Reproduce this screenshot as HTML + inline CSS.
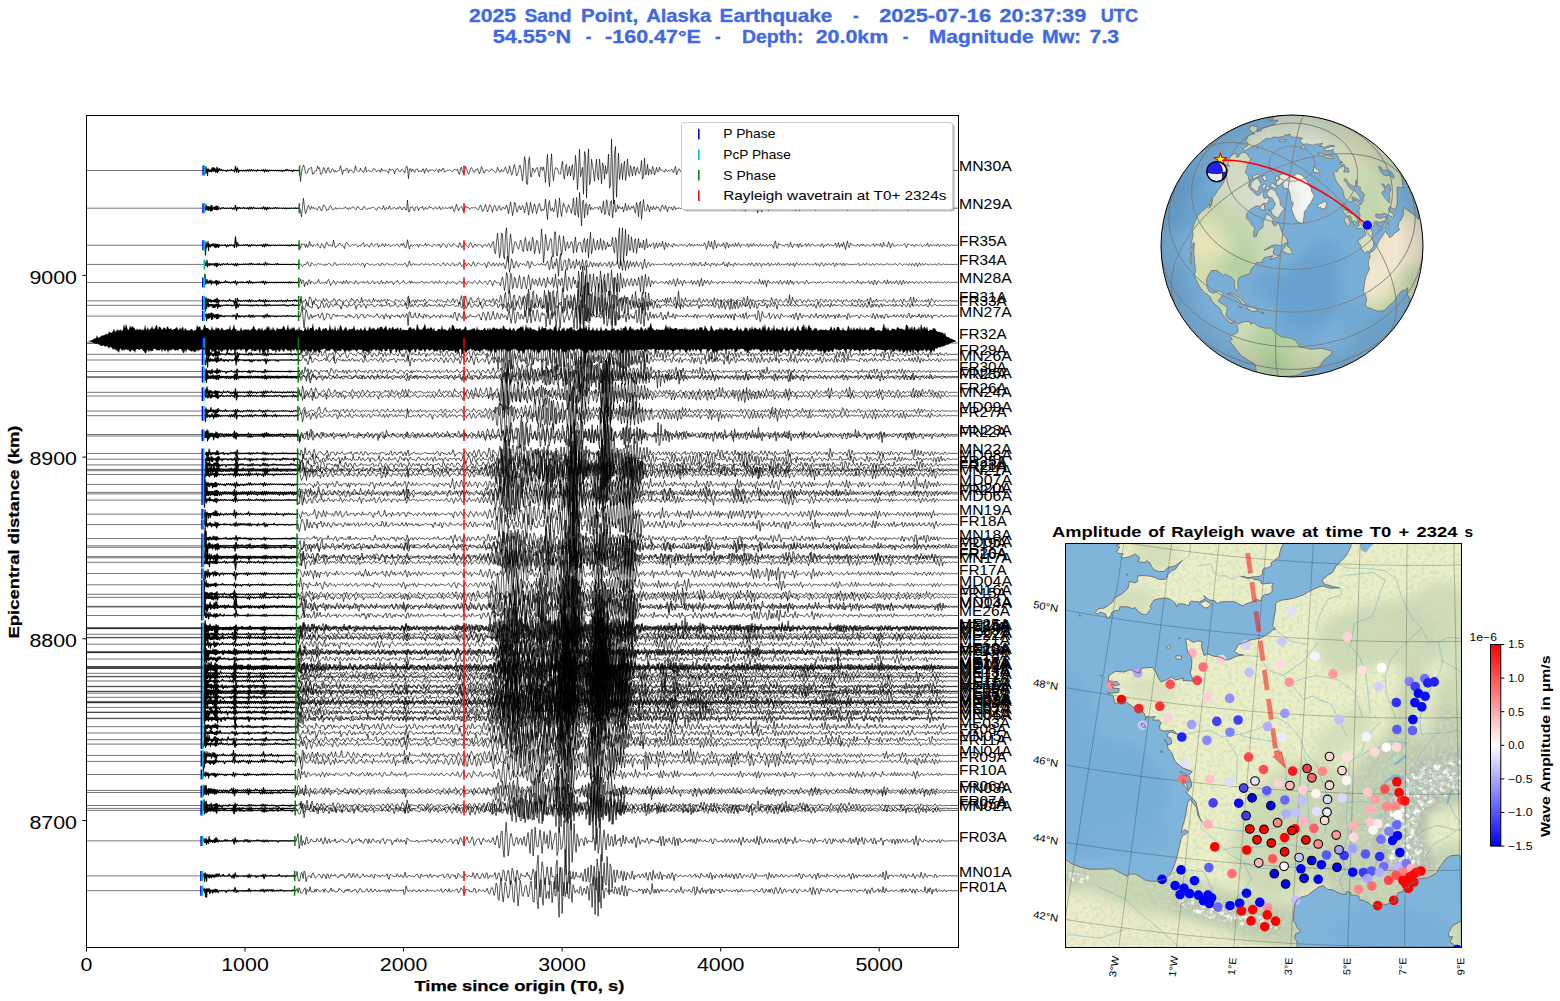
<!DOCTYPE html><html><head><meta charset="utf-8"><title>Record section</title><style>html,body{margin:0;padding:0;background:#fff}svg{display:block;font-family:"Liberation Sans",sans-serif}defs path{vector-effect:non-scaling-stroke}defs path.a{stroke-width:1.15px}</style></head><body><svg width="1560" height="1001" viewBox="0 0 1560 1001"><rect width="1560" height="1001" fill="#fff"/><g font-weight="bold" fill="#4169E1" stroke="#4169E1" stroke-width="0.3" font-size="17.7">
<text x="468.9" y="21.9" textLength="47.3" lengthAdjust="spacingAndGlyphs">2025</text>
<text x="524.5" y="21.9" textLength="47.1" lengthAdjust="spacingAndGlyphs">Sand</text>
<text x="581.1" y="21.9" textLength="57.0" lengthAdjust="spacingAndGlyphs">Point,</text>
<text x="646.2" y="21.9" textLength="65.0" lengthAdjust="spacingAndGlyphs">Alaska</text>
<text x="719.6" y="21.9" textLength="112.7" lengthAdjust="spacingAndGlyphs">Earthquake</text>
<text x="853.0" y="21.9" textLength="5.6" lengthAdjust="spacingAndGlyphs">-</text>
<text x="879.2" y="21.9" textLength="111.9" lengthAdjust="spacingAndGlyphs">2025-07-16</text>
<text x="999.6" y="21.9" textLength="86.6" lengthAdjust="spacingAndGlyphs">20:37:39</text>
<text x="1100.7" y="21.9" textLength="37.4" lengthAdjust="spacingAndGlyphs">UTC</text>
<text x="492.7" y="42.9" textLength="78.5" lengthAdjust="spacingAndGlyphs">54.55°N</text>
<text x="585.7" y="42.9" textLength="5.6" lengthAdjust="spacingAndGlyphs">-</text>
<text x="605.1" y="42.9" textLength="95.8" lengthAdjust="spacingAndGlyphs">-160.47°E</text>
<text x="714.9" y="42.9" textLength="5.6" lengthAdjust="spacingAndGlyphs">-</text>
<text x="741.9" y="42.9" textLength="61.6" lengthAdjust="spacingAndGlyphs">Depth:</text>
<text x="815.7" y="42.9" textLength="72.5" lengthAdjust="spacingAndGlyphs">20.0km</text>
<text x="902.7" y="42.9" textLength="5.7" lengthAdjust="spacingAndGlyphs">-</text>
<text x="928.8" y="42.9" textLength="104.8" lengthAdjust="spacingAndGlyphs">Magnitude</text>
<text x="1041.9" y="42.9" textLength="39.2" lengthAdjust="spacingAndGlyphs">Mw:</text>
<text x="1089.6" y="42.9" textLength="29.6" lengthAdjust="spacingAndGlyphs">7.3</text>
</g>
<defs><clipPath id="axc"><rect x="86.5" y="115.5" width="872" height="832"/></clipPath></defs>
<g clip-path="url(#axc)">
<defs><g id="w0"><path class="a" d="M118 0l.5 0 .5 10 .5-24 .5 21 .5-10 .5 22 .5-26 .5 10 .5-6 .5 7 .5-6 .5 5 .5-5 .5 7 .5-14 .5 11 .5-13 .5 14 .5-13 .5 12 .5-9 .5 13 .5-9 .5 8 .5-18 .5 21 .5-14 .5 9 1-10 1 8 1-5 1 5 1-2 1 2 1-2 1 4 1-5 1 3 1-2 1 2 1-5 1 5 1-2 1 6 1-21 1 23 1-17 1 17 1-8 1 2 1-2 1 3 1-3 1 3 1-3 1 3 1-4 1 4 1-5 1 5 1-6 1 6 1-4 1 3 1-2 1 4 1-6 1 4 1-2 1 2 1-3 1 3 1-4 1 9 1-10 1 7 1-5 1 6 1-6 1 3 1-2 1 2 1-2 1 2 1-2 1 2 1-2 1 3 1-3 1 3 1-3 1 4 1-3 1 2 1-5 1 4 1-5 1 5 1-2 1 2 1-2 1 6 1-7 1 3 1-2 1 2 1-2 1 2 1-2"/><path d="M213 -1l1 43 1-37 1-14 1-12 1 9 1 22 1 1 1-3 1-15 1 1 1-3 1-4 1 27 1-1 1-10 1-1 1 0 1-19 1 10 1-4 1 24 1 2 1-9 1-18 1 5 1 16 1-1 1-17 1-2 1 17 1 2 1-8 1-7 1 5 1 9 1-8 1 6 1-3 1-2 1-2 1-16 1 16 1 17 1-17 1 1 1 2 1-11 1 5 1 14 1-11 1 0 1 1 1 7 1 3 1-8 1-19 1 17 1 3 1 3 1-2 1-12 1 7 1 6 1 4 1-10 1-12 1 18 1-1 1-4 1 3 1 1 1 2 1-4 1-9 1 3 1 2 1 8 1-2 1-5 1 1 1 8 1-15 1 9 1-2 1-1 1 5 1-3 1 4 1 7 1-18 1 5 1 0 1-2 1 3 1 14 1-13 1-6 1-2 1 8 1 5 1 0 1-9 1 0 1 5 1 9 1-13 1-14 1 7 1 41 1-37 1-1 1 12 1-11 1 4 1 10 1-9 1-5 1 0 1 12 1-4 1-1 1 4 1-11 1 0 1 17 1-13 1-6 1 11 1 3 1-9 1 5 1-5 1 1 1 2 1 4 1-6 1-3 1 3 1 10 1-14 1 7 1 2 1-10 1-2 1 15 1-1 1-4 1-2 1 1 1-3 1 3 1 3 1 2 1-6 1-3 1 0 1 3 1-5 1 16 1 5 1-21 1-7 1 20 1 4 1-11 1-15 1 8 1 11 1 10 1-5 1-17 1-3 1 7 1 10 1 1 1-10 1 1 1-6 1 12 1 9 1-13 1-15 1 9 1 15 1 1 1-12 1 0 1 0 1 5 1 0 1-3 1-7 1 5 1 2 1 3 1 6 1-4 1-17 1 8 1 10 1 0 1-10 1 7 1 1 1-10 1-7 1 12 1 12 1-6 1-23 1 15 1 21 1-5 1-27 1-9 1 20 1 24 1-6 1-15 1-19 1 1 1 28 1 29 1-35 1-57 1 21 1 82 1 3 1-86 1-18 1 74 1 1 1-34 1 4 1 14 1-10 1-8 1-1 1 26 1 9 1-35 1-2 1 13 1-14 1 23 1 37 1-62 1-45 1 81 1 41 1-73 1-52 1 71 1 32 1-36 1-14 1 2 1 2 1 17 1 2 1 2 1-30 1-19 1 54 1 14 1-48 1-9 1 44 1-18 1-18 1 37 1-28 1-15 1 58 1-19 1-75 1 48 1 83 1-67 1-87 1 105 1-21 1-15 1 102 1-162 1 13 1 164 1-114 1-73 1 136 1-14 1-83 1 25 1 21 1 38 1-49 1-35 1 66 1 13 1-79 1 37 1 57 1-80 1 11 1 51 1-51 1 31 1-16 1-59 1 129 1-9 1-178 1 119 1 129 1-195 1-24 1 193 1-89 1-79 1 100 1-27 1-34 1 62 1-48 1-23 1 74 1-25 1-57 1 57 1 10 1-42 1 18 1 22 1-34 1-1 1 33 1-23 1-8 1 21 1 3 1-14 1-36 1 71 1-11 1-69 1 64 1-6 1-34 1 41 1-23 1 3 1 16 1-29 1 8 1 24 1-12 1-17 1 18 1-2 1-17 1 11 1 2 1-1 1 3 1 5 1-12 1 3 1 7 1-5 1 1 1 0 1-6 1 5 1 9 1-16 1-8 1 32 1-11 1-11 1-1 1 10 1-2 1-12 1 15 1 2 1-9 1 5 1-11 1 5 1 16 1-18 1 0 1 10 1-6 1 2 1-2 1 9 1-6 1-17 1 17 1-1 1-8 1 13 1-5 1-3 1 2 1 6 1-10 1 2 1 6 1-6 1 0 1 11 1-17 1-1 1 14 1 2 1 0 1-22 1 7 1 33 1-37 1 9 1 19 1-34 1 15 1 2 1 19 1-27 1-10 1 50 1-47 1 10 1 21 1-31 1 16 1 21 1-36 1 8 1 21 1-20 1 1 1 15 1-11 1-1 1 1 1-4 1 11 1 1 1-23 1 13 1 18 1-18 1-7 1 24 1-7 1-23 1 11 1 16 1-10 1-4 1 1 1 1 1-2 1 15 1-10 1-16 1 19 1-6 1-6 1 18 1-10 1-7 1 1 1 18 1-10 1-21 1 23 1 2 1-7 1-3 1 2 1 8 1-9 1-2 1 7 1 0 1-8 1 7 1 1 1-6 1-1 1 7 1-1 1-7 1 7 1 5 1-13 1 4 1 1 1 0 1 3 1 0 1-3 1 3 1 1 1-11 1 8 1 4 1-6 1 10 1-10 1-4 1 13 1-8 1-13 1 19 1 8 1-18 1-5 1 17 1-1 1-11 1 0 1 7 1 0 1-5 1 9 1-8 1-7 1 20 1-15 1 2 1 8 1-8 1 4 1-5 1 3 1 3 1-2 1-1 1-6 1 6 1 5 1-2 1-7 1 3 1 1 1 3 1-7 1 2 1 14 1-15 1 0 1 5 1-9 1 8 1 7 1-9 1-7 1 12 1 4 1-17 1 4 1 16 1-11 1-11 1 12 1 15 1-22 1-5 1 17 1-14 1 14 1 0 1-12 1 12 1-5 1-11 1 12 1 6 1-16 1 12 1 1 1-9 1 3 1 2 1-5 1 7 1-1 1-3 1-1 1 8 1-11 1 0 1 12 1-10 1 2 1 2 1 1 1-1 1-9 1 11 1 2 1-5 1-7 1 3 1 14 1-5 1-15 1 12 1 4 1-11 1 3 1 5 1-5 1 7 1-7 1-3 1 6 1 4 1-6 1-2 1 4 1-1 1 5 1-9 1-4 1 12 1 0 1-7 1 0 1 2 1 4 1 4 1-7 1-3 1 2 1 2 1 1 1-1 1-3 1 3 1-4 1 2 1 5 1-6 1 0 1 4 1-2 1 0 1 0 1 0 1 0 1 0 1 0 1 0 1 0 1 0"/></g><g id="w1"><path class="a" d="M118 0l.5 0 .5 10 .5-27 .5 23 .5-14 .5 16 .5-16 .5 18 .5-17 .5 14 .5-10 .5 16 .5-26 .5 24 .5-22 .5 20 .5-10 .5 4 .5-9 .5 12 .5-10 .5 9 .5-15 .5 17 .5-17 .5 17 .5-14 .5 11 1-6 1 6 1-6 1 3 1-4 1 5 1-3 1 2 1-2 1 2 1-2 1 2 1-3 1 6 1-5 1 5 1-17 1 24 1-15 1 6 1-6 1 5 1-2 1 2 1-5 1 5 1-2 1 2 1-3 1 7 1-10 1 8 1-7 1 8 1-8 1 5 1-2 1 2 1-2 1 2 1-2 1 2 1-3 1 5 1-10 1 12 1-9 1 12 1-12 1 7 1-6 1 5 1-3 1 3 1-4 1 3 1-4 1 4 1-3 1 3 1-2 1 1 1-1 1 2 1-2 1 2 1-3 1 5 1-4 1 2 1-2 1 2 1-2 1 1 1-1 1 3 1-4 1 3 1-2 1 2 1-4"/><path d="M213 -3l1 17 1 26 1-48 1-38 1 45 1 26 1-12 1-17 1-9 1 13 1 7 1-16 1 10 1-5 1 8 1-4 1 4 1 4 1-12 1-4 1 11 1 10 1-10 1-19 1 5 1 6 1 16 1-4 1 0 1-14 1-5 1 9 1 10 1-1 1-2 1-7 1 8 1-6 1 3 1-2 1 0 1 3 1-1 1-2 1 0 1-7 1 8 1 0 1 6 1-10 1 6 1-3 1-6 1 0 1 7 1 6 1-2 1-14 1 3 1 7 1 6 1-2 1 1 1-12 1-2 1 8 1 5 1 0 1-6 1 1 1 3 1-6 1 0 1-1 1 4 1 3 1 7 1-10 1-6 1 1 1 7 1 2 1-1 1-15 1 16 1 5 1-13 1 5 1 1 1-13 1 14 1 1 1-4 1-1 1-2 1 5 1 4 1-9 1 6 1-10 1 2 1 11 1 1 1-11 1 0 1 11 1 2 1-46 1 53 1 0 1-22 1 3 1-4 1 12 1 8 1-18 1-2 1 1 1 17 1-11 1-3 1 2 1-8 1 16 1-2 1-10 1 10 1-3 1-2 1-9 1 7 1-2 1 7 1 2 1-7 1-4 1 8 1 0 1-2 1-8 1 14 1-1 1-8 1 2 1 4 1-6 1 3 1 1 1-3 1-3 1 9 1-11 1 0 1 19 1 4 1-21 1-13 1 16 1 14 1-12 1-4 1-5 1 12 1 12 1-12 1-14 1 9 1-2 1 1 1 9 1-3 1-6 1 2 1-1 1 0 1-2 1 7 1 2 1 2 1-12 1-10 1 13 1 17 1-6 1-13 1-13 1 18 1 16 1-10 1-22 1 2 1 15 1 17 1-20 1-12 1 6 1 20 1-6 1-16 1-2 1 19 1 1 1-13 1-1 1 9 1-3 1-16 1 15 1 26 1-29 1-25 1 24 1 38 1-22 1-40 1 9 1 34 1 1 1-22 1-6 1 20 1-6 1-14 1 9 1 25 1-20 1-29 1 17 1 41 1-25 1-33 1 29 1 21 1-25 1-18 1 16 1 29 1-14 1-27 1-6 1 25 1 11 1-11 1 7 1-8 1-44 1 51 1 43 1-67 1-20 1 44 1 2 1-13 1 20 1-14 1-44 1 33 1 49 1-38 1-51 1 54 1 31 1-36 1-27 1 15 1 10 1 21 1-19 1-18 1 13 1 9 1 18 1-31 1-40 1 77 1 2 1-82 1 67 1 25 1-114 1 68 1 86 1-114 1-5 1 82 1-61 1-6 1 54 1-36 1-15 1 28 1-13 1 8 1 2 1-10 1 3 1-1 1-1 1 9 1-14 1 2 1 28 1-25 1-29 1 61 1-3 1-65 1 18 1 49 1 6 1-65 1-3 1 79 1-37 1-46 1 56 1-4 1-30 1 19 1-11 1 9 1 3 1-11 1 25 1-16 1-25 1 33 1-2 1-21 1 18 1 1 1-14 1 8 1-11 1 22 1 12 1-49 1 15 1 50 1-60 1-10 1 82 1-49 1-42 1 48 1 5 1-3 1-27 1 11 1 23 1-24 1 3 1 12 1-17 1 13 1 3 1-15 1 7 1-2 1 11 1 7 1-22 1-8 1 15 1 5 1-17 1 14 1 15 1-20 1-2 1 6 1-6 1 15 1-12 1-8 1 17 1-7 1 0 1 1 1-3 1 5 1-5 1-1 1 5 1-2 1-4 1 12 1-6 1-6 1 5 1-3 1 0 1 5 1-9 1 14 1-5 1-12 1 15 1-6 1-5 1 7 1-2 1 2 1-3 1 4 1-6 1 0 1 0 1 9 1-1 1-15 1 16 1 0 1-12 1 4 1 1 1 6 1-12 1 11 1-1 1-11 1 11 1 0 1-8 1 1 1 12 1-5 1-11 1 11 1 3 1-15 1 16 1-4 1-19 1 26 1-9 1-1 1-3 1 3 1 6 1-12 1 2 1 14 1-20 1 12 1 12 1-24 1 5 1 9 1-6 1 4 1 0 1-1 1 0 1 6 1-20 1 0 1 35 1-11 1-33 1 9 1 31 1-10 1-12 1 0 1-1 1 3 1 6 1 9 1-24 1 5 1 8 1 5 1-4 1-13 1 10 1 6 1-2 1-12 1-2 1 19 1-5 1-5 1-1 1 3 1 1 1-4 1-3 1 6 1 2 1-9 1 11 1 3 1-20 1 12 1 13 1-15 1-14 1 19 1 9 1-16 1-4 1 12 1-1 1-5 1 2 1 1 1 1 1-8 1-2 1 15 1-3 1-2 1-9 1 6 1 12 1-15 1-4 1 12 1-4 1 5 1-9 1-1 1 11 1-3 1-12 1 8 1 9 1-12 1 1 1 7 1-7 1 6 1 1 1-14 1 15 1-3 1-8 1 15 1-12 1-1 1 4 1 2 1-5 1 7 1-6 1-11 1 24 1-5 1-12 1 6 1-1 1 2 1-1 1 0 1 2 1 1 1-3 1-9 1 7 1 8 1-4 1-2 1-1 1-4 1 6 1 3 1-6 1 1 1 4 1-5 1-6 1 18 1-8 1-13 1 15 1 5 1-16 1 6 1 5 1-11 1 12 1-8 1-7 1 13 1 5 1-3 1-12 1 7 1-2 1 2 1 1 1-2 1 7 1-9 1-1 1 9 1-2 1-6 1 2 1 7 1-9 1-3 1 12 1-4 1-7 1-2 1 14 1 5 1-18 1-2 1 13 1-9 1 7 1 0 1-7 1 3 1-2 1 12 1-13 1-3 1 12 1-9 1 8 1 1 1-12 1 5 1 8 1-9 1 2 1 5 1-13 1 9 1 3 1-2 1 3 1-3 1-3 1-2 1 2 1 7 1-2 1-5 1-2 1 6 1-1 1-3 1 2 1 1 1-1 1 1 1-2 1 1 1 0 1 0 1 0 1 0 1 0 1 0"/></g><g id="w2"><path class="a" d="M118 0l.5 0 .5 43 .5-57 .5 26 .5-15 .5 7 .5-20 .5 39 .5-29 .5 10 .5-6 .5 10 .5-10 .5 4 .5-6 .5 6 .5-9 .5 10 .5-5 .5 10 .5-14 .5 16 .5-14 .5 13 .5-13 .5 11 .5-12 .5 15 1-12 1 4 1-3 1 2 1-2 1 2 1-4 1 11 1-9 1 5 1-6 1 4 1-4 1 4 1-3 1 11 1-47 1 45 1-19 1 14 1-4 1 2 1-2 1 2 1-3 1 3 1-3 1 3 1-4 1 8 1-7 1 7 1-8 1 4 1-2 1 2 1-2 1 3 1-3 1 2 1-2 1 2 1-3 1 8 1-10 1 11 1-13 1 9 1-7 1 6 1-3 1 4 1-4 1 1 1-1 1 3 1-3 1 2 1-2 1 2 1-2 1 2 1-2 1 2 1-2 1 2 1-2 1 3 1-3 1 3 1-3 1 4 1-6 1 4 1-2 1 3 1-4 1 3 1-2 1 3 1-4"/><path d="M213 -2l1 17 1-21 1 1 1 1 1-1 1 15 1-15 1 15 1-6 1-21 1 19 1-4 1 9 1-8 1-1 1 5 1-4 1-6 1 11 1 4 1 3 1-17 1 3 1 7 1 10 1-14 1-14 1 6 1 11 1-1 1-5 1 7 1 2 1-29 1 24 1 10 1-7 1-2 1-2 1-10 1 6 1 7 1-3 1 5 1 10 1-21 1-7 1 5 1 8 1 4 1 1 1-4 1-4 1 3 1-1 1-4 1 7 1 5 1-2 1-6 1 6 1-9 1-1 1-6 1 18 1-6 1-2 1-2 1 9 1 3 1-11 1-8 1 9 1 6 1-4 1-6 1 0 1-1 1 15 1-9 1 4 1-1 1-11 1 10 1 5 1-14 1 8 1 1 1-5 1 1 1 8 1-3 1-3 1-3 1 5 1-2 1-3 1-3 1 9 1 4 1-8 1-7 1 11 1-12 1 12 1 10 1-11 1-26 1 24 1 17 1-18 1-1 1 8 1-4 1-5 1 4 1-3 1-1 1 12 1-12 1-1 1 6 1-1 1 3 1-4 1-9 1 13 1-5 1-4 1 6 1 1 1 2 1 2 1-8 1-3 1 5 1 3 1-6 1 3 1-5 1 15 1-4 1-12 1-1 1 4 1 9 1 5 1-14 1-5 1 4 1 9 1-1 1-1 1-11 1 4 1 4 1 2 1 6 1 1 1-21 1 4 1 18 1-2 1-11 1-3 1 0 1 7 1 5 1 4 1-14 1-8 1 7 1 15 1-2 1-12 1-1 1 10 1-7 1 1 1-2 1 1 1 2 1 10 1-8 1-3 1-1 1 7 1-3 1-10 1 4 1 14 1-8 1-15 1-4 1 45 1 10 1-51 1-40 1 47 1 62 1-21 1-89 1 6 1 97 1 12 1-108 1-30 1 99 1 55 1-79 1-48 1 35 1 51 1-18 1-32 1-2 1 10 1 15 1 9 1-16 1-25 1 6 1 41 1 5 1-46 1-17 1 45 1 15 1-38 1-5 1 42 1-13 1-48 1 20 1 54 1-21 1-39 1 4 1 28 1 27 1-32 1-77 1 47 1 103 1-45 1-81 1 31 1 41 1-10 1-26 1-18 1 6 1 76 1-1 1-109 1-1 1 105 1 1 1-69 1-21 1 42 1 45 1-28 1-57 1 32 1 33 1-28 1-11 1 28 1-2 1-18 1-10 1 16 1 36 1-48 1-23 1 67 1-23 1-18 1-2 1 0 1 26 1 18 1-50 1-13 1 62 1-40 1-19 1 84 1-66 1-47 1 94 1-20 1-46 1 31 1 20 1-25 1-19 1 42 1-6 1-44 1 34 1 18 1-42 1 7 1 32 1-10 1-22 1 20 1-10 1 10 1-8 1-34 1 51 1 19 1-69 1 13 1 101 1-108 1-49 1 168 1-100 1-68 1 146 1-57 1-82 1 118 1-29 1-66 1 70 1-1 1-59 1 42 1 27 1-52 1-9 1 65 1-32 1-34 1 42 1-23 1 21 1-1 1-32 1 44 1-16 1-33 1 40 1-7 1-9 1 11 1-10 1-3 1-4 1 25 1-15 1-10 1 21 1-8 1-13 1 15 1-1 1-22 1 23 1 14 1-31 1 11 1 10 1-17 1 6 1 4 1-1 1 8 1-16 1 1 1 9 1-5 1 7 1-2 1-5 1 1 1-3 1 7 1-3 1-4 1 3 1 6 1 0 1-9 1-3 1 12 1-10 1 6 1 4 1-9 1 5 1-1 1-5 1 8 1-4 1 5 1-7 1 5 1-1 1-12 1 7 1 22 1-12 1-25 1 21 1 6 1-24 1 29 1 5 1-40 1 14 1 20 1-14 1-5 1 10 1 3 1-9 1 7 1-15 1 12 1 14 1-28 1 3 1 21 1-14 1 3 1 5 1-11 1 8 1 4 1-16 1 14 1 0 1-15 1 11 1 9 1-11 1 0 1 1 1 0 1 4 1-3 1-7 1 16 1-6 1-10 1 11 1 0 1-12 1 9 1 2 1-7 1 5 1 5 1-6 1-7 1 10 1-1 1-5 1 7 1-3 1-4 1 8 1-5 1-3 1 5 1-5 1 5 1 12 1-23 1-10 1 31 1 2 1-22 1 6 1-2 1 2 1 5 1-2 1 4 1-8 1 0 1-2 1 14 1-4 1-19 1 17 1 8 1-13 1-2 1 3 1 3 1-8 1 17 1-16 1-1 1 14 1-7 1 1 1-5 1-4 1 14 1-8 1-7 1 11 1 2 1-9 1-2 1 6 1 2 1 1 1-3 1 0 1-2 1 2 1 6 1-12 1 0 1 16 1-9 1-3 1 5 1-9 1 2 1 7 1-4 1-1 1 5 1 0 1-6 1-7 1 19 1-7 1-13 1 21 1-11 1-5 1 14 1-21 1 15 1 17 1-22 1-16 1 27 1 3 1-21 1 5 1 7 1-2 1 0 1 3 1 0 1-7 1 1 1 9 1-5 1-6 1 9 1-9 1 6 1 4 1-7 1 1 1 1 1 2 1 2 1-4 1-1 1-6 1 12 1-2 1-9 1 6 1-1 1 4 1-11 1 15 1 1 1-20 1 14 1-3 1 6 1 1 1-21 1 11 1 17 1-16 1-6 1 13 1 0 1-1 1-1 1-6 1 4 1 3 1-4 1 3 1-2 1-4 1-3 1 10 1 8 1-15 1-1 1 2 1 3 1 2 1-6 1 7 1 4 1-10 1 1 1 0 1 5 1-4 1-3 1 4 1 7 1-5 1-5 1 5 1-1 1-11 1 15 1 0 1-9 1 5 1 1 1-3 1 1 1 0 1 4 1-10 1 7 1 5 1-9 1 4 1-1 1-5 1 7 1 4 1-7 1-3 1 5 1 0 1-1 1-1 1 1 1 0 1 0 1 0 1 0 1 0 1 0"/></g><g id="w3"><path class="a" d="M118 0l.5-19 .5 27 .5-14 .5 12 .5-34 .5 44 .5-20 .5 7 .5-8 .5 11 .5-11 .5 9 .5-6 .5 5 .5-7 .5 6 .5-6 .5 5 .5-4 .5 13 .5-15 .5 10 .5-14 .5 24 .5-21 .5 17 .5-16 .5 9 1-7 1 10 1-10 1 5 1-8 1 8 1-4 1 3 1-7 1 8 1-3 1 2 1-4 1 4 1-3 1 10 1-14 1 17 1-17 1 9 1-4 1 2 1-2 1 2 1-4 1 4 1-4 1 4 1-3 1 4 1-9 1 9 1-10 1 10 1-5 1 4 1-2 1 2 1-5 1 6 1-6 1 5 1-2 1 3 1-6 1 9 1-20 1 19 1-9 1 6 1-3 1 3 1-2 1 2 1-2 1 2 1-4 1 4 1-7 1 7 1-2 1 2 1-2 1 2 1-2 1 2 1-2 1 2 1-2 1 2 1-2 1 3 1-3 1 2 1-3 1 3 1-2 1 3 1-3 1 1 1-3"/><path d="M213 -3l1 0 1 7 1 11 1-8 1-10 1 8 1-14 1-9 1 18 1 12 1-1 1-22 1 5 1 7 1 6 1-5 1 0 1-5 1-3 1 5 1 0 1-2 1 5 1 1 1 5 1-12 1 10 1-7 1-6 1 2 1 7 1 3 1 6 1-8 1-17 1 6 1 14 1-2 1-1 1-4 1 2 1-5 1 7 1-8 1 6 1-1 1-5 1 4 1 5 1-9 1 5 1 7 1-3 1-9 1 6 1-4 1 5 1-6 1-1 1 7 1 4 1-5 1-11 1 6 1 24 1-22 1-3 1-1 1 3 1 5 1 1 1-2 1-3 1 6 1 2 1-4 1-2 1-6 1 6 1 2 1 8 1-16 1-3 1 12 1 2 1-3 1-6 1-3 1 9 1-3 1 5 1-4 1 4 1 2 1-8 1-8 1 9 1 6 1-5 1-1 1 3 1-3 1 5 1-3 1-8 1 1 1 17 1 6 1-22 1-19 1 29 1 3 1-10 1-6 1 12 1-5 1 0 1 3 1 3 1-3 1 0 1-9 1 5 1 5 1 1 1-9 1 6 1-3 1-2 1 10 1-2 1-4 1-5 1-1 1 12 1-1 1-2 1-9 1 0 1 7 1 9 1-6 1-6 1-10 1 14 1 7 1-13 1-5 1 11 1 5 1 0 1-11 1-6 1 3 1 17 1-7 1-5 1 10 1-8 1-15 1 13 1 14 1 1 1-12 1-7 1-1 1 17 1-11 1-8 1 8 1 12 1-1 1-16 1-13 1 23 1 9 1-5 1-17 1 0 1 5 1 4 1 5 1-2 1-7 1-5 1 13 1 19 1-27 1-13 1 13 1 4 1 10 1-12 1-10 1 24 1-12 1-8 1 14 1 6 1-22 1 6 1 11 1-13 1-4 1 27 1 12 1-40 1-45 1 52 1 57 1-35 1-56 1 18 1 44 1 0 1-36 1-10 1 26 1 15 1-19 1-9 1 5 1 7 1-9 1 9 1 6 1-2 1-30 1 8 1 41 1-10 1-35 1 7 1 17 1 3 1-2 1-5 1-7 1 7 1 2 1-2 1-10 1 14 1-5 1-2 1 11 1-14 1-16 1 28 1 29 1-43 1-44 1 76 1 3 1-41 1 22 1-48 1 34 1 84 1-107 1-43 1 113 1-3 1-46 1-19 1-1 1 63 1 0 1-75 1 6 1 58 1-2 1-38 1-7 1 51 1-13 1-50 1 39 1-6 1-20 1 55 1-28 1-40 1 41 1 31 1-55 1-11 1 38 1 8 1-14 1-22 1 16 1 20 1-29 1 3 1 20 1-18 1 1 1 23 1-26 1-4 1 21 1 2 1-13 1-8 1 1 1 19 1 2 1-26 1-3 1 38 1-11 1-28 1 24 1 1 1-8 1 0 1-24 1 39 1 15 1-60 1 28 1 42 1-73 1 17 1 58 1-51 1-16 1 53 1-26 1-21 1 33 1-15 1-14 1 33 1-12 1-25 1 21 1 13 1-14 1-13 1 5 1 41 1-27 1-41 1 41 1 16 1-29 1-8 1 15 1 13 1-16 1-4 1 12 1-1 1-6 1 3 1 0 1-3 1 2 1 3 1-2 1-1 1-1 1-7 1 12 1-1 1-5 1 5 1 3 1-15 1 1 1 21 1-10 1-3 1-6 1 11 1-6 1-9 1 20 1-8 1-12 1 11 1-1 1 5 1-3 1-4 1 4 1 1 1-9 1-3 1 21 1-9 1-16 1 21 1-14 1 1 1 15 1-2 1-17 1-7 1 25 1-4 1-4 1 10 1-27 1 16 1 3 1-9 1 9 1 11 1-21 1-1 1 13 1-12 1 6 1 12 1-17 1 5 1 7 1-8 1 2 1-1 1-16 1 26 1 1 1-15 1 22 1-33 1 8 1 15 1-10 1 10 1 6 1-21 1-2 1 16 1-6 1-4 1 1 1 8 1-7 1 8 1-10 1 1 1 4 1 2 1 5 1-14 1 1 1 13 1-18 1 4 1 14 1 3 1-14 1-8 1 20 1-8 1-11 1 9 1 15 1-15 1-7 1 13 1-3 1 3 1-13 1-2 1 22 1-10 1-9 1 12 1-3 1-2 1-6 1 12 1-2 1-16 1 14 1 6 1-10 1 0 1 4 1-1 1-2 1 5 1-13 1 7 1 12 1-16 1 7 1 4 1-14 1 24 1-10 1-17 1 7 1 9 1 0 1-10 1 7 1 5 1-8 1-2 1 9 1-1 1-13 1 8 1 5 1-3 1-4 1 5 1 2 1-7 1-7 1 17 1-12 1 3 1 15 1-16 1-9 1 10 1 12 1-4 1-14 1 9 1 3 1-8 1-1 1 11 1-3 1-9 1-3 1 24 1-6 1-19 1 14 1-6 1-1 1-4 1 12 1 1 1-16 1 17 1-1 1-12 1 4 1 4 1-3 1 3 1-2 1 0 1 0 1 2 1-4 1 2 1-3 1-5 1 15 1-3 1-1 1-3 1-6 1 10 1 0 1-12 1 5 1 6 1-6 1 9 1-1 1-11 1 4 1 10 1-9 1-4 1 2 1 3 1 4 1-8 1 2 1 8 1-6 1 2 1-1 1-5 1 1 1 5 1-5 1 4 1 4 1-6 1 1 1-2 1-3 1 8 1 4 1-6 1-8 1 4 1 6 1 4 1-9 1-1 1 5 1-5 1 2 1 9 1-13 1 2 1 11 1-15 1 6 1 11 1-16 1-1 1 22 1-15 1-12 1 19 1-5 1-8 1 11 1-4 1-5 1 3 1-2 1 9 1-5 1-5 1 5 1 2 1-2 1-3 1-1 1 9 1-4 1-10 1 4 1 9 1-2 1-4 1-2 1 3 1 2 1-4 1 2 1 1 1-1 1 0 1 0 1 1 1-1 1 0 1 0 1 0 1 0 1 0"/></g><g id="w4"><path class="a" d="M118 0l.5-42 .5 51 .5-15 .5 10 .5-19 .5 18 .5-6 .5 7 .5-11 .5 9 .5-14 .5 15 .5-10 .5 17 .5-18 .5 10 .5-3 .5 3 .5-6 .5 7 .5-8 .5 9 .5-14 .5 24 .5-22 .5 14 .5-13 .5 15 1-12 1 8 1-5 1 2 1-2 1 2 1-9 1 9 1-4 1 4 1-2 1 5 1-5 1 2 1-5 1 7 1-11 1 20 1-15 1 5 1-3 1 2 1-4 1 4 1-2 1 2 1-2 1 2 1-6 1 11 1-15 1 12 1-6 1 7 1-5 1 4 1-4 1 2 1-3 1 3 1-2 1 2 1-6 1 7 1-9 1 17 1-15 1 9 1-5 1 3 1-4 1 4 1-3 1 2 1-2 1 2 1-1 1 1 1-2 1 2 1-2 1 2 1-2 1 2 1-2 1 2 1-2 1 2 1-2 1 4 1-7 1 7 1-4 1 2 1-2 1 2 1-2 1 2 1-2 1 5 1-5"/><path d="M213 -1l1-15 1 24 1-19 1 2 1 31 1-20 1-4 1 15 1-24 1-2 1 21 1-13 1 2 1 5 1 7 1-8 1 3 1-6 1-13 1 16 1 6 1-8 1 3 1 0 1 2 1-7 1 10 1-14 1-8 1 11 1 20 1-9 1-3 1-14 1 5 1 15 1-5 1-9 1 2 1 4 1-5 1 1 1 10 1-16 1 10 1 3 1-16 1 11 1 8 1-12 1 2 1 0 1 4 1 2 1 4 1-17 1 4 1 10 1 3 1-8 1-2 1 1 1 3 1-7 1 9 1-1 1-5 1-6 1 13 1 0 1-1 1-3 1-9 1 5 1 11 1-8 1-1 1-4 1 9 1 5 1-13 1-6 1 16 1-8 1 5 1 5 1-15 1 2 1 10 1-8 1 3 1-7 1 9 1 9 1-10 1-4 1 0 1-7 1 12 1 5 1-2 1-4 1-2 1-9 1 10 1 4 1 2 1-4 1-5 1-4 1 12 1-13 1 11 1-2 1-3 1 5 1 1 1-6 1 7 1-5 1 0 1-5 1 0 1 7 1 3 1-9 1 5 1-2 1 4 1-1 1-3 1-5 1 1 1 10 1 0 1-11 1 7 1 1 1 3 1-14 1 7 1 5 1-3 1-4 1 4 1 7 1 2 1-16 1 4 1 5 1 3 1-7 1-2 1 3 1 0 1 3 1 8 1-8 1-5 1-2 1 0 1 9 1 0 1-12 1 3 1 11 1 5 1-14 1-2 1 4 1 1 1 2 1 4 1-9 1-6 1 6 1 8 1 3 1-4 1-14 1 6 1 7 1 4 1-5 1-7 1-2 1 9 1 9 1-9 1-13 1 2 1 9 1 18 1-15 1-13 1 3 1 10 1 0 1-4 1 6 1 12 1-28 1-16 1 27 1 42 1-29 1-62 1 15 1 89 1-8 1-93 1 8 1 70 1-13 1-45 1 9 1 41 1 3 1-38 1-24 1 37 1 31 1-19 1-41 1 3 1 43 1 13 1-37 1-33 1 24 1 51 1-31 1-25 1 25 1 6 1-27 1 5 1 27 1-10 1-30 1 23 1 19 1-14 1-26 1 4 1 43 1-10 1-42 1 29 1-4 1 13 1-11 1-25 1 49 1-17 1-50 1 53 1 23 1-51 1 10 1 23 1-38 1 10 1 59 1-54 1-56 1 91 1 13 1-68 1 6 1 36 1 15 1-39 1-19 1 36 1-19 1 36 1 2 1-83 1 33 1 93 1-37 1-114 1 40 1 137 1-83 1-97 1 101 1 47 1-103 1 0 1 86 1-40 1-50 1 55 1 20 1-59 1 1 1 73 1-33 1-71 1 57 1 53 1-70 1-24 1 65 1 24 1-93 1 1 1 111 1-44 1-85 1 60 1 52 1-70 1-4 1 71 1-92 1 47 1 45 1-93 1 45 1 30 1-48 1 19 1 22 1-31 1-9 1 26 1 8 1-26 1-10 1 37 1-1 1-34 1 10 1 23 1-2 1-39 1 20 1 53 1-79 1 2 1 85 1-56 1-39 1 61 1-11 1-38 1 28 1 23 1-31 1 1 1 15 1-11 1-5 1 7 1 6 1-1 1-3 1-3 1-3 1 7 1-3 1 6 1-2 1-10 1 10 1 7 1-20 1 3 1 17 1-5 1-21 1 13 1 23 1-20 1-20 1 27 1 0 1-16 1 7 1 18 1-20 1-8 1 17 1-3 1-3 1 0 1 3 1-1 1-11 1 21 1-13 1-6 1 16 1 0 1-19 1 4 1 27 1-27 1-13 1 38 1-10 1-20 1 16 1-1 1-14 1 9 1 13 1-6 1-14 1 10 1 0 1 0 1-5 1 5 1 7 1-10 1 1 1-5 1 6 1 5 1-11 1 9 1 0 1-5 1 2 1-2 1 1 1 3 1-3 1 0 1 6 1-2 1-12 1 12 1 2 1-11 1 6 1 9 1-13 1-1 1 3 1 4 1-2 1 3 1-6 1 5 1 6 1-13 1-1 1 5 1 5 1 2 1-10 1 2 1 6 1 3 1-23 1 17 1 8 1-18 1 19 1-21 1 4 1 29 1-30 1-3 1 15 1-4 1 4 1 0 1-9 1 7 1 1 1-6 1-2 1 14 1-14 1-6 1 16 1 4 1-13 1-4 1 12 1 3 1-18 1 22 1-9 1-14 1 16 1-9 1 16 1-10 1-4 1 0 1-1 1 11 1-3 1-6 1 0 1 0 1 0 1 10 1-7 1-12 1 7 1 12 1-7 1-2 1 3 1-5 1 1 1 3 1-3 1 7 1-5 1 0 1 1 1-6 1 4 1 7 1-6 1-3 1 5 1-1 1-5 1 3 1 0 1 1 1 1 1 2 1-4 1-5 1 8 1 4 1-10 1 1 1 5 1-2 1 1 1 3 1-12 1 4 1 9 1 1 1-6 1-1 1 2 1 3 1-8 1-3 1 8 1 2 1 1 1-1 1-14 1 12 1 1 1-5 1 12 1-13 1 1 1 7 1-6 1 5 1-6 1-6 1 15 1 0 1-13 1 11 1 8 1-24 1 7 1 17 1-15 1-6 1 7 1 5 1-2 1 3 1-4 1-10 1 15 1 3 1-21 1 20 1-7 1-7 1 13 1-6 1-3 1 10 1-9 1-7 1 14 1 6 1-16 1-4 1 22 1-12 1-12 1 18 1-7 1-6 1 11 1 0 1-11 1 6 1 2 1-6 1 7 1 1 1-6 1-2 1 2 1 8 1-7 1-3 1 4 1 0 1 5 1-5 1-6 1 8 1 2 1-4 1-6 1 11 1-5 1-2 1 4 1-3 1 0 1 5 1-7 1 1 1 4 1-3 1-1 1 5 1-2 1-4 1 2 1 4 1-3 1-3 1 3 1 1 1-1 1 0 1-1 1 1 1 0 1 0 1 0 1 0"/></g><g id="w5"><path class="a" d="M118 0l.5-7 .5 43 .5-49 .5 16 .5-6 .5 8 .5-13 .5 10 .5-5 .5 5 .5-8 .5 10 .5-7 .5 7 .5-6 .5 4 .5-4 .5 5 .5-6 .5 7 .5-10 .5 10 .5-9 .5 11 .5-16 .5 15 .5-11 .5 13 1-9 1 3 1-2 1 2 1-4 1 4 1-2 1 3 1-3 1 2 1-7 1 7 1-2 1 2 1-2 1 13 1-20 1 27 1-28 1 10 1-2 1 3 1-3 1 2 1-2 1 2 1-4 1 5 1-4 1 5 1-8 1 9 1-7 1 4 1-2 1 3 1-3 1 3 1-3 1 2 1-6 1 8 1-5 1 4 1-5 1 10 1-12 1 8 1-5 1 5 1-4 1 3 1-3 1 2 1-2 1 2 1-2 1 4 1-4 1 2 1-2 1 2 1-4 1 6 1-4 1 2 1-2 1 4 1-8 1 6 1-2 1 2 1-2 1 2 1-4 1 4 1-5 1 6 1-4 1 3 1-1"/><path d="M213 0l1-7 1 12 1 3 1-9 1 2 1-7 1 11 1 14 1-9 1-24 1 1 1 12 1 15 1-15 1 6 1-13 1 3 1 7 1-2 1-3 1 2 1 5 1-2 1-11 1 11 1-1 1-9 1 6 1 8 1-1 1 0 1-5 1 3 1-10 1-1 1 9 1 10 1-12 1-1 1-5 1 8 1-1 1 3 1-3 1 3 1-4 1-4 1 7 1 4 1-3 1 0 1-13 1 7 1-1 1 10 1 1 1-12 1 0 1 8 1 2 1 1 1-18 1 18 1-6 1-4 1 0 1 5 1 3 1-8 1 0 1 9 1 2 1-4 1-13 1 12 1-5 1 1 1 6 1-8 1 8 1 1 1-10 1 6 1-2 1-5 1 9 1 7 1-17 1 6 1-2 1 2 1 2 1 3 1 0 1-1 1-8 1 3 1-1 1 4 1-2 1 6 1-4 1-6 1 4 1 2 1 6 1 10 1-25 1-10 1 23 1 3 1-8 1-2 1-1 1 9 1-8 1 8 1-11 1 4 1-1 1 6 1-7 1 2 1 3 1-9 1 5 1 11 1-6 1-3 1-6 1 4 1 0 1 2 1 2 1-4 1 3 1 5 1-12 1 2 1 4 1 2 1-6 1 3 1 6 1-3 1 1 1 4 1-13 1 4 1 5 1 3 1-2 1-11 1 0 1 15 1-10 1-3 1 2 1 14 1 0 1-19 1-11 1 25 1 11 1-16 1-19 1 12 1 19 1 1 1-13 1-14 1 3 1 16 1 0 1-5 1 1 1 2 1-14 1-3 1 16 1 12 1-14 1-3 1-6 1 9 1 5 1-9 1 2 1 3 1-7 1 11 1-1 1-12 1-1 1 19 1-7 1-11 1 6 1 7 1-5 1-21 1 7 1 43 1-6 1-42 1-13 1 42 1 26 1-36 1-39 1 24 1 38 1-4 1-39 1-3 1 35 1 6 1-15 1-7 1-15 1 10 1 20 1 2 1-16 1-17 1 12 1 40 1-28 1-47 1 22 1 59 1-3 1-64 1-8 1 64 1-7 1-44 1 19 1 23 1-22 1-10 1 7 1 34 1-22 1-44 1 30 1 49 1-30 1-49 1 23 1 49 1-14 1-52 1-5 1 68 1 21 1-76 1-16 1 53 1-3 1 6 1-9 1-52 1 32 1 50 1-22 1-34 1-1 1 34 1 11 1-46 1 9 1 43 1-38 1-16 1 21 1 33 1-27 1-75 1 110 1 46 1-188 1 83 1 137 1-163 1-46 1 165 1-20 1-119 1 50 1 69 1-76 1-7 1 83 1-63 1-40 1 109 1-53 1-68 1 99 1-6 1-107 1 114 1 24 1-135 1 51 1 77 1-47 1-43 1 34 1 27 1-32 1-16 1 28 1 21 1-47 1 5 1 34 1-21 1-4 1 10 1-17 1 28 1-8 1-26 1 25 1 3 1-23 1 11 1 15 1 1 1-22 1-14 1 45 1-6 1-50 1 34 1 22 1-30 1 1 1 29 1-32 1-21 1 65 1-23 1-43 1 52 1-2 1-46 1 25 1 18 1-21 1 3 1 5 1-2 1 6 1-9 1-4 1 11 1 0 1-6 1 6 1-10 1 6 1 5 1-14 1 19 1-21 1 17 1-2 1-17 1 17 1 4 1-3 1-16 1-3 1 38 1-16 1-43 1 37 1 28 1-39 1 4 1 15 1-11 1-10 1 13 1 2 1-7 1 1 1 0 1 7 1-2 1-8 1 10 1-6 1-1 1 9 1-14 1-4 1 17 1 2 1-9 1-5 1 9 1-1 1-8 1 1 1 13 1-3 1-9 1 1 1 12 1-12 1-8 1 21 1-5 1-12 1 10 1-2 1-5 1 8 1-2 1-6 1 0 1 2 1 9 1-9 1-3 1 8 1-2 1-2 1-1 1-2 1 9 1 5 1-13 1-3 1 5 1 0 1 0 1 1 1 7 1-19 1 3 1 30 1-17 1-21 1 29 1-9 1-10 1 11 1-7 1-1 1 7 1-3 1 0 1 4 1-7 1 2 1 0 1 0 1 9 1-14 1 7 1-1 1-4 1 7 1-4 1 3 1 3 1-17 1 9 1 13 1-6 1-10 1-1 1 10 1 4 1-10 1-2 1 6 1 3 1-1 1 0 1-8 1-2 1 14 1 1 1-30 1 36 1-6 1-22 1 13 1 1 1 10 1-14 1 7 1-5 1-3 1 0 1 7 1 6 1-9 1-1 1 3 1 5 1-10 1-2 1 8 1 0 1-4 1 2 1 1 1 2 1-6 1-4 1 4 1 12 1-2 1-13 1 0 1 4 1 6 1 1 1-11 1 6 1 4 1-2 1-6 1 0 1 8 1-2 1-4 1-2 1 7 1 3 1-11 1 1 1 6 1-2 1-3 1 13 1-11 1-1 1 3 1-7 1 7 1 4 1-5 1 1 1 0 1-6 1 3 1 6 1-8 1 6 1 5 1-13 1 0 1 12 1-9 1 2 1 5 1-2 1-2 1-1 1-7 1 19 1-8 1-15 1 13 1 7 1-11 1 7 1-3 1-8 1 12 1-4 1-4 1 4 1-2 1 2 1-5 1 1 1 1 1 7 1 0 1-6 1-1 1 2 1 1 1 2 1-11 1 8 1 6 1-6 1-1 1 2 1 1 1-7 1 3 1 12 1-15 1 0 1 8 1 0 1-2 1-1 1 1 1-15 1 17 1 14 1-31 1 15 1 6 1-13 1 6 1 2 1-3 1 4 1-5 1 1 1 5 1-3 1-5 1 9 1-6 1-6 1 18 1-5 1-15 1 5 1 4 1 6 1-8 1 0 1 4 1-2 1-2 1 2 1 1 1 1 1-2 1 0 1 0 1-2 1 2 1 2 1-3 1 0 1 2 1-1 1 0 1 0 1 0 1 0 1 0 1 0"/></g><g id="w6"><path class="a" d="M118 0l.5-6 .5 11 .5-10 .5 27 .5-39 .5 22 .5-15 .5 12 .5-7 .5 8 .5-5 .5 5 .5-4 .5 3 .5-4 .5 4 .5-15 .5 18 .5-8 .5 5 .5-6 .5 10 .5-11 .5 13 .5-13 .5 9 .5-11 .5 15 1-10 1 3 1-2 1 2 1-4 1 4 1-2 1 5 1-6 1 5 1-4 1 5 1-5 1 2 1-8 1 16 1-20 1 20 1-11 1 4 1-3 1 2 1-2 1 2 1-2 1 3 1-3 1 2 1-5 1 6 1-6 1 7 1-7 1 5 1-2 1 2 1-2 1 2 1-2 1 2 1-2 1 2 1-2 1 4 1-8 1 10 1-7 1 9 1-8 1 3 1-3 1 5 1-6 1 3 1-2 1 3 1-3 1 2 1-2 1 5 1-5 1 2 1-2 1 2 1-6 1 6 1-2 1 2 1-2 1 2 1-3 1 3 1-1 1 1 1-2 1 2 1-2 1 4 1-4 1 2"/><path d="M212 1l1-20 1 31 1-1 1-12 1-10 1 2 1 11 1 15 1-31 1 6 1 22 1 11 1-31 1-9 1 16 1-7 1 5 1 12 1-11 1-1 1-6 1-2 1 11 1 11 1-12 1-4 1-3 1 11 1-7 1-1 1 4 1 5 1 1 1-10 1-6 1 9 1-3 1 6 1-1 1-2 1 0 1 4 1-9 1 10 1 2 1-7 1-7 1 2 1 4 1 3 1 2 1-1 1 2 1 0 1-11 1 5 1-2 1-5 1 8 1 6 1-7 1 7 1-8 1-3 1-3 1 13 1 1 1-6 1-4 1 0 1 9 1 1 1-9 1-5 1 6 1 7 1 2 1-3 1-20 1 17 1 5 1-2 1-2 1-9 1 2 1 9 1-8 1 5 1 4 1-2 1-5 1-2 1 6 1 8 1-9 1 0 1-4 1 0 1-2 1 6 1-4 1 10 1-5 1-8 1-4 1 7 1 13 1 5 1-20 1 2 1-4 1 7 1 1 1 2 1-9 1 12 1-14 1 6 1 10 1-8 1-6 1 8 1-1 1-3 1 0 1 1 1 0 1 9 1-6 1-7 1 5 1 3 1-9 1 6 1 0 1 6 1-2 1-9 1-1 1 3 1 7 1 1 1-8 1 1 1-2 1 10 1-5 1-1 1-1 1 9 1-14 1 2 1 4 1-5 1 6 1 9 1-10 1 0 1-3 1-1 1 0 1 9 1-1 1-7 1-3 1 17 1-5 1-12 1-1 1 10 1 1 1-9 1-3 1 17 1-3 1-6 1-9 1 5 1 8 1-1 1-8 1 4 1 5 1 3 1-12 1-5 1 5 1 10 1-2 1 0 1-6 1 8 1-5 1-8 1 8 1 4 1-8 1 5 1-1 1 6 1-6 1-17 1 14 1 25 1-24 1-21 1 26 1 22 1-20 1-28 1 5 1 39 1 1 1-30 1-1 1 7 1-10 1 17 1 22 1-20 1-49 1 16 1 76 1-14 1-68 1-1 1 39 1 24 1-36 1-17 1 31 1 2 1-18 1-2 1 14 1 14 1-25 1-9 1 20 1 9 1-12 1-13 1 0 1 37 1-7 1-52 1 22 1 48 1-21 1-50 1 16 1 48 1-28 1-10 1 7 1-5 1 18 1-3 1-23 1 17 1 8 1-6 1-14 1 10 1 16 1-25 1-23 1 64 1-3 1-67 1 33 1 42 1-64 1 5 1 80 1-62 1-69 1 123 1-8 1-134 1 110 1 61 1-127 1 29 1 36 1-23 1 22 1-23 1-11 1 44 1-35 1-15 1 64 1-45 1-20 1 46 1-23 1-6 1 17 1-25 1 20 1 19 1-56 1 24 1 82 1-119 1-33 1 214 1-161 1-61 1 152 1-51 1-32 1 4 1 18 1 11 1-21 1 0 1 3 1 9 1 3 1-24 1 17 1 28 1-61 1 21 1 43 1-51 1 10 1 35 1-51 1 25 1 6 1-9 1 27 1-52 1 11 1 48 1-49 1 0 1 43 1-27 1-13 1 22 1-15 1 21 1-8 1-22 1 18 1 1 1 1 1-5 1-4 1 9 1-8 1 15 1-34 1 22 1 49 1-82 1 7 1 67 1-45 1-12 1 18 1 24 1-41 1 14 1 18 1-37 1 34 1-7 1-19 1 20 1-6 1-7 1 10 1 5 1-21 1 6 1 13 1 4 1-24 1 4 1 25 1-16 1-11 1 12 1 8 1-11 1-2 1 8 1-5 1 0 1 5 1 1 1-8 1-2 1 3 1 3 1 1 1-4 1-3 1 8 1 7 1-12 1-9 1 21 1-1 1-19 1 3 1 17 1-1 1-28 1 12 1 23 1-10 1-16 1 6 1 14 1-10 1-8 1 9 1-3 1 6 1 2 1-12 1 5 1 1 1 2 1-2 1 7 1-13 1-3 1 17 1-3 1-11 1 8 1 10 1-23 1 3 1 18 1-14 1-4 1 15 1 5 1-25 1 1 1 17 1 5 1-6 1-11 1 7 1 5 1-11 1 5 1 3 1-1 1-9 1 15 1 4 1-19 1-9 1 26 1-6 1-2 1 4 1-4 1 0 1-3 1 4 1-7 1 4 1-4 1 8 1 13 1-34 1 20 1 11 1-19 1 9 1-3 1-7 1 15 1-9 1-1 1 5 1-11 1 6 1 21 1-18 1-18 1 18 1 6 1-14 1 3 1 11 1-5 1-10 1 7 1 5 1 8 1-21 1-3 1 28 1-17 1-5 1 6 1-3 1 10 1-13 1 1 1 7 1 1 1-1 1 3 1-11 1 1 1 5 1-1 1 5 1-4 1-4 1 7 1 1 1-12 1 4 1 12 1-7 1-6 1 4 1 9 1-5 1-8 1 2 1 5 1 3 1-8 1 0 1 5 1-1 1 1 1-13 1 8 1 14 1-3 1-18 1 0 1 22 1-10 1-9 1 8 1-1 1 0 1-1 1 3 1-1 1-8 1 5 1 10 1-3 1-7 1-4 1 4 1 4 1 7 1-8 1-14 1 16 1 2 1-15 1 16 1-1 1-10 1 3 1 3 1 3 1 1 1-14 1-3 1 26 1 1 1-38 1 22 1 12 1-17 1 4 1 7 1-6 1 0 1 4 1-4 1-1 1 1 1-2 1 6 1 3 1-4 1-10 1 4 1 14 1-6 1-8 1-3 1 13 1 3 1-24 1 17 1 9 1-17 1 6 1 9 1-21 1 5 1 19 1-8 1-12 1 7 1 0 1-1 1 10 1 0 1-14 1-3 1 10 1 3 1-6 1 6 1-4 1-3 1 9 1-7 1-9 1 16 1-2 1-5 1 2 1-4 1 1 1 2 1-2 1 0 1 7 1 0 1-7 1-5 1 10 1-2 1-2 1 2 1-2 1 2 1-1 1-1 1 1 1 0 1 0 1 0 1 0 1 0"/></g><g id="w7"><path class="a" d="M118 0l.5-5 .5 11 .5-18 .5 17 .5-25 .5 22 .5-11 .5 28 .5-21 .5 8 .5-13 .5 9 .5-7 .5 7 .5-4 .5 6 .5-6 .5 5 .5-5 .5 5 .5-9 .5 12 .5-11 .5 17 .5-16 .5 12 .5-13 .5 7 1-4 1 4 1-3 1 6 1-10 1 6 1-2 1 2 1-6 1 6 1-3 1 7 1-6 1 5 1-6 1 9 1-20 1 28 1-17 1 3 1-2 1 2 1-2 1 2 1-2 1 2 1-2 1 3 1-4 1 6 1-9 1 8 1-7 1 7 1-4 1 2 1-2 1 5 1-5 1 3 1-3 1 2 1-3 1 8 1-11 1 10 1-11 1 9 1-7 1 5 1-2 1 2 1-6 1 6 1-2 1 3 1-4 1 3 1-2 1 2 1-2 1 2 1-2 1 4 1-5 1 3 1-1 1 1 1-3 1 3 1-2 1 2 1-3 1 4 1-4 1 3 1-2 1 2 1-2 1 3"/><path d="M212 2l1-11 1 24 1-8 1-30 1 14 1 34 1-29 1-2 1 6 1 11 1-6 1-13 1-8 1 19 1 15 1-15 1-20 1 10 1 7 1 6 1 2 1-2 1-8 1-1 1-6 1 7 1 3 1 12 1-14 1-13 1 6 1 13 1-1 1 3 1-3 1-12 1 0 1 15 1-7 1 1 1-3 1 4 1 6 1-9 1-5 1 4 1-3 1 7 1-1 1 3 1-4 1 8 1-12 1-6 1 10 1 5 1-7 1 8 1-6 1-5 1 5 1 8 1-8 1-9 1 5 1 13 1-5 1-2 1-10 1 7 1 1 1 3 1-1 1-1 1-6 1 8 1-4 1-1 1 0 1 3 1-5 1 9 1 0 1-2 1-1 1-3 1-7 1 8 1-4 1-2 1 13 1 5 1-21 1 4 1 9 1 2 1-10 1-2 1 4 1 8 1-5 1 8 1-8 1-12 1 11 1 6 1-16 1 13 1 12 1-26 1 5 1 7 1-4 1 3 1 6 1-3 1-7 1 6 1-3 1 0 1-4 1 2 1 1 1 1 1 5 1-2 1 0 1 0 1-5 1 5 1-4 1 2 1 0 1 2 1-6 1 3 1 2 1 8 1-3 1-12 1-5 1 16 1 0 1-3 1-6 1 6 1-6 1-2 1 6 1 5 1-11 1 4 1 4 1 14 1-15 1-14 1 10 1 0 1 3 1 6 1-5 1 1 1-7 1 5 1-1 1 11 1-2 1-11 1-8 1 14 1 2 1-5 1-10 1 12 1 11 1-10 1-20 1 11 1 18 1 5 1-20 1-12 1 12 1 10 1-2 1 2 1-14 1-10 1 18 1 23 1-17 1-26 1 8 1 26 1-10 1 0 1-7 1-9 1-3 1 26 1 20 1-30 1-53 1 35 1 83 1-29 1-112 1 16 1 121 1-3 1-100 1-8 1 70 1 15 1-50 1-19 1 46 1 19 1-59 1-12 1 70 1 6 1-62 1-11 1 35 1 29 1-14 1-21 1-17 1 8 1 30 1 11 1-26 1-22 1 18 1 22 1-22 1 0 1 18 1-24 1-10 1 34 1 4 1-22 1-15 1 28 1-4 1-14 1 18 1-10 1-7 1 22 1-19 1-12 1 21 1 6 1-19 1 22 1-5 1-37 1 29 1 29 1-41 1 0 1 39 1-32 1-48 1 81 1 36 1-102 1-6 1 76 1-31 1-6 1 47 1-87 1 3 1 121 1-74 1-74 1 103 1-9 1-62 1 43 1 8 1-22 1 3 1 19 1-16 1-13 1 20 1 2 1-13 1 13 1-12 1 4 1 5 1-13 1 22 1-1 1-47 1 47 1 53 1-138 1 18 1 182 1-151 1-101 1 250 1-110 1-157 1 257 1-105 1-99 1 157 1-61 1-46 1 63 1-21 1-31 1 47 1-3 1-51 1 53 1 5 1-55 1 19 1 49 1-37 1-45 1 79 1 4 1-103 1 69 1 65 1-113 1 27 1 70 1-77 1 6 1 46 1-28 1-25 1 38 1 13 1-51 1 15 1 38 1-43 1 13 1 16 1-19 1 2 1 9 1-3 1-4 1-5 1 7 1 7 1-1 1-13 1 2 1 8 1 4 1-13 1 5 1 8 1-15 1 10 1 5 1-16 1 5 1 10 1-4 1-9 1 8 1 6 1-4 1-4 1 4 1-7 1-5 1 7 1 6 1-4 1 9 1-15 1 5 1 3 1-5 1 2 1 7 1 1 1-14 1 2 1 11 1-5 1-4 1 4 1 5 1-18 1 14 1 4 1-6 1-1 1-6 1 14 1 2 1-17 1 1 1 17 1-10 1-8 1 11 1-1 1 0 1-8 1-6 1 28 1-11 1-24 1 31 1 2 1-32 1 19 1 3 1-7 1 14 1-14 1-3 1 2 1 5 1 8 1-17 1 0 1 23 1-19 1-2 1 13 1-9 1-7 1 13 1 4 1-8 1-5 1 9 1-5 1 0 1 5 1-1 1-14 1 7 1 16 1-13 1-4 1 7 1 1 1-1 1-5 1-3 1 4 1 14 1-11 1-8 1 4 1 15 1-11 1-14 1 13 1 11 1-14 1 1 1 7 1-15 1 6 1 14 1-7 1-8 1 2 1 3 1 0 1 2 1-1 1-1 1 0 1 10 1-22 1 3 1 26 1-14 1-17 1 17 1 1 1-9 1 4 1 5 1 0 1-2 1-4 1-1 1 4 1 0 1-4 1 6 1 2 1-6 1-2 1 2 1-1 1 8 1-5 1-6 1 1 1 5 1-2 1 8 1-2 1-14 1 6 1 10 1-2 1-8 1-1 1 3 1 4 1 0 1-9 1 12 1-11 1-10 1 37 1-17 1-20 1 21 1-2 1-5 1-1 1-2 1 4 1 3 1-2 1 4 1-6 1-6 1 8 1 5 1-7 1-12 1 20 1 10 1-37 1 18 1 16 1-16 1-6 1 9 1-1 1 0 1 4 1-4 1 2 1-4 1-1 1 7 1-2 1 2 1-11 1 4 1 8 1-8 1 3 1 1 1-4 1 9 1-9 1 5 1-7 1-1 1 17 1-6 1-17 1 18 1-1 1-14 1 11 1 1 1-6 1 5 1 4 1-13 1 0 1 17 1-6 1-9 1 3 1 6 1-1 1 0 1-12 1 2 1 12 1-3 1 3 1-4 1-6 1 9 1-3 1-2 1-2 1 4 1-3 1 0 1 18 1-24 1-7 1 34 1-23 1-5 1 22 1-17 1-1 1 17 1-17 1-7 1 17 1-1 1-7 1 8 1 0 1-10 1-6 1 18 1 0 1-15 1 4 1 11 1-7 1-1 1 6 1-5 1-6 1 6 1 3 1-8 1 4 1 8 1-7 1-5 1 5 1 3 1-3 1 0 1 0 1 0 1 0 1 0 1 0 1 0 1 0 1 0"/></g><g id="w8"><path class="a" d="M118 0l.5-9 .5 15 .5-10 .5 7 .5-8 .5 13 .5-13 .5 12 .5-24 .5 19 .5-4 .5 11 .5-16 .5 14 .5-15 .5 11 .5-5 .5 5 .5-5 .5 4 .5-7 .5 9 .5-12 .5 14 .5-17 .5 21 .5-15 .5 13 1-10 1 3 1-6 1 7 1-3 1 3 1-3 1 2 1-4 1 4 1-2 1 3 1-6 1 5 1-3 1 8 1-25 1 35 1-20 1 6 1-3 1 2 1-2 1 2 1-2 1 5 1-5 1 2 1-4 1 6 1-10 1 10 1-7 1 5 1-3 1 3 1-4 1 5 1-3 1 2 1-2 1 2 1-4 1 7 1-10 1 10 1-7 1 5 1-4 1 4 1-3 1 2 1-2 1 3 1-3 1 2 1-4 1 4 1-2 1 2 1-5 1 5 1-3 1 7 1-6 1 4 1-5 1 5 1-4 1 2 1-2 1 2 1-2 1 4 1-9 1 9 1-4 1 4 1-4 1 2"/><path d="M212 1l1-14 1 9 1-3 1 25 1-16 1-5 1 8 1-10 1-10 1 19 1 2 1-9 1 2 1 19 1-34 1 12 1 15 1-7 1 4 1-11 1-8 1 10 1-4 1 9 1-1 1-12 1 7 1 16 1-17 1 6 1-1 1-8 1 4 1 8 1-7 1 1 1-6 1 5 1 6 1 1 1-19 1 7 1 11 1-9 1 0 1 15 1-13 1 6 1-4 1-3 1 4 1-5 1-1 1 15 1-11 1-2 1 1 1-1 1 0 1 12 1-7 1-7 1 6 1 4 1-9 1 0 1 2 1 3 1 5 1-5 1-10 1 14 1-1 1-3 1 1 1-8 1 1 1 4 1 1 1 13 1-19 1-1 1 8 1 6 1-7 1-3 1 3 1-1 1-4 1 12 1-7 1-3 1 2 1 2 1-1 1 6 1-6 1-4 1-7 1 11 1 10 1-4 1-8 1 4 1-8 1 12 1-7 1 4 1-11 1 9 1 6 1-6 1-1 1-2 1 1 1-2 1-3 1 9 1 1 1 4 1-9 1-2 1 4 1 2 1-7 1 1 1 5 1 4 1-10 1 3 1-1 1 8 1-3 1-11 1 13 1 3 1-13 1 1 1 3 1 5 1-7 1 5 1 0 1-10 1 10 1 4 1-6 1-1 1-6 1 9 1 1 1-2 1-1 1 1 1 3 1-2 1-7 1 8 1-1 1 1 1-7 1-3 1 7 1 14 1-6 1-14 1-8 1 14 1 6 1 6 1-11 1-14 1 6 1 16 1 2 1-13 1-9 1 12 1-2 1 6 1-3 1-8 1 4 1 9 1-7 1-1 1 2 1-2 1-4 1 10 1 0 1-13 1 0 1 25 1-11 1-21 1 8 1 15 1-4 1-19 1 11 1 42 1-36 1-63 1 39 1 96 1-31 1-103 1 8 1 91 1-7 1-48 1 12 1 14 1-26 1 4 1 34 1-1 1-49 1 2 1 47 1 1 1-39 1 6 1 21 1-11 1-19 1 38 1 11 1-51 1-3 1 39 1 7 1-26 1-26 1 43 1 22 1-52 1-9 1 37 1 19 1-29 1-44 1 53 1 34 1-66 1-10 1 67 1-26 1-27 1 21 1 2 1-10 1 16 1-13 1-14 1 22 1 11 1-19 1-8 1 13 1 2 1 1 1-6 1-11 1 27 1 0 1-37 1 1 1 48 1-2 1-74 1 35 1 77 1-81 1-20 1 67 1-29 1-5 1 34 1-60 1-16 1 114 1-43 1-95 1 89 1 28 1-85 1 20 1 53 1-36 1-3 1-3 1 7 1 21 1-31 1-17 1 55 1-11 1-25 1-11 1 10 1 77 1-96 1-75 1 240 1-113 1-169 1 217 1-18 1-124 1 88 1 18 1-74 1 39 1 23 1-44 1 21 1 31 1-45 1-5 1 40 1-20 1-28 1 41 1 7 1-50 1 27 1 28 1-39 1 2 1 27 1-29 1 20 1-1 1-22 1 19 1 2 1-9 1 7 1 3 1-4 1-15 1 14 1 13 1-8 1-14 1-2 1 10 1 10 1-17 1-1 1 11 1 13 1-24 1-2 1 18 1-9 1 0 1 1 1 3 1-3 1-3 1 6 1-7 1-1 1 8 1 6 1-5 1-4 1-12 1 6 1 22 1-20 1-8 1 28 1-15 1-9 1 13 1-2 1-10 1 5 1 12 1-8 1-17 1 19 1 5 1-18 1 4 1 17 1 0 1-27 1 1 1 25 1-13 1-8 1 22 1 5 1-29 1-5 1 29 1 4 1-26 1 4 1 12 1-6 1-15 1 24 1 9 1-31 1 2 1 21 1 2 1-30 1 6 1 28 1-13 1-2 1-1 1-3 1 5 1 2 1-7 1 2 1 0 1 11 1-10 1-9 1 8 1 10 1-12 1 4 1-1 1-13 1 17 1 6 1-13 1-6 1 7 1 23 1-29 1 1 1 25 1-25 1-21 1 55 1-9 1-52 1 37 1 14 1-29 1 12 1 13 1-19 1-2 1 18 1-25 1 27 1-3 1-28 1 25 1 3 1-18 1 4 1 12 1-9 1-2 1 11 1-9 1 1 1 3 1-7 1 9 1-8 1-2 1 19 1-9 1-11 1 2 1 12 1-13 1 1 1 11 1 1 1-15 1 10 1 5 1-23 1 10 1 24 1-9 1-24 1 17 1-4 1 4 1 1 1-16 1 23 1-13 1 2 1 5 1-7 1 9 1-7 1-5 1 9 1-4 1-2 1 8 1-3 1-10 1 11 1 8 1-10 1-12 1 10 1 3 1-5 1 4 1 5 1-3 1-1 1-8 1 3 1 7 1-3 1-2 1 1 1-6 1 11 1 3 1-10 1-1 1 2 1 2 1-1 1-3 1 3 1-3 1 0 1 14 1-6 1-10 1 5 1-2 1 2 1 0 1-2 1 7 1-8 1-1 1 15 1-14 1-10 1 20 1-1 1-11 1 3 1 1 1 2 1 1 1 4 1-5 1-1 1 0 1-8 1 9 1 11 1-17 1-4 1 17 1-4 1-8 1 2 1 2 1 3 1-2 1-8 1 7 1 10 1-10 1-14 1 13 1 17 1-15 1-6 1 1 1 6 1-1 1-3 1 4 1-4 1 5 1-1 1-5 1 11 1-13 1-4 1 10 1 7 1-14 1 0 1 13 1-8 1-2 1 8 1-6 1 1 1 3 1-7 1 3 1-2 1 5 1 4 1-8 1 1 1-2 1 5 1 5 1-10 1 7 1-2 1-13 1 13 1-2 1-2 1 6 1-2 1-4 1 3 1 2 1 0 1-7 1-4 1 14 1-4 1-13 1 15 1 4 1-18 1 11 1 9 1-16 1 7 1 1 1-8 1 4 1 5 1-2 1 0 1-2 1 0 1 2 1-1 1 0 1 0 1 0 1 0 1 0 1 0"/></g><g id="w9"><path class="a" d="M118 0l.5-6 .5 18 .5-28 .5 25 .5-15 .5 11 .5-8 .5 11 .5-14 .5 9 .5-5 .5 4 .5-19 .5 19 .5-3 .5 3 .5-9 .5 15 .5-11 .5 9 .5-9 .5 12 .5-15 .5 14 .5-14 .5 13 .5-20 .5 15 1-7 1 6 1-3 1 4 1-3 1 3 1-9 1 9 1-3 1 2 1-2 1 2 1-2 1 3 1-5 1 8 1-13 1 22 1-22 1 11 1-4 1 5 1-5 1 5 1-6 1 3 1-2 1 3 1-7 1 7 1-6 1 8 1-8 1 9 1-7 1 3 1-2 1 2 1-2 1 2 1-6 1 6 1-3 1 9 1-10 1 9 1-10 1 8 1-9 1 6 1-2 1 2 1-2 1 5 1-5 1 4 1-4 1 2 1-2 1 2 1-2 1 2 1-2 1 2 1-3 1 3 1-2 1 2 1-2 1 2 1-2 1 6 1-6 1 5 1-5 1 2 1-4 1 4 1-2 1 2"/><path d="M212 1l1-18 1 25 1 10 1-18 1-11 1-7 1 14 1 18 1-2 1-11 1-1 1 0 1-7 1 5 1-1 1 5 1 7 1 3 1-12 1-16 1-5 1 27 1 5 1 2 1-10 1-14 1-6 1 22 1-4 1 5 1-2 1-4 1 3 1-5 1-4 1 10 1-10 1 8 1-7 1 8 1 12 1-16 1-4 1 2 1-6 1 17 1 0 1-14 1-1 1 11 1 0 1 0 1-11 1-1 1 14 1 0 1-10 1-2 1 3 1 4 1-2 1 7 1-6 1 0 1-2 1 4 1-4 1 2 1-2 1 2 1-1 1 2 1 3 1 2 1-12 1 4 1 3 1-3 1-4 1 12 1 3 1-5 1-11 1 2 1-1 1 10 1 1 1-5 1-11 1 10 1 4 1 0 1 2 1-5 1-9 1 12 1 0 1-1 1-7 1-1 1 12 1 1 1-15 1 10 1 1 1-2 1-6 1 0 1 0 1 14 1-8 1-8 1 3 1 10 1-4 1-5 1 5 1 1 1-7 1 10 1-9 1-5 1 11 1-1 1-2 1-1 1-3 1 12 1-6 1-6 1 4 1 3 1-5 1 2 1-2 1 4 1-2 1 0 1 6 1-2 1-6 1-5 1-1 1 18 1-3 1-12 1-5 1 14 1 0 1-3 1-4 1 9 1 1 1-8 1-7 1 2 1 3 1 10 1-1 1-1 1-7 1-2 1-6 1 13 1 8 1 0 1-11 1-7 1 0 1 1 1 7 1 5 1-5 1 3 1-16 1 4 1 10 1 7 1-7 1-7 1 2 1 1 1 2 1 11 1-7 1-6 1-11 1 8 1 17 1-3 1-21 1 5 1 11 1 2 1-10 1 11 1 1 1-24 1-3 1 33 1 8 1-22 1-33 1 15 1 51 1-4 1-57 1 5 1 35 1 9 1-38 1-5 1 41 1 5 1-35 1-10 1 22 1 8 1-21 1 17 1 11 1-17 1-19 1 21 1 25 1-29 1-25 1 27 1 28 1-15 1-28 1-11 1 27 1 52 1-40 1-73 1 22 1 69 1 31 1-51 1-62 1 30 1 34 1 30 1-14 1-83 1-9 1 122 1 14 1-120 1-15 1 105 1 5 1-74 1-27 1 66 1 50 1-58 1-51 1 20 1 43 1 25 1-40 1-45 1 39 1 47 1-36 1-17 1 3 1-32 1 51 1 74 1-109 1-97 1 133 1 113 1-129 1-67 1 81 1-1 1-27 1 65 1-53 1-65 1 112 1-6 1-78 1 60 1-4 1-35 1 27 1 10 1-19 1 3 1-18 1 28 1 7 1-32 1 23 1-12 1-16 1 84 1-88 1-42 1 129 1-52 1-37 1 36 1-16 1 33 1-41 1-23 1 81 1-38 1-36 1 46 1-6 1-23 1 15 1 16 1-25 1-13 1 41 1 5 1-69 1 58 1 14 1-76 1 77 1-4 1-79 1 94 1-21 1-98 1 117 1-4 1-80 1 64 1-6 1-28 1 26 1-14 1-4 1 17 1-9 1-1 1-3 1 7 1 3 1-13 1 7 1 11 1-24 1 13 1 6 1-6 1 0 1-6 1 7 1-1 1 5 1-10 1 3 1 14 1-23 1 18 1 2 1-18 1 3 1 12 1-7 1-1 1 7 1-1 1-10 1 2 1 4 1 7 1-11 1 6 1-9 1 12 1 3 1-26 1 26 1-6 1-14 1 17 1 2 1-8 1-11 1 17 1-6 1 2 1 8 1-13 1 2 1 9 1-14 1-1 1 19 1-7 1-13 1 9 1 3 1 3 1-10 1-6 1 16 1 4 1-19 1 8 1 9 1-16 1 4 1 12 1-10 1 1 1 6 1-5 1-3 1 3 1-4 1 5 1 1 1 0 1-5 1 3 1-2 1 4 1 0 1 1 1-7 1 3 1 2 1-1 1 4 1-3 1-5 1 4 1 7 1-14 1 0 1 19 1-12 1-7 1 1 1 17 1-7 1-12 1 7 1 3 1 2 1-3 1-10 1 14 1-5 1 2 1 2 1-6 1-1 1 3 1 5 1-10 1 8 1 2 1-12 1 13 1-4 1-11 1 10 1 14 1-25 1-9 1 36 1-5 1-27 1 16 1-4 1 7 1-1 1-17 1 15 1 11 1-16 1 5 1 12 1-21 1 2 1 13 1-16 1 9 1 5 1-1 1-3 1-1 1-7 1-1 1 12 1-1 1-6 1 14 1-7 1-18 1 14 1 9 1-15 1 13 1-9 1-1 1 4 1-8 1 14 1-4 1-9 1 5 1 5 1-6 1 3 1 4 1-13 1 11 1 1 1-11 1 14 1-15 1 8 1 5 1-10 1 10 1-3 1-7 1 2 1 13 1-7 1-10 1 6 1 2 1-3 1 3 1-4 1 12 1 2 1-28 1 5 1 26 1-4 1-20 1 3 1 16 1-8 1-4 1 1 1 6 1 1 1-10 1 4 1 8 1-9 1-9 1 6 1 15 1-13 1 1 1 6 1-4 1 2 1-1 1-2 1-4 1 1 1 11 1-4 1-9 1 13 1-6 1-11 1 15 1-2 1-9 1 9 1 0 1-4 1 5 1-7 1-7 1 14 1-1 1-5 1 9 1-12 1 3 1 0 1-3 1 16 1-12 1-2 1 4 1-2 1 5 1-3 1-3 1 0 1 1 1 4 1-1 1-4 1 2 1 2 1-5 1 1 1 6 1-7 1 2 1 3 1-10 1 9 1 13 1-19 1-7 1 24 1-8 1-14 1 17 1-8 1-7 1 9 1 4 1-7 1 0 1 5 1 3 1-11 1 1 1 2 1 2 1 6 1-6 1-5 1 6 1 2 1-2 1-3 1 1 1 0 1 2 1-2 1 2 1-2 1 0 1 2 1 1 1-2 1-1 1 2 1-1 1 0 1 0 1 0 1 0"/></g><g id="w10"><path class="a" d="M118 0l.5-6 .5 29 .5-38 .5 20 .5-26 .5 27 .5-9 .5 5 .5-4 .5 9 .5-10 .5 7 .5-5 .5 4 .5-12 .5 11 .5-4 .5 14 .5-14 .5 6 .5-13 .5 14 .5-13 .5 14 .5-11 .5 8 .5-9 .5 10 1-7 1 6 1-4 1 3 1-3 1 2 1-2 1 2 1-2 1 4 1-6 1 8 1-10 1 8 1-8 1 11 1-27 1 34 1-15 1 3 1-3 1 3 1-2 1 6 1-6 1 3 1-3 1 3 1-4 1 5 1-7 1 7 1-7 1 9 1-6 1 2 1-5 1 5 1-2 1 2 1-2 1 2 1-3 1 5 1-8 1 9 1-13 1 13 1-6 1 3 1-2 1 2 1-2 1 5 1-6 1 4 1-8 1 11 1-6 1 2 1-2 1 3 1-3 1 2 1-2 1 2 1-2 1 2 1-2 1 3 1-3 1 2 1-2 1 1 1-1 1 3 1-3 1 2 1-5 1 5"/><path d="M212 1l1-6 1-6 1 4 1 31 1-16 1-31 1 16 1 14 1-7 1 1 1-10 1 24 1-8 1-17 1 11 1-11 1 10 1 12 1-16 1-1 1-4 1 16 1-3 1 3 1-5 1-8 1 6 1 4 1-3 1 1 1-8 1 7 1 2 1 3 1-11 1 1 1-2 1 2 1 17 1-10 1-7 1 8 1-10 1 7 1 2 1 3 1-2 1-7 1 2 1 5 1-13 1 10 1 5 1 2 1-10 1 1 1-4 1 7 1-2 1 1 1 3 1-5 1-6 1 14 1-6 1-5 1 5 1 4 1-6 1-5 1 2 1 13 1-4 1-6 1-5 1 6 1 0 1-2 1 3 1 1 1-9 1 6 1 6 1-3 1-8 1 14 1-5 1-9 1 9 1 4 1-13 1 5 1-5 1 4 1 7 1-3 1-7 1 10 1-4 1-6 1 5 1 1 1-4 1 3 1-4 1 7 1 4 1 2 1-37 1 32 1 0 1 0 1-1 1-1 1-5 1 6 1-4 1 5 1-3 1-8 1 8 1 7 1-11 1 2 1-6 1 4 1 4 1 2 1 2 1-2 1-10 1 0 1 8 1 13 1-17 1-3 1 4 1 4 1 5 1-7 1-5 1 3 1-4 1 12 1-2 1-12 1-2 1 18 1-1 1-6 1-6 1 9 1-6 1-1 1 3 1-2 1 0 1 9 1-6 1-2 1 0 1-3 1 5 1 2 1-5 1-1 1 5 1 6 1-11 1 1 1-8 1 12 1 9 1-11 1-10 1 10 1 10 1-4 1-9 1-1 1-7 1 11 1 9 1-11 1 0 1 9 1-12 1-3 1 10 1 10 1-8 1-17 1 3 1 29 1-4 1-38 1-12 1 69 1 6 1-70 1-21 1 75 1 46 1-88 1-75 1 96 1 99 1-88 1-113 1 77 1 93 1-36 1-76 1 12 1 52 1-15 1-31 1 24 1 12 1-12 1-3 1 0 1 3 1 6 1-4 1-11 1-10 1 26 1 18 1-31 1-16 1 32 1 0 1-20 1 12 1 1 1-24 1 35 1 7 1-57 1 16 1 66 1-34 1-53 1 22 1 55 1-12 1-56 1 2 1 37 1 30 1-17 1-80 1 54 1 61 1-79 1-9 1 66 1-39 1-8 1 41 1-45 1-10 1 55 1-12 1-35 1-5 1 36 1 35 1-56 1-75 1 100 1 72 1-117 1-35 1 100 1 3 1-66 1 4 1 41 1-30 1 10 1 32 1-46 1-3 1 54 1-41 1-21 1 50 1-22 1-13 1 27 1-21 1-4 1 21 1-14 1-3 1 7 1-4 1 18 1-28 1 4 1 36 1-44 1 23 1 18 1-68 1 52 1 22 1-64 1 38 1 24 1-50 1 12 1 22 1-4 1-8 1-18 1 33 1 4 1-62 1 56 1 19 1-66 1 37 1 26 1-52 1 10 1 42 1-44 1-11 1 65 1-34 1-42 1 43 1 31 1-45 1-37 1 67 1 11 1-83 1 61 1 15 1-59 1 51 1 2 1-47 1 22 1 4 1 15 1 3 1-39 1 2 1 34 1-2 1-13 1 1 1 6 1-15 1-5 1 23 1 4 1-19 1-2 1 4 1 17 1-14 1-12 1 18 1 8 1-24 1 7 1 18 1-23 1 5 1 15 1-26 1 10 1 24 1-18 1-22 1 32 1 2 1-22 1 11 1-1 1-14 1 18 1-4 1-6 1 11 1-6 1-4 1 11 1-5 1-9 1 0 1 12 1 0 1-12 1 3 1 16 1-12 1 0 1-4 1 4 1 0 1-6 1 9 1 10 1-20 1-12 1 35 1-15 1-10 1 15 1-1 1-11 1-6 1 35 1-26 1-13 1 26 1-14 1-1 1 16 1-13 1-7 1 12 1 3 1-13 1 7 1 10 1-15 1 3 1 1 1-2 1 7 1-7 1 7 1-2 1-7 1 4 1-2 1 4 1 9 1-10 1-9 1 1 1 14 1 6 1-13 1-13 1 25 1-7 1-17 1 21 1-1 1-19 1 14 1 7 1-14 1-6 1 22 1-11 1-7 1 9 1 2 1-6 1-3 1 17 1-4 1-28 1 21 1 4 1 2 1-24 1 18 1 22 1-35 1-3 1 21 1 1 1-10 1 1 1 0 1 0 1 14 1-10 1-11 1 8 1 2 1-5 1 2 1 10 1-3 1-7 1 4 1-12 1 8 1 7 1-3 1-6 1 3 1 6 1-3 1-6 1 0 1 13 1 0 1-26 1 26 1-4 1-12 1 5 1 6 1-5 1-1 1 5 1-2 1-2 1-1 1 3 1 2 1-3 1 4 1-11 1 4 1 13 1-7 1-11 1 1 1 11 1 6 1-14 1-5 1 12 1 4 1-10 1 7 1-6 1-7 1 16 1-3 1-5 1 1 1-8 1 9 1 6 1-12 1 7 1 0 1-5 1 3 1-4 1 7 1-3 1 0 1-1 1 2 1-1 1 2 1-6 1 0 1 15 1-7 1-17 1 12 1 11 1-7 1-11 1 4 1 10 1 6 1-24 1 3 1 22 1-18 1-3 1 15 1-3 1-10 1 4 1 10 1-8 1-7 1 10 1 4 1-16 1 10 1 3 1-5 1-1 1-4 1 10 1 3 1-10 1 1 1-6 1 15 1 1 1-19 1 15 1 5 1-23 1 16 1 9 1-20 1 9 1 5 1-8 1 7 1-9 1 3 1 7 1-7 1 2 1 0 1 1 1 3 1-9 1 2 1 5 1 0 1-3 1 3 1-4 1 8 1-5 1-10 1 17 1-2 1-17 1 9 1 5 1-5 1 2 1 2 1 1 1-1 1-8 1 7 1 0 1 1 1-3 1-3 1 6 1-1 1-2 1 1 1-1 1 2 1-1 1-1 1 1 1 0 1 0 1 0 1 0 1 0"/></g><g id="w11"><path class="a" d="M117 0l.5 0 .5 10 .5-21 .5 16 .5-17 .5 15 .5-14 .5 17 .5-20 .5 18 .5-7 .5 7 .5-10 .5 8 .5-4 .5 4 .5-8 .5 8 .5-5 .5 7 .5-6 .5 7 .5-9 .5 8 .5-14 .5 17 .5-15 .5 21 1-15 1 4 1-6 1 5 1-4 1 8 1-7 1 3 1-4 1 6 1-6 1 4 1-2 1 2 1-3 1 4 1-15 1 25 1-19 1 12 1-6 1 2 1-2 1 2 1-2 1 4 1-4 1 2 1-2 1 2 1-7 1 11 1-7 1 3 1-2 1 2 1-2 1 2 1-2 1 2 1-2 1 3 1-3 1 4 1-7 1 9 1-11 1 10 1-12 1 13 1-9 1 8 1-5 1 2 1-2 1 2 1-2 1 5 1-5 1 3 1-3 1 2 1-4 1 4 1-2 1 2 1-2 1 2 1-4 1 4 1-2 1 1 1-1 1 2 1-2 1 4 1-4 1 2 1-2 1 2 1-2"/><path d="M212 -1l1 33 1-29 1-4 1 14 1-10 1-8 1 4 1-6 1 9 1 1 1-7 1 12 1-2 1-19 1 11 1 7 1-3 1-3 1 1 1 2 1 6 1-13 1-5 1 15 1 1 1-9 1 0 1-1 1 7 1 0 1-2 1-6 1 13 1-8 1-8 1 10 1 1 1-6 1 0 1 8 1-7 1-4 1 14 1-8 1 4 1-7 1 4 1 7 1-6 1-12 1 10 1 3 1 0 1-4 1-1 1 1 1 4 1-2 1 6 1-16 1 3 1 8 1 2 1-6 1 5 1-4 1 7 1-4 1-12 1 6 1 13 1-9 1-5 1 3 1 11 1-8 1-4 1 3 1-5 1 7 1 11 1-18 1 0 1-6 1 11 1 17 1-13 1-21 1 14 1 10 1-4 1-4 1 3 1-7 1 4 1-1 1 8 1-3 1-8 1 3 1 3 1-3 1 2 1-1 1 6 1-5 1-1 1 11 1-18 1 9 1 5 1-4 1-3 1-8 1 6 1 3 1 4 1-1 1-8 1 4 1 0 1 5 1 1 1-12 1 11 1 0 1-2 1-2 1 8 1-15 1 4 1 4 1 1 1 3 1-1 1-13 1 10 1-2 1-8 1 8 1 10 1-4 1-1 1-12 1 3 1 6 1 8 1-8 1-14 1 13 1 8 1-7 1-3 1-4 1 5 1-1 1 6 1 3 1-7 1-14 1 9 1 15 1-2 1-11 1-5 1 1 1 14 1-7 1 5 1-1 1-4 1-3 1-5 1 5 1 7 1-2 1-3 1 6 1-4 1-15 1 20 1 6 1-14 1-12 1 6 1 19 1 13 1-28 1-18 1 12 1 21 1 11 1-20 1-24 1 11 1 16 1 13 1-6 1-23 1-11 1 28 1 5 1-4 1-19 1 1 1 31 1-3 1-53 1 8 1 72 1 3 1-79 1-14 1 56 1 22 1-31 1-25 1-3 1 32 1 50 1-5 1-88 1-38 1 72 1 69 1-27 1-77 1-10 1 75 1 20 1-54 1-31 1 38 1 20 1-14 1-15 1 14 1 18 1-35 1-33 1 61 1 34 1-43 1-47 1 16 1 51 1 1 1-48 1 0 1 24 1 8 1 12 1-11 1-56 1 23 1 57 1-20 1-29 1 11 1-20 1 18 1 36 1-22 1-47 1 20 1 46 1 0 1-30 1-40 1 12 1 72 1-19 1-34 1 6 1-43 1 53 1 55 1-79 1 5 1 13 1-16 1 57 1-32 1-60 1 67 1-3 1-35 1 27 1 18 1-43 1 9 1 42 1-41 1-9 1 52 1-43 1-10 1 45 1-61 1 64 1 28 1-159 1 117 1 85 1-161 1 3 1 127 1-57 1-43 1 31 1 16 1 5 1-41 1 0 1 45 1-23 1-13 1 18 1 1 1-3 1-9 1-10 1 23 1 10 1-44 1 16 1 65 1-81 1-30 1 107 1-37 1-44 1 47 1-19 1-3 1 11 1-4 1-13 1 12 1 20 1-43 1 13 1 47 1-55 1 1 1 32 1-20 1-1 1 6 1-4 1 4 1-1 1 3 1 2 1-5 1-9 1 8 1 8 1-12 1 2 1 5 1-1 1-2 1 0 1 6 1 0 1-3 1-16 1 14 1 7 1-7 1 0 1 1 1-6 1 6 1 7 1-10 1-13 1 22 1 1 1-17 1 13 1-1 1-13 1 11 1 9 1-10 1-13 1 14 1 6 1-13 1 12 1 1 1-15 1 9 1 5 1-10 1 1 1-2 1 0 1 19 1-17 1-6 1 11 1 9 1-17 1-1 1 13 1-10 1 1 1 3 1 0 1 4 1-1 1-1 1-9 1 3 1 6 1 8 1-13 1-5 1 12 1-14 1 15 1 15 1-39 1 9 1 24 1-8 1-7 1-4 1 5 1-15 1 23 1 20 1-50 1 16 1 13 1-12 1 8 1-1 1-3 1 1 1-2 1 0 1 4 1 5 1-18 1 13 1 2 1-12 1 20 1-7 1-22 1 16 1 10 1-16 1 22 1-12 1-31 1 36 1 3 1-9 1-11 1 11 1 8 1-11 1 0 1-8 1 3 1 24 1-23 1 0 1 11 1-10 1 2 1 5 1-5 1 1 1 2 1 5 1-4 1-6 1 9 1-1 1-16 1 23 1-20 1 2 1 23 1-17 1-1 1-1 1 3 1 4 1-6 1 1 1 0 1 4 1-5 1 6 1-9 1-2 1 15 1-8 1-3 1 5 1-8 1 10 1 3 1-10 1-1 1 6 1 0 1 0 1-9 1 8 1 8 1-9 1-13 1 14 1 7 1-5 1-2 1-3 1-2 1 4 1-1 1 9 1-10 1-5 1 10 1-6 1 5 1 1 1-7 1 5 1 1 1-2 1 1 1 1 1-7 1 8 1 0 1-2 1-6 1 5 1 2 1-6 1 7 1-4 1-5 1 13 1-10 1 5 1 5 1-27 1 32 1-7 1-18 1 20 1-3 1 0 1-5 1-4 1-1 1 8 1-1 1-1 1 1 1-3 1 4 1 4 1-9 1-1 1 6 1 3 1-11 1 7 1 2 1-10 1 2 1 18 1-5 1-15 1-1 1 11 1 1 1-4 1 0 1 0 1-1 1 2 1 2 1-8 1 4 1 1 1-3 1 5 1-2 1 6 1-7 1-5 1 5 1 4 1-1 1 0 1-7 1 5 1 6 1-15 1 7 1 13 1-15 1-1 1 7 1-2 1 0 1 3 1-2 1-3 1 0 1 3 1 0 1-4 1 3 1 4 1-7 1 1 1 2 1 3 1-3 1-1 1 2 1 1 1-6 1-1 1 3 1 5 1 2 1-7 1 3 1 2 1-9 1 9 1-4 1 1 1 2 1-6 1 5 1 0 1-1 1 0 1 0 1 0 1 0 1 0 1 0 1 0 1 0"/></g><g id="w12"><path class="a" d="M117 0l.5 0 .5 33 .5-38 .5 14 .5-15 .5 10 .5-13 .5 12 .5-5 .5 7 .5-7 .5 11 .5-12 .5 6 .5-12 .5 12 .5-5 .5 4 .5-6 .5 5 .5-5 .5 14 .5-15 .5 11 .5-19 .5 21 .5-15 .5 12 1-8 1 5 1-3 1 2 1-2 1 5 1-5 1 4 1-4 1 2 1-2 1 4 1-6 1 4 1-3 1 7 1-12 1 17 1-16 1 10 1-7 1 8 1-7 1 6 1-5 1 5 1-6 1 5 1-6 1 8 1-10 1 11 1-11 1 7 1-3 1 2 1-2 1 2 1-6 1 10 1-8 1 4 1-2 1 4 1-5 1 10 1-17 1 13 1-11 1 8 1-2 1 2 1-2 1 2 1-2 1 6 1-6 1 2 1-4 1 4 1-2 1 2 1-2 1 2 1-2 1 2 1-4 1 4 1-2 1 2 1-4 1 3 1-1 1 2 1-3 1 3 1-2 1 2 1-3 1 4"/><path d="M211 2l1-30 1 12 1 24 1 14 1-9 1-9 1-28 1 15 1 31 1-28 1-8 1 24 1-12 1-12 1 14 1 10 1-10 1 3 1-18 1 21 1-2 1 0 1 10 1-23 1 0 1 18 1-8 1-6 1-2 1 16 1-4 1-10 1-6 1 8 1 11 1-1 1-10 1 5 1-8 1 9 1 0 1-1 1 1 1-8 1-4 1 9 1 8 1-7 1-5 1 9 1-10 1 9 1-6 1 1 1 5 1 2 1-12 1 4 1 6 1 4 1-16 1 4 1 8 1-1 1-6 1 4 1-2 1 10 1-7 1-6 1 1 1 8 1-2 1-1 1-11 1 4 1 4 1 3 1 5 1-10 1-2 1 4 1-5 1 20 1-4 1-18 1 1 1 18 1-15 1-5 1 6 1 3 1 6 1 2 1-13 1 3 1 4 1-4 1 6 1-1 1-9 1 4 1 0 1 11 1-12 1-3 1 5 1 10 1-16 1 9 1 4 1-7 1 0 1 6 1-9 1 0 1 6 1 2 1-7 1 7 1-11 1 6 1-3 1 6 1-5 1 3 1 4 1 1 1-3 1-4 1 4 1 0 1-4 1 3 1-13 1 13 1 9 1-10 1-4 1 4 1-6 1 15 1-5 1-17 1 11 1 10 1-4 1-1 1-6 1-5 1 6 1 11 1-8 1 0 1-4 1 4 1-5 1 5 1 2 1 3 1-6 1-2 1-2 1 8 1-4 1 0 1 1 1 5 1-12 1-3 1 9 1 11 1-6 1-13 1-1 1 17 1 1 1-14 1-4 1 11 1-2 1 2 1 0 1-4 1-4 1 11 1 3 1-5 1-11 1 13 1-1 1-15 1 9 1 19 1-12 1-19 1-7 1 43 1 11 1-52 1-29 1 72 1 43 1-78 1-62 1 63 1 50 1-30 1-12 1 0 1-11 1 8 1 10 1 16 1-22 1-17 1 19 1 11 1-22 1 1 1 22 1-2 1-25 1-3 1 32 1 29 1-47 1-52 1 35 1 62 1-18 1-39 1-8 1 25 1 22 1-18 1-16 1 2 1-6 1 22 1 8 1-19 1-4 1 3 1-4 1 26 1-18 1-24 1 39 1 19 1-68 1-7 1 86 1-11 1-63 1 1 1 24 1 34 1-13 1-56 1 20 1 69 1-34 1-33 1-6 1 21 1 15 1 5 1-27 1-47 1 106 1 63 1-282 1 57 1 338 1-152 1-254 1 160 1 122 1-129 1-25 1 98 1-33 1-35 1 20 1-4 1 22 1-11 1-31 1 44 1-2 1-54 1 53 1 17 1-74 1 47 1 34 1-75 1 28 1 45 1-49 1 12 1-31 1 41 1 46 1-101 1 31 1 60 1-84 1 40 1 27 1-64 1 43 1 5 1-22 1 15 1-1 1-20 1 11 1 27 1-27 1-26 1 53 1 2 1-56 1 22 1 42 1-27 1-44 1 35 1 40 1-33 1-47 1 40 1 50 1-65 1-16 1 78 1-42 1-54 1 93 1-25 1-64 1 69 1-8 1-25 1 11 1-2 1 0 1 16 1-14 1-7 1 8 1 7 1-9 1-9 1 9 1 15 1-8 1-10 1-1 1 16 1-14 1-10 1 14 1 16 1-12 1-18 1 12 1 11 1-6 1-8 1 2 1 16 1-21 1-2 1 18 1-4 1-3 1-12 1-1 1 21 1 9 1-26 1 1 1 14 1-12 1 7 1 2 1-4 1-2 1 3 1-5 1 4 1 8 1-10 1-7 1 14 1-4 1 0 1 4 1-12 1 4 1 10 1-11 1 2 1 6 1-4 1-9 1 17 1-8 1-2 1 4 1-3 1 6 1-5 1 1 1 1 1-7 1 0 1 8 1 6 1-13 1 1 1 4 1-1 1-3 1 9 1-4 1-11 1 12 1 3 1-6 1 2 1-10 1 4 1 9 1 2 1-12 1 5 1 2 1-1 1-5 1 0 1 12 1-6 1-9 1 15 1-11 1-3 1 6 1 7 1-13 1 1 1 17 1-17 1 7 1 1 1-20 1 32 1 2 1-43 1 26 1 9 1-16 1 11 1 0 1-6 1 1 1-1 1 11 1-8 1-9 1 6 1 1 1 14 1-20 1-2 1 16 1-5 1 6 1-15 1-4 1 15 1 6 1-7 1-19 1 26 1-2 1-25 1 16 1 14 1-14 1-4 1 0 1 14 1 0 1-13 1-3 1 5 1 5 1-2 1-4 1 1 1 0 1 8 1-3 1-9 1 2 1 13 1-10 1-5 1 9 1 7 1-27 1 13 1 24 1-30 1 14 1 2 1-19 1 15 1-3 1 4 1 4 1-10 1-4 1 12 1-5 1-5 1 10 1-5 1-7 1 16 1-5 1-11 1 7 1 4 1-7 1-1 1 7 1 5 1-11 1-2 1 8 1-3 1-9 1 8 1 7 1 0 1-10 1 0 1 9 1-8 1-1 1 11 1-1 1-13 1 5 1 5 1-4 1 9 1-7 1-7 1-1 1 9 1 7 1-12 1-2 1 8 1-1 1 2 1-8 1-8 1 28 1-16 1-13 1 27 1-17 1-3 1 13 1-5 1-6 1 2 1 5 1-2 1-6 1 2 1 8 1 0 1-13 1 10 1 4 1-13 1 9 1 10 1-19 1 0 1 10 1-8 1 6 1 0 1 0 1 9 1-20 1 3 1 16 1-7 1-9 1 6 1 7 1-11 1 6 1 6 1-15 1 10 1 3 1-7 1-2 1 2 1 10 1-10 1-4 1 8 1-1 1 7 1-12 1 0 1 0 1 6 1 7 1-14 1-2 1 14 1-2 1-21 1 16 1 14 1-14 1-7 1 5 1 7 1-3 1-5 1-1 1 8 1-2 1-6 1 6 1-1 1-3 1 1 1 3 1-2 1 0 1 1 1-1 1 0 1 0 1 0 1 0"/></g><g id="w13"><path class="a" d="M117 0l.5 0 .5 51 .5-68 .5 48 .5-40 .5 13 .5-7 .5 7 .5-12 .5 13 .5-8 .5 11 .5-10 .5 4 .5-7 .5 8 .5-6 .5 14 .5-15 .5 12 .5-11 .5 11 .5-14 .5 14 .5-15 .5 15 .5-11 .5 6 1-6 1 5 1-4 1 3 1-2 1 4 1-4 1 6 1-8 1 4 1-4 1 5 1-5 1 6 1-5 1 6 1-9 1 18 1-22 1 14 1-6 1 6 1-6 1 3 1-3 1 5 1-5 1 4 1-5 1 4 1-7 1 8 1-9 1 8 1-3 1 2 1-4 1 4 1-2 1 2 1-2 1 2 1-5 1 5 1-4 1 9 1-13 1 11 1-7 1 5 1-3 1 2 1-4 1 4 1-3 1 3 1-3 1 3 1-3 1 3 1-2 1 2 1-3 1 3 1-2 1 2 1-2 1 4 1-5 1 3 1-4 1 5 1-4 1 6 1-5 1 5 1-5 1 2 1-2 1 4"/><path d="M211 3l1-3 1 2 1-5 1 5 1-4 1 1 1-4 1 8 1 0 1-1 1-2 1-3 1 1 1 4 1 2 1 8 1-14 1 9 1-3 1-15 1 5 1 10 1 0 1-3 1-4 1 1 1 2 1 1 1-5 1 17 1-15 1-1 1 5 1-1 1-8 1 6 1 10 1-3 1-17 1 2 1 9 1 5 1-6 1 8 1-8 1-1 1 1 1-4 1 7 1 6 1-12 1 15 1-15 1-1 1 6 1-3 1-1 1 10 1-8 1 0 1 1 1-5 1 3 1 6 1-6 1 2 1 0 1 2 1-4 1 3 1 3 1 2 1-12 1 2 1-4 1 9 1 14 1-14 1-6 1 6 1-2 1 6 1-13 1 8 1 6 1-2 1-9 1 5 1-2 1 2 1-7 1 4 1 9 1 1 1-8 1 7 1-12 1-5 1 16 1 2 1-11 1 6 1-6 1 10 1-3 1-2 1-11 1 1 1 24 1-12 1-13 1 9 1 3 1 2 1-11 1 10 1-1 1 1 1-9 1 4 1 5 1 1 1-5 1 2 1-1 1-2 1-2 1 4 1 2 1 1 1-6 1-2 1 4 1 2 1-3 1 9 1-3 1-7 1 4 1 8 1-12 1-1 1 1 1 4 1-4 1 8 1-1 1-8 1 1 1 4 1-6 1 8 1 9 1-15 1-17 1 24 1 13 1-18 1-10 1 12 1 5 1 3 1-17 1-7 1 16 1 11 1-7 1-8 1-6 1 17 1-4 1-14 1 6 1 10 1-2 1-1 1-9 1-2 1 9 1 10 1-13 1-5 1 4 1 6 1 3 1 0 1-9 1-8 1 4 1 26 1-11 1-20 1 4 1 18 1-9 1-7 1 17 1-13 1-18 1 19 1 27 1-12 1-48 1 14 1 50 1-9 1-46 1 7 1 36 1-4 1-28 1 0 1 16 1 10 1-14 1 14 1-19 1-24 1 32 1 40 1-23 1-56 1 5 1 66 1 1 1-51 1-8 1 31 1 19 1-33 1-15 1 45 1-14 1-34 1 22 1 29 1-13 1-22 1-7 1 20 1-4 1-3 1 21 1-10 1-23 1 0 1 14 1 53 1-40 1-77 1 57 1 71 1-58 1-58 1 47 1 41 1-36 1 1 1 13 1-12 1-21 1 9 1 47 1-2 1-102 1 51 1 97 1-99 1-6 1 54 1-93 1 86 1 91 1-212 1 18 1 261 1-236 1-69 1 247 1-105 1-80 1 82 1 2 1-25 1-6 1 5 1 16 1-4 1-20 1 20 1-9 1 3 1 11 1-24 1 17 1 37 1-104 1 35 1 148 1-151 1-85 1 179 1 3 1-141 1 59 1 111 1-155 1 26 1 93 1-85 1 21 1 33 1-56 1 32 1 13 1-33 1 23 1-1 1-33 1 46 1-9 1-34 1 41 1-6 1-40 1 40 1-1 1-13 1 14 1-27 1-1 1 53 1-30 1-61 1 82 1 12 1-84 1 49 1 22 1-53 1 23 1 24 1-33 1 11 1 15 1-12 1-11 1 13 1-5 1-4 1 20 1-9 1-26 1 22 1 8 1-7 1-7 1 9 1-8 1 0 1 12 1-9 1-7 1 14 1 4 1-10 1-14 1 13 1 7 1-6 1-1 1 5 1-5 1-6 1 14 1-3 1-13 1 9 1-4 1 6 1-1 1 0 1-6 1 8 1 1 1-11 1 9 1 9 1-16 1 1 1 7 1 1 1-7 1-1 1 6 1-3 1 10 1-2 1-20 1 10 1 12 1-10 1-3 1 5 1 3 1-10 1 5 1 16 1-19 1-8 1 21 1-2 1-19 1 7 1 11 1-3 1-3 1-2 1-2 1 8 1-6 1 4 1-1 1-4 1 9 1-13 1 1 1 17 1-12 1-5 1 8 1 2 1-5 1 3 1-4 1 3 1-3 1 6 1-2 1-20 1 28 1 0 1-23 1 20 1-11 1 2 1 8 1-6 1 3 1-7 1 3 1 7 1-13 1 2 1 14 1-9 1-2 1 17 1-22 1-4 1 14 1 1 1-8 1 8 1 0 1-11 1 9 1 1 1-7 1 5 1-8 1 9 1 11 1-20 1-9 1 29 1-4 1-17 1-2 1 14 1 15 1-14 1-21 1 13 1 6 1-3 1 2 1-3 1-1 1 4 1-6 1 6 1 6 1-12 1-7 1 12 1 11 1-5 1-15 1 5 1 3 1-10 1 12 1 10 1-13 1-2 1-6 1 15 1-4 1-3 1 9 1-17 1 8 1 9 1-16 1 12 1 1 1-10 1 6 1-3 1 2 1 3 1-5 1 3 1 4 1-6 1 1 1-2 1-3 1 17 1-10 1-16 1 15 1 6 1-14 1 8 1 2 1-5 1 2 1 0 1 0 1-2 1 8 1-5 1-11 1 5 1 13 1 0 1-24 1 22 1 7 1-23 1 11 1 3 1-6 1 3 1-3 1 0 1 1 1 3 1 8 1-16 1-1 1 14 1-15 1 7 1 9 1-6 1-4 1-4 1 1 1 15 1-8 1-3 1 0 1-3 1 4 1 4 1-6 1 0 1 5 1 1 1-9 1 3 1 8 1-7 1-8 1 14 1-3 1-6 1 7 1-1 1-5 1 2 1 1 1 3 1-2 1-2 1-1 1 3 1 4 1-6 1-8 1 20 1-10 1-13 1 17 1-3 1-2 1 3 1-12 1 7 1 10 1-1 1-10 1-12 1 30 1 1 1-42 1 27 1 4 1-10 1 14 1-14 1 1 1 18 1-20 1-11 1 31 1-1 1-24 1 4 1 15 1-12 1 0 1 12 1-14 1 7 1 7 1-18 1 9 1 7 1-7 1-1 1 3 1 2 1-6 1 3 1 2 1-4 1 2 1 2 1-3 1 1 1 0 1 0 1 0 1 0 1 0 1 0 1 0"/></g><g id="w14"><path class="a" d="M117 0l.5 0 .5 31 .5-41 .5 30 .5-41 .5 24 .5-27 .5 31 .5-9 .5 14 .5-17 .5 13 .5-10 .5 4 .5-5 .5 9 .5-9 .5 5 .5-5 .5 6 .5-6 .5 8 .5-11 .5 10 .5-11 .5 15 .5-16 .5 15 1-10 1 5 1-3 1 2 1-2 1 3 1-5 1 5 1-4 1 3 1-2 1 2 1-2 1 2 1-2 1 4 1-11 1 20 1-17 1 9 1-5 1 3 1-3 1 5 1-7 1 4 1-3 1 5 1-5 1 7 1-8 1 10 1-12 1 6 1-3 1 4 1-6 1 5 1-2 1 2 1-2 1 2 1-2 1 5 1-8 1 11 1-11 1 9 1-8 1 5 1-4 1 3 1-2 1 2 1-2 1 2 1-3 1 3 1-2 1 2 1-1 1 1 1-2 1 2 1-2 1 4 1-5 1 6 1-5 1 2 1-2 1 2 1-3 1 3 1-2 1 2 1-2 1 2 1-2 1 2"/><path d="M211 1l1 6 1 12 1-25 1-7 1 5 1 11 1-3 1 6 1-4 1-8 1-6 1 18 1-3 1-11 1 8 1 7 1-12 1 4 1 12 1-9 1-24 1 15 1 22 1 9 1-32 1-5 1 13 1 9 1-10 1 2 1-7 1 0 1 2 1 12 1 0 1-11 1-2 1 5 1 2 1 3 1-14 1 9 1-5 1 8 1 8 1-11 1-7 1 6 1 1 1 4 1-7 1 4 1 1 1 4 1 1 1-10 1-9 1 10 1 8 1-5 1 9 1-5 1-20 1 11 1 11 1-1 1-8 1-4 1 9 1-3 1-11 1 14 1 0 1-1 1-9 1-1 1 13 1 3 1-10 1 6 1-7 1 4 1-4 1 1 1 8 1 1 1-9 1-3 1 0 1 13 1-12 1 2 1 5 1-5 1 3 1 0 1-7 1 9 1-2 1 0 1-8 1 7 1 9 1-5 1-8 1-9 1 24 1-11 1-13 1 35 1-32 1 11 1 4 1-2 1-7 1-5 1 10 1 3 1-2 1 4 1-6 1 0 1-2 1 0 1 1 1 5 1-7 1 1 1 2 1 10 1-11 1-4 1-1 1 7 1 4 1-3 1-2 1-5 1-1 1 7 1 2 1 2 1-1 1-5 1-5 1 11 1-7 1-1 1 4 1 4 1-5 1-3 1-3 1 5 1 5 1 1 1-10 1 3 1-3 1 11 1-7 1-5 1 11 1 2 1-12 1 5 1 2 1 0 1-2 1 1 1-5 1 9 1-6 1 1 1 2 1 0 1-3 1 0 1-6 1 8 1 2 1 2 1-9 1-2 1 9 1 16 1-17 1-18 1 7 1 18 1 1 1-14 1-7 1 8 1 13 1 1 1-21 1-5 1 9 1 22 1-1 1-19 1-18 1 5 1 42 1 26 1-66 1-72 1 71 1 112 1-58 1-102 1 22 1 86 1 3 1-75 1-33 1 70 1 41 1-37 1-43 1 7 1 39 1 5 1-32 1 0 1 16 1 2 1-9 1 2 1 3 1 0 1-11 1-1 1 11 1 11 1-20 1-2 1 23 1-8 1-32 1 26 1 30 1-25 1-22 1-9 1 31 1 59 1-77 1-55 1 85 1 29 1-52 1-19 1 12 1 37 1 1 1-45 1-7 1 29 1 17 1 0 1-40 1-10 1 56 1-7 1-29 1 25 1-44 1 6 1 96 1-53 1-117 1 71 1 134 1-67 1-128 1 76 1 58 1-55 1 10 1 13 1-50 1 43 1 28 1-71 1 27 1 57 1-67 1-14 1 57 1-16 1-19 1 5 1 10 1 21 1-55 1 14 1 67 1-79 1 13 1 60 1-100 1 71 1 34 1-119 1 74 1 55 1-111 1 58 1 21 1-55 1 29 1 7 1-21 1 15 1 7 1-4 1-12 1-13 1 23 1 26 1-50 1 3 1 55 1-44 1-33 1 63 1 2 1-56 1 17 1 39 1-13 1-32 1-2 1 40 1-3 1-34 1 13 1 28 1-33 1-12 1 40 1-3 1-31 1 19 1 9 1-20 1 0 1 9 1-3 1 4 1-1 1-4 1 10 1-3 1-10 1 3 1-3 1 13 1-4 1-4 1-2 1 8 1 4 1-19 1-4 1 15 1 4 1 9 1-11 1-19 1 17 1-1 1-7 1 17 1-5 1-8 1 0 1 1 1 4 1 0 1-9 1 1 1 13 1 3 1-15 1-6 1 19 1 3 1-21 1 9 1 11 1-17 1 4 1 11 1-17 1 14 1-3 1-7 1 8 1-2 1-5 1 11 1-6 1-16 1 27 1 6 1-38 1 21 1 13 1-28 1 12 1 17 1-16 1-8 1 3 1 15 1-7 1-6 1 5 1-2 1 2 1 4 1-9 1 8 1-8 1-3 1 15 1-10 1-1 1 7 1-1 1-10 1-5 1 31 1-8 1-37 1 31 1 10 1-27 1 12 1 7 1-13 1 6 1 6 1-13 1 10 1 0 1-7 1 2 1 0 1 4 1 3 1-9 1 4 1 2 1-5 1 1 1 2 1 6 1-7 1-13 1 25 1-8 1-10 1 3 1 9 1 7 1-18 1 0 1 10 1-4 1-3 1 7 1 0 1-11 1 9 1 2 1-8 1 2 1 3 1 3 1-10 1 4 1 15 1-14 1-1 1-4 1 4 1 8 1-1 1-3 1-15 1 11 1 15 1-21 1 3 1 16 1-16 1 6 1 8 1-21 1 12 1 6 1-13 1 5 1 11 1-15 1 2 1 9 1-6 1-4 1 12 1-8 1-7 1 6 1 8 1-9 1 4 1 5 1-2 1-13 1 6 1 15 1-15 1 2 1 6 1-15 1 13 1-6 1 1 1 9 1-12 1 1 1 12 1-6 1 0 1-14 1 9 1 16 1-19 1 3 1 10 1-12 1 10 1-1 1-16 1 10 1 11 1 0 1-12 1-8 1 14 1-1 1-8 1 12 1-6 1-2 1 3 1-2 1 4 1-3 1-1 1-4 1 13 1-10 1-2 1 7 1-3 1 1 1-2 1 2 1-4 1-1 1 10 1-4 1-4 1-1 1 15 1-20 1 0 1 17 1-10 1-2 1 6 1-1 1-2 1-3 1-2 1 8 1 1 1-6 1 5 1-2 1-7 1 7 1 3 1-6 1 3 1-2 1-3 1 3 1 7 1-4 1-3 1-1 1 1 1 1 1 2 1 1 1-8 1 6 1-2 1 1 1 8 1-15 1 9 1 1 1-10 1 7 1 3 1-8 1 7 1 4 1-7 1 1 1-4 1 3 1 5 1-7 1 1 1 2 1-3 1 6 1 0 1-7 1 6 1-5 1-2 1 11 1-2 1-6 1 0 1 5 1-3 1-3 1 10 1-11 1-1 1 12 1-7 1-4 1 6 1-1 1-2 1 1 1 0 1 0 1 0 1 0"/></g><g id="w15"><path class="a" d="M117 0l.5 0 .5 34 .5-63 .5 44 .5-36 .5 27 .5-11 .5 9 .5-8 .5 6 .5-5 .5 5 .5-5 .5 9 .5-8 .5 4 .5-10 .5 11 .5-5 .5 5 .5-6 .5 10 .5-18 .5 16 .5-12 .5 12 .5-16 .5 17 1-13 1 12 1-6 1 5 1-6 1 3 1-5 1 5 1-2 1 2 1-4 1 4 1-2 1 2 1-4 1 9 1-22 1 37 1-26 1 7 1-4 1 4 1-3 1 2 1-2 1 2 1-3 1 3 1-6 1 10 1-7 1 4 1-6 1 6 1-5 1 4 1-2 1 3 1-3 1 6 1-6 1 2 1-3 1 5 1-5 1 6 1-11 1 11 1-10 1 8 1-5 1 4 1-3 1 3 1-2 1 3 1-5 1 4 1-2 1 2 1-2 1 6 1-9 1 5 1-2 1 5 1-5 1 2 1-1 1 1 1-2 1 1 1-6 1 7 1-2 1 5 1-5 1 2 1-4 1 5"/><path d="M211 2l1-13 1-8 1 16 1-7 1 13 1 24 1-23 1-22 1 9 1 18 1 2 1-13 1-17 1 26 1-2 1-9 1-1 1 14 1 3 1-17 1-7 1 8 1 2 1 5 1 0 1 0 1-8 1 9 1-5 1 6 1-1 1-8 1 2 1 5 1-1 1 1 1-14 1 7 1 7 1-3 1 0 1 9 1-5 1-4 1-6 1-2 1 9 1 11 1-4 1-18 1-1 1 20 1-2 1-10 1-4 1 11 1-4 1 2 1-9 1 7 1-2 1 4 1 0 1-3 1 0 1 2 1-2 1 8 1-2 1-12 1 9 1-4 1 0 1 10 1-12 1 5 1-3 1 3 1-1 1-1 1 1 1 5 1-6 1 0 1-2 1 10 1-11 1-2 1 6 1 8 1-4 1-5 1-3 1 0 1 2 1 6 1-8 1 3 1 7 1-8 1 1 1 8 1-12 1 8 1-6 1-10 1 17 1 16 1-9 1-27 1 0 1 25 1-6 1-5 1 1 1 13 1-11 1-4 1 3 1-2 1-2 1 3 1-3 1 6 1 2 1-5 1 1 1 7 1-13 1 6 1 3 1-4 1-1 1 6 1-3 1 6 1-4 1-9 1 1 1 7 1-4 1 4 1-2 1 2 1-4 1 2 1-2 1 1 1 4 1 6 1-17 1-5 1 16 1 1 1-2 1-1 1-3 1 3 1-11 1 7 1 10 1 2 1-2 1-18 1-1 1 18 1 7 1-13 1-14 1 10 1 7 1 2 1-5 1-1 1 1 1 4 1 0 1-5 1-4 1 3 1 1 1 4 1-7 1 7 1-5 1 3 1 7 1-10 1-2 1 5 1-9 1 19 1-9 1-18 1 16 1 25 1-23 1-23 1 14 1 29 1-12 1-39 1 7 1 59 1-7 1-63 1-11 1 80 1 25 1-97 1-37 1 104 1 41 1-97 1-54 1 92 1 61 1-65 1-72 1 32 1 83 1 1 1-85 1-24 1 63 1 37 1-38 1-29 1 9 1 24 1 9 1-25 1-19 1 18 1 30 1 7 1-39 1-27 1 18 1 46 1 1 1-41 1-14 1 33 1-19 1 29 1 20 1-74 1 9 1 54 1-19 1-3 1-10 1-7 1 26 1-6 1-27 1 34 1-4 1-20 1 10 1-7 1 4 1 10 1-5 1 2 1-8 1-5 1 22 1-8 1-20 1 23 1-10 1 3 1 25 1-81 1 49 1 108 1-164 1-25 1 199 1-74 1-146 1 127 1 31 1-75 1 18 1 15 1-16 1 15 1-12 1-6 1 30 1-8 1-30 1 22 1 8 1-49 1 59 1-7 1-39 1 78 1-93 1 8 1 90 1-65 1-31 1 53 1-1 1-12 1-28 1 17 1 52 1-57 1-27 1 80 1-29 1-52 1 81 1-28 1-55 1 73 1-17 1-59 1 78 1 2 1-97 1 72 1 35 1-80 1 18 1 73 1-60 1-44 1 70 1 13 1-58 1 18 1 26 1-28 1 0 1 25 1-21 1-5 1 16 1-3 1-2 1 2 1-8 1-4 1 22 1-16 1-9 1 34 1-31 1 1 1 14 1-5 1-4 1 2 1 4 1-3 1 4 1-16 1 6 1 26 1-36 1 8 1 29 1-26 1-3 1 24 1-36 1 17 1 18 1-22 1 10 1-2 1-5 1 8 1-1 1-3 1-4 1 7 1-8 1 4 1 2 1 4 1-6 1-6 1 10 1-3 1-4 1 11 1-1 1-11 1-2 1 10 1-3 1 0 1 13 1-14 1-17 1 27 1-6 1-8 1-3 1 9 1 16 1-16 1-15 1 10 1 13 1-2 1-8 1-4 1-4 1 18 1-4 1-15 1 6 1 11 1-6 1 1 1-4 1 2 1-1 1 5 1-3 1-2 1-3 1-3 1 15 1-3 1-14 1 8 1 18 1-11 1-24 1 7 1 25 1-23 1 11 1 24 1-39 1-5 1 33 1-11 1-8 1-2 1 4 1 4 1-3 1 13 1-10 1-15 1 13 1 9 1-5 1-25 1 22 1 23 1-39 1 13 1-1 1 3 1 9 1-15 1 6 1 6 1-13 1 5 1 6 1 3 1-11 1-3 1 14 1-10 1-1 1 11 1-6 1-4 1 7 1-7 1-4 1 16 1-12 1-2 1 14 1-2 1-19 1 2 1 25 1-17 1-5 1 21 1-21 1-2 1 15 1 0 1-6 1-2 1-3 1 2 1 5 1 2 1-2 1 0 1-5 1-3 1 5 1 11 1-10 1-1 1-3 1-6 1 15 1 7 1-19 1 4 1 10 1-10 1 1 1 6 1-2 1-6 1 2 1 3 1-1 1 6 1-12 1 3 1 5 1 0 1 6 1-20 1 14 1 4 1-19 1 20 1-6 1-8 1 12 1-4 1-7 1 7 1-4 1 10 1-3 1-10 1 11 1-7 1-2 1 8 1-5 1 4 1-7 1 3 1 5 1-10 1 7 1 0 1-2 1 3 1-2 1 0 1-1 1 0 1 3 1-2 1-4 1 6 1 1 1-6 1-2 1 3 1 10 1-6 1-8 1 8 1-7 1 9 1 1 1-9 1 4 1 0 1-4 1 9 1-3 1-6 1 4 1 9 1-11 1-7 1 16 1-7 1-12 1 17 1 1 1-5 1-2 1 5 1-11 1 6 1 1 1 0 1 5 1-8 1 0 1 10 1-4 1-8 1 3 1 8 1-3 1-11 1 11 1 3 1-16 1 6 1 15 1-9 1-10 1 7 1 6 1 3 1-11 1-9 1 12 1 11 1-12 1-4 1 4 1 9 1-12 1 2 1 9 1-12 1 0 1 11 1-6 1-4 1 2 1 5 1 1 1-8 1 4 1 2 1-4 1 3 1 0 1-1 1 0 1-2 1 2 1 1 1-1 1 0 1 0 1 0 1 0"/></g><g id="w16"><path class="a" d="M117 0l.5 0 .5 34 .5-42 .5 13 .5-10 .5 18 .5-20 .5 10 .5-8 .5 7 .5-12 .5 14 .5-17 .5 16 .5-5 .5 4 .5-5 .5 5 .5-3 .5 7 .5-9 .5 7 .5-11 .5 15 .5-16 .5 20 .5-19 .5 12 1-7 1 4 1-5 1 4 1-3 1 4 1-5 1 4 1-2 1 3 1-3 1 2 1-2 1 3 1-5 1 9 1-16 1 21 1-19 1 12 1-5 1 2 1-2 1 3 1-4 1 3 1-4 1 4 1-2 1 3 1-8 1 9 1-6 1 4 1-2 1 3 1-3 1 2 1-6 1 6 1-3 1 3 1-5 1 6 1-4 1 7 1-10 1 11 1-8 1 4 1-4 1 4 1-5 1 5 1-3 1 3 1-3 1 2 1-2 1 2 1-2 1 2 1-2 1 4 1-4 1 2 1-3 1 3 1-3 1 3 1-4 1 4 1-2 1 2 1-2 1 2 1-2 1 2 1-2 1 2"/><path d="M211 1l1 18 1-3 1-55 1 36 1 27 1-27 1-8 1 11 1 16 1-4 1-16 1 4 1-8 1 21 1 0 1-27 1-4 1 19 1 4 1 8 1-9 1-9 1 4 1-3 1 0 1 14 1-13 1 6 1 1 1-7 1-8 1 12 1 5 1-6 1-2 1 11 1-10 1-1 1-1 1 6 1 0 1 0 1-16 1 11 1 13 1-11 1-6 1 9 1-5 1 3 1 4 1 1 1-13 1 1 1 3 1 10 1-5 1-2 1 2 1 5 1-9 1-13 1 16 1 15 1-23 1 0 1 2 1 4 1 9 1-9 1 1 1 7 1-13 1 8 1 0 1-12 1-1 1 22 1 1 1-5 1-15 1-6 1 14 1 12 1-9 1-1 1-10 1 13 1-1 1-8 1-1 1 2 1 3 1 11 1-16 1 3 1 0 1-3 1 4 1 11 1-12 1-3 1 9 1-5 1 0 1 5 1-8 1-3 1 22 1-10 1-19 1 15 1 2 1-1 1-7 1 2 1 1 1 4 1-5 1 10 1-3 1-6 1 2 1 1 1 0 1 3 1-5 1-2 1 1 1-2 1 3 1 7 1-5 1-5 1 1 1 4 1-4 1 4 1 4 1-4 1-4 1 8 1-7 1 0 1 2 1 3 1-2 1-2 1-9 1 10 1 8 1 0 1-10 1-8 1 7 1 19 1-11 1-15 1 4 1 12 1-1 1-8 1-8 1 11 1 12 1-6 1-16 1 8 1 9 1 1 1-15 1-4 1 14 1 2 1-7 1 3 1-4 1 10 1-8 1-11 1 9 1 17 1-10 1-18 1 8 1 18 1-9 1-15 1 11 1 14 1-24 1-3 1 25 1 11 1-28 1-21 1 24 1 49 1-33 1-52 1 14 1 41 1 14 1-27 1-36 1 14 1 32 1 30 1-27 1-61 1-3 1 74 1 34 1-51 1-56 1 19 1 65 1 6 1-77 1-19 1 68 1 40 1-51 1-46 1 18 1 52 1 7 1-38 1-34 1 28 1 38 1-6 1-49 1 7 1 30 1-8 1 16 1-6 1-61 1 31 1 46 1-1 1-28 1-45 1 1 1 87 1 48 1-94 1-78 1 52 1 71 1 1 1-67 1-15 1 55 1 8 1-31 1-3 1-9 1 19 1 60 1-62 1-93 1 141 1 5 1-117 1 103 1-11 1-109 1 108 1 51 1-133 1 45 1 19 1-49 1 112 1-48 1-95 1 78 1 31 1-27 1-3 1-58 1 68 1 23 1-69 1 15 1 42 1-26 1-21 1 19 1 28 1-35 1-25 1 58 1-2 1-57 1 29 1 29 1-32 1-7 1 33 1-12 1-32 1 32 1 13 1-43 1 32 1 4 1-17 1 3 1-7 1 13 1 22 1-43 1-1 1 44 1-26 1-26 1 38 1 0 1-29 1 14 1 4 1 7 1 15 1-62 1 44 1 33 1-80 1 48 1 30 1-72 1 34 1 29 1-36 1-12 1 34 1-9 1-6 1 10 1-17 1 4 1 20 1-16 1-13 1 17 1 4 1-7 1-1 1-7 1 13 1 1 1-13 1 10 1 0 1-4 1 10 1-20 1 9 1 1 1-4 1 15 1-1 1-24 1 6 1 21 1-7 1-15 1 14 1-15 1 11 1 9 1-13 1 10 1-5 1-21 1 35 1-8 1-24 1 28 1-4 1-22 1 23 1 0 1-16 1 5 1 5 1 0 1-1 1-4 1 7 1-1 1-10 1 6 1 0 1 0 1 7 1-12 1 9 1-1 1-9 1 9 1-5 1 10 1-9 1-4 1 22 1-17 1-8 1 9 1-1 1 10 1-22 1 13 1 25 1-42 1 10 1 10 1-1 1 4 1-14 1 7 1 8 1-14 1 7 1-1 1 5 1 1 1-15 1 6 1 15 1-8 1-12 1 5 1 18 1-18 1-4 1 19 1-14 1-9 1 19 1-1 1-18 1 13 1 17 1-27 1-8 1 27 1 5 1-28 1 2 1 20 1-1 1-10 1-1 1 2 1 5 1-5 1 0 1 1 1-6 1 5 1 7 1-13 1 10 1 4 1-14 1 3 1 15 1-13 1-3 1 11 1-11 1 3 1 7 1-6 1 0 1-2 1 2 1 1 1 4 1-9 1 10 1 7 1-30 1 18 1 19 1-36 1 5 1 33 1-12 1-34 1 20 1 28 1-13 1-27 1 4 1 19 1 7 1-12 1-6 1 4 1-1 1-1 1 6 1 1 1-5 1-2 1-3 1 9 1 13 1-15 1-18 1 9 1 23 1-13 1-11 1 12 1-1 1-2 1 10 1-17 1 0 1 9 1 3 1-2 1-6 1-6 1 13 1 8 1-19 1 7 1-2 1-4 1 9 1 4 1-6 1-10 1 17 1-2 1-14 1 10 1 0 1-5 1 7 1-13 1 10 1 11 1-20 1 8 1 6 1-14 1 11 1-3 1 4 1 1 1-13 1 0 1 18 1-10 1-4 1 3 1 0 1 6 1-6 1 0 1 8 1-9 1-1 1 8 1-9 1 1 1 9 1-14 1 6 1 13 1-14 1-8 1 25 1-8 1-19 1 17 1 0 1-7 1 2 1 1 1-5 1 8 1-4 1-5 1 15 1-7 1-9 1 13 1-8 1 0 1 6 1-8 1 5 1 2 1-3 1 0 1-1 1-1 1 6 1-4 1-7 1 8 1 7 1-4 1-10 1 7 1-3 1 2 1-2 1-3 1 14 1-7 1-1 1-8 1 1 1 20 1-12 1-13 1 15 1 1 1-13 1 2 1 13 1-2 1-7 1-2 1 10 1-9 1-7 1 21 1-8 1-10 1 6 1 5 1-4 1-1 1 3 1-4 1 3 1 0 1-3 1 2 1 2 1-2 1 0 1 0 1 1 1-1 1-1 1 1 1 0 1 0 1 0 1 0"/></g><g id="w17"><path class="a" d="M117 0l.5 0 .5 8 .5-23 .5 25 .5-14 .5 33 .5-36 .5 9 .5-4 .5 16 .5-17 .5 8 .5-7 .5 14 .5-14 .5 4 .5-5 .5 5 .5-8 .5 10 .5-8 .5 9 .5-16 .5 16 .5-16 .5 16 .5-13 .5 14 1-8 1 7 1-9 1 6 1-3 1 5 1-5 1 3 1-5 1 6 1-4 1 2 1-3 1 3 1-3 1 7 1-20 1 28 1-20 1 9 1-3 1 2 1-4 1 5 1-3 1 3 1-3 1 2 1-3 1 3 1-9 1 13 1-8 1 4 1-2 1 2 1-3 1 4 1-3 1 2 1-2 1 2 1-3 1 5 1-6 1 7 1-8 1 8 1-7 1 4 1-2 1 3 1-5 1 4 1-2 1 2 1-2 1 5 1-8 1 5 1-1 1 1 1-2 1 3 1-3 1 7 1-9 1 4 1-2 1 2 1-4 1 4 1-2 1 2 1-2 1 2 1-1 1 1 1-2 1 2"/><path d="M211 1l1-2 1 5 1 11 1-12 1-12 1 8 1 1 1-6 1 2 1 9 1 1 1-4 1-3 1 3 1-3 1 1 1-16 1 13 1 19 1-9 1-17 1 6 1 1 1 13 1-7 1-16 1 16 1 7 1-19 1 7 1 2 1-1 1 1 1 3 1-5 1 9 1-3 1-13 1 0 1 13 1 0 1-10 1-5 1 17 1 5 1-4 1-8 1-5 1-4 1 15 1-2 1 1 1-7 1 1 1 1 1-3 1 7 1 4 1-10 1 4 1-6 1 4 1 4 1 2 1-13 1 10 1 1 1-5 1 2 1 4 1-5 1-6 1 1 1 5 1 9 1 4 1-17 1 6 1-3 1 1 1-10 1 9 1 8 1 3 1-5 1-1 1-17 1 13 1 10 1-8 1 0 1-5 1 4 1 9 1-15 1 7 1 2 1-2 1 1 1-8 1 0 1 13 1-6 1-1 1-6 1 2 1-1 1 13 1 1 1-13 1-4 1 8 1-4 1 4 1 1 1 4 1-5 1-2 1 4 1 4 1-10 1 1 1 3 1 4 1-3 1-7 1 1 1 9 1 0 1-5 1-2 1 10 1-10 1 0 1 5 1-2 1-6 1 13 1-11 1 2 1 6 1 0 1-4 1-1 1-3 1 4 1 2 1-1 1 2 1-4 1-4 1 5 1 1 1-5 1 9 1 8 1-20 1-1 1 5 1 10 1-3 1-7 1-6 1 5 1 8 1 2 1-13 1 5 1 3 1 5 1 5 1-13 1-8 1 7 1 2 1 11 1-5 1-11 1-3 1 13 1-1 1-3 1-5 1 4 1 8 1-3 1-14 1 3 1 11 1 12 1-13 1-19 1 4 1 23 1 3 1-10 1-26 1 14 1 28 1-1 1-41 1-5 1 39 1 20 1-34 1-32 1 17 1 44 1-5 1-30 1-14 1 23 1 18 1-17 1-24 1 18 1 28 1-19 1-33 1 30 1 23 1-22 1-17 1 1 1 17 1 26 1-22 1-35 1-2 1 47 1 19 1-63 1-19 1 79 1 4 1-60 1-5 1 42 1 8 1-30 1-18 1 24 1 20 1-8 1-26 1 8 1 4 1-6 1 37 1 3 1-76 1 26 1 51 1-35 1-20 1 37 1-12 1-17 1 26 1 9 1-30 1-22 1 40 1 47 1-60 1-64 1 48 1 106 1-48 1-134 1 74 1 89 1-64 1-1 1-13 1-5 1 40 1-12 1-48 1 38 1 27 1-38 1 2 1 26 1-25 1-12 1 34 1-4 1-40 1 44 1 12 1-66 1 40 1 41 1-86 1 35 1 56 1-70 1 5 1 39 1-28 1 14 1 4 1-33 1 28 1 12 1-45 1 39 1 15 1-59 1 32 1 34 1-77 1 48 1 32 1-81 1 42 1 50 1-66 1-22 1 69 1 8 1-92 1 55 1 62 1-116 1 37 1 96 1-136 1 43 1 78 1-130 1 69 1 55 1-102 1 42 1 19 1-29 1 23 1-11 1-15 1 24 1-2 1-15 1 6 1 6 1-5 1 1 1 3 1-3 1-9 1 19 1-8 1-8 1 1 1 4 1 13 1-10 1-6 1 7 1-8 1-3 1 24 1-12 1-27 1 33 1 1 1-18 1-4 1 10 1 13 1-10 1-3 1-1 1-4 1 6 1-1 1 8 1-2 1-17 1 15 1 7 1-19 1 11 1-1 1-4 1 9 1-8 1-2 1 18 1-25 1 0 1 27 1-11 1-19 1 14 1 6 1-9 1 2 1 6 1-14 1 10 1 6 1-7 1-1 1 6 1-5 1-8 1 3 1 5 1 9 1-5 1-14 1 15 1-6 1 1 1 2 1-12 1 17 1-5 1-12 1 21 1-15 1 9 1-11 1 5 1 6 1-8 1 0 1 2 1 16 1-23 1-4 1 28 1-18 1-8 1 18 1-6 1-12 1 16 1-4 1-12 1 17 1 2 1-24 1 12 1 19 1-9 1-17 1 6 1-7 1 25 1-4 1-19 1 10 1-9 1-2 1 27 1-10 1-20 1 16 1-8 1 0 1 17 1-13 1-3 1 5 1-1 1 4 1-1 1-9 1 2 1 2 1 8 1-2 1-9 1 4 1 3 1-2 1 3 1-8 1 0 1 5 1 3 1-3 1 4 1-4 1-6 1 1 1 11 1 1 1-7 1-4 1 1 1 1 1 7 1-4 1-1 1-5 1 4 1 8 1-3 1-13 1 7 1 12 1-7 1-11 1 5 1 8 1 1 1-18 1 3 1 29 1-18 1-16 1 14 1 11 1-8 1-15 1 16 1 2 1-13 1 5 1 7 1-8 1 2 1 4 1-5 1 3 1 5 1-10 1-1 1 7 1 4 1-13 1 6 1 9 1-14 1 4 1 11 1-17 1 5 1 7 1-9 1 9 1-4 1-5 1 14 1-7 1-18 1 20 1 4 1-10 1 2 1-4 1 5 1-2 1 5 1-4 1-2 1 2 1 5 1-11 1 1 1 12 1-11 1 8 1 1 1-10 1 6 1-2 1-3 1 7 1 5 1-14 1 7 1 6 1-18 1 6 1 22 1-18 1-10 1 17 1-2 1-4 1-7 1 4 1 12 1-11 1-4 1 9 1 1 1-7 1 4 1-3 1 3 1 1 1-1 1 3 1-10 1 1 1 10 1-3 1-6 1 6 1 6 1-13 1-2 1 8 1 6 1-12 1 1 1 10 1-5 1-4 1 8 1-10 1-2 1 18 1-10 1-8 1 12 1-9 1 0 1 10 1-10 1 3 1 8 1-14 1 9 1 4 1-12 1 3 1 17 1-15 1-11 1 17 1-5 1-1 1 6 1-6 1 0 1 0 1 1 1-3 1 5 1 1 1-5 1 2 1 2 1-2 1 0 1 0 1 0 1-1 1 1 1 0 1 0 1 0 1 0 1 0"/></g><g id="w18"><path class="a" d="M117 0l.5 0 .5 7 .5-17 .5 16 .5-19 .5 17 .5-20 .5 23 .5-11 .5 11 .5-9 .5 21 .5-28 .5 11 .5-6 .5 6 .5-5 .5 8 .5-10 .5 9 .5-11 .5 11 .5-7 .5 8 .5-9 .5 10 .5-10 .5 8 1-6 1 4 1-3 1 3 1-3 1 2 1-7 1 10 1-7 1 7 1-5 1 2 1-2 1 2 1-3 1 5 1-15 1 44 1-35 1 4 1-4 1 4 1-7 1 7 1-3 1 3 1-3 1 3 1-2 1 5 1-9 1 8 1-7 1 5 1-2 1 2 1-4 1 6 1-4 1 2 1-7 1 9 1-5 1 4 1-5 1 9 1-10 1 6 1-6 1 6 1-3 1 2 1-2 1 2 1-2 1 6 1-6 1 2 1-4 1 6 1-4 1 2 1-2 1 2 1-2 1 4 1-4 1 3 1-4 1 3 1-2 1 2 1-2 1 4 1-4 1 2 1-2 1 3 1-4 1 3"/><path d="M211 1l1-3 1 13 1-3 1 8 1-19 1-38 1 40 1 29 1-30 1 3 1-8 1 4 1 16 1-13 1-11 1 16 1 6 1-17 1-9 1 18 1-1 1 5 1-5 1-4 1 3 1-5 1 4 1 10 1-16 1 0 1 12 1-4 1-8 1 8 1-5 1 4 1-6 1 9 1 0 1-2 1-9 1 5 1 5 1 1 1-9 1 11 1-7 1 3 1-3 1-1 1 0 1 8 1-9 1-4 1 12 1-7 1-4 1 16 1-3 1-16 1-7 1 25 1-1 1-10 1 5 1 0 1-9 1 6 1 2 1-1 1-6 1 5 1 4 1 3 1-8 1-3 1-3 1 11 1-6 1 2 1 1 1 4 1 1 1-7 1-4 1 4 1-5 1 11 1 2 1-8 1-5 1 5 1 6 1 6 1-14 1-6 1 5 1 17 1-10 1-12 1 4 1 7 1 2 1 2 1-15 1 18 1-10 1-9 1 19 1-14 1 10 1-4 1-9 1 3 1 8 1-1 1-2 1 6 1-3 1-1 1-12 1 9 1 7 1-8 1 1 1 3 1-6 1 7 1-2 1-3 1 1 1 12 1-10 1-7 1 6 1 3 1-4 1 1 1-7 1 9 1 4 1-13 1-2 1 19 1-5 1-12 1 4 1 8 1-11 1 8 1 3 1-4 1-7 1 1 1 8 1 2 1-13 1 2 1 16 1 2 1-15 1 1 1-3 1 10 1-6 1-4 1 12 1 3 1-20 1 8 1 8 1-10 1-3 1 17 1-5 1-9 1-3 1 0 1 8 1 2 1 2 1 0 1-19 1 6 1 12 1 3 1-3 1-5 1-10 1 10 1 12 1-2 1-17 1-2 1 14 1 5 1-13 1-4 1 7 1 13 1-16 1-14 1 22 1 15 1-36 1-7 1 38 1 29 1-45 1-49 1 36 1 66 1-19 1-71 1-13 1 75 1 39 1-62 1-50 1 36 1 46 1-5 1-52 1-10 1 52 1 28 1-54 1-39 1 48 1 43 1-44 1-26 1 35 1 8 1-29 1-1 1 10 1 39 1-22 1-51 1 22 1 54 1-13 1-52 1-27 1 71 1 37 1-65 1-15 1 37 1-9 1-14 1 19 1 3 1-24 1 9 1 20 1-26 1-2 1 46 1-37 1-22 1 37 1-8 1-13 1 23 1-11 1-14 1 8 1 12 1-4 1 0 1-6 1-46 1 75 1 89 1-224 1 63 1 148 1-148 1 41 1 26 1-54 1 52 1-13 1-23 1 17 1 1 1 0 1 11 1-28 1 3 1 25 1-10 1-14 1 13 1 16 1-31 1-28 1 91 1-19 1-93 1 58 1 54 1-64 1-16 1 33 1 18 1-6 1-58 1 33 1 60 1-51 1-32 1 35 1 28 1-44 1-14 1 58 1-25 1-23 1 36 1-26 1 8 1-1 1-9 1 36 1-52 1 26 1 31 1-70 1 45 1 39 1-92 1 48 1 36 1-79 1 50 1 26 1-54 1 8 1 28 1-24 1 5 1 11 1-12 1 5 1 2 1-7 1 6 1 1 1-2 1-5 1 0 1 8 1-3 1-8 1 8 1 7 1-17 1 6 1 11 1-17 1 13 1-7 1 5 1 1 1-10 1 19 1-5 1-34 1 29 1 22 1-37 1 11 1 6 1-17 1 25 1-10 1-6 1 6 1-3 1-1 1 6 1-8 1-4 1 14 1 7 1-25 1 0 1 26 1-9 1-8 1 9 1-24 1 22 1 1 1-3 1-8 1 5 1 9 1-9 1 0 1-4 1 13 1-14 1 1 1 10 1-5 1-2 1-4 1 16 1-11 1-1 1 9 1-10 1-8 1 15 1 6 1-16 1 0 1 14 1-5 1-8 1 2 1 2 1-1 1 2 1 4 1 3 1-12 1 2 1 15 1-16 1-3 1 10 1-5 1 2 1-4 1 4 1 7 1-7 1-10 1 9 1 16 1-13 1-14 1 11 1 12 1-15 1-1 1 13 1-9 1-3 1 0 1 8 1 3 1-18 1 10 1 11 1-16 1 4 1-1 1 2 1 5 1-2 1-2 1 0 1-5 1 10 1-5 1-5 1 11 1 4 1-23 1 6 1 15 1-5 1-8 1 9 1-5 1-6 1 15 1-10 1-4 1 12 1-7 1 9 1-11 1-18 1 35 1-5 1-14 1 5 1-11 1 16 1 2 1-4 1-9 1 6 1-1 1-6 1 13 1-1 1-12 1 6 1 3 1 1 1-13 1 8 1 17 1-14 1-8 1 8 1-5 1 1 1 9 1-2 1-7 1 3 1 1 1-1 1-7 1 8 1 2 1 0 1-3 1 0 1-3 1 1 1 12 1-12 1-7 1 19 1-7 1-9 1 2 1 6 1 2 1-8 1-3 1 15 1-5 1-1 1 2 1-15 1 12 1 1 1 0 1-3 1 1 1 14 1-29 1 7 1 17 1-4 1-11 1-3 1 23 1-12 1-16 1 23 1-3 1-12 1 6 1-2 1 1 1 8 1-12 1 4 1 4 1-5 1 2 1 2 1-9 1 8 1 12 1-10 1-20 1 17 1 12 1-10 1-14 1 16 1 6 1-22 1 12 1 4 1-7 1 11 1-12 1-10 1 30 1-9 1-21 1 14 1 5 1 0 1-10 1 1 1 5 1 3 1 0 1-9 1-1 1 5 1 6 1-2 1 1 1 1 1-17 1 9 1 14 1-14 1 1 1 3 1-5 1 0 1 13 1-2 1-15 1 10 1-3 1-2 1 11 1-10 1-7 1 9 1 4 1-1 1-8 1 6 1 2 1-5 1 4 1-1 1-12 1 16 1 4 1-23 1 19 1 11 1-28 1 0 1 27 1-16 1-4 1 10 1-6 1 2 1-3 1 0 1 4 1-1 1-3 1 2 1 0 1 0 1 0 1 0 1 0"/></g><g id="w19"><path class="a" d="M117 0l.5 0 .5 8 .5-16 .5 27 .5-29 .5 15 .5-7 .5 15 .5-28 .5 20 .5-8 .5 16 .5-16 .5 7 .5-6 .5 4 .5-5 .5 4 .5-7 .5 15 .5-12 .5 6 .5-12 .5 17 .5-12 .5 11 .5-12 .5 7 1-4 1 10 1-9 1 2 1-4 1 8 1-6 1 2 1-2 1 3 1-3 1 2 1-2 1 2 1-2 1 9 1-15 1 31 1-27 1 8 1-6 1 2 1-2 1 2 1-2 1 2 1-2 1 4 1-7 1 11 1-10 1 6 1-5 1 4 1-3 1 3 1-3 1 2 1-2 1 2 1-2 1 2 1-4 1 6 1-6 1 8 1-10 1 10 1-8 1 4 1-2 1 3 1-3 1 2 1-2 1 3 1-3 1 3 1-3 1 2 1-2 1 3 1-3 1 4 1-5 1 3 1-2 1 3 1-3 1 2 1-2 1 2 1-2 1 2 1-2 1 2 1-2 1 2 1-5 1 5"/><path d="M211 1l1-17 1 4 1 1 1 13 1 9 1-1 1-18 1 11 1 3 1-16 1 17 1-6 1-13 1 6 1 10 1 15 1-30 1 1 1 23 1-17 1 4 1 15 1-21 1 4 1 2 1 1 1 0 1-9 1 4 1 15 1-7 1-10 1 4 1 2 1 1 1 3 1-6 1 8 1-16 1 7 1 8 1-4 1-3 1-3 1 3 1 7 1-2 1-2 1-6 1 4 1 1 1 3 1-3 1 0 1-4 1 2 1 2 1 7 1-10 1 3 1 4 1-12 1 4 1 13 1-8 1 9 1-14 1-12 1 18 1 7 1-17 1 16 1-1 1-1 1-11 1 4 1 1 1-8 1 10 1 4 1-8 1 2 1-2 1-1 1-7 1 13 1 1 1 7 1-21 1 8 1 10 1 2 1-16 1-5 1 13 1 2 1-10 1 12 1-3 1-3 1-2 1 4 1-9 1 9 1 5 1-7 1-5 1-8 1 23 1 2 1-21 1 5 1 12 1-8 1-4 1 7 1-6 1-1 1 9 1 3 1-16 1 3 1 10 1 1 1-9 1-2 1 6 1-1 1-4 1 8 1-1 1 0 1-6 1 3 1-1 1 4 1-1 1-3 1-4 1 6 1 3 1-5 1 1 1-2 1 0 1 12 1-15 1-1 1 8 1 0 1-1 1 0 1-3 1 3 1-8 1 4 1 7 1-5 1 1 1 4 1 0 1-4 1-7 1 4 1 3 1 11 1-7 1-11 1 0 1 9 1 3 1-9 1-1 1 15 1-8 1-3 1-4 1 6 1 0 1-2 1 6 1-1 1-19 1 8 1 17 1 1 1-12 1-7 1 4 1 18 1-15 1-16 1 12 1 23 1-13 1-13 1 1 1 15 1-3 1-7 1 3 1 3 1-14 1 8 1 6 1 3 1-11 1-6 1-2 1 24 1 25 1-43 1-46 1 44 1 61 1-16 1-73 1-11 1 54 1 31 1-21 1-47 1-8 1 55 1 35 1-37 1-66 1 18 1 58 1-1 1-32 1-2 1 16 1-4 1-18 1 19 1 8 1-13 1 1 1 14 1-13 1-14 1-10 1 42 1 23 1-65 1-16 1 44 1 38 1 7 1-106 1-24 1 141 1 21 1-135 1-7 1 101 1 4 1-56 1-20 1 14 1 43 1-2 1-36 1-31 1 50 1 83 1-96 1-107 1 139 1 89 1-164 1-71 1 230 1-52 1-188 1 173 1 42 1-167 1 60 1 98 1-99 1-11 1 77 1-44 1-27 1 35 1 7 1-14 1 1 1-3 1 10 1-6 1-9 1 20 1-29 1-15 1 100 1-67 1-62 1 108 1-59 1-19 1 70 1-63 1 26 1 13 1-26 1 15 1 5 1-30 1 13 1 26 1-8 1-28 1 25 1 6 1-36 1 23 1 22 1-54 1 33 1 51 1-95 1 2 1 112 1-78 1-46 1 107 1-55 1-58 1 131 1-87 1-42 1 119 1-81 1 2 1 46 1-42 1 5 1 20 1-9 1-8 1 10 1-9 1-4 1 16 1-3 1-7 1-1 1 1 1 3 1 6 1-13 1-5 1 26 1-17 1-4 1 8 1-7 1 10 1-3 1-1 1 2 1-11 1 10 1 5 1-7 1-12 1 13 1 5 1-5 1 1 1-4 1-5 1 11 1-3 1 1 1-9 1 9 1 9 1-23 1 9 1 16 1-14 1 1 1-6 1 5 1 0 1 0 1 2 1 3 1 0 1-3 1-13 1 13 1 12 1-15 1-8 1 9 1 11 1-3 1-21 1 17 1 2 1-13 1 9 1 7 1-16 1 1 1 19 1-10 1-5 1 12 1-20 1 7 1 20 1-15 1-12 1 13 1-4 1 4 1-11 1 10 1 7 1-10 1 9 1-14 1 3 1 8 1-5 1 11 1-17 1 0 1 14 1-12 1 8 1 2 1-7 1 3 1-5 1 5 1-6 1 2 1 12 1-3 1-8 1-3 1 0 1 9 1-5 1 7 1 0 1-25 1 24 1 14 1-31 1 9 1 17 1-29 1 1 1 31 1-6 1-12 1-8 1 7 1 13 1-2 1-29 1 6 1 40 1-22 1-19 1 25 1-23 1 21 1-4 1-14 1 34 1-36 1-11 1 48 1-27 1-5 1 6 1-8 1 27 1-15 1-9 1 2 1-1 1 10 1-4 1 5 1-18 1 11 1 18 1-22 1-6 1 18 1-4 1-3 1 1 1 0 1-2 1-4 1 2 1 5 1 7 1-8 1-8 1 3 1 5 1 18 1-27 1-10 1 28 1-8 1-6 1 14 1-14 1-6 1 15 1 2 1-12 1 4 1 0 1 4 1-3 1-5 1 9 1 0 1-13 1 7 1 10 1-5 1-4 1-1 1 0 1 1 1 3 1 2 1-3 1-5 1 2 1 8 1-4 1-1 1-4 1-4 1 12 1-5 1 1 1 2 1-8 1 6 1 0 1-2 1 4 1-5 1-6 1 13 1 2 1-11 1 4 1 3 1-7 1 6 1 0 1-1 1-9 1 11 1 2 1-11 1 6 1 5 1-2 1-9 1 5 1 7 1-14 1 13 1-2 1-6 1 3 1-1 1 6 1-9 1 0 1 8 1-7 1 7 1 1 1-12 1 1 1 14 1-8 1-2 1 6 1-9 1 5 1 2 1-4 1 4 1-1 1-3 1 2 1 4 1-4 1-3 1 2 1 1 1-1 1 2 1-1 1 4 1 0 1-10 1 4 1 8 1-8 1 2 1-2 1 6 1 1 1-10 1 0 1 7 1 6 1-10 1-3 1 9 1-9 1 9 1 2 1-9 1-2 1 4 1 3 1 0 1-6 1 5 1 6 1-9 1-4 1 9 1-1 1-5 1 3 1 1 1-2 1 2 1 0 1-2 1 1 1 0 1 0 1 0 1 0 1 0 1 0"/></g><g id="w20"><path class="a" d="M117 0l.5-54 .5 76 .5-32 .5 14 .5-23 .5 28 .5-13 .5 13 .5-16 .5 17 .5-12 .5 6 .5-7 .5 9 .5-9 .5 8 .5-7 .5 5 .5-7 .5 8 .5-8 .5 7 .5-9 .5 14 .5-17 .5 14 .5-8 .5 5 1-4 1 3 1-2 1 2 1-7 1 7 1-2 1 3 1-4 1 3 1-2 1 2 1-2 1 2 1-2 1 5 1-14 1 23 1-16 1 5 1-3 1 4 1-4 1 7 1-7 1 2 1-3 1 3 1-2 1 3 1-6 1 11 1-8 1 3 1-3 1 2 1-2 1 2 1-2 1 2 1-4 1 4 1-2 1 4 1-8 1 8 1-6 1 5 1-4 1 3 1-2 1 4 1-4 1 3 1-3 1 2 1-4 1 4 1-2 1 2 1-2 1 3 1-3 1 2 1-2 1 2 1-2 1 2 1-2 1 4 1-4 1 2 1-5 1 7 1-4 1 2 1-2 1 2 1-2 1 4"/><path d="M211 3l1-10 1 17 1-42 1 29 1 27 1-33 1 2 1 8 1-5 1 20 1-13 1-14 1 11 1 0 1 3 1 0 1-2 1 3 1-17 1 18 1-5 1-8 1 2 1 14 1 12 1-17 1-17 1 13 1-1 1 12 1-3 1-14 1 0 1 8 1 2 1-2 1-4 1 11 1-6 1-4 1 1 1 1 1 0 1 0 1-6 1 6 1 3 1-3 1-4 1 11 1-8 1 1 1-6 1 4 1 8 1-3 1-2 1-7 1 0 1 13 1-5 1 1 1-3 1-3 1 1 1-4 1 7 1 6 1-12 1 8 1-3 1-5 1 7 1 2 1-2 1 10 1-23 1 4 1 7 1-6 1 8 1 10 1-11 1-7 1 5 1 4 1-6 1 4 1-1 1 1 1-2 1 5 1-7 1 1 1 7 1-6 1 0 1 2 1 1 1 0 1-9 1 5 1-1 1 14 1-12 1-12 1 12 1 20 1-19 1 0 1 7 1-10 1 4 1 0 1-6 1 9 1-11 1 7 1 10 1-6 1-10 1 7 1-2 1 0 1-1 1 2 1 2 1 5 1-11 1 0 1 3 1 0 1 8 1-1 1-9 1-2 1 1 1 10 1-9 1 6 1-1 1 0 1-7 1 6 1-2 1-1 1 5 1 0 1-3 1-2 1-5 1 7 1 7 1 3 1-12 1-6 1-3 1 16 1 10 1-14 1-10 1 5 1 5 1 1 1 3 1 6 1-19 1-2 1 13 1 5 1-2 1-8 1-5 1 6 1 3 1 4 1-7 1-6 1 0 1 15 1 4 1-13 1-10 1 6 1 11 1-2 1-14 1 13 1 2 1-8 1-7 1 9 1 16 1-8 1-25 1 8 1 21 1 18 1-33 1-47 1 20 1 75 1 26 1-82 1-84 1 62 1 128 1-12 1-129 1-55 1 81 1 115 1-21 1-122 1-46 1 107 1 81 1-75 1-91 1 39 1 76 1-5 1-63 1 3 1 38 1-3 1-28 1 11 1 23 1-20 1-15 1 18 1 6 1-3 1 5 1-14 1-11 1 16 1-1 1 16 1-12 1-33 1 23 1 51 1-37 1-48 1 30 1 54 1-20 1-74 1 26 1 75 1-37 1-44 1 14 1 33 1 5 1-22 1-33 1 48 1 22 1-83 1 35 1 75 1-93 1 11 1 46 1-60 1 43 1 31 1-46 1-37 1 30 1 66 1-95 1 31 1 85 1-129 1 22 1 84 1-64 1-7 1 39 1-7 1-40 1 25 1 26 1-27 1-9 1 14 1-4 1 5 1 13 1-18 1-16 1 24 1 5 1-13 1-12 1 17 1 12 1-2 1-38 1 10 1 49 1-50 1 10 1 28 1-48 1 36 1 0 1-38 1 53 1-29 1-21 1 67 1-51 1-26 1 78 1-47 1-29 1 65 1-36 1-14 1 43 1-39 1-7 1 54 1-36 1-22 1 38 1 8 1-46 1 8 1 51 1-29 1-29 1 27 1-1 1 10 1-13 1-24 1 33 1 13 1-33 1 7 1 13 1-15 1 2 1 12 1-5 1-4 1 7 1-5 1-8 1 7 1 9 1-15 1 9 1 11 1-33 1 18 1 16 1-21 1 7 1 9 1-18 1 12 1 3 1-17 1 10 1 8 1-6 1 3 1-7 1-5 1 5 1 23 1-24 1-12 1 26 1-9 1 0 1-5 1 9 1-1 1-25 1 19 1 29 1-26 1-28 1 34 1 6 1-18 1 5 1 2 1-4 1 1 1-4 1 13 1-3 1-8 1-1 1 7 1-1 1-8 1 5 1 7 1-6 1-4 1 4 1 3 1-7 1-1 1 8 1 6 1-14 1 0 1 10 1-9 1 2 1 13 1-10 1-11 1 6 1 12 1-2 1-11 1 5 1 4 1-15 1 18 1 4 1-24 1 9 1 16 1-21 1 8 1 15 1-17 1-9 1 18 1-5 1-4 1 10 1-10 1 2 1 4 1-15 1 23 1-3 1-19 1 7 1 8 1-1 1 3 1-16 1 7 1 11 1-11 1-2 1 8 1-1 1 0 1 0 1-8 1-1 1 10 1 5 1-9 1-5 1 12 1-1 1-8 1 5 1-5 1 0 1 9 1-14 1 9 1 15 1-32 1 2 1 39 1-31 1-11 1 31 1-7 1-10 1 1 1 0 1 3 1-4 1 8 1-6 1-4 1 7 1 2 1-10 1 4 1 8 1-2 1-17 1 11 1 15 1-12 1-3 1 4 1-4 1 6 1-5 1-5 1 6 1 7 1-3 1-7 1 3 1-1 1 0 1 4 1-6 1 7 1-3 1-4 1 5 1-4 1 1 1 8 1-11 1 1 1 5 1-1 1 5 1-9 1-7 1 13 1 6 1-15 1-5 1 26 1-6 1-24 1 10 1 11 1-4 1 0 1-4 1 4 1-7 1 1 1 3 1 10 1-5 1-15 1 12 1 6 1-6 1-14 1 21 1-4 1-13 1 11 1-1 1 3 1-6 1-1 1 7 1-3 1-5 1 6 1 2 1-6 1-8 1 16 1-1 1-9 1 7 1-6 1-2 1 9 1 1 1-11 1 6 1 7 1-17 1 12 1 2 1-8 1 3 1 1 1 3 1 7 1-17 1 2 1 10 1-5 1 0 1 3 1-2 1-2 1 2 1-2 1-2 1 4 1-1 1 1 1-2 1 6 1-4 1-9 1 8 1 5 1 1 1-12 1 3 1 11 1-11 1 0 1 4 1-2 1 5 1-5 1-2 1 6 1-1 1-5 1 2 1 4 1-3 1 1 1-3 1 3 1-5 1 4 1 9 1-13 1-1 1 13 1-9 1-6 1 11 1 3 1-10 1-2 1 4 1 3 1 0 1-2 1 0 1-1 1-1 1 4 1-2 1 0 1 0 1 0 1 0 1 0 1 0 1 0 1 0"/></g><g id="w21"><path class="a" d="M117 0l.5-7 .5 20 .5-20 .5 11 .5-10 .5 9 .5-11 .5 10 .5-6 .5 11 .5-9 .5 18 .5-22 .5 8 .5-8 .5 8 .5-10 .5 10 .5-5 .5 5 .5-5 .5 9 .5-11 .5 20 .5-21 .5 14 .5-19 .5 16 1-7 1 4 1-4 1 3 1-3 1 4 1-7 1 7 1-3 1 3 1-3 1 6 1-8 1 4 1-6 1 9 1-22 1 27 1-12 1 5 1-4 1 3 1-2 1 2 1-2 1 2 1-2 1 4 1-5 1 4 1-5 1 8 1-7 1 4 1-3 1 3 1-3 1 2 1-2 1 2 1-3 1 5 1-6 1 5 1-4 1 6 1-12 1 13 1-11 1 7 1-3 1 3 1-2 1 2 1-4 1 5 1-3 1 2 1-2 1 2 1-5 1 5 1-2 1 2 1-3 1 3 1-2 1 2 1-3 1 3 1-2 1 5 1-5 1 2 1-2 1 2 1-4 1 4 1-4 1 4"/><path d="M211 1l1-2 1 7 1 2 1-17 1-4 1 31 1-4 1-15 1-10 1 12 1 4 1-20 1 14 1 3 1-11 1 26 1-19 1-3 1 2 1 4 1 10 1-6 1-14 1 2 1 8 1 1 1-4 1 16 1-15 1-7 1 7 1 7 1-7 1-1 1-4 1 7 1 2 1-4 1 3 1 0 1-7 1 6 1-1 1 6 1-3 1-7 1-2 1 11 1-14 1 7 1 13 1-11 1-6 1 7 1 2 1-1 1 1 1-7 1-5 1 15 1-8 1 1 1 1 1 5 1-8 1 2 1 0 1-3 1 2 1 6 1-4 1-1 1 2 1-1 1-3 1 7 1-6 1 0 1-2 1 7 1 4 1-4 1-13 1 7 1 2 1 4 1 0 1-1 1-4 1 0 1 0 1 12 1-8 1-6 1 2 1 8 1-8 1 1 1 3 1 1 1-8 1-3 1 4 1 13 1-5 1-3 1-3 1-1 1 4 1 7 1-12 1-3 1 3 1 7 1 1 1-3 1-3 1 1 1 9 1-6 1-11 1 11 1-5 1 4 1 5 1-1 1-10 1 3 1 3 1 0 1-1 1 3 1-6 1 1 1 3 1 2 1-5 1 0 1 5 1 5 1-13 1-3 1 9 1 8 1-14 1 1 1 9 1-2 1-2 1-4 1-5 1 12 1 0 1-4 1-9 1 14 1 4 1-18 1-1 1 18 1 1 1-9 1-8 1 4 1 16 1-10 1-15 1 16 1 0 1-1 1-7 1-1 1 6 1 9 1-10 1-6 1 10 1 6 1-7 1-16 1 2 1 22 1 2 1-10 1-7 1 2 1 4 1 6 1-16 1-1 1 24 1-1 1-28 1 1 1 17 1 9 1-8 1-1 1-7 1-4 1 3 1 15 1-7 1-11 1 3 1 9 1 11 1-8 1-19 1 1 1 5 1 18 1 6 1-14 1-29 1-6 1 42 1 49 1-57 1-62 1 35 1 67 1-9 1-62 1-12 1 57 1 17 1-25 1-38 1-8 1 51 1 35 1-49 1-44 1 31 1 47 1-1 1-45 1-56 1 49 1 114 1-60 1-124 1 58 1 77 1-8 1-39 1-43 1 23 1 50 1-17 1-22 1 6 1 18 1-23 1 6 1 28 1-57 1 28 1 43 1-81 1 43 1 69 1-135 1 1 1 183 1-127 1-71 1 135 1-41 1-90 1 120 1 10 1-129 1 53 1 108 1-110 1-40 1 106 1-21 1-54 1 35 1 6 1-18 1 15 1-2 1-18 1 21 1 8 1-37 1 14 1 41 1-50 1-10 1 73 1-50 1-32 1 81 1-62 1-14 1 71 1-52 1-8 1 62 1-74 1 22 1 59 1-82 1 17 1 64 1-70 1 4 1 52 1-43 1-13 1 36 1-12 1 0 1-5 1-8 1 14 1 11 1-27 1 4 1 35 1-24 1-42 1 75 1-17 1-70 1 76 1-10 1-38 1 46 1-21 1-19 1 22 1 3 1-13 1 5 1 15 1-19 1-10 1 29 1-15 1-11 1 22 1-9 1-10 1 10 1 2 1-3 1-1 1 5 1-11 1 9 1 1 1-6 1 8 1-4 1-11 1 15 1 4 1-16 1 2 1 11 1-17 1 16 1 5 1-19 1 16 1-10 1 4 1 9 1-19 1 4 1 6 1 6 1-8 1-3 1 4 1 6 1-12 1 4 1 11 1-13 1 1 1 9 1-12 1-1 1 11 1 4 1-14 1 6 1 0 1-11 1 23 1-6 1-9 1-10 1 15 1 20 1-42 1 22 1 15 1-34 1 8 1 18 1-4 1-3 1-6 1-2 1 2 1 6 1 10 1-8 1-20 1 21 1 8 1-15 1-10 1 7 1 16 1-8 1-7 1 3 1-4 1 11 1-5 1-9 1 7 1 6 1-7 1 3 1 1 1-5 1-4 1 12 1 6 1-22 1 12 1 15 1-33 1 18 1 2 1-9 1 14 1-1 1-10 1-15 1 29 1-1 1-25 1 16 1 9 1-11 1-4 1 11 1-9 1-5 1 10 1 7 1-13 1-3 1 9 1-1 1 2 1-8 1 1 1 2 1 8 1 1 1-11 1 2 1 1 1 7 1-10 1 2 1 6 1-10 1 6 1 1 1-1 1 14 1-17 1-6 1 16 1-18 1 3 1 36 1-28 1-15 1 7 1 14 1 6 1-17 1 5 1-1 1-1 1 8 1-6 1-3 1 0 1 2 1 0 1 6 1 1 1-9 1-4 1 11 1 0 1-9 1 2 1 7 1-3 1 3 1-2 1-7 1-1 1 9 1 1 1-5 1 0 1-2 1 0 1 11 1-2 1-13 1 4 1 4 1-5 1 6 1 0 1 0 1-2 1 4 1-9 1 2 1 12 1-16 1 12 1 1 1-21 1 16 1 0 1 3 1-1 1-9 1 3 1 1 1 2 1 11 1-12 1-9 1 14 1 2 1-14 1 12 1 2 1-11 1 4 1 1 1-1 1 5 1-8 1 5 1 5 1-15 1 5 1 16 1-12 1-7 1 8 1 1 1-5 1 0 1 3 1 3 1 2 1-5 1-11 1 13 1 9 1-8 1-8 1-2 1 10 1 2 1-11 1 7 1 1 1-6 1 7 1-3 1-5 1 8 1-5 1 4 1 5 1-6 1-11 1 6 1 3 1 6 1-1 1-8 1-1 1 13 1-6 1-11 1 4 1 15 1-3 1-13 1 4 1 3 1-4 1 8 1-3 1-10 1 9 1 6 1-12 1 4 1 4 1-7 1 11 1-2 1-17 1 16 1 1 1-13 1 8 1 3 1-5 1 8 1-4 1-8 1 5 1 2 1-4 1 6 1-1 1 0 1-2 1-4 1 5 1 0 1-2 1 3 1-1 1-2 1 1 1 0 1 0 1 0 1 0 1 0 1 0 1 0 1 0"/></g><g id="w22"><path class="a" d="M117 0l.5-27 .5 43 .5-35 .5 31 .5-15 .5 7 .5-13 .5 13 .5-8 .5 8 .5-12 .5 11 .5-5 .5 6 .5-10 .5 13 .5-14 .5 14 .5-9 .5 11 .5-12 .5 8 .5-13 .5 15 .5-15 .5 13 .5-10 .5 15 1-13 1 4 1-3 1 3 1-6 1 6 1-2 1 2 1-5 1 6 1-3 1 3 1-7 1 7 1-4 1 9 1-29 1 32 1-13 1 4 1-3 1 3 1-2 1 2 1-3 1 3 1-2 1 2 1-2 1 6 1-8 1 11 1-11 1 4 1-2 1 4 1-5 1 5 1-4 1 2 1-2 1 3 1-7 1 9 1-10 1 9 1-10 1 10 1-4 1 3 1-3 1 4 1-4 1 2 1-2 1 2 1-4 1 4 1-2 1 5 1-8 1 5 1-2 1 2 1-4 1 4 1-2 1 3 1-3 1 2 1-2 1 2 1-6 1 6 1-2 1 2 1-3 1 4 1-3 1 2"/><path d="M211 1l1-15 1 23 1-3 1-9 1-1 1 17 1-10 1 0 1-12 1-1 1 6 1-2 1 13 1 8 1-15 1 8 1-8 1 3 1-10 1 14 1-1 1-8 1 0 1 1 1-5 1 5 1-4 1 12 1 2 1-4 1-13 1 0 1 10 1 4 1-8 1 11 1-11 1-3 1 5 1 4 1-3 1 5 1-6 1-9 1 2 1 22 1-13 1-8 1 5 1 4 1-2 1 7 1-5 1-3 1-4 1-6 1 5 1 15 1-8 1-2 1 0 1-6 1 5 1 2 1-4 1 13 1-8 1-2 1-2 1 3 1 2 1-7 1 1 1 7 1-4 1-1 1 2 1 1 1-4 1 2 1-4 1 7 1 0 1 0 1-8 1 4 1 5 1-3 1-4 1 4 1-2 1 4 1-9 1 3 1 8 1-4 1-8 1 11 1-3 1 0 1 0 1-5 1-1 1 12 1-4 1-9 1 13 1-17 1 1 1 19 1-17 1 14 1-2 1-11 1 6 1 0 1-5 1 7 1-1 1 1 1-7 1 10 1-6 1 7 1-4 1-10 1 3 1 9 1 2 1-1 1-8 1-2 1 8 1-1 1-6 1 8 1-4 1 2 1-4 1 0 1 1 1 1 1 0 1 3 1-9 1 12 1-3 1-6 1-2 1 6 1-5 1 5 1-1 1 3 1 0 1-3 1-5 1-2 1 10 1 6 1-11 1-2 1 2 1 10 1-14 1-10 1 19 1 14 1-13 1-12 1-2 1 13 1 8 1 1 1-25 1-3 1 17 1 13 1-6 1-10 1-8 1 9 1 3 1 3 1-1 1-7 1 2 1-2 1-5 1 3 1 13 1 25 1-30 1-45 1 9 1 67 1 22 1-72 1-29 1 49 1 19 1-27 1-11 1 21 1 4 1-13 1-5 1 16 1-9 1 3 1-11 1-6 1 25 1 23 1-40 1-42 1 44 1 64 1-40 1-69 1 21 1 58 1-4 1-44 1-7 1 40 1-4 1-20 1 18 1 2 1-18 1-15 1 24 1 36 1-37 1-30 1 30 1 18 1-33 1 34 1 4 1-78 1 30 1 85 1-29 1-66 1 0 1 46 1 15 1-21 1-26 1 11 1 9 1 25 1-6 1-47 1 21 1 35 1-40 1 11 1 25 1-61 1 36 1 63 1-90 1-30 1 101 1 2 1-92 1 42 1 32 1-38 1 15 1 8 1-57 1 52 1 67 1-91 1-49 1 107 1-15 1-65 1 60 1-4 1-42 1 29 1 11 1-25 1 6 1 18 1-19 1-1 1 13 1-12 1-16 1 61 1-20 1-83 1 83 1 43 1-146 1 84 1 110 1-203 1 50 1 140 1-146 1 37 1 49 1-64 1 33 1 13 1-51 1 42 1 19 1-66 1 39 1 25 1-55 1 29 1 33 1-44 1-15 1 40 1-13 1-14 1 28 1-24 1-2 1 36 1-48 1 16 1 30 1-34 1 4 1 10 1-15 1 19 1 5 1-18 1-5 1 1 1 22 1 0 1-21 1 1 1-4 1 19 1 2 1-13 1-5 1 15 1-6 1-6 1 11 1-3 1-16 1 17 1 4 1-13 1 5 1 1 1-4 1 4 1-10 1 16 1 4 1-22 1 7 1 9 1-6 1-4 1 14 1-12 1-6 1 20 1-29 1 36 1-7 1-37 1 33 1-12 1 7 1 25 1-61 1 26 1 45 1-54 1 7 1 16 1-7 1 1 1 6 1-3 1-7 1 6 1-5 1 1 1 7 1-3 1-7 1 0 1 12 1-11 1 1 1 15 1-18 1 6 1 0 1 2 1 2 1-6 1-5 1 11 1-6 1 2 1 5 1-3 1-3 1 3 1-6 1-3 1 14 1-3 1-16 1 17 1 4 1-12 1-2 1-2 1 10 1 9 1-13 1 2 1-6 1-2 1 16 1-4 1-11 1 12 1-11 1 2 1 8 1-4 1-2 1-1 1-6 1 13 1 6 1-18 1 4 1 2 1 0 1 19 1-32 1 4 1 26 1-20 1 1 1 10 1-10 1 6 1-6 1 2 1 4 1-2 1-7 1 9 1 2 1-12 1 4 1 8 1-4 1-2 1 0 1 8 1-8 1-5 1 10 1-6 1 5 1-4 1-4 1 12 1-5 1 0 1-10 1 4 1 7 1-1 1 5 1-6 1-10 1 8 1 3 1-4 1 4 1 2 1-14 1 17 1 3 1-15 1 2 1 3 1-2 1 1 1 3 1-4 1-2 1 4 1 6 1 3 1-22 1 13 1 7 1-14 1 5 1 5 1 2 1-7 1-1 1 7 1-2 1-5 1 0 1 7 1-5 1 3 1 0 1-11 1 6 1 22 1-29 1 3 1 11 1-4 1 3 1-6 1 11 1-10 1-9 1 17 1 6 1-19 1-5 1 25 1-10 1-15 1 20 1-6 1-12 1 9 1 7 1-2 1-20 1 23 1 5 1-16 1 1 1-6 1 12 1 8 1-20 1 9 1 5 1-12 1 5 1 11 1-11 1-2 1 6 1-7 1 9 1 0 1-9 1 5 1 2 1-1 1 0 1 0 1-6 1 5 1 0 1 2 1-3 1-6 1 17 1-6 1-11 1 2 1 10 1 3 1-17 1 8 1 2 1 0 1-3 1 1 1 10 1-11 1-8 1 15 1-1 1-6 1 2 1 4 1-11 1 3 1 12 1-9 1-5 1 12 1-2 1-4 1-4 1 0 1 9 1 1 1-10 1-3 1 14 1-2 1-13 1 9 1-3 1 3 1 3 1-2 1-5 1 0 1 1 1 5 1 4 1-8 1-6 1 5 1 6 1-3 1-3 1 1 1 3 1 0 1-3 1 1 1-3 1 5 1 2 1-7 1 1 1 1 1 5 1-4 1-2 1 2 1 0 1 0 1 0 1 0 1 0 1 0 1 0"/></g><g id="w23"><path class="a" d="M117 0l.5-14 .5 42 .5-67 .5 50 .5-15 .5 13 .5-16 .5 11 .5-8 .5 7 .5-7 .5 6 .5-6 .5 6 .5-8 .5 9 .5-7 .5 5 .5-3 .5 6 .5-16 .5 18 .5-15 .5 12 .5-21 .5 22 .5-17 .5 20 1-9 1 4 1-4 1 4 1-5 1 5 1-6 1 5 1-2 1 3 1-7 1 9 1-5 1 3 1-3 1 5 1-26 1 32 1-18 1 9 1-2 1 3 1-3 1 2 1-2 1 2 1-3 1 4 1-4 1 3 1-3 1 5 1-6 1 6 1-4 1 2 1-2 1 4 1-4 1 5 1-5 1 3 1-4 1 5 1-7 1 12 1-14 1 9 1-4 1 2 1-2 1 4 1-5 1 3 1-2 1 2 1-2 1 2 1-2 1 3 1-4 1 3 1-2 1 2 1-4 1 5 1-4 1 5 1-4 1 2 1-2 1 2 1-2 1 6 1-6 1 3 1-3 1 4 1-4"/><path d="M210 -1l1 8 1-8 1 5 1-1 1-32 1 45 1 8 1-49 1 30 1-3 1 5 1-13 1-6 1 7 1 22 1-6 1-22 1-3 1 22 1-1 1-10 1 5 1-2 1-7 1 11 1-8 1-8 1 21 1 6 1-18 1 7 1-12 1 3 1 0 1 9 1-7 1 1 1 10 1 1 1-18 1-1 1 12 1 3 1-14 1 10 1 6 1 0 1-12 1 3 1 4 1-10 1 5 1 16 1-14 1 4 1 2 1-2 1-15 1 6 1 10 1 2 1-9 1 5 1-2 1-1 1-7 1 8 1 5 1-6 1-5 1 5 1 5 1 3 1-13 1-1 1 12 1-1 1-7 1 8 1-14 1 8 1 2 1-1 1-1 1 6 1-3 1-6 1 0 1 11 1-7 1 1 1-4 1 3 1-3 1-2 1 8 1 5 1-6 1-2 1-5 1 5 1 3 1-8 1-1 1 13 1-3 1-19 1 21 1 13 1-16 1-9 1-2 1 9 1-4 1-2 1 6 1 9 1-11 1-4 1 4 1 1 1-2 1 6 1 0 1-6 1-2 1 4 1 3 1 0 1-14 1 9 1 3 1 6 1-8 1-3 1 1 1 6 1 0 1-12 1 6 1 15 1-13 1-1 1 4 1 2 1-6 1-3 1 2 1 4 1-2 1 3 1-3 1 3 1-3 1 1 1-1 1-2 1 1 1 9 1-6 1-3 1 3 1 8 1-8 1-13 1 5 1 25 1-21 1-9 1 9 1 7 1 12 1-15 1-16 1 11 1 6 1 6 1-14 1 11 1 7 1-10 1-14 1 3 1 14 1 8 1-15 1-6 1 9 1 6 1-5 1-6 1-6 1 16 1-14 1-4 1 28 1 8 1-29 1-29 1 16 1 52 1-3 1-48 1-17 1 38 1 25 1-13 1-30 1-15 1 14 1 50 1-5 1-53 1-12 1 39 1 26 1-24 1-35 1 21 1 33 1-10 1-35 1 2 1 30 1 26 1-42 1-49 1 42 1 67 1-26 1-68 1-3 1 48 1 20 1 3 1-37 1-33 1 25 1 55 1-4 1-61 1-28 1 68 1 34 1-55 1-35 1 17 1 58 1 11 1-88 1 14 1 60 1-17 1-28 1 10 1 6 1 4 1-4 1-9 1 3 1 10 1 7 1-18 1-39 1 85 1-22 1-79 1 123 1-61 1-124 1 249 1-56 1-253 1 238 1 39 1-198 1 110 1 50 1-69 1-9 1-13 1 92 1-47 1-78 1 111 1-24 1-69 1 74 1-1 1-60 1 40 1 12 1-37 1 20 1 38 1-62 1-5 1 91 1-78 1-41 1 126 1-66 1-61 1 102 1-34 1-36 1 49 1-36 1-3 1 49 1-33 1-29 1 38 1 12 1-16 1-27 1 22 1 25 1-25 1-28 1 25 1 29 1-16 1-35 1 24 1 36 1-38 1-27 1 45 1 9 1-48 1 2 1 81 1-69 1-46 1 106 1-32 1-61 1 53 1 7 1-14 1-8 1-3 1 14 1-6 1-1 1 8 1-6 1 0 1-4 1 1 1 9 1 2 1-16 1 2 1 10 1 2 1-8 1-1 1-2 1 4 1 9 1-1 1-15 1 2 1 8 1 4 1-7 1 4 1-13 1-5 1 36 1-17 1-15 1 18 1-16 1 6 1 7 1 4 1-5 1-10 1 3 1 7 1 0 1 1 1-3 1-10 1 7 1 15 1-14 1-3 1 5 1-9 1 14 1 1 1-16 1 12 1 4 1-13 1-4 1 20 1 0 1-24 1 3 1 29 1-7 1-21 1 0 1 10 1 3 1 0 1-2 1-2 1-5 1 8 1 1 1-1 1-7 1 6 1 7 1-10 1-4 1 8 1-4 1 2 1-3 1 5 1-1 1 4 1-10 1-3 1 19 1-10 1-18 1 30 1-3 1-30 1 25 1 6 1-19 1 3 1 16 1-11 1-11 1 15 1 2 1-12 1 4 1 2 1 4 1 4 1-21 1 10 1 18 1-19 1 0 1 1 1-7 1 19 1-5 1-11 1 3 1 3 1 18 1-15 1-20 1 18 1 1 1 1 1 3 1-2 1-8 1 0 1 12 1 0 1-18 1 7 1 11 1-7 1-5 1 9 1 4 1-8 1-11 1 16 1-5 1-4 1 13 1-9 1-8 1 17 1-9 1-11 1 18 1-6 1-10 1 16 1-5 1-4 1 3 1-1 1-2 1 2 1 1 1 1 1-5 1 2 1 7 1-9 1-1 1 7 1-3 1-2 1 5 1-2 1-6 1 14 1-6 1-17 1 18 1 7 1-24 1 15 1 1 1-6 1 5 1-5 1 5 1 0 1-4 1 0 1 3 1 6 1-12 1 0 1 5 1 2 1 3 1-11 1-4 1 22 1-5 1-15 1 3 1 13 1 2 1-25 1 10 1 17 1-11 1-4 1 1 1 1 1 1 1 2 1-5 1 10 1-3 1-11 1 4 1 3 1 0 1 5 1-4 1-4 1-3 1 10 1 0 1-5 1 1 1-4 1 2 1 8 1-7 1 5 1-9 1 0 1 11 1-2 1-3 1-10 1 14 1 0 1-14 1 9 1-1 1 0 1 6 1-6 1-4 1 16 1-16 1 6 1-1 1-7 1 11 1-2 1-4 1 7 1-6 1-1 1 2 1-4 1 8 1-3 1-1 1 8 1-14 1-3 1 15 1-2 1-10 1 9 1-2 1-8 1 15 1-12 1 1 1 7 1-4 1 4 1-5 1-3 1-1 1 11 1-6 1-4 1 7 1-4 1-1 1 7 1-4 1 0 1 2 1-6 1-3 1 8 1-1 1-3 1 6 1-1 1-11 1 7 1 7 1-9 1 1 1 7 1-6 1-2 1 4 1 0 1-1 1-1 1 1 1 1 1-1 1 0 1 0 1 0 1 0 1 0 1 0"/></g><g id="w24"><path class="a" d="M117 0l.5-10 .5 16 .5-44 .5 44 .5-10 .5 7 .5-7 .5 8 .5-26 .5 28 .5-9 .5 14 .5-13 .5 4 .5-8 .5 8 .5-5 .5 6 .5-8 .5 11 .5-9 .5 7 .5-16 .5 20 .5-14 .5 10 .5-10 .5 10 1-7 1 6 1-4 1 2 1-6 1 6 1-2 1 4 1-5 1 4 1-6 1 5 1-2 1 3 1-9 1 19 1-23 1 20 1-18 1 11 1-3 1 2 1-2 1 2 1-2 1 2 1-2 1 2 1-3 1 4 1-8 1 9 1-5 1 3 1-3 1 3 1-3 1 5 1-7 1 5 1-2 1 2 1-3 1 4 1-6 1 7 1-14 1 15 1-5 1 2 1-2 1 2 1-2 1 3 1-3 1 2 1-2 1 2 1-5 1 5 1-2 1 2 1-2 1 2 1-2 1 2 1-2 1 2 1-2 1 2 1-2 1 2 1-2 1 2 1-2 1 4 1-4 1 2 1-2"/><path d="M210 -1l1-17 1 16 1 15 1-27 1 13 1 13 1-5 1-12 1 3 1-8 1 4 1 6 1 12 1-13 1-3 1-6 1 21 1 4 1-22 1-15 1 21 1 2 1 4 1-2 1 1 1-2 1-9 1 0 1 13 1-1 1-1 1 2 1-4 1-5 1-3 1 5 1 9 1-12 1 3 1 5 1-2 1-11 1 10 1 1 1 1 1-4 1 0 1 2 1-2 1 3 1 3 1-16 1 8 1 12 1-4 1-11 1 2 1 0 1 8 1-2 1-6 1-2 1 12 1-9 1-1 1 7 1 4 1-6 1-7 1 1 1 8 1 0 1-3 1-2 1 2 1 3 1-5 1 2 1 1 1-4 1 6 1-7 1-1 1-1 1 20 1-9 1-12 1 2 1 7 1-2 1 2 1-10 1 14 1-2 1-13 1 5 1 13 1-7 1 0 1 0 1-7 1-1 1 12 1-9 1 0 1-1 1 8 1-12 1 8 1 13 1-13 1-5 1 5 1-1 1 4 1-1 1 3 1-11 1 6 1 0 1-1 1 1 1 1 1-11 1 7 1 10 1-3 1-14 1 11 1 1 1-2 1 5 1-9 1-1 1 10 1-4 1-2 1-5 1 14 1-9 1-5 1 4 1 0 1 1 1 8 1-5 1-7 1 7 1 1 1-4 1 6 1-5 1-3 1-1 1 10 1-1 1-5 1-11 1 3 1 17 1 8 1-18 1-10 1 2 1 11 1 3 1-6 1-5 1 5 1 7 1 3 1-10 1-5 1-4 1 19 1 2 1-13 1-6 1 1 1 11 1 8 1-11 1-3 1-1 1 1 1 4 1 0 1-9 1 8 1 6 1 2 1-16 1-8 1 15 1 17 1-13 1-23 1 8 1 37 1-11 1-38 1 0 1 48 1 4 1-42 1-18 1 28 1 35 1-11 1-56 1 7 1 42 1 15 1-25 1-20 1 3 1 17 1 14 1-20 1-8 1 9 1-5 1 22 1 1 1-31 1-8 1 20 1 20 1 1 1-46 1 0 1 49 1 4 1-38 1-5 1 19 1 14 1-17 1-21 1 29 1 27 1-49 1-10 1 39 1 13 1-35 1-24 1 32 1 33 1-41 1-9 1 14 1 13 1 25 1-67 1-7 1 94 1-39 1-77 1 65 1 39 1-50 1 5 1-15 1-19 1 113 1-10 1-227 1 136 1 153 1-159 1 3 1 45 1-38 1 56 1-36 1-63 1 115 1-22 1-108 1 118 1 0 1-106 1 82 1 18 1-67 1 29 1 32 1-48 1 16 1 30 1-48 1 12 1 27 1-17 1-7 1 11 1 1 1-5 1-12 1 29 1-10 1-60 1 89 1 2 1-107 1 83 1 30 1-72 1 16 1 32 1-16 1-19 1 11 1 20 1-21 1-9 1 23 1-8 1-7 1 12 1-16 1 20 1-1 1-44 1 60 1-14 1-45 1 46 1 5 1-35 1 23 1 8 1-31 1 19 1-4 1 10 1-1 1-28 1 31 1 7 1-28 1 9 1 2 1 2 1 1 1-4 1 5 1-5 1-4 1 9 1 3 1-9 1-7 1 16 1 2 1-13 1 2 1 5 1-2 1 3 1-16 1 27 1-14 1-10 1 23 1-11 1-15 1 11 1 7 1-6 1 11 1-21 1 3 1 26 1-27 1 2 1 13 1-7 1 0 1 9 1-17 1 6 1 20 1-21 1-8 1 20 1-5 1-9 1 8 1 7 1-10 1-4 1 0 1 10 1 1 1-12 1 7 1 6 1-22 1 21 1 6 1-23 1 10 1-2 1 8 1 3 1-15 1 3 1 14 1-16 1 5 1 1 1 0 1 10 1-26 1 23 1 5 1-15 1-5 1 2 1 12 1 2 1-10 1-2 1 10 1-7 1 1 1-1 1-11 1 24 1-12 1-4 1 7 1-7 1 4 1 2 1-2 1 5 1-11 1 2 1 5 1 5 1-6 1-7 1 11 1 2 1-19 1 17 1 16 1-37 1 5 1 43 1-39 1-14 1 38 1-9 1-23 1 16 1 23 1-32 1-15 1 37 1-3 1-11 1-4 1 3 1 4 1-5 1 3 1 0 1-4 1 15 1-18 1 0 1 25 1-11 1-28 1 18 1 12 1-6 1-6 1 2 1 1 1-5 1 12 1 5 1-15 1-7 1 10 1 4 1-6 1 3 1-6 1 8 1 0 1-4 1-2 1 2 1 3 1-4 1 4 1 0 1-4 1 0 1 7 1-3 1-14 1 11 1 10 1-8 1 3 1-16 1 2 1 22 1-13 1-2 1 6 1 1 1-7 1 0 1 8 1-7 1-2 1 6 1-2 1-2 1 1 1 5 1-8 1 10 1-4 1-8 1 8 1-4 1 8 1-11 1 0 1 14 1-19 1 10 1 2 1 0 1 0 1-3 1 5 1-7 1 1 1 6 1-5 1-1 1 0 1 1 1 4 1 0 1-7 1 5 1 3 1-5 1-3 1-3 1 15 1 1 1-20 1 11 1-2 1-1 1 11 1-8 1-5 1 1 1 14 1-8 1-11 1 9 1 3 1-5 1 3 1 4 1-9 1 5 1-2 1 2 1-8 1 7 1 11 1-14 1-5 1 15 1-6 1-7 1 4 1 10 1-6 1-8 1 4 1 0 1 5 1 3 1-14 1 8 1 0 1 3 1 5 1-14 1 4 1 5 1-10 1 9 1 4 1-6 1-6 1 6 1 3 1-4 1 7 1-7 1-6 1 8 1 0 1 3 1-6 1-4 1 7 1 8 1-5 1-12 1 5 1 7 1-1 1-5 1 0 1 7 1-7 1-2 1 3 1 4 1-4 1 2 1 4 1-8 1 0 1 6 1-4 1 2 1 0 1-2 1 1 1 2 1-3 1-2 1 5 1-2 1-1 1 3 1-2 1 0 1 0 1 0 1 0 1 0 1 0"/></g><g id="w25"><path class="a" d="M117 0l.5-33 .5 40 .5-21 .5 34 .5-31 .5 22 .5-22 .5 15 .5-7 .5 9 .5-8 .5 4 .5-4 .5 4 .5-4 .5 10 .5-9 .5 8 .5-11 .5 9 .5-7 .5 8 .5-16 .5 15 .5-12 .5 15 .5-12 .5 9 1-8 1 5 1-4 1 5 1-13 1 11 1-2 1 2 1-2 1 4 1-6 1 4 1-5 1 5 1-2 1 9 1-18 1 27 1-20 1 4 1-4 1 4 1-3 1 3 1-2 1 3 1-3 1 2 1-3 1 5 1-9 1 10 1-11 1 8 1-2 1 2 1-3 1 4 1-3 1 3 1-6 1 7 1-4 1 6 1-9 1 7 1-5 1 7 1-7 1 3 1-2 1 5 1-8 1 5 1-2 1 2 1-2 1 2 1-2 1 5 1-9 1 6 1-2 1 2 1-2 1 3 1-3 1 2 1-2 1 2 1-4 1 4 1-2 1 3 1-3 1 3 1-3 1 3 1-4"/><path d="M210 -2l1-13 1 39 1-12 1-40 1 14 1 17 1 10 1-15 1-6 1 14 1 0 1-15 1 9 1 8 1-3 1-6 1-10 1 5 1 11 1 2 1 0 1-16 1 11 1-4 1 8 1-10 1 2 1 3 1 2 1-6 1-3 1-1 1 13 1-12 1 9 1 5 1-6 1 2 1-3 1-11 1 13 1-5 1 4 1 3 1-10 1 11 1-7 1 0 1 2 1-15 1 19 1 0 1-5 1 3 1-6 1-2 1 13 1-11 1 3 1-4 1 6 1 2 1-5 1-3 1 6 1 4 1-7 1-8 1 16 1-4 1 3 1-8 1-10 1 14 1 8 1-6 1-9 1 0 1 6 1 0 1 6 1-12 1-4 1 7 1 9 1-3 1-4 1-8 1 10 1 3 1 3 1-15 1-7 1 16 1 7 1 1 1-6 1-16 1 3 1 6 1 6 1 0 1 2 1-5 1-6 1 1 1 17 1-13 1-3 1-8 1 26 1-11 1-13 1 12 1 2 1-1 1-4 1-6 1 8 1 5 1-4 1-5 1 3 1 0 1-2 1 1 1 1 1 4 1 10 1-16 1-8 1 1 1 8 1 6 1-4 1-2 1 7 1-9 1-3 1 4 1 13 1-12 1-12 1 16 1 7 1-11 1-5 1 2 1 4 1 4 1 2 1-14 1 6 1 3 1 1 1 1 1 1 1-10 1-3 1 10 1 9 1-5 1-10 1 0 1 4 1 3 1 8 1-13 1-10 1 5 1 23 1-3 1-14 1-13 1 7 1 10 1 9 1-7 1-9 1-11 1 9 1 24 1-3 1-24 1-3 1 18 1 7 1-15 1-2 1 3 1 4 1-7 1-1 1 9 1 4 1-7 1 1 1 0 1 3 1-12 1 7 1 28 1-30 1-58 1 60 1 95 1-71 1-133 1 72 1 133 1-45 1-132 1 18 1 135 1 24 1-140 1-76 1 114 1 120 1-62 1-115 1 0 1 83 1 42 1-41 1-73 1 6 1 72 1 34 1-51 1-64 1 27 1 77 1-24 1-54 1 11 1 48 1-17 1-33 1 7 1 28 1-6 1-2 1-7 1-20 1 19 1 26 1-29 1-7 1 15 1 8 1 1 1-28 1-4 1 31 1 13 1-11 1-75 1 20 1 146 1-72 1-129 1 108 1 35 1-109 1 81 1 82 1-167 1-25 1 170 1-43 1-69 1 38 1-13 1 10 1 28 1-26 1-62 1 69 1 50 1-92 1 14 1 35 1-19 1 10 1-15 1-1 1 23 1-8 1-26 1 22 1 9 1-32 1 34 1 19 1-114 1 104 1 96 1-265 1 135 1 168 1-239 1 39 1 99 1-54 1-21 1 10 1 5 1 27 1-12 1-48 1 37 1 32 1-42 1 2 1 18 1-12 1-5 1 0 1 14 1 10 1-26 1-10 1 28 1 8 1-35 1 5 1 30 1-7 1-33 1 30 1 20 1-51 1 8 1 52 1-42 1-23 1 45 1-10 1-12 1 19 1-20 1-1 1 13 1 1 1-15 1 10 1 4 1-7 1 1 1 2 1-7 1 5 1 1 1 3 1 7 1-8 1-21 1 14 1 25 1-15 1-18 1 13 1 6 1-13 1-6 1 25 1-1 1-25 1 9 1 12 1-6 1-6 1 5 1 2 1-7 1 5 1 6 1-7 1-5 1 7 1 4 1-3 1 1 1-11 1 2 1 12 1-4 1 4 1-7 1-14 1 18 1 7 1-18 1 12 1-4 1-3 1 3 1 2 1-1 1 2 1-6 1-6 1 18 1-3 1-15 1 11 1-7 1 11 1-3 1-6 1 12 1-19 1 3 1 24 1-24 1 0 1 17 1-17 1 9 1 7 1-20 1 14 1 2 1-18 1 14 1 9 1-11 1 1 1-1 1 5 1-6 1-3 1 8 1-4 1 1 1-1 1-1 1 10 1-15 1 10 1 0 1-8 1 1 1 6 1 3 1-12 1 11 1 0 1-10 1 12 1-10 1 6 1-3 1 1 1 1 1-4 1-1 1 6 1 9 1-14 1-7 1 14 1 0 1-2 1-9 1 9 1 4 1-10 1-1 1 8 1-6 1 3 1 5 1-3 1-1 1-1 1-2 1 1 1-9 1 13 1 11 1-23 1 2 1 12 1 2 1-8 1-5 1 4 1 0 1 7 1 1 1-6 1-8 1 5 1 10 1-4 1-9 1 7 1 3 1-12 1 12 1 6 1-16 1 4 1-3 1 14 1-8 1-12 1 19 1-11 1-1 1 14 1-13 1-1 1 6 1 0 1-5 1 4 1-6 1 3 1 13 1-10 1-8 1 5 1-2 1 9 1-4 1-4 1 9 1-5 1-7 1 6 1 3 1-2 1 0 1-2 1-2 1 4 1-4 1 7 1-2 1-7 1 11 1-2 1-11 1 6 1 4 1-13 1 9 1 15 1-19 1-1 1 15 1-2 1-18 1 6 1 9 1 3 1-8 1-14 1 19 1 8 1-20 1 8 1 2 1-8 1 8 1 5 1-6 1-1 1-4 1 3 1 5 1-4 1-5 1 6 1 1 1-8 1 13 1-6 1-12 1 20 1-4 1-11 1 1 1 8 1 1 1-4 1 2 1-4 1-2 1 5 1 1 1-3 1-1 1 8 1-7 1-4 1 6 1 6 1-8 1-9 1 17 1-2 1-14 1 10 1 4 1-4 1-1 1-5 1 3 1 9 1-14 1 6 1 0 1 6 1 3 1-18 1 7 1 2 1 4 1 4 1-14 1 8 1 5 1-11 1 2 1 10 1-10 1 5 1-2 1-8 1 14 1-2 1-10 1 8 1 0 1 0 1-2 1-7 1 10 1 1 1-10 1 5 1 2 1 1 1-2 1-2 1 2 1 0 1-2 1 1 1 3 1-1 1-1 1 0 1 0 1 0 1 0 1 0 1 0"/></g><g id="w26"><path class="a" d="M117 0l.5-12 .5 21 .5-15 .5 21 .5-30 .5 18 .5-5 .5 26 .5-30 .5 9 .5-6 .5 8 .5-6 .5 9 .5-9 .5 3 .5-6 .5 9 .5-8 .5 9 .5-9 .5 7 .5-11 .5 11 .5-14 .5 14 .5-10 .5 14 1-10 1 12 1-11 1 3 1-3 1 6 1-6 1 2 1-2 1 4 1-7 1 5 1-3 1 3 1-3 1 10 1-18 1 17 1-14 1 8 1-4 1 5 1-4 1 3 1-4 1 4 1-2 1 2 1-3 1 4 1-5 1 8 1-7 1 3 1-2 1 2 1-3 1 4 1-3 1 3 1-3 1 2 1-2 1 4 1-8 1 12 1-10 1 10 1-11 1 5 1-5 1 5 1-2 1 1 1-1 1 2 1-2 1 2 1-2 1 2 1-2 1 4 1-4 1 2 1-2 1 2 1-5 1 5 1-3 1 5 1-4 1 2 1-2 1 1 1-2 1 3 1-3 1 3 1-2"/><path d="M210 -1l1-3 1 4 1 4 1-18 1 19 1-12 1 3 1 6 1 3 1-2 1-4 1 9 1-8 1-11 1 24 1-9 1-15 1 0 1 10 1 16 1-6 1-21 1 7 1 2 1 5 1 6 1-8 1-5 1 16 1-10 1-8 1 4 1 11 1-6 1-5 1 5 1 0 1-10 1 14 1 0 1-8 1-3 1 12 1-7 1-5 1-1 1 9 1 2 1-5 1-7 1 11 1 1 1-7 1-2 1 10 1-7 1 4 1-7 1 3 1-2 1 0 1 10 1 1 1-14 1 3 1 2 1 5 1-3 1-4 1-2 1 10 1-3 1-2 1-4 1 5 1-1 1 6 1-5 1-5 1-1 1 12 1-5 1-10 1 0 1 13 1 2 1-6 1-1 1-1 1-5 1 7 1-7 1 10 1-4 1-2 1 8 1-4 1-4 1 7 1-7 1 0 1-4 1 13 1-6 1-2 1 4 1-1 1-15 1 21 1 5 1-35 1 21 1 9 1-7 1-2 1-3 1 9 1-4 1-2 1-2 1 2 1-3 1 6 1-6 1 13 1-11 1 2 1 9 1-10 1-3 1 2 1 3 1-1 1-2 1 5 1-3 1 0 1-3 1 10 1-2 1-15 1 4 1 11 1-12 1 17 1 2 1-20 1 0 1 13 1-10 1 4 1 1 1 5 1 0 1-4 1-4 1-2 1 7 1 3 1-12 1-4 1 22 1 6 1-25 1-2 1 9 1 10 1-5 1-4 1-9 1 4 1 13 1 0 1-13 1-4 1 9 1 10 1-8 1-8 1-7 1 15 1 14 1-6 1-23 1 0 1 8 1 20 1-3 1-14 1-9 1 9 1 2 1-1 1-3 1 7 1 3 1-8 1-3 1 9 1 12 1-15 1-34 1 13 1 62 1 4 1-78 1-28 1 68 1 64 1-55 1-93 1 44 1 89 1-27 1-61 1 4 1 40 1 14 1-32 1-18 1 30 1 7 1-12 1-25 1 14 1 32 1-9 1-32 1-2 1 24 1 16 1-9 1-21 1-23 1 38 1 31 1-33 1-28 1 19 1 12 1 12 1-7 1-32 1-10 1 46 1 19 1-18 1-48 1 4 1 59 1-22 1-32 1 47 1-39 1-16 1 76 1-34 1-65 1 72 1 14 1-58 1 21 1 14 1-18 1 25 1-19 1-41 1 82 1 7 1-85 1 15 1 50 1-13 1-25 1 17 1-26 1 30 1 27 1-76 1 30 1 66 1-100 1 47 1 45 1-91 1 35 1 47 1-54 1 11 1-2 1 15 1 10 1-38 1 20 1 25 1-47 1 15 1 27 1-6 1-22 1-53 1 112 1 9 1-177 1 144 1 50 1-153 1 62 1 96 1-113 1-32 1 98 1 20 1-82 1-11 1 69 1-17 1-47 1 28 1 40 1-35 1-37 1 63 1-12 1-48 1 48 1 0 1-37 1 45 1-24 1-21 1 43 1-8 1-41 1 38 1 14 1-47 1 10 1 33 1-17 1-2 1 0 1 1 1 7 1-15 1 5 1-6 1 4 1 24 1-14 1-27 1 19 1 17 1-19 1 3 1 0 1-1 1 8 1-14 1 12 1 2 1-11 1 6 1-4 1-2 1 4 1 5 1 3 1-9 1-5 1 15 1-7 1-12 1 12 1 5 1-16 1 19 1-10 1-7 1 26 1-23 1-6 1 16 1-9 1 9 1-5 1-8 1 13 1 3 1-13 1 7 1-5 1 1 1 2 1-4 1 10 1-2 1-1 1-1 1-18 1 20 1 2 1-10 1 8 1-4 1-6 1 13 1-7 1-11 1 18 1-6 1 1 1 4 1-17 1 12 1-2 1 2 1 10 1-16 1 4 1 0 1-6 1 15 1-4 1-5 1 2 1-4 1-8 1 19 1 0 1-19 1 16 1 7 1-27 1 11 1 19 1-21 1-2 1 16 1-5 1-5 1-3 1 5 1 6 1-10 1 4 1 12 1-24 1 4 1 9 1 18 1-17 1-22 1 21 1-2 1 14 1-8 1-20 1 17 1 4 1-8 1-1 1 0 1 5 1 7 1-19 1 6 1 9 1-6 1-1 1 4 1-4 1 7 1 1 1-16 1 1 1 19 1-4 1-6 1 1 1-9 1 10 1 5 1-14 1-1 1 21 1-12 1-11 1 11 1 5 1 1 1-12 1-1 1 4 1 6 1-2 1-1 1 0 1-7 1 2 1 11 1-3 1-2 1-5 1 0 1 1 1 5 1-7 1-2 1 10 1-3 1-3 1 2 1 3 1 3 1-8 1 3 1-2 1-12 1 17 1 6 1-9 1-8 1 3 1 20 1-27 1 14 1 4 1-19 1 18 1-9 1 7 1-3 1-12 1 20 1-6 1-10 1 7 1 4 1-6 1 1 1 7 1-15 1 9 1 1 1-4 1 10 1-10 1 7 1-3 1-8 1 10 1 1 1-3 1 2 1-8 1 7 1-3 1 3 1-3 1-2 1 9 1-5 1-8 1 8 1-1 1-2 1 6 1-3 1-1 1 1 1-5 1 2 1 4 1 0 1 1 1 1 1-19 1 12 1 16 1-20 1 12 1 9 1-33 1 15 1 14 1-13 1 4 1 0 1-3 1 3 1-2 1 3 1-6 1 3 1 10 1-8 1-16 1 14 1 16 1-11 1-21 1 13 1 17 1-14 1-6 1 12 1-4 1-3 1 3 1 3 1-12 1 4 1 15 1-12 1-6 1 8 1-1 1 1 1 1 1 4 1-7 1-4 1 3 1 6 1-3 1-7 1 13 1-1 1-17 1 9 1 6 1-1 1-5 1 6 1-5 1-3 1 10 1-7 1-3 1 8 1-5 1 3 1 0 1-6 1 6 1-3 1 0 1 3 1-4 1 3 1-1 1 0 1 0 1 0 1 0 1 0 1 0 1 0 1 0 1 0 1 0"/></g><g id="w27"><path class="a" d="M117 0l.5-14 .5 21 .5-30 .5 28 .5-10 .5 10 .5-8 .5 6 .5-17 .5 26 .5-14 .5 4 .5-10 .5 24 .5-18 .5 7 .5-7 .5 3 .5-3 .5 6 .5-17 .5 25 .5-19 .5 16 .5-12 .5 9 .5-14 .5 10 1-6 1 8 1-5 1 2 1-8 1 8 1-2 1 2 1-4 1 4 1-3 1 5 1-4 1 2 1-6 1 11 1-17 1 20 1-11 1 7 1-6 1 6 1-6 1 6 1-7 1 3 1-3 1 3 1-2 1 8 1-15 1 14 1-9 1 4 1-3 1 3 1-2 1 2 1-4 1 4 1-2 1 2 1-3 1 5 1-8 1 10 1-9 1 8 1-11 1 8 1-3 1 3 1-3 1 4 1-3 1 2 1-2 1 5 1-6 1 3 1-5 1 5 1-2 1 2 1-2 1 2 1-9 1 9 1-2 1 2 1-3 1 4 1-3 1 2 1-1 1 1 1-2 1 2 1-4"/><path d="M210 -3l1-14 1 16 1 12 1-8 1-8 1-7 1 27 1-7 1-9 1-8 1 10 1 3 1 2 1-19 1 6 1 15 1 1 1-21 1 4 1 15 1 10 1-23 1-5 1 11 1-1 1 10 1-10 1-16 1 28 1-8 1-3 1 8 1-12 1 1 1-1 1-1 1 13 1-14 1 13 1-5 1-4 1 7 1 14 1-22 1-6 1 10 1-4 1-2 1 9 1-11 1 2 1 11 1 6 1-13 1-4 1 5 1 4 1-5 1 2 1-1 1-2 1-2 1 6 1 5 1-5 1-10 1 6 1 3 1 3 1-3 1 8 1-13 1 3 1-4 1 9 1 2 1-11 1-1 1 19 1-13 1-13 1 14 1 13 1-15 1-13 1 13 1 13 1-13 1-1 1 1 1 0 1 1 1 15 1-14 1-8 1-4 1 10 1 3 1 6 1-4 1-7 1 0 1 2 1-5 1 7 1 5 1 1 1-10 1-4 1 12 1-9 1-4 1 14 1-2 1-1 1-4 1 6 1-6 1-4 1 4 1 4 1-2 1 3 1-6 1 1 1-1 1 7 1-5 1-5 1 2 1 8 1-2 1-9 1 5 1 6 1-7 1 4 1-4 1-5 1 9 1 5 1-9 1 11 1-7 1-1 1-3 1 0 1 5 1 0 1-11 1 9 1 1 1-4 1 6 1 0 1-10 1 6 1 0 1 4 1-5 1 0 1-2 1 5 1-1 1 4 1-8 1-1 1 3 1 9 1-10 1-5 1 7 1 11 1-11 1-7 1 5 1 5 1 4 1-2 1-18 1 2 1 9 1 8 1 5 1-2 1-18 1 3 1 12 1-4 1-8 1 4 1 6 1 2 1-11 1 0 1 0 1 7 1 0 1 4 1-7 1-6 1 11 1 9 1-18 1-16 1 15 1 33 1-13 1-34 1-3 1 33 1 12 1-21 1-17 1 14 1 11 1-1 1-12 1-7 1 12 1 13 1-19 1-7 1 5 1 23 1-10 1-22 1 11 1 25 1-18 1-21 1 22 1 23 1-38 1-10 1 29 1 12 1-18 1-9 1-2 1 14 1 19 1-26 1-28 1 31 1 25 1-12 1-34 1 0 1 32 1 0 1-11 1-1 1-8 1 14 1 5 1-29 1 16 1 34 1-49 1 4 1 31 1-14 1-10 1 12 1 0 1-36 1 32 1 69 1-88 1-57 1 108 1 17 1-100 1 60 1 24 1-72 1 34 1 14 1-7 1 0 1-16 1 13 1 8 1-9 1 0 1 14 1-12 1-19 1 22 1 7 1-24 1 11 1 15 1-16 1-13 1 14 1 47 1-40 1-100 1 141 1 26 1-173 1 106 1 98 1-190 1 51 1 130 1-114 1-29 1 82 1-24 1-33 1 29 1 6 1-17 1 4 1 7 1-7 1 5 1-7 1-17 1 45 1 7 1-70 1 20 1 61 1-52 1-19 1 55 1-24 1-20 1 35 1-27 1 10 1 1 1-6 1 14 1-7 1-13 1 18 1 3 1-18 1 8 1 1 1-7 1 11 1-7 1-1 1 8 1-5 1-2 1 5 1-4 1-4 1 12 1-3 1-20 1 17 1 9 1-19 1 23 1-8 1-28 1 34 1-24 1 22 1 12 1-58 1 27 1 35 1-28 1-8 1 28 1-24 1-12 1 24 1 7 1-14 1-10 1 5 1 11 1 8 1-18 1-3 1 14 1-8 1-2 1 9 1-12 1 10 1 4 1-12 1 3 1 9 1-6 1-1 1-3 1-3 1 9 1 3 1-15 1 11 1 1 1-6 1 4 1 8 1-15 1-2 1 10 1 9 1-11 1-10 1 5 1 8 1-2 1 2 1 2 1-12 1 3 1 9 1-7 1 5 1-3 1-1 1 4 1 0 1-14 1 12 1 8 1-9 1-2 1-2 1 1 1 3 1 4 1-6 1 2 1 3 1-6 1 4 1 7 1-11 1-6 1 22 1-24 1 1 1 22 1-1 1-20 1-5 1 26 1 1 1-24 1 9 1 4 1-4 1 3 1 5 1-7 1-11 1 18 1 7 1-24 1-1 1 17 1 1 1-9 1 7 1-1 1-7 1 0 1 9 1-5 1-9 1 14 1 3 1-15 1 10 1-6 1-1 1 3 1 8 1-1 1-10 1 4 1 0 1-5 1 10 1-12 1 3 1 14 1-2 1-13 1-6 1 15 1-2 1 1 1 4 1-14 1 4 1 6 1-2 1-3 1 0 1 0 1 7 1 4 1-14 1-8 1 18 1-5 1-4 1 15 1-6 1-19 1 12 1 17 1-21 1 0 1 13 1-11 1 8 1 3 1-9 1-8 1 7 1 11 1-5 1-11 1 9 1 1 1-1 1 2 1-6 1-2 1 7 1 1 1-3 1-7 1 16 1-5 1-12 1 3 1 10 1-5 1-3 1 9 1-10 1 2 1 10 1-8 1-9 1 12 1 3 1-16 1 15 1-1 1-8 1 2 1 5 1-4 1-3 1 6 1 0 1-2 1 3 1-3 1-1 1-1 1 3 1 5 1-8 1-6 1 19 1-12 1-10 1 18 1-6 1 0 1 11 1-30 1 16 1 18 1-28 1 9 1 10 1-9 1 0 1 1 1 9 1-8 1-9 1 13 1-1 1-8 1 7 1 0 1-3 1 0 1-1 1 1 1-2 1 13 1-6 1-9 1 8 1-8 1 4 1 3 1-3 1 2 1 4 1-11 1-2 1 13 1-2 1-1 1 2 1-7 1 0 1 3 1 0 1-1 1-2 1 8 1-2 1-12 1 15 1-5 1-7 1 12 1-2 1-6 1 2 1 0 1 0 1-5 1 5 1 1 1 5 1-8 1-4 1 10 1-1 1-4 1-2 1 4 1 2 1-5 1 0 1 3 1-1 1-1 1 3 1-2 1-1 1 1 1 0 1 0 1 0 1 0"/></g><g id="w28"><path class="a" d="M117 0l.5-13 .5 19 .5-33 .5 34 .5-14 .5 11 .5-8 .5 7 .5-5 .5 4 .5-4 .5 12 .5-12 .5 4 .5-5 .5 6 .5-5 .5 8 .5-12 .5 8 .5-5 .5 14 .5-15 .5 9 .5-11 .5 13 .5-12 .5 7 1-4 1 5 1-4 1 2 1-2 1 3 1-4 1 3 1-2 1 2 1-3 1 3 1-5 1 5 1-3 1 6 1-19 1 30 1-21 1 8 1-7 1 8 1-7 1 7 1-4 1 2 1-4 1 5 1-4 1 4 1-5 1 6 1-7 1 5 1-2 1 3 1-7 1 8 1-5 1 3 1-2 1 4 1-5 1 4 1-6 1 8 1-9 1 8 1-6 1 9 1-11 1 9 1-5 1 2 1-4 1 5 1-3 1 2 1-4 1 4 1-4 1 4 1-4 1 4 1-2 1 2 1-2 1 2 1-2 1 3 1-5 1 4 1-3 1 3 1-5 1 5 1-4 1 4 1-2"/><path d="M210 -1l1 28 1-11 1-33 1 9 1 20 1-7 1 8 1-16 1-20 1 20 1 1 1 5 1 7 1-12 1 5 1-7 1-3 1 15 1-5 1-24 1 21 1 9 1 9 1-16 1-15 1 1 1 18 1 3 1-1 1-17 1 1 1 4 1 12 1-12 1-2 1 8 1 4 1-7 1-3 1 1 1 3 1-4 1 6 1 5 1-2 1-6 1 1 1-9 1 9 1-4 1 4 1-4 1 15 1-7 1-16 1 6 1 16 1 1 1-13 1-8 1 5 1-2 1 13 1-3 1 1 1-4 1-2 1 1 1 10 1-15 1 2 1 2 1 5 1 3 1-3 1-7 1-2 1 0 1 13 1-5 1-4 1-8 1 12 1 5 1 2 1-9 1-7 1-3 1 13 1 7 1-3 1-10 1-3 1 8 1-3 1-3 1-3 1 8 1 14 1-18 1-1 1 3 1 4 1-3 1-3 1-3 1 10 1-3 1-6 1 17 1-19 1 2 1 11 1-11 1 11 1-6 1-6 1 2 1 6 1-3 1 0 1 9 1-5 1-8 1 6 1 2 1-1 1-7 1-3 1 5 1 14 1-8 1-4 1-3 1 0 1 4 1 10 1-8 1-9 1 6 1 4 1-11 1 10 1 4 1-2 1-4 1-7 1-1 1 14 1-2 1-1 1-6 1 1 1 7 1-7 1-4 1 5 1 5 1-1 1-9 1 13 1-3 1-10 1 2 1 2 1 7 1-3 1-13 1 11 1 5 1-1 1-6 1-2 1 3 1 4 1-3 1-3 1 3 1 5 1-8 1 2 1 6 1-3 1-11 1 5 1 5 1 4 1-1 1-1 1-5 1-1 1-3 1 12 1 6 1-15 1-17 1 28 1 7 1-22 1-10 1 26 1 16 1-31 1-22 1 33 1 22 1-30 1-15 1 26 1-2 1-13 1 3 1 23 1-17 1-34 1 24 1 38 1-16 1-24 1-2 1 9 1 18 1-3 1-23 1-5 1 0 1 39 1 11 1-51 1-31 1 49 1 42 1-25 1-39 1-8 1 23 1 46 1-9 1-67 1 3 1 53 1-1 1-29 1-12 1 23 1 29 1-8 1-55 1 4 1 53 1 6 1-42 1-28 1 46 1 35 1-55 1 2 1 17 1-20 1 41 1 3 1-84 1 35 1 61 1-10 1-49 1-49 1 81 1 40 1-44 1-20 1-43 1 61 1 63 1-98 1-43 1 125 1-11 1-98 1 57 1 2 1-20 1 40 1-28 1-7 1 19 1-16 1-2 1 27 1-11 1-44 1 37 1 70 1-109 1-26 1 151 1-71 1-83 1 82 1-9 1 42 1-69 1-40 1 134 1-75 1-47 1 88 1-42 1-16 1 36 1-13 1-10 1 9 1-10 1 17 1-3 1-16 1 14 1-1 1-1 1-2 1-12 1 23 1-8 1-12 1 0 1 32 1-18 1-38 1 38 1 20 1-27 1-12 1 8 1 32 1-43 1-4 1 42 1-18 1-7 1 5 1-5 1 12 1-8 1-10 1 21 1-2 1-27 1 23 1-13 1 2 1 20 1-16 1-2 1 13 1-13 1 5 1 3 1-12 1 3 1 15 1-12 1 0 1 7 1-9 1 0 1 11 1-10 1 0 1-1 1 15 1-10 1-8 1 14 1-10 1 1 1 3 1-6 1 23 1-16 1-23 1 28 1-3 1-15 1 29 1-19 1-10 1 12 1 0 1 8 1-6 1-13 1 17 1-13 1-1 1 28 1-36 1 12 1 20 1-32 1 10 1 9 1-1 1 0 1-8 1 11 1-3 1-19 1 19 1 0 1-2 1 7 1-8 1 0 1-1 1-4 1 7 1 2 1-4 1-11 1 11 1 6 1-3 1-7 1-1 1 8 1-1 1-3 1-5 1 8 1 13 1-18 1-3 1-2 1 9 1 6 1-4 1-2 1-5 1 1 1 8 1-1 1-9 1 0 1 10 1-1 1-8 1-2 1 4 1 12 1-4 1-13 1 6 1 0 1 6 1-10 1-4 1 19 1-12 1 0 1 13 1-21 1 4 1 13 1-1 1-12 1 4 1-4 1 7 1 11 1-10 1-8 1-1 1 9 1 2 1-4 1 2 1-8 1 9 1-3 1 2 1 3 1-3 1-11 1 6 1 12 1-11 1-4 1 9 1-4 1 3 1-2 1 1 1 1 1-2 1-6 1 11 1-1 1-8 1 10 1-5 1-9 1 0 1 16 1-4 1-19 1 18 1 1 1 2 1 2 1-18 1 5 1 9 1-6 1 7 1-5 1-2 1 4 1-4 1-2 1 6 1 1 1-9 1 8 1 5 1-10 1 2 1 2 1-6 1 4 1 3 1-1 1 0 1-2 1 10 1-21 1 7 1 17 1-15 1-5 1 15 1-3 1-11 1 11 1-4 1-2 1 2 1-2 1 8 1-4 1-12 1 12 1 7 1-17 1 6 1 4 1-6 1 6 1 3 1-8 1 5 1-2 1-8 1 17 1-8 1-8 1 7 1-1 1 11 1-10 1-10 1 12 1 2 1-6 1 3 1 3 1-3 1-7 1 6 1 2 1-7 1 5 1 10 1-14 1 0 1 8 1-7 1-3 1 14 1-8 1-8 1 12 1 2 1-8 1 1 1-1 1 6 1-10 1 6 1 5 1-9 1 9 1-4 1-9 1 12 1-2 1 0 1-5 1 1 1 6 1-6 1 3 1 2 1-8 1 3 1 5 1-2 1-2 1-3 1 7 1 1 1-9 1 7 1-1 1-7 1 7 1 4 1-13 1 9 1 7 1-6 1-8 1-1 1 14 1-6 1-13 1 20 1-1 1-12 1-1 1 7 1 6 1-8 1-1 1 5 1-3 1 0 1-1 1-1 1 1 1 4 1-2 1-3 1 2 1 0 1 0 1 0 1 0 1 0 1 0 1 0 1 0"/></g><g id="w29"><path class="a" d="M117 0l.5-11 .5 19 .5-43 .5 41 .5-11 .5 9 .5-11 .5 23 .5-21 .5 8 .5-8 .5 9 .5-7 .5 6 .5-6 .5 5 .5-4 .5 5 .5-14 .5 18 .5-14 .5 11 .5-12 .5 12 .5-13 .5 18 .5-13 .5 8 1-6 1 5 1-4 1 2 1-6 1 6 1-6 1 6 1-3 1 6 1-10 1 7 1-2 1 6 1-7 1 9 1-16 1 16 1-10 1 6 1-4 1 2 1-2 1 2 1-4 1 6 1-6 1 4 1-5 1 6 1-10 1 13 1-9 1 6 1-5 1 4 1-2 1 2 1-2 1 5 1-5 1 4 1-4 1 8 1-14 1 12 1-10 1 12 1-14 1 8 1-2 1 3 1-7 1 6 1-2 1 1 1-1 1 2 1-2 1 4 1-4 1 3 1-3 1 3 1-3 1 2 1-3 1 2 1-1 1 2 1-2 1 2 1-2 1 3 1-7 1 6 1-2 1 2 1-2"/><path d="M210 -1l1-1 1 32 1-38 1-14 1 31 1 5 1 0 1-35 1 21 1 16 1-19 1-4 1 2 1 4 1 13 1-23 1 6 1 6 1 5 1 7 1-16 1-10 1 11 1-6 1 13 1 2 1-4 1-2 1-3 1 4 1 2 1-11 1 18 1-15 1-1 1 6 1-2 1 5 1-1 1-12 1 10 1 9 1-10 1-8 1 7 1-1 1 9 1-6 1 4 1-8 1-2 1 10 1-3 1-3 1 3 1-12 1 17 1-4 1-8 1 1 1 1 1 0 1 14 1-17 1 5 1 5 1 0 1-8 1-3 1 7 1 8 1-2 1-8 1-5 1-2 1 7 1 10 1-4 1 5 1-11 1-3 1-4 1 13 1-3 1-4 1 5 1-3 1 0 1 7 1-8 1-3 1 7 1-1 1-1 1 9 1-12 1 0 1 5 1 0 1-7 1 9 1-7 1 2 1 5 1 0 1-9 1 7 1-7 1 10 1 7 1-18 1-4 1 9 1 4 1 8 1-10 1-5 1-4 1 1 1 3 1 12 1-2 1-8 1-5 1 11 1-2 1 0 1 2 1-16 1 10 1 15 1-16 1-3 1 9 1-3 1-9 1 14 1-3 1-4 1-2 1 4 1 0 1-1 1-4 1 10 1 2 1-6 1-14 1 16 1 8 1-19 1 11 1 8 1-11 1-6 1-5 1 4 1 10 1 17 1-18 1-17 1 8 1 9 1 3 1 4 1-10 1-3 1-4 1 7 1 5 1 8 1-8 1-17 1-1 1 17 1-1 1 7 1-11 1-4 1 17 1-3 1-19 1 5 1 2 1 5 1 6 1-5 1-11 1 6 1 7 1-1 1-9 1 4 1 2 1-1 1 7 1 12 1-19 1-22 1 8 1 31 1 6 1-29 1-27 1 34 1 30 1-10 1-41 1-9 1 34 1 15 1-15 1 1 1 0 1-22 1-5 1 41 1 14 1-55 1-28 1 73 1 27 1-59 1-27 1 39 1 20 1-20 1-28 1 21 1 18 1-5 1-7 1-10 1-5 1 24 1-3 1-18 1 10 1-3 1-10 1 41 1-2 1-69 1-4 1 79 1 20 1-52 1-41 1 24 1 41 1 2 1-45 1-12 1 41 1 30 1-35 1-46 1 8 1 65 1-5 1-32 1-11 1 0 1 43 1-36 1 0 1 70 1-122 1 23 1 124 1-99 1-63 1 99 1 11 1 3 1-64 1-44 1 108 1 2 1-63 1 19 1 17 1-17 1-7 1 29 1-17 1-20 1 46 1-21 1-37 1 62 1-20 1-56 1 70 1 26 1-114 1 53 1 87 1-117 1-6 1 98 1-44 1-7 1-48 1 30 1 114 1-120 1-73 1 182 1-9 1-224 1 160 1 98 1-194 1 55 1 116 1-123 1-12 1 128 1-92 1-80 1 165 1-14 1-157 1 94 1 58 1-63 1-8 1 9 1 16 1 18 1-43 1-11 1 56 1-14 1-40 1 30 1 10 1-21 1 4 1 7 1-15 1 15 1 0 1-5 1-4 1 6 1 5 1-15 1 2 1 27 1-21 1-10 1 13 1-8 1 9 1 2 1-9 1-3 1 11 1 8 1-23 1 2 1 21 1 0 1-21 1-2 1 18 1-6 1-1 1-4 1-4 1 26 1-23 1-5 1 22 1-12 1-2 1 3 1-6 1 11 1-6 1-5 1 8 1-3 1-10 1 15 1 6 1-18 1 5 1 5 1-9 1 5 1 8 1-5 1-11 1 9 1 6 1-4 1-10 1 7 1 12 1-10 1-11 1 14 1-9 1-1 1 22 1-8 1-28 1 18 1 16 1-16 1-6 1 6 1 2 1 7 1-7 1-3 1 10 1-5 1-14 1 9 1 5 1 2 1-4 1 4 1 2 1-11 1 3 1 6 1-10 1 7 1 4 1-15 1 14 1 10 1-17 1-12 1 14 1 15 1-14 1-11 1 10 1 9 1-11 1 5 1-1 1 1 1 2 1-9 1 3 1 3 1 4 1-4 1-12 1 22 1-13 1-11 1 29 1-18 1-13 1 25 1-2 1-13 1-1 1 4 1 8 1 0 1-13 1 6 1 3 1 0 1-2 1-4 1 1 1 9 1-6 1 2 1-2 1-7 1 7 1 4 1-4 1-3 1 8 1-4 1-4 1 0 1-4 1 15 1-13 1 2 1 14 1-14 1 2 1 1 1-7 1 11 1 1 1-12 1 6 1 8 1-7 1-6 1 4 1 0 1 7 1 2 1-7 1 1 1-5 1 4 1-7 1 12 1 6 1-17 1 0 1 10 1-9 1 6 1 8 1-14 1 7 1 2 1-7 1 3 1-3 1-2 1 13 1-8 1-7 1 16 1-7 1-19 1 25 1-1 1-10 1-8 1 1 1 47 1-55 1 4 1 31 1-19 1-2 1 6 1-5 1-2 1 9 1 9 1-23 1 0 1 21 1-11 1-3 1 5 1-4 1 0 1 0 1-3 1 18 1-11 1-9 1 11 1-13 1 8 1 4 1-2 1 3 1-3 1-10 1 5 1 13 1-1 1-18 1 5 1 12 1-8 1 3 1 0 1-11 1 11 1 2 1-2 1-3 1-2 1 3 1-3 1 6 1 2 1-10 1 3 1 3 1 5 1-11 1 0 1 14 1-6 1-15 1 16 1-1 1-5 1 3 1-2 1 5 1 1 1-15 1 11 1-2 1-6 1 13 1-4 1-1 1-1 1-2 1 4 1-2 1-4 1 4 1 6 1-9 1 3 1 2 1-2 1 1 1-5 1 5 1 5 1-11 1 5 1 2 1-4 1 0 1 7 1-3 1-5 1 3 1-4 1 1 1 9 1-4 1-8 1 4 1 8 1-5 1-5 1 1 1 7 1-3 1-4 1 4 1-1 1-1 1 0 1 1 1 1 1-1 1 0 1 0 1 0 1 0"/></g><g id="w30"><path class="a" d="M117 0l.5-10 .5 36 .5-32 .5 23 .5-31 .5 31 .5-20 .5 9 .5-8 .5 9 .5-10 .5 10 .5-11 .5 6 .5-5 .5 5 .5-4 .5 3 .5-3 .5 4 .5-9 .5 14 .5-13 .5 14 .5-20 .5 18 .5-9 .5 9 1-9 1 4 1-2 1 8 1-11 1 5 1-2 1 5 1-7 1 4 1-2 1 2 1-4 1 5 1-4 1 7 1-38 1 39 1-12 1 10 1-6 1 4 1-3 1 2 1-6 1 7 1-4 1 3 1-3 1 6 1-8 1 10 1-10 1 9 1-6 1 2 1-2 1 4 1-4 1 5 1-5 1 4 1-5 1 5 1-6 1 11 1-13 1 11 1-8 1 3 1-2 1 2 1-2 1 2 1-2 1 2 1-2 1 3 1-4 1 3 1-4 1 6 1-5 1 5 1-4 1 2 1-2 1 2 1-2 1 2 1-2 1 2 1-4 1 3 1-1 1 4 1-4 1 5 1-5"/><path d="M210 -1l1-1 1-17 1 10 1 11 1 18 1-16 1-25 1 9 1 34 1-16 1-26 1 20 1 18 1-13 1-18 1-5 1 29 1-11 1 6 1 0 1-12 1 3 1-9 1 11 1 17 1-19 1-5 1 10 1 6 1-12 1 9 1-6 1-4 1 6 1 5 1-12 1 7 1 1 1-4 1 9 1-10 1-3 1 18 1-16 1-6 1 12 1 6 1-10 1-4 1 5 1 9 1-15 1 6 1 5 1-4 1 3 1-1 1-11 1 4 1 7 1 6 1-7 1-7 1 4 1 5 1-1 1-3 1 0 1 6 1-7 1 2 1-2 1 1 1 1 1 2 1-3 1 4 1-8 1 8 1 2 1-6 1-5 1 1 1 6 1 1 1 6 1-6 1-11 1 3 1 3 1 6 1-3 1 3 1-9 1 8 1-5 1 3 1 6 1 5 1-13 1-8 1 6 1 10 1-8 1 3 1 0 1 3 1-14 1 15 1-2 1-9 1 13 1-4 1-10 1 9 1-4 1 3 1 0 1-8 1 8 1 6 1-1 1-7 1-9 1 13 1 5 1-9 1-9 1 4 1 4 1 12 1-3 1-6 1-5 1-1 1 3 1 8 1-3 1-5 1-1 1 3 1-6 1 8 1 3 1 1 1-15 1 3 1 6 1 1 1 0 1-1 1 1 1 3 1-6 1-2 1 5 1-2 1-1 1 14 1-10 1-8 1-3 1 3 1 11 1 5 1-7 1-7 1-4 1 10 1 5 1 1 1-14 1-4 1 7 1 10 1 1 1-9 1-20 1 24 1 18 1-16 1-21 1 2 1 21 1 6 1-14 1 3 1-4 1-5 1 2 1 14 1 3 1-25 1-4 1 31 1 8 1-30 1-17 1 31 1 21 1-21 1-30 1 14 1 34 1-8 1-36 1 20 1 8 1-22 1 14 1 30 1-43 1-29 1 65 1 36 1-85 1-56 1 98 1 83 1-97 1-99 1 74 1 100 1-49 1-78 1 13 1 68 1-13 1-30 1 3 1 15 1 0 1-16 1 2 1 29 1-8 1-28 1-11 1 22 1 24 1-22 1 6 1 1 1-28 1 23 1 26 1-24 1-28 1 19 1 31 1-6 1-49 1 20 1 35 1-21 1-18 1 3 1 25 1 21 1-59 1-12 1 67 1 15 1-70 1-37 1 78 1 44 1-67 1 0 1-22 1 21 1 63 1-72 1-58 1 145 1-47 1-72 1 62 1-6 1-20 1 17 1-1 1-6 1-11 1 28 1 9 1-61 1 38 1 45 1-91 1 40 1 48 1-76 1 28 1 55 1-83 1 15 1 53 1-42 1-7 1 18 1 12 1-31 1 14 1 22 1-40 1 17 1 19 1-19 1-5 1 14 1-8 1-6 1 17 1-1 1-24 1 15 1 3 1 5 1 7 1-32 1 14 1 34 1-51 1-9 1 54 1 5 1-51 1 1 1 48 1-15 1-43 1 28 1 23 1-25 1 3 1 12 1-25 1 22 1-7 1-3 1 10 1-9 1-1 1 3 1 7 1-4 1-10 1 13 1-8 1-5 1 11 1-2 1 0 1-2 1-4 1 2 1 1 1 11 1-16 1 7 1-4 1 2 1 14 1-18 1-3 1 13 1-5 1-1 1 2 1-4 1 0 1 7 1-11 1 16 1 4 1-38 1 27 1 16 1-30 1 10 1 16 1-15 1-14 1 20 1 6 1-23 1 12 1 12 1-31 1 14 1 25 1-20 1-3 1 3 1-3 1 3 1 0 1 1 1 0 1-1 1 2 1 0 1-4 1 6 1-4 1-8 1 10 1 0 1-6 1 13 1-11 1-13 1 22 1 0 1-19 1 10 1 10 1-1 1-11 1-3 1 11 1 1 1-11 1 14 1-7 1-10 1 18 1-7 1-19 1 20 1 8 1-13 1 7 1-15 1-1 1 24 1-6 1-5 1-8 1-2 1 17 1-5 1-16 1 12 1 18 1-30 1-3 1 41 1-23 1-22 1 28 1-10 1-6 1 14 1-12 1 10 1-8 1 0 1 6 1-2 1 0 1 4 1-17 1 19 1 3 1-26 1 13 1 11 1-3 1-9 1-8 1 21 1-3 1-8 1-6 1 18 1-12 1-8 1 17 1-8 1 3 1 1 1-9 1 3 1-1 1 8 1-1 1-2 1 0 1-7 1 12 1-1 1-17 1 18 1-8 1-1 1 12 1-12 1-2 1 8 1-5 1-1 1 5 1 1 1 1 1-6 1-3 1 9 1-8 1-2 1 20 1-15 1-12 1 19 1-7 1 6 1 0 1-13 1 7 1 8 1-9 1-6 1 12 1 0 1-7 1 5 1-6 1 2 1 7 1-2 1-9 1 8 1 3 1-14 1 9 1 11 1-13 1-1 1-2 1 6 1 2 1-4 1 4 1-4 1-1 1-1 1 5 1 1 1-8 1 7 1 2 1-7 1 4 1 0 1-6 1 6 1 4 1-6 1-4 1 8 1-6 1 0 1 9 1-1 1-9 1 2 1 8 1-8 1-2 1 13 1-18 1 5 1 11 1-9 1-4 1 10 1-3 1-3 1 2 1 10 1-16 1-8 1 25 1 1 1-33 1 21 1 13 1-22 1 4 1 17 1-5 1-18 1 5 1 9 1 3 1-8 1-3 1 11 1-7 1 1 1 2 1-4 1 2 1 3 1-5 1-8 1 13 1 12 1-26 1 10 1 10 1-17 1 2 1 13 1 3 1-17 1 3 1 8 1-8 1 0 1 11 1-7 1-3 1 5 1 0 1 1 1-12 1 11 1 8 1-11 1-3 1 0 1 3 1 4 1 3 1-8 1-7 1 12 1-1 1-1 1 0 1 5 1-9 1-3 1 9 1-4 1 2 1 1 1-4 1 3 1-2 1 1 1-1 1 0 1 2 1 0 1-1 1 0 1 0 1 0 1 0"/></g><g id="w31"><path class="a" d="M117 0l.5-11 .5 18 .5-35 .5 38 .5-14 .5 10 .5-9 .5 18 .5-17 .5 9 .5-10 .5 5 .5-7 .5 16 .5-18 .5 13 .5-9 .5 9 .5-14 .5 11 .5-6 .5 8 .5-12 .5 19 .5-20 .5 19 .5-19 .5 11 1-4 1 2 1-3 1 3 1-9 1 9 1-4 1 4 1-6 1 6 1-3 1 4 1-3 1 4 1-7 1 8 1-18 1 31 1-20 1 4 1-2 1 3 1-3 1 7 1-7 1 2 1-2 1 2 1-3 1 5 1-12 1 13 1-8 1 5 1-2 1 8 1-13 1 10 1-7 1 5 1-3 1 2 1-4 1 8 1-11 1 10 1-12 1 11 1-5 1 3 1-2 1 2 1-2 1 2 1-3 1 3 1-4 1 4 1-2 1 4 1-4 1 2 1-2 1 1 1-1 1 2 1-3 1 3 1-2 1 2 1-3 1 3 1-2 1 6 1-6 1 3 1-4 1 3 1-2"/><path d="M210 -1l1-7 1 13 1 6 1 9 1-34 1-5 1 21 1 2 1 1 1-18 1 15 1 2 1 15 1-18 1-26 1 17 1 15 1 4 1 4 1-22 1 3 1 9 1-7 1-6 1 0 1 15 1 4 1-18 1 3 1 0 1 11 1 1 1-14 1-3 1 9 1 5 1-1 1 1 1 4 1-14 1-2 1 0 1 10 1 3 1-7 1-7 1 16 1-5 1-7 1 1 1 3 1 0 1 2 1-3 1-5 1-1 1 15 1-3 1-7 1-1 1 1 1 1 1 8 1-7 1 0 1-10 1 6 1 8 1 0 1 4 1-7 1-4 1 5 1-9 1 7 1-2 1 2 1 3 1 1 1-8 1 3 1-2 1 2 1 2 1 2 1-3 1-3 1 1 1 10 1-8 1-4 1-3 1 6 1 4 1 10 1-17 1-7 1 8 1 14 1-6 1-7 1-7 1 8 1 8 1-6 1-9 1-1 1 26 1-3 1-44 1 38 1-10 1 3 1-3 1-3 1 6 1 7 1-7 1-3 1-7 1 13 1 4 1-5 1-4 1-7 1-2 1 21 1-9 1-10 1 12 1-5 1-11 1 18 1-2 1-3 1 0 1-3 1 3 1 5 1-12 1 5 1 3 1-2 1-3 1 5 1 1 1-7 1 2 1 9 1-14 1 5 1 10 1-7 1-7 1 7 1 1 1 1 1-7 1-5 1 10 1 8 1-6 1-4 1-21 1 18 1 21 1-3 1-17 1-8 1 5 1 2 1 13 1 7 1-27 1-3 1 13 1 13 1-6 1-8 1-8 1 7 1 7 1 9 1-11 1-11 1 2 1 13 1 5 1-12 1-13 1 7 1 9 1 13 1-12 1-16 1 5 1 24 1 11 1-37 1-42 1 36 1 53 1 0 1-49 1-35 1 31 1 64 1-17 1-67 1-15 1 58 1 55 1-31 1-71 1 5 1 42 1 28 1-29 1-26 1 2 1 26 1 16 1-19 1-25 1 13 1 14 1-6 1 3 1-2 1-20 1 17 1 19 1-9 1-19 1-6 1 22 1 23 1-47 1-32 1 76 1 32 1-77 1-26 1 41 1 37 1-11 1-50 1 0 1 50 1-4 1-33 1-3 1 38 1-6 1-38 1 21 1 11 1-2 1 6 1-41 1 33 1 23 1-56 1 31 1 27 1-54 1 23 1 22 1-42 1 37 1-1 1-56 1 63 1 10 1-72 1 48 1 20 1-80 1 79 1 17 1-100 1 54 1 63 1-89 1-5 1 74 1-21 1-70 1 48 1 53 1-80 1 1 1 75 1-52 1-20 1 42 1-2 1-10 1-49 1 52 1 54 1-113 1 15 1 130 1-96 1-96 1 149 1-1 1-111 1 68 1 49 1-111 1 58 1 55 1-111 1 40 1 66 1-70 1-4 1 38 1-5 1-24 1 0 1 27 1-5 1-29 1 35 1-3 1-37 1 38 1-8 1-20 1 32 1-16 1-16 1 10 1 27 1-21 1-26 1 37 1 5 1-33 1 10 1 15 1-7 1-6 1 3 1 13 1-17 1-1 1 4 1 0 1 14 1-11 1-5 1-2 1 6 1-6 1 8 1 3 1-4 1 0 1 2 1-1 1-16 1 10 1 23 1-31 1 8 1 11 1-3 1-3 1-11 1 14 1-2 1-8 1 24 1-34 1 5 1 30 1-29 1 8 1 13 1-12 1-1 1 5 1-7 1-3 1 9 1 3 1-7 1 7 1-6 1-1 1 11 1-11 1-5 1 9 1 0 1-2 1 6 1-15 1 2 1 14 1-4 1-10 1 8 1 3 1-2 1-1 1-4 1 1 1 1 1 2 1 5 1-10 1-2 1 10 1 10 1-21 1-4 1 17 1-5 1-1 1 7 1-9 1-11 1 15 1 4 1 0 1-4 1-9 1 12 1-12 1-3 1 25 1-9 1-13 1 1 1 11 1 1 1-12 1 8 1-3 1-1 1 1 1-3 1 12 1-1 1-19 1 14 1 3 1-10 1 3 1 7 1-7 1 2 1 0 1-2 1 6 1-4 1-7 1 9 1 2 1-1 1-6 1 0 1 14 1-8 1-9 1 3 1-7 1 11 1 11 1-13 1-3 1 11 1-13 1-1 1 21 1-16 1-15 1 25 1 0 1-14 1 6 1 4 1-4 1-9 1 10 1 5 1-10 1 5 1-3 1 5 1 1 1-10 1 5 1 8 1-3 1-12 1-1 1 18 1-1 1-18 1 6 1 17 1-18 1 1 1 5 1-2 1-2 1 9 1-3 1-16 1 11 1 19 1-15 1-9 1 5 1 4 1-5 1-2 1 13 1 0 1-17 1 10 1 2 1-9 1 4 1 2 1 7 1-13 1 3 1 18 1-22 1 3 1 11 1-13 1 5 1 4 1-4 1 3 1-3 1-2 1 1 1 6 1-2 1-3 1-6 1 5 1 2 1 1 1 3 1 3 1-11 1-5 1 14 1-1 1-15 1 20 1-1 1-24 1 20 1-4 1-3 1 9 1-6 1 3 1-14 1 14 1 3 1-10 1 2 1 6 1-2 1-2 1 1 1 2 1-4 1-2 1 1 1 3 1 1 1-7 1 6 1 5 1-9 1-2 1 5 1 4 1 2 1-9 1-7 1 19 1-10 1-5 1 9 1-1 1 0 1-6 1 2 1 7 1-6 1-5 1 10 1 1 1-15 1 12 1 2 1-5 1-3 1 8 1-3 1-8 1 8 1 4 1-9 1 6 1 1 1-8 1 10 1-4 1-8 1 15 1-13 1-2 1 16 1-12 1 4 1 7 1-20 1 25 1-13 1-22 1 37 1-10 1-14 1 11 1-2 1 2 1-3 1 0 1 3 1-4 1-2 1 8 1-3 1-3 1 3 1-1 1 0 1 0 1 0 1 1 1-1 1 0 1 0 1 0 1 0 1 0 1 0"/></g><g id="w32"><path class="a" d="M117 0l.5-7 .5 20 .5-24 .5 15 .5-12 .5 17 .5-12 .5 5 .5-5 .5 12 .5-12 .5 5 .5-5 .5 9 .5-8 .5 3 .5-4 .5 10 .5-9 .5 6 .5-7 .5 10 .5-16 .5 18 .5-26 .5 23 .5-19 .5 21 1-10 1 7 1-15 1 12 1-4 1 3 1-3 1 3 1-2 1 2 1-2 1 2 1-2 1 6 1-7 1 8 1-24 1 24 1-11 1 6 1-5 1 6 1-4 1 3 1-2 1 2 1-2 1 2 1-3 1 5 1-8 1 13 1-12 1 5 1-2 1 2 1-2 1 3 1-3 1 4 1-4 1 2 1-4 1 7 1-6 1 7 1-8 1 6 1-5 1 3 1-4 1 6 1-5 1 5 1-7 1 5 1-2 1 5 1-6 1 3 1-4 1 4 1-2 1 2 1-2 1 2 1-2 1 3 1-5 1 4 1-4 1 4 1-2 1 2 1-2 1 2 1-2 1 2 1-7"/><path d="M210 -6l1 10 1-23 1 9 1 9 1 4 1-9 1 20 1-10 1-13 1 9 1 4 1-9 1 4 1 16 1-13 1-19 1 19 1 7 1-10 1-9 1 10 1 2 1 5 1-13 1 9 1 1 1-4 1-8 1 8 1 4 1 0 1-6 1 8 1-9 1 0 1 5 1 1 1-7 1 8 1-8 1 0 1 11 1-8 1-5 1 11 1-3 1-8 1 7 1 4 1-14 1 13 1 1 1-3 1-6 1-3 1 1 1 12 1 5 1-4 1-18 1 3 1 10 1 3 1-11 1 4 1 4 1 3 1-7 1 0 1-3 1 6 1 1 1 1 1 0 1 1 1-6 1 6 1-10 1 1 1 2 1 9 1-5 1-6 1 9 1 0 1-6 1 2 1-6 1 9 1-7 1 6 1 1 1-4 1 4 1-3 1-3 1 13 1-9 1-11 1-2 1 20 1-1 1-8 1-12 1 7 1 12 1 5 1-8 1-2 1-10 1 10 1 0 1 1 1-4 1-3 1 7 1 4 1-13 1 10 1-9 1 2 1 6 1 3 1-3 1 0 1-4 1-6 1 6 1 11 1-7 1-6 1 1 1 6 1-3 1 3 1-9 1 1 1 7 1 4 1-2 1-4 1-6 1 11 1-1 1 0 1-10 1 2 1 3 1 1 1-3 1 10 1-7 1-9 1 9 1 12 1-15 1 4 1 5 1-3 1-18 1 0 1 22 1 24 1-24 1-29 1 5 1 29 1 7 1-23 1-10 1 8 1 9 1 5 1-9 1-3 1 8 1-1 1-7 1 1 1 5 1 2 1-8 1 6 1-1 1 2 1-7 1 0 1 7 1 3 1-3 1-11 1-6 1 22 1 11 1-15 1-31 1 10 1 43 1 12 1-56 1-19 1 35 1 28 1-16 1-35 1 0 1 53 1 3 1-43 1-14 1 26 1 10 1-5 1-11 1 2 1 7 1-1 1 2 1 2 1-16 1 3 1 1 1 14 1 7 1-12 1-34 1 17 1 55 1-3 1-72 1-31 1 74 1 86 1-66 1-114 1 32 1 103 1-8 1-55 1-5 1 8 1 0 1 21 1 17 1-27 1-47 1 51 1 18 1-30 1 38 1-40 1-58 1 99 1 25 1-80 1-26 1 52 1 44 1-30 1-51 1 10 1 30 1 26 1-7 1-65 1-4 1 70 1-14 1 17 1-39 1-38 1 93 1-35 1-56 1 85 1-41 1-25 1 47 1-14 1-8 1 3 1-12 1 15 1 2 1-16 1 12 1 9 1-14 1-2 1 4 1 7 1-8 1 1 1 7 1-10 1-6 1-3 1 69 1-39 1-145 1 183 1 30 1-159 1 57 1 76 1-74 1-29 1 57 1 20 1-53 1-9 1 61 1-18 1-39 1 27 1 21 1-28 1-33 1 58 1 15 1-64 1 2 1 78 1-53 1-61 1 108 1-9 1-110 1 91 1 38 1-100 1 33 1 45 1-40 1-6 1 18 1 5 1-22 1 4 1 11 1 17 1-14 1-37 1 21 1 47 1-44 1-6 1 27 1-23 1 4 1 21 1-14 1-19 1 15 1 11 1-6 1-3 1 0 1-5 1-4 1 18 1-3 1-6 1-4 1 5 1 4 1-14 1 8 1 5 1-2 1-3 1-1 1 5 1-11 1 14 1-3 1-9 1 8 1-3 1-3 1 16 1-14 1-6 1 0 1 14 1 3 1-9 1-15 1 21 1 7 1-29 1 20 1 10 1-24 1 4 1 8 1 0 1-5 1 6 1-4 1-2 1 9 1-1 1-16 1 8 1 4 1 3 1-2 1-6 1 12 1-7 1-13 1 12 1 8 1-9 1-2 1 4 1 1 1-7 1-5 1 19 1-9 1 1 1 1 1-3 1 8 1-16 1-1 1 22 1-13 1 4 1-1 1-5 1 3 1 3 1-12 1 10 1 11 1-14 1-8 1 11 1-1 1-3 1 4 1 4 1-7 1 4 1-4 1 3 1 0 1-5 1 8 1-8 1-5 1 18 1-5 1-12 1 10 1 4 1-17 1 9 1 10 1-9 1-1 1 15 1-11 1-19 1 16 1 4 1-9 1 12 1 1 1-12 1-3 1 13 1 0 1-9 1 0 1 7 1-1 1 1 1-3 1-6 1-1 1 20 1-9 1-23 1 24 1 2 1-14 1 9 1 5 1-6 1-10 1 4 1 18 1-15 1-10 1 26 1-18 1-6 1 11 1 15 1-18 1-13 1 22 1 1 1-29 1 31 1 8 1-39 1 22 1 14 1-25 1 12 1-5 1 3 1 12 1-19 1 4 1 6 1-9 1 9 1-2 1 0 1 2 1-5 1-2 1 9 1-7 1 4 1-1 1-3 1 5 1-4 1 0 1 0 1 8 1-16 1 12 1-2 1-15 1 29 1-17 1 1 1 9 1-15 1 7 1 11 1-24 1 10 1 15 1-11 1-5 1 8 1-3 1-9 1 8 1 10 1-13 1-8 1 15 1 4 1-15 1 4 1 9 1-5 1-7 1 0 1 12 1 1 1-14 1 9 1-3 1-4 1 7 1 5 1-10 1-3 1 8 1 2 1-8 1 1 1 8 1-5 1-1 1 3 1 2 1-9 1-3 1 18 1-9 1-9 1 8 1 6 1-4 1-6 1 4 1-3 1 4 1 7 1-14 1 6 1 3 1-9 1 5 1 5 1-6 1 3 1 1 1 2 1-6 1 1 1-2 1 3 1 1 1 1 1 0 1-5 1 0 1 2 1 0 1 4 1-4 1 3 1 2 1-7 1-2 1 6 1 3 1-2 1-2 1 3 1-6 1-3 1 10 1 1 1-12 1 6 1 10 1-15 1 1 1 12 1-13 1 8 1 5 1-11 1 4 1 3 1-7 1 2 1 4 1-1 1-2 1 1 1 0 1 0 1 0 1 0 1 0 1 0 1 0"/></g><g id="w33"><path class="a" d="M117 0l.5-8 .5 18 .5-18 .5 14 .5-32 .5 32 .5-10 .5 13 .5-15 .5 9 .5-7 .5 7 .5-6 .5 4 .5-6 .5 7 .5-4 .5 7 .5-16 .5 14 .5-6 .5 11 .5-12 .5 12 .5-15 .5 12 .5-13 .5 14 1-7 1 3 1-4 1 4 1-4 1 3 1-2 1 3 1-6 1 5 1-2 1 2 1-2 1 2 1-6 1 11 1-18 1 17 1-9 1 7 1-4 1 2 1-2 1 2 1-3 1 5 1-4 1 2 1-2 1 6 1-10 1 9 1-5 1 2 1-2 1 4 1-5 1 3 1-4 1 4 1-2 1 2 1-8 1 15 1-12 1 7 1-7 1 7 1-5 1 6 1-5 1 2 1-2 1 2 1-2 1 2 1-3 1 3 1-3 1 3 1-2 1 4 1-4 1 2 1-3 1 3 1-4 1 4 1-3 1 3 1-2 1 2 1-2 1 2 1-4 1 4 1-6 1 6 1-1"/><path d="M210 0l1 1 1 1 1 22 1-29 1 0 1 19 1-9 1-20 1 7 1 18 1 3 1-16 1 3 1-7 1 2 1 8 1-7 1 5 1 12 1-15 1-6 1 13 1-3 1-14 1 14 1-2 1-3 1 2 1 12 1-13 1 0 1 14 1-20 1-4 1 19 1-6 1 3 1-3 1-1 1-4 1 1 1 5 1 4 1-14 1 7 1 8 1-8 1-9 1 11 1 4 1 4 1-7 1-5 1-1 1 7 1-10 1 9 1 3 1-9 1 9 1-1 1-12 1 10 1-1 1-2 1-6 1 9 1 10 1-14 1-12 1 18 1 7 1-3 1-18 1-7 1 21 1 8 1-16 1 1 1 0 1 5 1 3 1 1 1-14 1 8 1-2 1 5 1 0 1-3 1-4 1 3 1 3 1-1 1 0 1 0 1-9 1 17 1-6 1-8 1 8 1-5 1-9 1 13 1 0 1 0 1 3 1-13 1 2 1 23 1-21 1 6 1 2 1-6 1-7 1 1 1 11 1 2 1-7 1 7 1-1 1-9 1 0 1 12 1-8 1 1 1-6 1 5 1-2 1 8 1 5 1-2 1-12 1 0 1-3 1 4 1 6 1 1 1-4 1 2 1-7 1 9 1-1 1-4 1 1 1 2 1-6 1 6 1 1 1-6 1-3 1 4 1 0 1 15 1-11 1-10 1-1 1 17 1-3 1-9 1-8 1 13 1 15 1-10 1-23 1 6 1 18 1 6 1-15 1-12 1 14 1 14 1-9 1-10 1-3 1 3 1 9 1 8 1-6 1-15 1-7 1 20 1 2 1 3 1 1 1-22 1-3 1 17 1 12 1-3 1-26 1 6 1 17 1-3 1-19 1 18 1 8 1-13 1-4 1 0 1 9 1 10 1-17 1-14 1 8 1 20 1 19 1-30 1-57 1 46 1 76 1-41 1-79 1 16 1 86 1 8 1-86 1-24 1 65 1 49 1-59 1-49 1 40 1 36 1-17 1-11 1-6 1 8 1 2 1-4 1 4 1-12 1-2 1 31 1-26 1-4 1 28 1-12 1-33 1 20 1 20 1 1 1-3 1-38 1 9 1 44 1-32 1 3 1 28 1-47 1-11 1 61 1 16 1-44 1-66 1 59 1 64 1-66 1-24 1 48 1-19 1 5 1 30 1-61 1-8 1 88 1-30 1-65 1 53 1 25 1-100 1 89 1 79 1-188 1 49 1 126 1-133 1 12 1 111 1-97 1-41 1 96 1-6 1-62 1 36 1 20 1-49 1 24 1 6 1-10 1 6 1-10 1 29 1-2 1-77 1 79 1 66 1-183 1 79 1 105 1-136 1 39 1 35 1-32 1 15 1-16 1-10 1 44 1-29 1-23 1 48 1-9 1-36 1 32 1 3 1-23 1 18 1-23 1 2 1 65 1-65 1-31 1 92 1-48 1-37 1 73 1-33 1-30 1 45 1-8 1-39 1 49 1-1 1-49 1 39 1 4 1-28 1 26 1-12 1-2 1 5 1 3 1 5 1-26 1 24 1 3 1-30 1 29 1 4 1-25 1 14 1 1 1-4 1-3 1 2 1 16 1-22 1-1 1 12 1 3 1-6 1-5 1 2 1 4 1 4 1 1 1-4 1-17 1 15 1 16 1-22 1 4 1 3 1-3 1 1 1-8 1 23 1-11 1-29 1 47 1-7 1-36 1 22 1-10 1 23 1-3 1-18 1 7 1-1 1 2 1 2 1-3 1 8 1-2 1-13 1 0 1 10 1 5 1-14 1 5 1 1 1 5 1-2 1-6 1 18 1-15 1-11 1 15 1-1 1 5 1-15 1 1 1 12 1-6 1 8 1-9 1-9 1 16 1 0 1-5 1-5 1 6 1 1 1 3 1-1 1-15 1 7 1 14 1-6 1-16 1 8 1 16 1-6 1-11 1 8 1-7 1-2 1 7 1 3 1-4 1-1 1 1 1-2 1 8 1-13 1 3 1 11 1-4 1-7 1 3 1 6 1-7 1 0 1 1 1 2 1 4 1-3 1-2 1-1 1-1 1-2 1 4 1 2 1 1 1-4 1 0 1-4 1 10 1-5 1 2 1 1 1-12 1 14 1 1 1-11 1 6 1-3 1 8 1-9 1-4 1 10 1-1 1-10 1 5 1 11 1-2 1-12 1 5 1 8 1-13 1 2 1 10 1-5 1-4 1-1 1 5 1 0 1 0 1 3 1-5 1-4 1 2 1 4 1 4 1-2 1-10 1 0 1 24 1-11 1-29 1 26 1 13 1-20 1 0 1 4 1 2 1-4 1 5 1-7 1 0 1 14 1-9 1-14 1 18 1-4 1-8 1 14 1 0 1-13 1 5 1-1 1 3 1 1 1-5 1 4 1 2 1-5 1 1 1 3 1 1 1-5 1-4 1 2 1 13 1-1 1-6 1-22 1 20 1 18 1-21 1-8 1 20 1-13 1 4 1 10 1-19 1 0 1 23 1-14 1-6 1 8 1-5 1 9 1-7 1-4 1 7 1-3 1 4 1 0 1-7 1 2 1 4 1 1 1 2 1-16 1 16 1-2 1-16 1 24 1-3 1-17 1 2 1 11 1 7 1-25 1 14 1 12 1-21 1 11 1 0 1-5 1 1 1 14 1-13 1-8 1 14 1-5 1-3 1 1 1 6 1-4 1 2 1-4 1-3 1 16 1-10 1-12 1 16 1-6 1-3 1 7 1-1 1-8 1 4 1 12 1-15 1 2 1 6 1 0 1-1 1-23 1 31 1 10 1-34 1 12 1 2 1-7 1 18 1-9 1-2 1-3 1 1 1 4 1-4 1 5 1 3 1-12 1-1 1 14 1-6 1-8 1 15 1-7 1-4 1 1 1 2 1 0 1-2 1 2 1 5 1-7 1 0 1 5 1-4 1-1 1 3 1 0 1-1 1 0 1 0 1 0 1 0 1 0"/></g><g id="w34"><path class="a" d="M117 0l.5-11 .5 21 .5-16 .5 11 .5-24 .5 26 .5-12 .5 14 .5-14 .5 8 .5-6 .5 6 .5-10 .5 15 .5-14 .5 11 .5-8 .5 7 .5-14 .5 14 .5-7 .5 8 .5-14 .5 15 .5-15 .5 15 .5-9 .5 7 1-5 1 5 1-6 1 4 1-3 1 3 1-4 1 3 1-2 1 2 1-2 1 7 1-9 1 4 1-3 1 18 1-45 1 40 1-15 1 7 1-4 1 2 1-2 1 2 1-2 1 3 1-3 1 2 1-4 1 8 1-15 1 18 1-9 1 2 1-2 1 2 1-2 1 2 1-2 1 2 1-2 1 2 1-5 1 7 1-7 1 12 1-16 1 11 1-5 1 3 1-2 1 2 1-4 1 4 1-2 1 2 1-4 1 5 1-3 1 2 1-2 1 2 1-4 1 4 1-2 1 5 1-6 1 3 1-2 1 2 1-2 1 2 1-2 1 2 1-2 1 2 1-2 1 4 1-4"/><path d="M210 -1l1-20 1 30 1-2 1-3 1-6 1-10 1 16 1 1 1 7 1-25 1 2 1 31 1-12 1-14 1 6 1-5 1 7 1-3 1 11 1-20 1 0 1 16 1-1 1-10 1 7 1 0 1-3 1-5 1 7 1-1 1 1 1-4 1 7 1-9 1 11 1-10 1 3 1 5 1-2 1-4 1 1 1 4 1 2 1-4 1-1 1-11 1 12 1 1 1 0 1-5 1 3 1 5 1-7 1-3 1 16 1-14 1-5 1 10 1-1 1-2 1 12 1-14 1-6 1 8 1-1 1 7 1 1 1-18 1 15 1 7 1-8 1-9 1-1 1 13 1 7 1-19 1 1 1 9 1 0 1-13 1 11 1 1 1 5 1-3 1-3 1-9 1 8 1-2 1-3 1 3 1 11 1-8 1-7 1-2 1 18 1-8 1-8 1 5 1 7 1-2 1-11 1 3 1 8 1-9 1 11 1-3 1-6 1-1 1 6 1-5 1 5 1 2 1-2 1-10 1 9 1-1 1 7 1-4 1-6 1 2 1 4 1-5 1 3 1-3 1 4 1-2 1-1 1-6 1 10 1-5 1 5 1-1 1 3 1-6 1-1 1 1 1 2 1-1 1 6 1-9 1-2 1 10 1-5 1-2 1-1 1-1 1 10 1-7 1-1 1 2 1 6 1-2 1-10 1 1 1 6 1 1 1 4 1-5 1-1 1-4 1 0 1 3 1 7 1-5 1-8 1-1 1 12 1 3 1-6 1-10 1 3 1 9 1 10 1-10 1-14 1 6 1 10 1-8 1 5 1 3 1-3 1-2 1-2 1-7 1 14 1 7 1-16 1-5 1 11 1 9 1-14 1-12 1 18 1 6 1-1 1-13 1-4 1 7 1 3 1 0 1 6 1-9 1-2 1 0 1 6 1 9 1-12 1-27 1 21 1 48 1-16 1-67 1 8 1 62 1 13 1-59 1-25 1 48 1 40 1-40 1-42 1 21 1 36 1 6 1-26 1-26 1 13 1 27 1 2 1-37 1 7 1 48 1-19 1-48 1 22 1 26 1 0 1-28 1 0 1 25 1 5 1-23 1-22 1 38 1 36 1-67 1-19 1 50 1 9 1-10 1-14 1-8 1 22 1-13 1-9 1 58 1-43 1-65 1 50 1 73 1 0 1-138 1 21 1 129 1-51 1-21 1-40 1-28 1 194 1-119 1-126 1 192 1-63 1-45 1 53 1-15 1-4 1-22 1 45 1-2 1-54 1 28 1 33 1-29 1-16 1 31 1 6 1-58 1 35 1 53 1-79 1 11 1 65 1-73 1 10 1 60 1-52 1 12 1-38 1 44 1 69 1-175 1 84 1 119 1-183 1 38 1 185 1-274 1 102 1 165 1-233 1 68 1 117 1-153 1 22 1 139 1-139 1-11 1 127 1-107 1-11 1 106 1-63 1-56 1 72 1 21 1-67 1 5 1 70 1-45 1-34 1 47 1-2 1-40 1 44 1-8 1-27 1 24 1-1 1-2 1 3 1-10 1-1 1 8 1 3 1-2 1-4 1-12 1 20 1 8 1-22 1 3 1 1 1 1 1 9 1-10 1 6 1-2 1-5 1 0 1-2 1 23 1-20 1-25 1 66 1-52 1-14 1 79 1-69 1 1 1 31 1-23 1 18 1-16 1 10 1-6 1 11 1-7 1 1 1-6 1-8 1 25 1-9 1-12 1 6 1 9 1-12 1 1 1 10 1-8 1 3 1 0 1 7 1-19 1 4 1 15 1-16 1 12 1 8 1-9 1-16 1 8 1 20 1-23 1-2 1 14 1 2 1-2 1-9 1 2 1 3 1 4 1 3 1-13 1-6 1 20 1 8 1-33 1 15 1 6 1-13 1 20 1-14 1-10 1 31 1-20 1-4 1 15 1-3 1-9 1-22 1 28 1 18 1-28 1 12 1-16 1 17 1-2 1-14 1 25 1-30 1 14 1 21 1-38 1 17 1 15 1-24 1 4 1 10 1-8 1 11 1-6 1-7 1 16 1-7 1-10 1 3 1 5 1 4 1-11 1 6 1-2 1-2 1 5 1 3 1-8 1 6 1 7 1-11 1 4 1-6 1 2 1 9 1-12 1 3 1 5 1-7 1 7 1-1 1-6 1 3 1 5 1 0 1-9 1 6 1-5 1 7 1 3 1-7 1-2 1 0 1 1 1 7 1-3 1-1 1-16 1 16 1 13 1-15 1-3 1 2 1-6 1 18 1-1 1-20 1 12 1 3 1-8 1 5 1 1 1-5 1 2 1 2 1 1 1 1 1-7 1 1 1 2 1 8 1-14 1 3 1 7 1 7 1-9 1-11 1 8 1 10 1-14 1-1 1 18 1-8 1-15 1 16 1 11 1-25 1 7 1 10 1-16 1 14 1-8 1 3 1 5 1-9 1 6 1-5 1 5 1-1 1 0 1 5 1-14 1 7 1 5 1-3 1-4 1 3 1-4 1 9 1-4 1-10 1 15 1-1 1-13 1 10 1-3 1 1 1 2 1-2 1-1 1-3 1 11 1-6 1-8 1 10 1 3 1-7 1-5 1 10 1-3 1-3 1 3 1 3 1-11 1 2 1 9 1 0 1 1 1-10 1-1 1 11 1-7 1-2 1 12 1-7 1-5 1 2 1-4 1 13 1-6 1-3 1 0 1 4 1-1 1-3 1 5 1-2 1-2 1-6 1 9 1 3 1-9 1 12 1-8 1-10 1 10 1 4 1-6 1 6 1-6 1 2 1 1 1-6 1 12 1-8 1-9 1 13 1 5 1-5 1-8 1 4 1 2 1 2 1-4 1-1 1 7 1-1 1-14 1 6 1 9 1 1 1-9 1 1 1 6 1-7 1 0 1 3 1 1 1 1 1-3 1 2 1-1 1 1 1-1 1-1 1 0 1 1 1 0 1 0 1 0 1 0 1 0 1 0 1 0"/></g><g id="w35"><path class="a" d="M117 0l.5-6 .5 18 .5-42 .5 37 .5-14 .5 12 .5-8 .5 13 .5-12 .5 7 .5-10 .5 10 .5-18 .5 15 .5-5 .5 5 .5-3 .5 2 .5-3 .5 7 .5-9 .5 18 .5-21 .5 15 .5-13 .5 10 .5-11 .5 13 1-9 1 6 1-5 1 2 1-8 1 8 1-2 1 2 1-2 1 2 1-2 1 4 1-7 1 8 1-6 1 10 1-26 1 23 1-8 1 5 1-4 1 3 1-2 1 3 1-5 1 4 1-3 1 3 1-6 1 9 1-10 1 10 1-8 1 7 1-5 1 8 1-8 1 5 1-7 1 7 1-4 1 4 1-9 1 8 1-4 1 12 1-14 1 6 1-4 1 4 1-3 1 2 1-2 1 2 1-2 1 4 1-4 1 2 1-2 1 2 1-2 1 2 1-2 1 2 1-2 1 3 1-3 1 2 1-2 1 2 1-2 1 2 1-2 1 2 1-2 1 2 1-2 1 2 1-2"/><path d="M210 -1l1 19 1-22 1 8 1-2 1-7 1-7 1 6 1-6 1 30 1-13 1-11 1 6 1 4 1-7 1 6 1-1 1-5 1-3 1 7 1-3 1 4 1 2 1-5 1 3 1-1 1-2 1 11 1-18 1 7 1-1 1-3 1 7 1 1 1 9 1-11 1-15 1 12 1-5 1 9 1 9 1-12 1-6 1 12 1 1 1-6 1-8 1 7 1 2 1 2 1-11 1 8 1 0 1 3 1-4 1 2 1-2 1 1 1-3 1 5 1 3 1-2 1-8 1-3 1 15 1-1 1-8 1 0 1-3 1 8 1-4 1 3 1-4 1 2 1-5 1 7 1 2 1 5 1-16 1 3 1 7 1-7 1-3 1 8 1 4 1 3 1-4 1-9 1-1 1 6 1 2 1 1 1-4 1 1 1-5 1 5 1 5 1 0 1-7 1 5 1-1 1 2 1-14 1 7 1 5 1 3 1-3 1 1 1-13 1 8 1 7 1 0 1-11 1 9 1 1 1-4 1-7 1 9 1 5 1-4 1-10 1 3 1 2 1 2 1-1 1 8 1 1 1-11 1-10 1 16 1 2 1-10 1 3 1 11 1-15 1 6 1-1 1 0 1 0 1-3 1 7 1 4 1-11 1 2 1 1 1 7 1-2 1-6 1 0 1 1 1-5 1 10 1-1 1-2 1-3 1 3 1-6 1 6 1 2 1-5 1 0 1 12 1-7 1-5 1-11 1 8 1 23 1-12 1-18 1 8 1 11 1-5 1-8 1-1 1 5 1 14 1-7 1-8 1-9 1 10 1 9 1 4 1-7 1-6 1-11 1 6 1 11 1 5 1-5 1-10 1-3 1 10 1 5 1 2 1-11 1-5 1 6 1 19 1-11 1-27 1 18 1 22 1-21 1-13 1 9 1 21 1-13 1-8 1 2 1 2 1 0 1 12 1-7 1-13 1 5 1 22 1-8 1-30 1-5 1 40 1 20 1-30 1-29 1 10 1 15 1 27 1 0 1-53 1-21 1 48 1 44 1-21 1-49 1-14 1 47 1 47 1-51 1-58 1 10 1 88 1 32 1-105 1-52 1 98 1 37 1-60 1-23 1 34 1 5 1-20 1 8 1 9 1-4 1-2 1-12 1 8 1 19 1-10 1-26 1 16 1 20 1-14 1-35 1 33 1 69 1-76 1-82 1 150 1-9 1-162 1 177 1-2 1-222 1 199 1 93 1-242 1 60 1 142 1-96 1-56 1 76 1 8 1-61 1 35 1 19 1-40 1 28 1 14 1-56 1 40 1 18 1-62 1 58 1-14 1-37 1 73 1-56 1-9 1 57 1-55 1 25 1 14 1-52 1 37 1 32 1-44 1-45 1 100 1-17 1-95 1 94 1 4 1-93 1 88 1 3 1-74 1 69 1-5 1-68 1 66 1-6 1-48 1 71 1-36 1-35 1 103 1-99 1-38 1 153 1-65 1-90 1 86 1 28 1-64 1 9 1 28 1-19 1 6 1 1 1-6 1 3 1-1 1 7 1-3 1-19 1 24 1 1 1-27 1 19 1 19 1-34 1 14 1 10 1-22 1 13 1 10 1-17 1 7 1 7 1-19 1 3 1 17 1-10 1 2 1 1 1-4 1 4 1-10 1 5 1 12 1-8 1-6 1 8 1 7 1-14 1-7 1 20 1-1 1-25 1 21 1 6 1-14 1 0 1 5 1-5 1 6 1 2 1-6 1-1 1 8 1 0 1-18 1 2 1 33 1-8 1-34 1 0 1 36 1-5 1-27 1 24 1 14 1-41 1 7 1 24 1-8 1-5 1-3 1 0 1 19 1-24 1-2 1 21 1-7 1-1 1 0 1-13 1 11 1 8 1-7 1-4 1 0 1 7 1-6 1 5 1 0 1-10 1 7 1 13 1-20 1-6 1 19 1-8 1 7 1-8 1-1 1 12 1-12 1 0 1 17 1-15 1-4 1 5 1-4 1 9 1 1 1-9 1 15 1-16 1-6 1 20 1-11 1-1 1 8 1-12 1 10 1-10 1 22 1-17 1-11 1 22 1-8 1-6 1 11 1-4 1-11 1 8 1 4 1-5 1 11 1-10 1-13 1 12 1 13 1-11 1-3 1 5 1 6 1-16 1 9 1 8 1-11 1-8 1 8 1 8 1-6 1 4 1-7 1 1 1 7 1-7 1 3 1-6 1 5 1 4 1-4 1-4 1 5 1 3 1-1 1-9 1 5 1 5 1-2 1-6 1 2 1 8 1-10 1-1 1 14 1-11 1-4 1 7 1 1 1-2 1 2 1-4 1 7 1-6 1-8 1 12 1 3 1-3 1-9 1 3 1 8 1-13 1 19 1-7 1-24 1 29 1-5 1-16 1 26 1-15 1-13 1 31 1-14 1-16 1 12 1 2 1 8 1-7 1-10 1 4 1 10 1-4 1-4 1 2 1 7 1-9 1-4 1 14 1-8 1-12 1 15 1-3 1 0 1 3 1-5 1 4 1-5 1 1 1 10 1-8 1-5 1 5 1 3 1-3 1-2 1 0 1 2 1 1 1-1 1 2 1-4 1 5 1 0 1-9 1 10 1 0 1-8 1 0 1 3 1 1 1 10 1-6 1-11 1-4 1 5 1 24 1-9 1-33 1 26 1 11 1-22 1 11 1 4 1-7 1 2 1-6 1 4 1 3 1-1 1-2 1 0 1 5 1-3 1-3 1 6 1-6 1-3 1 6 1-1 1-2 1 8 1-8 1-8 1 18 1-6 1-6 1 9 1-8 1 3 1 3 1-4 1-2 1 5 1 0 1-3 1-4 1 5 1 5 1-1 1-11 1 6 1 2 1 2 1-5 1-9 1 24 1-11 1-10 1 11 1-5 1-1 1 11 1-8 1-4 1 7 1-2 1-2 1 1 1 0 1-1 1 1 1 0 1 0 1 0 1 0 1 0 1 0 1 0"/></g><g id="w36"><path class="a" d="M117 0l.5-38 .5 53 .5-46 .5 35 .5-10 .5 9 .5-8 .5 7 .5-5 .5 5 .5-12 .5 14 .5-5 .5 7 .5-9 .5 5 .5-4 .5 8 .5-12 .5 10 .5-8 .5 14 .5-22 .5 26 .5-22 .5 16 .5-13 .5 9 1-5 1 3 1-5 1 5 1-3 1 2 1-3 1 3 1-2 1 2 1-2 1 6 1-6 1 2 1-2 1 5 1-15 1 20 1-14 1 7 1-3 1 3 1-3 1 2 1-2 1 2 1-2 1 2 1-3 1 7 1-8 1 9 1-8 1 3 1-2 1 7 1-7 1 2 1-2 1 2 1-2 1 2 1-2 1 4 1-6 1 8 1-9 1 6 1-4 1 3 1-2 1 3 1-3 1 3 1-3 1 2 1-4 1 6 1-4 1 4 1-4 1 2 1-5 1 5 1-2 1 2 1-4 1 7 1-5 1 5 1-4 1 0 1-2 1 3 1-2 1 2 1-2 1 2 1-1"/><path d="M210 0l1 4 1-7 1-13 1 7 1 22 1-10 1-3 1-2 1 12 1-2 1-10 1-17 1 22 1 9 1-9 1-14 1 2 1 3 1 18 1-3 1-19 1 13 1 14 1-26 1-10 1 7 1 18 1 6 1 0 1-15 1 2 1-10 1 14 1 1 1-10 1 1 1 6 1 3 1 1 1-10 1 10 1-3 1 4 1-11 1 5 1 0 1-3 1 3 1 3 1 1 1-5 1-3 1 9 1-6 1-6 1 5 1 7 1-2 1 2 1-11 1 6 1-2 1-4 1 3 1 7 1 0 1-7 1 4 1 11 1-16 1-1 1 5 1 3 1-6 1 0 1 9 1 6 1-19 1 4 1 2 1 5 1-5 1 3 1 7 1-14 1-9 1 20 1-1 1-6 1 2 1-2 1-3 1 4 1 2 1 5 1-11 1 6 1 0 1-3 1-2 1-7 1 7 1 11 1-8 1-3 1 7 1-3 1-1 1-6 1 10 1 6 1-17 1 9 1 3 1-3 1-8 1 4 1 6 1-3 1 0 1-1 1-3 1 4 1 0 1-6 1 4 1 7 1-13 1 9 1-5 1 6 1 0 1-4 1-6 1 5 1 2 1 8 1-4 1-7 1-7 1 8 1 7 1 4 1-14 1 4 1 2 1-1 1-1 1-2 1 5 1 1 1-7 1 2 1 6 1 6 1-10 1-15 1 8 1 23 1-10 1-12 1-3 1 13 1 0 1-3 1 0 1-8 1 9 1 15 1-18 1-12 1-1 1 19 1 9 1-9 1-12 1-1 1 5 1 14 1 2 1-16 1-18 1 20 1 5 1 5 1-6 1-11 1 6 1 3 1 4 1-3 1-12 1 21 1-3 1-29 1 4 1 34 1 8 1-35 1-22 1 43 1 31 1-43 1-49 1 39 1 51 1-20 1-47 1 0 1 44 1 10 1-40 1-13 1 26 1 35 1-25 1-52 1 15 1 60 1-9 1-32 1-13 1 21 1 13 1-11 1-5 1 3 1-5 1 1 1 12 1 14 1-25 1-19 1 15 1 26 1 0 1-31 1-24 1 29 1 57 1-15 1-93 1 18 1 75 1-4 1-31 1-18 1-16 1 42 1 37 1-42 1-49 1 37 1 41 1-12 1-50 1 7 1 61 1-22 1-66 1 55 1 53 1-86 1-27 1 90 1-10 1-11 1-22 1-52 1 65 1 48 1-41 1-73 1 37 1 110 1-95 1-32 1 55 1-26 1 25 1-7 1-25 1 36 1-23 1-7 1 34 1-34 1 6 1 32 1-38 1-11 1 33 1 23 1-43 1-29 1 67 1-6 1-32 1-1 1-14 1 77 1-32 1-102 1 118 1 29 1-133 1 62 1 28 1-16 1-13 1 2 1 24 1-23 1-4 1 22 1-27 1 19 1-2 1-19 1 39 1-28 1-19 1 49 1-27 1-15 1 30 1-7 1-15 1 4 1 14 1 2 1-32 1 19 1 18 1-22 1-2 1 12 1-2 1 13 1-29 1-3 1 41 1-24 1-9 1 6 1 3 1 9 1-16 1 16 1-6 1-22 1 23 1 13 1-20 1 3 1-8 1 9 1 5 1-22 1 15 1 25 1-32 1-1 1 21 1-15 1 4 1 5 1-18 1 19 1-6 1-5 1 5 1 6 1-11 1-2 1 13 1-8 1-5 1 11 1-4 1-5 1 1 1 2 1 7 1-5 1-10 1 15 1-5 1-5 1 5 1 4 1-10 1-3 1 18 1-7 1-18 1 21 1 2 1-20 1 15 1 0 1-7 1 17 1-35 1 24 1 34 1-64 1 3 1 59 1-36 1 0 1 15 1-24 1-10 1 34 1 1 1-22 1 8 1 4 1-10 1 7 1 4 1-5 1-4 1 1 1 3 1 1 1-7 1 12 1 8 1-32 1 17 1 17 1-28 1 5 1 12 1 6 1-6 1-17 1 7 1 17 1-20 1 1 1 13 1-2 1-2 1-5 1-2 1 2 1 9 1-3 1-5 1 4 1-2 1 0 1-3 1 2 1 1 1-3 1 10 1-3 1-12 1 10 1 3 1-9 1-2 1 10 1-4 1 3 1 5 1-14 1 0 1 14 1-6 1-13 1 13 1 2 1-8 1 7 1-3 1 2 1-2 1-5 1 2 1 7 1 2 1 0 1-11 1-1 1 9 1-2 1-4 1 3 1 3 1 1 1-5 1-2 1 2 1-1 1 3 1 5 1-10 1 6 1-5 1-2 1 14 1-8 1-9 1 3 1 12 1-2 1-5 1-3 1-5 1 7 1 9 1 2 1-22 1 4 1 18 1-14 1 1 1 12 1-7 1-9 1 7 1 9 1-14 1 4 1 8 1-19 1 16 1 5 1-21 1 22 1-1 1-27 1 12 1 15 1-10 1 8 1-5 1-9 1 5 1 4 1-2 1 1 1-5 1 15 1-10 1-13 1 21 1-8 1-10 1 10 1 3 1 0 1-13 1 10 1 6 1-17 1 12 1 7 1-18 1 7 1 7 1-2 1-3 1-4 1 6 1 5 1-12 1 4 1-1 1 7 1-6 1-5 1 9 1-1 1-6 1 6 1-3 1-2 1 7 1-1 1-6 1 0 1 8 1-1 1-9 1 3 1 4 1-2 1 0 1 5 1-15 1 10 1 6 1-14 1 6 1 9 1-7 1 0 1-1 1 3 1 1 1-9 1 4 1 8 1-9 1 1 1 3 1 2 1-1 1-6 1-2 1 14 1-2 1-17 1 11 1 10 1-21 1 13 1 2 1-11 1 13 1-3 1-8 1 4 1-4 1 2 1 15 1-6 1-15 1 6 1 2 1 2 1 5 1-8 1-2 1 5 1 1 1-3 1 0 1 8 1-7 1-5 1 4 1 2 1 0 1 1 1-2 1-2 1 1 1 2 1-1 1 0 1 0 1 0 1 0 1 0 1 0"/></g><g id="w37"><path class="a" d="M117 0l.5-8 .5 13 .5-11 .5 18 .5-18 .5 16 .5-12 .5 7 .5-7 .5 4 .5-6 .5 9 .5-9 .5 7 .5-15 .5 17 .5-11 .5 8 .5-5 .5 6 .5-8 .5 20 .5-22 .5 20 .5-22 .5 21 .5-15 .5 5 1-4 1 3 1-2 1 2 1-4 1 7 1-5 1 3 1-3 1 6 1-6 1 2 1-2 1 3 1-6 1 13 1-40 1 35 1-6 1 3 1-2 1 4 1-5 1 6 1-5 1 3 1-3 1 5 1-6 1 9 1-11 1 8 1-6 1 4 1-3 1 2 1-2 1 2 1-2 1 2 1-2 1 2 1-2 1 6 1-9 1 7 1-6 1 6 1-9 1 7 1-4 1 4 1-2 1 2 1-2 1 2 1-2 1 3 1-3 1 2 1-3 1 6 1-5 1 2 1-3 1 3 1-2 1 2 1-4 1 5 1-2 1 1 1-2 1 2 1-5 1 5 1-2 1 2 1-2"/><path d="M210 -1l1 6 1 19 1-41 1-5 1 35 1-11 1-3 1 9 1-3 1-7 1-8 1 17 1 2 1-16 1 2 1 5 1 4 1-16 1 18 1 3 1-5 1-8 1 0 1 2 1 13 1-11 1-7 1 3 1 7 1-1 1 3 1-11 1 8 1-2 1-4 1 0 1 2 1 3 1 11 1-8 1-8 1-7 1 13 1 9 1-8 1-5 1-3 1 0 1 10 1-10 1 8 1-4 1 3 1 5 1-11 1-8 1 10 1 5 1 3 1 0 1-7 1-7 1 7 1-2 1 4 1 2 1-2 1-1 1 2 1 0 1-4 1 0 1 9 1-9 1 3 1-5 1 7 1-9 1 6 1 8 1-10 1 1 1-2 1-1 1 12 1-8 1 1 1-3 1-2 1 3 1 8 1-9 1 2 1 3 1-5 1 0 1 7 1-6 1-5 1 10 1 3 1-18 1 12 1 3 1 0 1-12 1 11 1 9 1-29 1 12 1 11 1 0 1-13 1 14 1-3 1-16 1 16 1 2 1-7 1 0 1 4 1-8 1 2 1 9 1-1 1-12 1 2 1 5 1 9 1-8 1-4 1 6 1-6 1-2 1 8 1-8 1 8 1-4 1 8 1-14 1 5 1 9 1-2 1-7 1 0 1 5 1-12 1-2 1 17 1 4 1-1 1-19 1 1 1 17 1 0 1-14 1 2 1 3 1 5 1-2 1 0 1-8 1 14 1 0 1-16 1-4 1 12 1 11 1 0 1-15 1-7 1 6 1 12 1-8 1 1 1 5 1 0 1-23 1 10 1 26 1-5 1-25 1 6 1 10 1 6 1-7 1-7 1-2 1 0 1 14 1 2 1-24 1 1 1 28 1 1 1-36 1 6 1 34 1-1 1-41 1 1 1 34 1 17 1-40 1-35 1 30 1 71 1-2 1-88 1-48 1 85 1 93 1-48 1-146 1 7 1 153 1 48 1-130 1-78 1 81 1 87 1-39 1-67 1 3 1 54 1 9 1-32 1-33 1 28 1 39 1-9 1-45 1-7 1 13 1 35 1 15 1-49 1-23 1 48 1 34 1-38 1-32 1 6 1 19 1 24 1-11 1-23 1 1 1 6 1 10 1 10 1-26 1-11 1 32 1 8 1-46 1 16 1 44 1-53 1 18 1 80 1-163 1-6 1 262 1-122 1-211 1 150 1 89 1-55 1-30 1-11 1-2 1 24 1 39 1-43 1-63 1 97 1-1 1-84 1 81 1 1 1-89 1 78 1 5 1-60 1 51 1 8 1-52 1 38 1-1 1-35 1 58 1-28 1-66 1 150 1-84 1-94 1 144 1-32 1-58 1 37 1 14 1 2 1-44 1 26 1 28 1-34 1-8 1 17 1 25 1-37 1-11 1 44 1-26 1-6 1 33 1-24 1-32 1 54 1 5 1-65 1 48 1 16 1-63 1 44 1 27 1-64 1 20 1 48 1-47 1-15 1 41 1-2 1-30 1 9 1 24 1-16 1-15 1 18 1-11 1 4 1 23 1-31 1 2 1 19 1-2 1-11 1-9 1 22 1-3 1-17 1 6 1 16 1-15 1-6 1 7 1 12 1-8 1-10 1 9 1 3 1-6 1-2 1 9 1-2 1-12 1 13 1 0 1-15 1 9 1 25 1-29 1-9 1 26 1-17 1-10 1 29 1 6 1-36 1 11 1 12 1-1 1-3 1-8 1 6 1-1 1 5 1-2 1-6 1 6 1 10 1-26 1-3 1 40 1-24 1-8 1 20 1-24 1 17 1 16 1-43 1 11 1 39 1-31 1-8 1 13 1 7 1-3 1-7 1-3 1 4 1 4 1-2 1-4 1 4 1-1 1 5 1-3 1-11 1 8 1 4 1-6 1 4 1-7 1 10 1 0 1-6 1 10 1-20 1 9 1 8 1-3 1-4 1 2 1 9 1-20 1 9 1 11 1-9 1 0 1 0 1-1 1 0 1-3 1 6 1-8 1 6 1 9 1-9 1-4 1 5 1 3 1-4 1-10 1 12 1 5 1-13 1 1 1 12 1-8 1 1 1 1 1-2 1 1 1 1 1-4 1 6 1 4 1-12 1-2 1 8 1-4 1 12 1-5 1-14 1 13 1 2 1-6 1 5 1-10 1-2 1 9 1 11 1-18 1 1 1 16 1-11 1-1 1 4 1-8 1 5 1 3 1-7 1 6 1-2 1-6 1 13 1-8 1-2 1 6 1-3 1-2 1 2 1 2 1-3 1 2 1 0 1-5 1 7 1-7 1 5 1-2 1 0 1 14 1-14 1-4 1 0 1 7 1 3 1-14 1 15 1 1 1-9 1-2 1 3 1-4 1 14 1-7 1-12 1 12 1 3 1-7 1 6 1-5 1-3 1 12 1-11 1-3 1 13 1-10 1-2 1 10 1-4 1-7 1 17 1-18 1 3 1 9 1-6 1 2 1-2 1 1 1 6 1-9 1-2 1 10 1-4 1-4 1 1 1 2 1 0 1-1 1 4 1-1 1 7 1-20 1 0 1 23 1-7 1-7 1-3 1 5 1 11 1-18 1-1 1 10 1-1 1 2 1 2 1-8 1 0 1 6 1-1 1-4 1 1 1-3 1 7 1-3 1-1 1 1 1 0 1-1 1 4 1-2 1-5 1 0 1 3 1 4 1 4 1-10 1-2 1 10 1-6 1-2 1 7 1-4 1-4 1 12 1-12 1-4 1 11 1 1 1 0 1-2 1-9 1 7 1 6 1-10 1 5 1 1 1 0 1-3 1-2 1 6 1-3 1-3 1 5 1-4 1 4 1-2 1 2 1-1 1-5 1 5 1-1 1-3 1 9 1-8 1-2 1 5 1 1 1 2 1-8 1 4 1 2 1-5 1 4 1-1 1-2 1 4 1-3 1-1 1 3 1 0 1 0 1-3 1 2 1 1 1-1 1 0 1 0 1 0"/></g><g id="w38"><path class="a" d="M117 0l.5-5 .5 34 .5-36 .5 12 .5-9 .5 10 .5-11 .5 20 .5-24 .5 12 .5-5 .5 4 .5-4 .5 4 .5-4 .5 4 .5-4 .5 4 .5-6 .5 6 .5-5 .5 10 .5-12 .5 16 .5-17 .5 9 .5-16 .5 17 1-8 1 5 1-11 1 13 1-5 1 5 1-10 1 9 1-3 1 2 1-2 1 3 1-5 1 5 1-4 1 8 1-21 1 22 1-9 1 3 1-2 1 2 1-2 1 3 1-4 1 3 1-4 1 4 1-3 1 7 1-16 1 13 1-4 1 3 1-2 1 2 1-6 1 7 1-3 1 2 1-4 1 6 1-5 1 7 1-12 1 10 1-7 1 8 1-5 1 2 1-2 1 2 1-4 1 4 1-2 1 2 1-3 1 3 1-2 1 2 1-3 1 3 1-2 1 2 1-2 1 3 1-7 1 6 1-2 1 2 1-2 1 2 1-4 1 4 1-2 1 2 1-3 1 3 1-2"/><path d="M210 -1l1 6 1-18 1 6 1 30 1-23 1-21 1 31 1-4 1-15 1 3 1 4 1 4 1-3 1-2 1 7 1-11 1 11 1-4 1 3 1 4 1-7 1-7 1 8 1 8 1-16 1-6 1 15 1-2 1 4 1 3 1-9 1-4 1 8 1 5 1-5 1-13 1 7 1 6 1 1 1-6 1 2 1 8 1-4 1-11 1 14 1-9 1-1 1 5 1 3 1-6 1 4 1-2 1-7 1 0 1 15 1 2 1-9 1-6 1 5 1-2 1-3 1 7 1 9 1-13 1 2 1-5 1 0 1 10 1-5 1-6 1 18 1-12 1-6 1 7 1 2 1-7 1 3 1-4 1 3 1 7 1-2 1-9 1 12 1-1 1-14 1 5 1 4 1-3 1 10 1-6 1 2 1-10 1 5 1 14 1-6 1-13 1 0 1 7 1 2 1 1 1-2 1-8 1 10 1 1 1-3 1-8 1 15 1-12 1 0 1 11 1-13 1 9 1-3 1-1 1 4 1-5 1 5 1 2 1-4 1-4 1 4 1-8 1 10 1 2 1-7 1-6 1 16 1-2 1-9 1-4 1 6 1 5 1 0 1-5 1 2 1-5 1 7 1 2 1-8 1 2 1 1 1-7 1 12 1-4 1-3 1-1 1 7 1-3 1-3 1-1 1 7 1-4 1-2 1 1 1-2 1 3 1 8 1-12 1-4 1 5 1 12 1-6 1-4 1-9 1 8 1 12 1 3 1-23 1 0 1 12 1 12 1-15 1-6 1 0 1 12 1 1 1-2 1 0 1-5 1-4 1 3 1 5 1 4 1-15 1 3 1 8 1 5 1-16 1 0 1 12 1 15 1-15 1-22 1 14 1 12 1-10 1 10 1-2 1-22 1 8 1 18 1 0 1-7 1-28 1 14 1 30 1-2 1-21 1-10 1 15 1 11 1-10 1 6 1-12 1-21 1 12 1 46 1-8 1-48 1-11 1 37 1 34 1-8 1-56 1-9 1 41 1 30 1-21 1-39 1 9 1 22 1-2 1 7 1-18 1-12 1 35 1 0 1-45 1 62 1-25 1-72 1 85 1 31 1-97 1 32 1 49 1-45 1 10 1 2 1-29 1 39 1 24 1-67 1 0 1 77 1-53 1-39 1 76 1-5 1-58 1 31 1 25 1-27 1-12 1 10 1 15 1-9 1 5 1 26 1-89 1 26 1 91 1-47 1-37 1 20 1-5 1 16 1 18 1-38 1-14 1 47 1-4 1-31 1 4 1 20 1 4 1-28 1 9 1 28 1-36 1 5 1 23 1-19 1 7 1 1 1-11 1 12 1-7 1 30 1-49 1-26 1 115 1-41 1-85 1 49 1 53 1-39 1-51 1 55 1 19 1-33 1-5 1 19 1 10 1-26 1-12 1 37 1-17 1-18 1 29 1 2 1-21 1-3 1 11 1 22 1-34 1-2 1 19 1-1 1 1 1 0 1-13 1 3 1 10 1-6 1-7 1 17 1-6 1-7 1 7 1-6 1-5 1 18 1-9 1-6 1 1 1 11 1-7 1-3 1 8 1-9 1-1 1 11 1 2 1-21 1 10 1 13 1-15 1-1 1 16 1-13 1 0 1 13 1-23 1 7 1 20 1-17 1 0 1 10 1-13 1 7 1-5 1 13 1-3 1-23 1 18 1 19 1-20 1-23 1 17 1 25 1-19 1-4 1 4 1-1 1 13 1-10 1-27 1 40 1-4 1-27 1 18 1 4 1-7 1-3 1 7 1 0 1-5 1 3 1-2 1-1 1-1 1 8 1-6 1 0 1 3 1-5 1 10 1-6 1-9 1 14 1-6 1-7 1 10 1 4 1-11 1 3 1 1 1-6 1 16 1-1 1-22 1 10 1 7 1-6 1 3 1 0 1-2 1 0 1-3 1 8 1 0 1-9 1 4 1 9 1-6 1-5 1-4 1 6 1 0 1 6 1 2 1-13 1-1 1 8 1 4 1-4 1-3 1 4 1-3 1-4 1 9 1-1 1-7 1 5 1-4 1 7 1 0 1-7 1-3 1 3 1 11 1-12 1 4 1 9 1-18 1 2 1 17 1-5 1-20 1 10 1 22 1-8 1-24 1 10 1 12 1 0 1-8 1-6 1 10 1 0 1-4 1 4 1-5 1-3 1 3 1 6 1-4 1-3 1 4 1 5 1-8 1-3 1 4 1 1 1 3 1-2 1-5 1 8 1-3 1-7 1 9 1-4 1 0 1 5 1-2 1-7 1 3 1 10 1-8 1-1 1-6 1 10 1 3 1-11 1-2 1 12 1 0 1-11 1 3 1 10 1-6 1-6 1 1 1 14 1-8 1-10 1 7 1 4 1-3 1 0 1-4 1 1 1 8 1-2 1-7 1 3 1 7 1 2 1-12 1-8 1 15 1 10 1-23 1 11 1 2 1-1 1-10 1 5 1 19 1-14 1-20 1 19 1 12 1-21 1 8 1 5 1-8 1 3 1-2 1 1 1 2 1 0 1 1 1 1 1-2 1-9 1 6 1 10 1-12 1 3 1 4 1-3 1-5 1 10 1-3 1-14 1 15 1 7 1-7 1-3 1-13 1 19 1 5 1-24 1 11 1 6 1-2 1-4 1 3 1 6 1-13 1 7 1-3 1 1 1 6 1-8 1 0 1 5 1-2 1 4 1-5 1 0 1 4 1-12 1 8 1 11 1-15 1 1 1 6 1-1 1 1 1 5 1-13 1 1 1 9 1-10 1 6 1 6 1-8 1 5 1-4 1-2 1 4 1-1 1 0 1 0 1 0 1-1 1-5 1 18 1-12 1-15 1 22 1 2 1-17 1 7 1 5 1-4 1-7 1 3 1 12 1-7 1-2 1 4 1-6 1 2 1 3 1-3 1 0 1 3 1-2 1 0 1 1 1-1 1-1 1 1 1 0 1 0 1 0 1 0 1 0"/></g><g id="w39"><path class="a" d="M117 0l.5-7 .5 14 .5-31 .5 30 .5-12 .5 10 .5-10 .5 14 .5-10 .5 6 .5-8 .5 8 .5-12 .5 10 .5-13 .5 14 .5-5 .5 9 .5-9 .5 6 .5-7 .5 15 .5-15 .5 8 .5-11 .5 16 .5-19 .5 13 1-5 1 4 1-4 1 2 1-2 1 3 1-3 1 2 1-4 1 5 1-3 1 2 1-2 1 4 1-5 1 7 1-15 1 21 1-14 1 5 1-3 1 3 1-3 1 6 1-9 1 5 1-2 1 4 1-6 1 8 1-8 1 7 1-7 1 4 1-5 1 5 1-4 1 5 1-5 1 4 1-2 1 2 1-4 1 6 1-9 1 11 1-7 1 6 1-6 1 5 1-4 1 2 1-2 1 2 1-4 1 5 1-5 1 4 1-2 1 4 1-4 1 3 1-3 1 2 1-2 1 2 1-3 1 3 1-2 1 2 1-3 1 3 1-3 1 2 1-1 1 2 1-3 1 4 1-5"/><path d="M210 -3l1 32 1-28 1 4 1-8 1-1 1 1 1 8 1 1 1-10 1-4 1 10 1 3 1-3 1-5 1 7 1-10 1-4 1 4 1 20 1-10 1-3 1-3 1-5 1 12 1-1 1 0 1 0 1-16 1 8 1-2 1 13 1-7 1 7 1 0 1-15 1 4 1 11 1-10 1 3 1 3 1-4 1-6 1 5 1 7 1-1 1-3 1 2 1-11 1 4 1 9 1-2 1-3 1 4 1-7 1 0 1-6 1 17 1-6 1 3 1 0 1-14 1 6 1 0 1 1 1 15 1-26 1 3 1 19 1-5 1 0 1 1 1-15 1 8 1-1 1 1 1 7 1 4 1-15 1 0 1 11 1 6 1-12 1-9 1-1 1 23 1-1 1-11 1-9 1 1 1 8 1 8 1-6 1-8 1 0 1 15 1-3 1-4 1-2 1-4 1 1 1 4 1-4 1 4 1-6 1 5 1-1 1-1 1 5 1 5 1-18 1 11 1 7 1-7 1-9 1 5 1-1 1 15 1-2 1-13 1-6 1 7 1 8 1-1 1-6 1 4 1-9 1 4 1 2 1 7 1-4 1-4 1 3 1-1 1 1 1 2 1-10 1 13 1 1 1-9 1-1 1 2 1 1 1 7 1-13 1 4 1 12 1-12 1-6 1 7 1 3 1 8 1-16 1 2 1 9 1 1 1-18 1 1 1 16 1 4 1-1 1-13 1-8 1 15 1 0 1-3 1 6 1 3 1-14 1-2 1-2 1 18 1-4 1-11 1 1 1 19 1-6 1-14 1 0 1 7 1 1 1 4 1-2 1 1 1-10 1-4 1 14 1 12 1-24 1-4 1 16 1 8 1-14 1-13 1 15 1 25 1-31 1-16 1 30 1 8 1-23 1-6 1 15 1 17 1-19 1-23 1 19 1 31 1-11 1-39 1-7 1 43 1 23 1-40 1-43 1 48 1 38 1-44 1-12 1 39 1-11 1-39 1 11 1 48 1-9 1-54 1 0 1 65 1 7 1-61 1-22 1 49 1 37 1-32 1-68 1 42 1 75 1-44 1-58 1 29 1 33 1-6 1-34 1-2 1 31 1 27 1-40 1-39 1 47 1 30 1-26 1-5 1-39 1 18 1 67 1-33 1-67 1 40 1 15 1 16 1 18 1-75 1 5 1 85 1-43 1-67 1 74 1 14 1-81 1 85 1-32 1-23 1 41 1-22 1 0 1-24 1 21 1 45 1-54 1-14 1 40 1 0 1-12 1-2 1-5 1 7 1-3 1-7 1 12 1 15 1-35 1 0 1 60 1-39 1-53 1 69 1 25 1-86 1-13 1 112 1-13 1-113 1 48 1 75 1-64 1-19 1 45 1 13 1-51 1-19 1 85 1-36 1-55 1 64 1 3 1-34 1 5 1 15 1 11 1-39 1 12 1 44 1-57 1 12 1 37 1-37 1-5 1 26 1-1 1-22 1-1 1 29 1-10 1-12 1 7 1-7 1 4 1 13 1-21 1 14 1 6 1-20 1 13 1 9 1-30 1 12 1 21 1-10 1-14 1 3 1 16 1-1 1-19 1 9 1 8 1-11 1 5 1-8 1 6 1 14 1-24 1 5 1 12 1 4 1-12 1 0 1-7 1 8 1 12 1-9 1-11 1 8 1 13 1-22 1-9 1 43 1-19 1-20 1 11 1 14 1 0 1-20 1 8 1 8 1-12 1 6 1-3 1 6 1 4 1-13 1 0 1 16 1-1 1-18 1-4 1 20 1 2 1-9 1-9 1 6 1 11 1-8 1-9 1 15 1 5 1-13 1-9 1 13 1-3 1 2 1 2 1-12 1 6 1 11 1-5 1-7 1 5 1-2 1 2 1 5 1-10 1 3 1-1 1 2 1 8 1-19 1 11 1 8 1-9 1 2 1-7 1 9 1 2 1-6 1-2 1 4 1-8 1 14 1-8 1-5 1 17 1-10 1-11 1 16 1-1 1-13 1 7 1-2 1 3 1 11 1-17 1 8 1-9 1 6 1 21 1-37 1 15 1 6 1-14 1 31 1-23 1-14 1 23 1-3 1-4 1 1 1-4 1 2 1-4 1 9 1-2 1-13 1 20 1-3 1-10 1-1 1-2 1 29 1-33 1 8 1 15 1-17 1 2 1-1 1 2 1 14 1-16 1-4 1 12 1 0 1-2 1-9 1 1 1 16 1-10 1-5 1 9 1-1 1-10 1 10 1 5 1-14 1 5 1 4 1-5 1 2 1-4 1 10 1-7 1-2 1 7 1-10 1 0 1 18 1-8 1-12 1 7 1 3 1-2 1 1 1-7 1 6 1 4 1-7 1 1 1 15 1-25 1 5 1 26 1-20 1-11 1 22 1-7 1-12 1 9 1 1 1-5 1 13 1-4 1-17 1 15 1 4 1-11 1 1 1-1 1 10 1-9 1 8 1-11 1 0 1 18 1-14 1-4 1 17 1-15 1-1 1 10 1-6 1-6 1 6 1 13 1-11 1-11 1 13 1-2 1-2 1-1 1 3 1-8 1 7 1 13 1-17 1-2 1 11 1-7 1 7 1-8 1 1 1 12 1-15 1 0 1 1 1 6 1 8 1-14 1 1 1 9 1-6 1-5 1 10 1-8 1 3 1-2 1 0 1 4 1-5 1 7 1 0 1-13 1 12 1 0 1-5 1-2 1 8 1-2 1-8 1 8 1 3 1-5 1-2 1-3 1 6 1 5 1-7 1 0 1 4 1-11 1 8 1 4 1-3 1-3 1-1 1 7 1-2 1-6 1 0 1 7 1 4 1-11 1-3 1 17 1-8 1-7 1 2 1 0 1 8 1-6 1-2 1 10 1-6 1-7 1 5 1 8 1-6 1-15 1 18 1 9 1-21 1 0 1 12 1-1 1-2 1-2 1 0 1 2 1-1 1 0 1 0 1 0 1 0 1 0 1 0 1 0"/></g><g id="w40"><path class="a" d="M117 0l.5-25 .5 37 .5-17 .5 10 .5-8 .5 6 .5-8 .5 10 .5-8 .5 5 .5-4 .5 13 .5-13 .5 12 .5-12 .5 9 .5-9 .5 4 .5-5 .5 6 .5-9 .5 9 .5-8 .5 12 .5-15 .5 17 .5-13 .5 10 1-8 1 12 1-12 1 3 1-2 1 2 1-3 1 3 1-2 1 2 1-5 1 5 1-2 1 7 1-9 1 8 1-16 1 18 1-14 1 8 1-3 1 3 1-2 1 2 1-3 1 4 1-6 1 6 1-5 1 8 1-11 1 8 1-4 1 3 1-2 1 2 1-3 1 3 1-2 1 4 1-4 1 2 1-3 1 5 1-7 1 9 1-10 1 12 1-9 1 6 1-5 1 2 1-5 1 5 1-2 1 7 1-7 1 2 1-2 1 3 1-3 1 2 1-2 1 4 1-7 1 5 1-3 1 3 1-4 1 5 1-4 1 3 1-2 1 3 1-3 1 3 1-3 1 5 1-5"/><path d="M210 -1l1 38 1-48 1-8 1 15 1 2 1 12 1-13 1 2 1 2 1-3 1 18 1-14 1-10 1 3 1 13 1-11 1 9 1 0 1-18 1-2 1 14 1 9 1 3 1-18 1 3 1 8 1-4 1-10 1 8 1 5 1-4 1-5 1 6 1-2 1 4 1-1 1 5 1-9 1 2 1 3 1-3 1-1 1 10 1-24 1 11 1 5 1 3 1-4 1-1 1-9 1 10 1 11 1-6 1-9 1-4 1 11 1 1 1-10 1 7 1-3 1 1 1 0 1 8 1-10 1 2 1-1 1 5 1 2 1-8 1-8 1 10 1 6 1 1 1-3 1-5 1-7 1 15 1-3 1-5 1-6 1 8 1-1 1 7 1-2 1-10 1-2 1 9 1-4 1 6 1 5 1-4 1-5 1-2 1-4 1 5 1 6 1 1 1-10 1 1 1 2 1 5 1 1 1-3 1-8 1 10 1-2 1 1 1-11 1 25 1-20 1-17 1 28 1 0 1-1 1-3 1-8 1 0 1 3 1 6 1-6 1 0 1 1 1 3 1-6 1 4 1 6 1-6 1-5 1 9 1-5 1-1 1-1 1 7 1-9 1 8 1 5 1-13 1 0 1 6 1 0 1 0 1-5 1 8 1-6 1 5 1-4 1-2 1 5 1 1 1-6 1 1 1-2 1 2 1 6 1 9 1-16 1-4 1 6 1 2 1-5 1-1 1 11 1 12 1-22 1-9 1 10 1 5 1-5 1 12 1-4 1-15 1 6 1 12 1-6 1-5 1 4 1-1 1-7 1 10 1 0 1 0 1-8 1-4 1 13 1 8 1-14 1-3 1 3 1 0 1-8 1 15 1 16 1-19 1-25 1 6 1 32 1 15 1-39 1-17 1 21 1 32 1-1 1-43 1-21 1 35 1 29 1 5 1-36 1-39 1 18 1 73 1 5 1-80 1-44 1 66 1 69 1-31 1-80 1 7 1 67 1 24 1-59 1-52 1 47 1 82 1-33 1-90 1 12 1 82 1 1 1-64 1-18 1 58 1 18 1-38 1-24 1 24 1 31 1-22 1-32 1 27 1 20 1-13 1-17 1-3 1 7 1 16 1 12 1-21 1-40 1 45 1 42 1-56 1-31 1 42 1 8 1 9 1-12 1-37 1 17 1 28 1-1 1-12 1-32 1 26 1 38 1-38 1-37 1 51 1 29 1-60 1 3 1 50 1-62 1 5 1 81 1-63 1-36 1 68 1-20 1-24 1 26 1-1 1-23 1 20 1 10 1-15 1-4 1 4 1 3 1-3 1-16 1 31 1 4 1-43 1 12 1 37 1-13 1-27 1 7 1 44 1-32 1-53 1 44 1 65 1-69 1-33 1 65 1-4 1-41 1 21 1 20 1-16 1-20 1 18 1 25 1-31 1-25 1 52 1 2 1-60 1 37 1 33 1-54 1 21 1 4 1-26 1 29 1 21 1-40 1-13 1 41 1-3 1-33 1 29 1-1 1-15 1 2 1 5 1 6 1-5 1-6 1 9 1-4 1-5 1 10 1-6 1-6 1 9 1 1 1-6 1 3 1 7 1-10 1-2 1-2 1 13 1 4 1-21 1 8 1 7 1-6 1 11 1-9 1-8 1 11 1-4 1-8 1 26 1-16 1-19 1 22 1 10 1-25 1 19 1-7 1-6 1 12 1-12 1 1 1 6 1-4 1-4 1 9 1 15 1-22 1-9 1 13 1 8 1-5 1-6 1-7 1 11 1 5 1-8 1 6 1-6 1-6 1 15 1 0 1-11 1-3 1 9 1 4 1-11 1 7 1 0 1-11 1 13 1-2 1-9 1 20 1-10 1-21 1 21 1 9 1-16 1-2 1 2 1 7 1 8 1-18 1 2 1 9 1-1 1-10 1 5 1-2 1 12 1 0 1-18 1 17 1-4 1-15 1 15 1-3 1-5 1 6 1 1 1-3 1 9 1-1 1-14 1-7 1 22 1-1 1-10 1-3 1 9 1 5 1-11 1 0 1 4 1-4 1 13 1-20 1 12 1-3 1 1 1 14 1-26 1-1 1 21 1 7 1-22 1-1 1 11 1-3 1 5 1-8 1 1 1 3 1-1 1-3 1 1 1 14 1-12 1-12 1 21 1-8 1-11 1 14 1-3 1-8 1 17 1-2 1-13 1-3 1 14 1-1 1-14 1 4 1 15 1-10 1-7 1 14 1-2 1-7 1 4 1-10 1 7 1 8 1-5 1-6 1 7 1-1 1-9 1 9 1-3 1-4 1 9 1-1 1-5 1-2 1 11 1-2 1-10 1 1 1 5 1-5 1 0 1 6 1 7 1-5 1-11 1 4 1 5 1-7 1 8 1-6 1 3 1 11 1-15 1-7 1 19 1-7 1 2 1-5 1-6 1 13 1-2 1-5 1 6 1 3 1-13 1-1 1 11 1-2 1-3 1 5 1-3 1-8 1 12 1-6 1-2 1 2 1 6 1-2 1-5 1 0 1 1 1 2 1 0 1-5 1 3 1-1 1 7 1-3 1-8 1 11 1 1 1-10 1 4 1-6 1 9 1 1 1-9 1 3 1 5 1 1 1-8 1 1 1 12 1-8 1-12 1 14 1 0 1-9 1 13 1-1 1-13 1 4 1 9 1-11 1 10 1-3 1-11 1 8 1 7 1-5 1-4 1 0 1 6 1-5 1-3 1 13 1 0 1-8 1-8 1 9 1 9 1-17 1-3 1 12 1 11 1-11 1-8 1 1 1 3 1 6 1-2 1-4 1 5 1-5 1 4 1 0 1-2 1 3 1-11 1 8 1 8 1-12 1 5 1 0 1-2 1 3 1-1 1-7 1 9 1 3 1-14 1 5 1 10 1-6 1 0 1-6 1 5 1 0 1-3 1 7 1-1 1-6 1 2 1 1 1 1 1-1 1 0 1 0 1 0 1 0 1 0 1 0"/></g><g id="w41"><path class="a" d="M117 0l.5-9 .5 50 .5-65 .5 31 .5-10 .5 18 .5-19 .5 9 .5-11 .5 21 .5-17 .5 4 .5-4 .5 4 .5-10 .5 9 .5-9 .5 10 .5-5 .5 12 .5-11 .5 14 .5-19 .5 14 .5-22 .5 21 .5-12 .5 11 1-8 1 4 1-6 1 10 1-7 1 4 1-3 1 2 1-5 1 14 1-11 1 3 1-4 1 6 1-6 1 8 1-33 1 32 1-7 1 3 1-2 1 2 1-2 1 4 1-4 1 2 1-2 1 2 1-4 1 6 1-6 1 5 1-3 1 6 1-6 1 2 1-4 1 4 1-3 1 3 1-2 1 3 1-4 1 5 1-8 1 10 1-12 1 16 1-11 1 3 1-4 1 4 1-2 1 2 1-2 1 2 1-2 1 2 1-4 1 5 1-3 1 3 1-3 1 2 1-5 1 5 1-4 1 3 1-5 1 6 1-2 1 2 1-2 1 6 1-6 1 2 1-2 1 2 1-2"/><path d="M210 -1l1-1 1-2 1 8 1 5 1-25 1 8 1 17 1-2 1 8 1-15 1 0 1-1 1-6 1 0 1 8 1 2 1-6 1 0 1 16 1-10 1-6 1-7 1 10 1 4 1-4 1-8 1 5 1 13 1-1 1-11 1-2 1-3 1 8 1-1 1 6 1-11 1-1 1 8 1 5 1-12 1 10 1-3 1-2 1-4 1 3 1 4 1-1 1-10 1 8 1 6 1 0 1-9 1-2 1-1 1 12 1-5 1-2 1-1 1-2 1 3 1 7 1-5 1-4 1 1 1 6 1-9 1 5 1 1 1-2 1 1 1 15 1-18 1 2 1 2 1-1 1-4 1 4 1 7 1 4 1-19 1 3 1 5 1 0 1 0 1 8 1-3 1-8 1-6 1 12 1-4 1 2 1 3 1-6 1 2 1 3 1-13 1 14 1-2 1-9 1 12 1 0 1-13 1 10 1-4 1 9 1-7 1 10 1-28 1 6 1 27 1-16 1 1 1 5 1-8 1-2 1 7 1 3 1-7 1 6 1-4 1-1 1 2 1 0 1-5 1 8 1-4 1-3 1 3 1 10 1-13 1-5 1 8 1 3 1-1 1-2 1-1 1 10 1-17 1-3 1 13 1 7 1-5 1-1 1-9 1 5 1 0 1-3 1 9 1-1 1-10 1 6 1 0 1 5 1-1 1-8 1-8 1 15 1 2 1-5 1-1 1-4 1 9 1-2 1-3 1 5 1-7 1-1 1 3 1 7 1-10 1 9 1-2 1-10 1 6 1 7 1-20 1 4 1 16 1 12 1-15 1-13 1 3 1 4 1 8 1 3 1-19 1 9 1 7 1-3 1-1 1 6 1-9 1-2 1-7 1 14 1 12 1-20 1-4 1 22 1-15 1-11 1 18 1 18 1-28 1-28 1 40 1 35 1-47 1-28 1 28 1 26 1-16 1-5 1-7 1-12 1 11 1 39 1 7 1-58 1-29 1 49 1 40 1-27 1-48 1 18 1 41 1-2 1-39 1-6 1 38 1 8 1-41 1-13 1 42 1 23 1-30 1-23 1-4 1 47 1 2 1-44 1-4 1 20 1 31 1-18 1-56 1 34 1 72 1-51 1-92 1 98 1 46 1-95 1 29 1 10 1-29 1 52 1-16 1-57 1 36 1 52 1-18 1-78 1 24 1 93 1-68 1-41 1 69 1-34 1-15 1 78 1-60 1-38 1 55 1-13 1 26 1-21 1-38 1 58 1-2 1-57 1 36 1 29 1-43 1 6 1 19 1-17 1-4 1 20 1-9 1-1 1 9 1-23 1 9 1 30 1-46 1 6 1 53 1-50 1-25 1 82 1-53 1-18 1 54 1-39 1 5 1 17 1-12 1 14 1-32 1 4 1 45 1-31 1-19 1 38 1-12 1-30 1 30 1 14 1-33 1 10 1 9 1 10 1-49 1 19 1 71 1-88 1-1 1 87 1-69 1-12 1 46 1-20 1-5 1 14 1-11 1-11 1 22 1-4 1-13 1 19 1-17 1-15 1 48 1-16 1-43 1 48 1-17 1-9 1 19 1-4 1-8 1-9 1 15 1-4 1 4 1 1 1-14 1 16 1-1 1-11 1 2 1 14 1-17 1 10 1-5 1-3 1 17 1-19 1 0 1 16 1-8 1-12 1 25 1 0 1-33 1 7 1 28 1-9 1-21 1 15 1 1 1 2 1-12 1 7 1 12 1-16 1 4 1 3 1-14 1 15 1 3 1-5 1-7 1 13 1-7 1-9 1 13 1 1 1-8 1 11 1-11 1-5 1 8 1 6 1-1 1-11 1 2 1 15 1-12 1-9 1 14 1 0 1-15 1 15 1 5 1-6 1-6 1-6 1 11 1 2 1-12 1 10 1 6 1-7 1 0 1-3 1-4 1 8 1 1 1-4 1 1 1 4 1-2 1-6 1 3 1 1 1-7 1 8 1 3 1-2 1-6 1 7 1 0 1-7 1 5 1-1 1-4 1 7 1-4 1 6 1-3 1-8 1 8 1 1 1-11 1 10 1 2 1-6 1 4 1-5 1 2 1 3 1-6 1 10 1 1 1-11 1-4 1 6 1 13 1-6 1-16 1 5 1 12 1-5 1-4 1 8 1-3 1-8 1 9 1 1 1-5 1 2 1-2 1 5 1-13 1 6 1 9 1-4 1-4 1 1 1 1 1 3 1-8 1 10 1 2 1-13 1-3 1 8 1 11 1-11 1-2 1 6 1-6 1 0 1 2 1 6 1-2 1-6 1 3 1 2 1-9 1 9 1 11 1-20 1-2 1 16 1-5 1-3 1 1 1 0 1-2 1-3 1 9 1 5 1-15 1 1 1 0 1 21 1-11 1-20 1 20 1-5 1-9 1 21 1-9 1-11 1 3 1 13 1-9 1-12 1 29 1-9 1-26 1 17 1 6 1-1 1-2 1-2 1-4 1 8 1 3 1-11 1 6 1-1 1-6 1 18 1-19 1 0 1 17 1-14 1 4 1 2 1-3 1 3 1 0 1-2 1-9 1 10 1 11 1-14 1-11 1 18 1-2 1-5 1 3 1 0 1-3 1-2 1 10 1-5 1-10 1 17 1-6 1-12 1 11 1 3 1-1 1-2 1-9 1 12 1-7 1-1 1 11 1-4 1-5 1 2 1-4 1 7 1 1 1-14 1 6 1 12 1-12 1 0 1 12 1-6 1-5 1 4 1-4 1 5 1-5 1 1 1 5 1-5 1 3 1-2 1 2 1 6 1-12 1 2 1 6 1-3 1-1 1 3 1-2 1 2 1-5 1-1 1 4 1 4 1 4 1-18 1 0 1 22 1-10 1-2 1 2 1-8 1 4 1 5 1-2 1-5 1 2 1 6 1-2 1-3 1 2 1-3 1-1 1 6 1-3 1-1 1 2 1-1 1 0 1 0 1 0 1 0 1 0 1 0 1 0"/></g><g id="w42"><path class="a" d="M116 0l.5 0 .5 13 .5-22 .5 14 .5-22 .5 33 .5-21 .5 11 .5-21 .5 18 .5-5 .5 6 .5-9 .5 7 .5-4 .5 13 .5-18 .5 9 .5-4 .5 4 .5-4 .5 7 .5-8 .5 8 .5-13 .5 18 .5-16 .5 14 1-14 1 9 1-9 1 7 1-10 1 11 1-4 1 4 1-4 1 3 1-5 1 9 1-6 1 3 1-3 1 4 1-20 1 28 1-15 1 10 1-7 1 2 1-2 1 3 1-3 1 2 1-2 1 2 1-4 1 5 1-5 1 8 1-8 1 8 1-7 1 4 1-3 1 3 1-5 1 4 1-2 1 2 1-2 1 5 1-9 1 12 1-12 1 10 1-7 1 5 1-4 1 2 1-3 1 4 1-3 1 3 1-3 1 2 1-7 1 7 1-5 1 5 1-2 1 2 1-2 1 4 1-4 1 2 1-2 1 2 1-4 1 4 1-5 1 7 1-4 1 2 1-3 1 3 1-2 1 2"/><path d="M210 1l1 3 1-4 1 13 1-24 1-2 1 21 1-2 1-22 1 21 1 20 1-30 1-9 1-3 1 25 1 13 1-20 1-15 1 10 1 1 1 14 1-4 1-18 1 3 1 18 1-13 1 6 1 7 1-8 1-8 1-2 1 8 1 3 1-2 1-2 1 1 1 14 1-21 1-2 1 1 1 14 1 7 1-5 1-14 1 0 1 10 1 2 1-15 1 6 1 10 1-3 1-9 1 4 1 0 1 1 1-1 1-1 1 3 1 6 1-3 1-8 1-10 1 22 1-7 1-1 1 4 1-2 1-4 1-5 1 11 1-2 1-7 1 6 1 1 1 3 1-8 1 2 1 0 1-3 1 5 1 1 1-1 1 2 1-7 1 1 1 2 1 9 1-8 1-1 1-9 1 17 1 1 1-16 1 0 1 13 1 5 1-12 1-2 1 5 1-4 1 11 1-3 1-9 1-11 1 10 1 19 1-2 1-15 1-11 1 1 1 40 1-22 1-22 1 9 1 14 1-2 1-4 1 1 1-3 1 3 1-4 1-5 1 15 1-10 1 7 1 0 1-3 1-1 1-10 1-1 1 20 1-2 1-12 1 2 1 11 1-3 1-5 1-5 1 0 1 2 1 6 1-1 1 0 1-1 1 3 1-6 1-3 1 4 1 0 1 3 1 5 1-9 1-3 1-6 1 11 1 6 1 2 1 2 1-11 1-21 1 24 1 4 1-7 1 2 1-3 1 6 1 2 1-16 1 6 1 9 1-3 1-4 1 11 1-2 1-9 1-11 1 9 1 14 1-3 1-14 1 1 1 0 1 17 1-6 1-5 1-7 1 8 1 11 1-14 1-18 1 22 1 15 1-6 1-19 1-15 1 14 1 38 1-11 1-40 1-8 1 44 1 18 1-23 1-39 1 12 1 36 1-3 1-15 1 6 1-26 1-5 1 49 1 22 1-67 1-25 1 55 1 30 1-36 1-44 1 25 1 68 1-20 1-84 1-3 1 96 1 27 1-93 1-39 1 73 1 48 1-47 1-78 1 36 1 110 1-24 1-124 1 13 1 115 1 2 1-110 1-8 1 77 1 29 1-53 1-25 1 53 1-20 1-45 1 67 1 26 1-98 1 3 1 78 1-4 1-31 1-27 1 29 1 27 1-33 1 10 1-26 1-26 1 136 1-92 1-98 1 189 1-105 1-42 1 187 1-184 1-20 1 179 1-126 1-33 1 120 1-85 1-9 1 81 1-67 1-18 1 77 1-48 1-10 1 33 1-25 1-13 1 35 1-8 1-24 1 16 1 22 1-15 1-39 1 32 1 59 1-94 1-24 1 159 1-100 1-95 1 167 1-62 1-84 1 124 1 1 1-103 1 26 1 73 1-38 1-57 1 73 1 2 1-61 1 33 1 17 1-20 1 1 1 4 1 29 1-44 1-18 1 89 1-77 1-26 1 113 1-96 1 9 1 65 1-63 1 4 1 30 1-14 1-3 1-2 1 11 1-1 1-13 1-6 1 18 1 4 1-17 1 9 1-1 1 3 1 5 1-23 1 18 1 6 1-13 1 2 1-3 1 5 1 9 1-11 1-5 1 8 1 0 1-5 1 17 1-8 1-25 1 12 1 24 1-5 1-16 1-10 1 23 1-7 1-9 1 16 1-9 1 1 1-1 1-5 1 17 1-12 1-1 1 7 1-14 1 14 1-1 1-8 1 9 1 1 1-14 1 7 1 11 1-20 1 6 1 8 1-5 1 6 1-4 1-2 1-1 1-5 1 14 1-8 1 1 1 4 1-6 1 7 1-10 1-3 1 25 1-28 1 3 1 24 1-15 1-13 1 20 1-11 1-6 1 10 1 10 1-14 1 0 1 15 1-21 1 0 1 20 1-15 1 2 1 5 1-1 1-3 1-7 1 18 1-7 1-6 1 11 1-17 1-1 1 13 1 3 1-6 1 3 1-8 1 10 1-4 1-8 1 10 1-5 1 2 1 5 1-11 1 7 1 0 1-6 1 2 1 11 1-7 1-4 1-4 1 0 1 17 1-5 1-5 1 4 1-12 1 5 1 25 1-32 1-8 1 27 1-6 1-4 1 0 1 4 1-6 1 3 1 5 1-9 1-5 1 15 1-1 1-7 1-1 1 3 1 1 1-5 1 11 1-3 1-14 1 7 1 15 1-7 1-31 1 34 1 13 1-33 1 1 1 18 1-3 1-2 1 0 1-2 1-1 1-1 1 3 1 3 1-12 1 4 1 17 1-14 1-14 1 28 1-4 1-27 1 25 1 0 1-18 1 10 1 5 1-1 1-4 1-1 1 0 1 4 1-3 1-3 1 8 1 1 1-17 1 14 1 6 1-8 1 0 1 2 1-3 1-2 1 4 1-2 1-5 1 16 1-9 1-7 1 6 1-3 1 3 1 1 1 2 1-6 1-1 1 15 1-13 1-10 1 21 1-2 1-16 1 4 1 6 1 14 1-16 1-10 1 13 1 4 1-15 1 8 1 8 1-12 1 6 1 5 1-10 1 0 1 5 1 1 1-4 1 2 1 2 1-4 1 1 1 7 1-6 1-3 1 0 1 2 1 5 1-3 1-3 1 1 1 2 1 4 1-10 1 1 1 9 1-4 1-3 1 3 1-1 1-1 1 2 1 1 1-4 1-1 1 3 1 1 1-3 1 0 1 4 1-2 1 2 1 1 1-8 1 7 1-1 1 2 1-3 1-7 1 6 1 4 1-6 1 6 1 2 1-8 1 5 1-3 1-3 1 8 1-3 1 3 1 0 1-13 1 2 1 16 1-6 1-4 1 2 1-2 1-1 1 6 1-4 1-2 1 1 1 2 1-2 1-3 1 7 1 5 1-9 1 0 1-3 1 4 1 5 1-7 1 2 1-2 1 0 1 4 1-2 1 0 1-1 1 0 1 1 1 0 1 0 1 0 1 0 1 0 1 0 1 0 1 0 1 0"/></g><g id="w43"><path class="a" d="M116 0l.5 0 .5 7 .5-20 .5 19 .5-19 .5 40 .5-32 .5 12 .5-20 .5 15 .5-5 .5 6 .5-12 .5 12 .5-7 .5 6 .5-9 .5 17 .5-12 .5 4 .5-12 .5 13 .5-12 .5 16 .5-14 .5 13 .5-9 .5 13 1-13 1 4 1-3 1 3 1-4 1 4 1-7 1 7 1-2 1 2 1-2 1 2 1-2 1 2 1-6 1 8 1-21 1 31 1-19 1 8 1-4 1 5 1-6 1 5 1-5 1 6 1-4 1 2 1-3 1 4 1-4 1 5 1-6 1 7 1-8 1 5 1-2 1 2 1-2 1 2 1-2 1 2 1-2 1 4 1-6 1 5 1-15 1 19 1-9 1 5 1-3 1 2 1-5 1 5 1-7 1 9 1-4 1 3 1-3 1 3 1-5 1 7 1-5 1 2 1-2 1 3 1-3 1 2 1-2 1 2 1-2 1 2 1-2 1 2 1-2 1 3 1-3 1 4 1-4"/><path d="M209 -1l1-8 1 4 1 4 1 3 1 26 1-15 1-32 1 5 1 7 1 8 1 11 1-15 1-4 1 7 1 15 1-19 1-8 1 20 1-1 1-13 1 10 1-16 1 13 1 4 1-8 1 4 1 7 1-15 1 1 1 9 1 7 1-6 1-9 1 8 1-6 1-10 1 16 1 5 1-5 1-16 1 16 1 3 1-2 1 3 1-10 1-14 1 22 1 4 1-4 1 0 1-2 1-16 1 5 1 7 1 7 1 4 1-11 1-10 1 11 1 5 1 4 1-17 1 3 1 7 1 2 1 3 1 0 1-12 1 7 1-10 1 8 1-2 1-2 1 9 1 2 1-8 1-2 1 4 1 4 1-6 1 1 1-2 1 1 1 4 1 3 1-16 1 10 1 2 1 4 1-6 1-4 1-6 1 15 1 2 1-9 1 0 1 1 1-3 1 6 1 5 1-9 1 3 1 0 1-9 1 12 1-7 1 4 1-1 1-18 1 33 1-14 1-1 1 16 1-27 1 10 1 0 1-1 1 2 1-1 1 0 1 4 1-2 1 3 1-5 1 5 1-2 1-11 1 7 1 6 1-11 1 8 1 7 1-10 1-7 1 12 1-4 1 9 1-7 1-6 1 8 1-7 1 1 1 12 1-5 1-9 1 3 1 2 1-7 1 13 1-5 1 1 1 5 1-9 1-2 1 1 1 0 1 9 1-10 1 3 1 2 1 9 1-11 1-9 1 9 1 2 1 3 1-4 1-7 1 4 1 11 1-2 1-12 1 12 1 1 1-13 1-9 1 11 1 4 1 11 1-3 1-12 1-1 1 9 1-7 1-6 1 12 1 9 1-14 1-12 1 10 1 20 1-9 1-18 1-3 1 34 1-10 1-31 1 8 1 30 1-6 1-19 1-5 1 18 1 11 1-12 1-24 1 4 1 23 1 14 1-15 1-22 1 5 1 17 1 2 1-10 1 2 1 13 1-27 1-3 1 36 1 3 1-40 1-15 1 45 1 31 1-54 1-29 1 36 1 43 1-14 1-52 1-11 1 47 1 21 1-18 1-30 1-3 1 24 1 24 1-14 1-34 1 4 1 17 1 7 1 26 1-39 1-43 1 58 1 44 1-63 1-15 1 14 1 7 1 21 1-8 1-33 1 20 1 22 1-17 1-5 1 6 1-18 1 18 1 26 1-39 1-14 1 43 1-12 1-15 1 5 1 18 1 1 1-56 1 23 1 67 1-40 1-36 1 16 1 29 1-18 1-12 1 15 1 11 1-22 1 1 1 16 1-19 1 18 1 16 1-66 1 43 1 58 1-123 1 47 1 101 1-134 1 15 1 92 1-81 1 23 1 30 1-66 1 39 1 34 1-72 1 30 1 44 1-51 1-9 1 31 1 9 1-6 1-64 1 59 1 60 1-128 1 36 1 86 1-77 1-8 1 47 1-37 1 9 1 39 1-62 1 23 1 29 1-42 1 16 1 12 1-14 1-1 1 11 1-5 1-5 1 2 1 9 1-7 1 1 1-3 1-4 1 11 1-4 1-2 1-2 1 2 1 4 1 1 1 2 1-19 1 5 1 17 1-3 1-17 1 7 1 17 1-19 1 6 1 0 1-2 1 14 1-27 1 18 1 3 1-18 1 21 1-1 1-24 1 19 1 7 1-10 1-8 1 11 1-3 1-12 1 13 1 5 1-10 1 8 1 5 1-15 1 1 1 15 1-12 1 0 1 5 1-21 1 25 1 8 1-27 1 15 1-20 1 30 1 7 1-44 1 23 1 8 1-20 1 21 1 5 1-14 1-12 1 11 1 12 1-10 1-3 1 5 1-6 1 6 1 3 1-3 1-4 1-6 1 13 1 6 1-25 1 5 1 22 1-12 1-8 1 11 1 0 1-7 1 2 1 3 1 0 1-7 1 0 1 11 1-7 1 3 1-5 1 3 1 7 1-11 1-3 1 20 1-15 1-4 1 18 1-26 1 17 1 11 1-22 1 9 1-7 1 0 1 14 1-6 1-5 1 14 1-15 1-10 1 23 1 1 1-17 1 3 1 1 1 5 1 1 1-4 1 6 1-15 1 0 1 19 1-7 1 8 1-10 1-9 1 4 1 16 1-11 1-4 1-1 1 14 1-6 1-10 1 11 1 0 1-10 1 10 1-8 1 0 1 19 1-15 1-15 1 19 1-5 1 5 1 7 1-17 1-2 1 16 1-12 1-6 1 22 1-9 1-7 1 1 1 2 1 4 1-6 1 4 1 6 1-3 1-8 1 5 1-4 1-6 1 13 1 8 1-14 1-7 1 11 1 0 1 2 1-4 1-8 1 11 1 2 1-6 1-3 1 7 1 0 1-2 1-7 1 4 1 3 1 1 1 1 1-7 1 3 1 8 1-5 1-9 1 4 1 9 1-8 1 2 1 5 1-11 1 1 1 11 1-8 1 2 1 3 1-3 1-2 1-5 1 8 1 5 1-5 1-5 1 2 1 8 1-10 1 6 1 1 1-7 1 3 1 8 1-12 1 4 1 9 1-13 1-3 1 10 1 3 1-1 1-7 1 3 1 2 1-6 1 8 1-3 1-7 1 6 1 0 1 1 1 1 1-4 1-2 1 6 1 1 1-1 1-1 1-3 1-6 1 19 1-12 1-13 1 25 1-7 1-7 1 4 1 3 1-12 1 6 1 8 1-4 1-5 1 3 1-5 1 1 1 19 1-16 1-9 1 15 1-3 1-10 1 10 1 0 1-2 1 0 1 1 1-4 1 6 1-2 1-5 1 3 1 4 1-3 1 1 1 0 1-7 1 8 1 5 1-13 1 4 1-3 1 13 1-2 1-14 1 9 1 3 1-4 1 0 1-1 1-5 1 11 1-1 1-10 1 9 1-4 1 1 1 0 1-2 1 2 1 1 1 0 1-1 1 0 1-1 1 1 1 1 1-2 1 1 1 0 1 0 1 0 1 0 1 0 1 0"/></g><g id="w44"><path class="a" d="M116 0l.5 0 .5 44 .5-58 .5 33 .5-26 .5 13 .5-16 .5 14 .5-6 .5 5 .5-5 .5 5 .5-5 .5 10 .5-11 .5 12 .5-11 .5 6 .5-5 .5 7 .5-9 .5 13 .5-12 .5 10 .5-13 .5 10 .5-16 .5 14 1-5 1 5 1-5 1 4 1-3 1 3 1-4 1 10 1-9 1 2 1-2 1 2 1-3 1 3 1-3 1 5 1-17 1 21 1-12 1 7 1-3 1 6 1-8 1 6 1-6 1 4 1-5 1 5 1-2 1 4 1-6 1 11 1-12 1 9 1-8 1 4 1-2 1 3 1-3 1 2 1-2 1 4 1-4 1 3 1-8 1 10 1-11 1 10 1-8 1 6 1-4 1 4 1-2 1 2 1-4 1 4 1-4 1 5 1-3 1 5 1-8 1 5 1-2 1 5 1-5 1 7 1-7 1 2 1-3 1 3 1-2 1 2 1-2 1 1 1-4 1 6 1-3 1 2 1-2"/><path d="M209 -1l1 4 1-11 1-7 1 0 1 19 1 24 1-12 1-46 1 22 1 12 1-2 1 4 1-5 1-6 1 1 1 2 1 6 1-11 1 11 1 5 1-20 1-4 1 25 1-9 1 1 1 7 1-20 1 5 1 17 1-14 1 6 1-5 1-12 1 15 1 11 1-8 1-8 1 1 1 13 1-21 1 10 1 6 1 0 1-10 1 7 1-7 1 4 1-2 1 4 1 8 1-4 1-9 1 1 1-4 1 9 1 6 1-11 1-9 1 14 1 5 1-1 1 0 1-8 1-3 1 4 1-7 1 11 1-2 1 6 1-8 1-7 1 10 1 0 1-3 1 2 1 0 1 7 1-18 1 10 1 2 1-4 1 0 1 6 1-4 1 0 1-3 1 7 1-3 1-5 1 2 1 8 1-9 1-2 1 1 1 8 1 3 1-2 1-19 1 12 1 16 1-14 1-5 1 10 1-5 1 1 1-3 1-3 1 13 1-21 1 16 1 6 1-21 1 13 1 3 1-7 1 0 1 12 1-5 1-3 1-4 1 2 1-3 1-1 1 1 1 10 1-4 1 0 1-5 1 2 1 2 1 8 1-5 1-11 1-3 1 12 1 5 1-3 1-9 1 4 1 10 1-10 1-8 1 11 1-3 1 0 1-2 1 5 1 6 1-2 1-17 1 4 1 9 1 10 1-8 1-8 1-8 1 10 1 12 1-4 1-9 1-7 1 8 1 16 1-12 1-14 1 3 1 20 1-7 1-10 1-3 1 22 1 5 1-25 1-13 1 21 1 11 1-1 1-19 1-9 1 16 1 18 1-12 1-17 1 6 1 20 1-11 1-10 1-2 1 13 1 2 1-7 1 3 1 2 1-6 1-1 1-14 1 29 1 14 1-34 1-14 1 21 1 11 1-5 1-14 1 8 1 5 1-4 1-1 1 8 1 0 1-23 1 2 1 42 1-2 1-48 1-23 1 57 1 42 1-48 1-55 1 34 1 58 1-14 1-69 1-4 1 63 1 29 1-44 1-55 1 29 1 64 1-9 1-56 1-12 1 49 1 20 1-45 1-29 1 46 1 19 1 12 1-68 1-22 1 103 1-12 1-93 1 45 1 45 1-38 1-15 1 31 1-5 1-22 1-2 1 35 1-7 1-37 1 52 1-42 1-51 1 167 1-78 1-114 1 110 1-13 1-8 1 54 1-80 1-23 1 90 1-29 1-64 1 125 1-71 1-81 1 151 1-67 1-47 1 75 1-38 1-1 1 31 1-47 1 21 1 33 1-48 1 12 1 12 1-1 1 2 1-25 1 26 1 9 1-78 1 110 1-5 1-161 1 195 1-20 1-198 1 186 1 48 1-165 1 25 1 96 1-35 1-53 1 45 1 26 1-56 1 8 1 49 1-42 1-33 1 90 1-40 1-66 1 95 1-28 1-49 1 70 1-29 1-17 1 20 1-16 1 34 1-33 1-6 1 38 1-27 1-1 1 13 1-13 1 13 1-11 1-8 1 32 1-16 1-16 1 7 1 3 1 11 1-10 1-7 1 8 1 9 1-14 1-3 1 38 1-51 1 7 1 41 1-41 1 11 1 11 1-16 1 7 1 1 1 6 1 2 1-22 1 7 1 27 1-29 1 8 1 2 1-5 1 18 1-18 1-4 1 13 1-3 1-5 1 1 1 2 1 8 1-10 1-5 1 8 1 0 1 3 1-8 1 3 1-4 1 6 1 6 1-6 1-7 1 10 1-4 1 1 1-8 1 6 1-1 1 12 1-6 1-16 1 17 1 3 1-15 1 4 1 6 1-6 1 4 1-2 1 1 1 13 1-22 1 4 1 15 1-15 1-7 1 16 1 5 1-11 1 2 1 8 1-13 1 5 1 5 1-17 1 11 1 16 1-17 1-6 1 7 1 9 1-4 1-11 1 7 1 6 1-19 1 19 1-7 1-10 1 30 1-23 1-11 1 26 1 0 1-16 1-8 1 21 1-6 1-4 1 2 1-1 1 4 1 1 1-4 1-2 1-5 1 0 1 22 1-2 1-34 1 17 1 18 1-13 1-10 1 7 1 4 1 1 1 3 1-3 1-11 1 4 1 1 1 4 1 12 1-26 1 4 1 29 1-21 1-7 1 13 1-2 1-18 1 19 1 14 1-31 1-2 1 30 1-12 1-10 1 6 1 4 1 6 1-17 1 3 1 11 1-12 1 3 1 12 1-9 1-2 1 7 1-13 1 4 1 16 1-12 1-6 1 7 1-2 1 0 1-4 1 10 1 4 1-15 1 4 1 5 1-8 1 12 1-4 1-15 1 10 1 15 1-10 1-13 1 10 1 1 1-2 1 5 1-6 1 3 1-5 1 6 1 0 1 1 1-7 1-1 1 15 1-5 1-13 1 4 1 4 1 2 1-4 1 1 1 6 1 1 1-16 1 13 1 4 1-15 1 4 1 8 1 3 1-7 1-8 1 15 1-8 1-4 1 7 1-1 1-1 1-1 1 2 1-5 1 4 1 6 1-6 1 1 1-3 1-4 1 10 1 4 1-15 1 2 1 10 1-3 1-4 1 2 1 0 1-3 1 5 1 1 1-4 1 3 1-4 1-2 1 3 1 1 1 3 1 1 1-7 1 1 1 4 1-3 1-1 1 4 1-3 1 2 1-3 1-4 1 10 1 0 1-5 1 0 1-4 1 8 1 0 1-3 1-5 1 3 1 5 1-3 1 4 1-2 1-14 1 18 1 4 1-16 1 0 1 9 1-1 1-7 1 4 1 6 1-16 1 21 1 2 1-24 1 7 1 8 1 5 1-15 1 9 1 4 1-16 1 13 1-1 1-3 1-2 1 7 1-1 1-12 1 10 1 9 1-17 1 3 1 11 1-5 1-8 1 8 1-1 1-2 1 2 1-1 1-2 1 3 1 1 1-4 1 2 1 1 1-2 1 1 1 0 1 0 1 0 1 0 1 0 1 0"/></g><g id="w45"><path class="a" d="M116 0l.5 0 .5 8 .5-14 .5 10 .5-10 .5 15 .5-21 .5 15 .5-8 .5 9 .5-13 .5 24 .5-17 .5 7 .5-8 .5 5 .5-4 .5 4 .5-8 .5 8 .5-4 .5 6 .5-10 .5 14 .5-12 .5 15 .5-14 .5 10 1-11 1 7 1-5 1 3 1-3 1 3 1-2 1 6 1-7 1 6 1-5 1 2 1-2 1 2 1-2 1 7 1-17 1 22 1-16 1 7 1-5 1 4 1-2 1 2 1-2 1 2 1-4 1 8 1-7 1 7 1-10 1 8 1-7 1 6 1-3 1 2 1-2 1 2 1-2 1 5 1-5 1 4 1-4 1 3 1-5 1 6 1-7 1 7 1-6 1 6 1-6 1 4 1-2 1 3 1-4 1 4 1-3 1 2 1-2 1 2 1-5 1 5 1-2 1 2 1-1 1 1 1-2 1 2 1-2 1 3 1-4 1 3 1-2 1 3 1-3 1 2 1-2 1 2 1-2"/><path d="M209 -1l1 14 1 12 1-51 1 15 1 30 1-35 1 17 1-7 1-8 1 26 1 0 1-22 1 3 1 3 1 11 1-4 1-6 1 1 1 0 1-1 1 11 1-5 1-6 1 1 1 12 1-11 1-10 1 7 1 16 1-13 1-8 1 10 1 6 1-14 1 6 1 1 1 1 1-3 1 9 1-12 1-2 1 6 1-1 1 1 1 7 1-4 1 2 1-7 1 1 1-4 1 2 1 2 1 9 1 1 1-6 1-13 1 10 1-3 1 3 1 6 1-5 1 3 1 5 1-11 1 6 1-8 1-4 1 5 1 10 1 0 1-6 1-9 1 16 1-12 1-2 1 12 1 2 1-8 1-1 1-4 1 7 1 1 1-3 1-8 1 12 1 3 1 3 1-12 1-7 1 6 1 9 1-1 1-3 1 3 1-1 1-16 1 7 1 7 1 2 1-7 1 12 1-4 1-7 1-1 1 9 1-7 1-1 1 6 1-4 1-11 1 22 1-4 1-3 1-2 1-2 1-1 1 3 1-4 1 2 1 0 1 4 1-7 1 0 1 1 1 4 1-2 1 0 1 0 1 4 1-7 1 5 1 4 1-5 1 2 1 1 1-10 1 4 1 1 1 9 1-9 1-1 1 0 1 8 1-2 1-9 1-1 1 9 1 2 1 2 1-7 1-3 1 0 1 5 1 3 1 3 1-10 1-6 1 7 1 6 1-2 1 2 1-17 1 9 1 15 1-2 1-9 1-8 1-5 1 14 1 5 1 8 1-14 1-7 1 1 1 10 1 10 1-9 1-21 1 7 1 8 1 6 1 1 1 2 1-12 1-9 1 11 1 12 1-6 1-1 1-6 1 0 1 7 1-2 1-8 1 2 1 7 1 9 1-17 1-9 1 15 1 18 1-15 1-29 1 11 1 45 1 3 1-62 1-28 1 70 1 50 1-48 1-67 1 21 1 43 1 13 1-14 1-26 1-3 1 12 1 17 1-1 1-23 1 8 1 12 1 0 1-21 1 15 1 13 1-26 1-7 1 29 1 18 1-36 1-36 1 70 1 13 1-92 1 33 1 66 1-44 1-24 1 1 1 31 1 27 1-38 1-43 1 41 1 34 1-40 1 0 1 29 1-47 1 11 1 51 1-26 1-40 1 21 1 13 1 23 1-2 1-75 1 16 1 80 1-28 1-47 1 6 1 33 1 59 1-95 1-90 1 228 1-65 1-193 1 201 1 19 1-147 1 57 1 75 1-68 1-30 1 63 1-14 1-29 1 20 1 7 1-3 1-8 1-14 1 29 1-2 1-19 1 10 1-2 1 0 1-1 1-3 1 16 1-2 1-42 1 39 1 39 1-87 1 18 1 100 1-81 1-65 1 78 1 30 1-40 1-29 1 43 1 12 1-40 1 1 1 30 1-1 1-33 1 14 1 27 1-36 1 13 1 6 1-5 1 10 1-29 1 10 1 29 1-24 1-6 1 24 1-11 1-6 1-5 1 7 1 7 1-15 1 12 1 10 1-11 1-25 1 21 1 17 1-8 1-19 1 11 1 5 1-6 1 3 1-7 1 9 1 7 1-11 1-9 1 5 1 12 1-8 1 6 1-5 1 0 1-4 1 4 1-7 1 14 1 8 1-32 1 23 1 10 1-33 1 13 1 11 1-12 1 3 1 12 1-13 1-3 1-5 1 22 1 2 1-30 1 22 1 3 1-24 1 24 1 1 1-15 1 2 1 2 1 1 1 8 1-8 1-3 1 6 1 1 1-6 1 10 1-7 1-5 1 11 1-14 1-1 1 18 1-9 1-3 1 9 1-5 1-2 1-1 1 2 1 4 1-7 1 2 1-4 1 4 1 6 1 2 1-14 1-4 1 15 1 4 1-5 1-2 1-5 1 2 1 2 1 0 1 1 1-6 1 5 1 7 1-12 1 2 1 9 1-1 1-11 1 4 1 7 1-8 1-2 1 9 1 0 1-8 1-2 1 17 1-11 1-15 1 18 1 10 1-17 1-2 1 8 1 5 1-7 1-6 1 1 1 10 1-5 1-3 1 11 1-15 1-2 1 25 1-20 1-10 1 29 1-8 1-14 1-1 1 4 1 13 1-10 1-5 1 9 1 4 1-12 1 6 1 3 1-10 1 4 1 5 1-8 1 10 1 1 1-16 1 7 1 11 1-7 1-7 1 3 1 15 1-23 1 8 1 10 1-9 1 6 1-1 1-1 1-12 1 10 1 13 1-19 1 2 1 1 1 4 1 5 1-7 1-1 1 4 1-1 1 0 1-4 1 2 1 3 1-7 1 0 1 11 1 0 1-16 1 5 1 14 1-10 1-1 1 1 1 4 1-3 1 2 1-4 1-2 1 8 1 4 1-12 1-6 1 11 1 6 1 0 1-17 1 1 1 17 1-10 1 6 1 0 1-6 1-2 1 4 1 5 1-13 1 6 1 10 1-11 1 5 1-3 1-1 1-3 1 9 1 6 1-20 1 8 1 9 1-14 1 6 1 14 1-16 1-11 1 23 1-11 1 3 1 12 1-22 1-3 1 21 1-4 1-8 1-1 1 2 1 5 1 5 1-12 1-6 1 20 1-6 1-15 1 11 1 1 1-3 1 2 1 11 1-9 1-17 1 17 1-2 1 2 1 4 1-7 1-1 1 3 1 4 1-13 1 13 1 0 1-17 1 14 1 5 1-15 1 12 1 1 1-12 1 5 1 8 1-7 1-4 1 8 1 3 1-12 1 4 1 1 1-1 1 7 1 2 1-20 1 11 1 20 1-24 1-10 1 22 1 2 1-8 1-4 1 0 1 9 1-2 1-4 1 2 1-5 1 1 1 6 1-2 1-6 1 8 1-1 1-2 1 0 1-5 1 8 1 2 1-12 1 6 1 6 1-5 1 0 1-1 1-1 1 3 1-1 1-1 1 2 1-1 1 0 1 1 1-1 1 0 1 0 1 0 1 0 1 0"/></g><g id="w46"><path class="a" d="M116 0l.5 0 .5 9 .5-30 .5 33 .5-19 .5 11 .5-24 .5 27 .5-9 .5 6 .5-10 .5 10 .5-12 .5 11 .5-6 .5 6 .5-11 .5 13 .5-7 .5 4 .5-7 .5 8 .5-8 .5 9 .5-7 .5 10 .5-10 .5 11 1-10 1 10 1-10 1 3 1-2 1 7 1-8 1 3 1-2 1 2 1-2 1 8 1-8 1 2 1-8 1 12 1-15 1 22 1-16 1 6 1-5 1 4 1-2 1 2 1-2 1 2 1-4 1 4 1-3 1 5 1-9 1 13 1-13 1 10 1-5 1 2 1-2 1 3 1-8 1 7 1-4 1 4 1-2 1 3 1-5 1 9 1-17 1 17 1-8 1 4 1-3 1 2 1-2 1 4 1-4 1 2 1-2 1 2 1-3 1 3 1-2 1 7 1-7 1 2 1-4 1 4 1-2 1 2 1-5 1 6 1-3 1 2 1-2 1 2 1-2 1 3 1-5 1 4 1-2"/><path d="M209 -1l1 18 1-30 1-8 1 9 1 24 1 0 1-22 1 29 1-7 1-34 1 16 1 5 1 3 1-3 1-7 1 15 1 5 1-10 1-8 1-1 1 5 1 4 1 5 1-4 1-9 1-3 1 14 1 0 1-3 1-13 1 18 1 0 1-16 1 2 1 13 1-6 1 2 1-2 1 6 1-8 1-4 1-2 1 9 1-3 1 8 1-6 1 6 1-6 1-9 1 2 1 8 1-1 1 11 1-6 1-12 1 2 1 15 1-9 1-7 1 8 1 6 1-11 1-4 1-1 1 5 1 5 1 6 1-9 1-3 1 6 1-1 1-3 1 0 1-2 1 10 1-3 1-9 1-3 1 16 1-3 1-4 1-1 1 4 1-8 1 6 1 2 1-2 1-1 1-2 1 4 1 6 1-16 1-5 1 18 1 0 1-4 1-2 1-3 1 4 1-3 1 11 1-5 1-7 1 0 1 9 1-5 1-7 1 7 1 14 1-18 1-2 1 6 1 3 1-3 1-2 1 2 1-2 1-2 1 5 1 3 1 4 1-6 1-8 1-4 1 17 1-7 1-2 1 3 1 0 1 1 1 2 1-11 1 5 1 10 1-8 1-6 1 7 1 1 1 1 1-4 1 1 1-6 1 8 1-1 1 1 1 2 1 1 1-12 1 1 1 5 1 8 1 1 1-14 1-3 1 10 1 5 1-2 1-7 1 6 1-15 1 6 1 16 1-4 1-6 1-2 1-5 1 6 1 1 1 8 1-6 1-5 1 2 1 3 1-4 1-1 1 0 1 16 1-14 1-9 1 13 1 8 1-11 1-9 1-2 1 9 1 11 1-1 1-15 1 0 1 17 1 2 1-23 1 5 1 9 1-5 1 2 1-2 1 5 1 10 1-25 1 1 1 19 1 4 1-15 1-16 1 10 1 32 1-4 1-34 1-6 1 25 1 18 1-13 1-42 1 21 1 41 1-9 1-34 1-7 1 21 1 22 1-16 1-22 1 8 1 17 1-8 1-2 1 3 1-7 1 7 1 12 1-14 1 3 1-12 1-7 1 22 1 20 1-14 1-47 1-15 1 94 1 35 1-112 1-48 1 85 1 50 1-23 1-54 1-11 1 33 1 36 1-28 1-42 1 29 1 40 1-38 1 3 1-2 1-47 1 89 1 21 1-119 1 24 1 65 1 1 1-3 1-104 1 40 1 139 1-102 1-70 1 71 1 14 1 3 1-28 1-2 1 28 1-30 1 7 1 21 1-18 1 1 1 2 1-7 1 19 1-9 1-24 1 28 1 20 1-49 1 14 1 40 1-55 1-2 1 67 1-47 1-32 1 74 1-40 1-52 1 120 1-34 1-131 1 120 1 62 1-136 1 30 1 74 1-76 1-9 1 109 1-79 1-67 1 118 1-11 1-83 1 52 1 19 1-48 1 19 1 29 1-22 1-11 1 4 1 25 1-17 1-22 1 37 1-21 1-12 1 29 1-9 1 1 1-15 1 1 1 28 1-19 1-14 1 16 1-5 1 0 1 9 1-1 1-13 1 7 1 8 1-1 1-13 1 7 1 13 1-22 1-8 1 24 1 7 1-19 1-12 1 38 1-21 1-10 1 15 1 4 1-18 1-3 1 28 1-8 1-23 1 19 1-3 1 1 1-2 1-10 1 17 1-1 1-16 1 7 1 16 1-10 1-21 1 23 1 1 1-5 1-4 1 1 1 6 1-2 1-5 1 3 1-3 1 6 1-2 1-4 1 2 1 3 1 4 1-10 1 0 1 4 1 2 1 6 1-13 1 5 1 2 1-10 1 1 1 18 1-6 1-6 1 0 1-4 1 3 1 9 1-13 1-2 1 20 1-2 1-24 1 17 1-3 1-9 1 15 1-3 1-5 1-4 1 10 1 3 1-15 1 11 1-3 1-4 1 13 1-12 1-1 1 9 1-12 1 2 1 13 1-4 1-16 1 16 1 5 1-17 1-2 1 15 1 6 1-11 1-9 1 6 1 8 1-3 1-5 1 6 1-2 1-5 1-3 1 12 1 4 1-7 1-14 1 9 1 12 1-8 1-3 1 3 1-2 1 2 1-4 1 5 1-4 1 7 1 2 1-18 1-2 1 26 1-13 1-6 1 12 1-6 1-8 1 7 1 8 1-8 1 1 1 0 1-4 1 10 1-1 1-9 1 0 1 6 1 1 1-1 1-5 1-1 1 2 1 6 1-4 1-1 1 2 1-3 1 8 1-9 1 1 1 13 1-8 1-14 1 3 1 15 1-2 1-7 1 0 1 3 1-3 1 6 1 2 1-9 1-6 1 9 1 5 1 0 1-18 1 15 1 9 1-17 1 0 1 10 1-4 1-2 1 6 1-8 1-1 1 13 1-8 1-2 1 3 1 0 1 1 1-2 1-4 1 3 1 6 1-2 1-10 1 5 1 7 1-3 1-7 1 7 1 2 1-9 1 3 1 2 1 0 1 8 1-12 1-9 1 21 1 1 1-18 1 9 1 4 1-11 1 7 1 5 1-6 1 2 1-2 1 0 1 6 1-7 1-3 1 10 1-10 1 4 1 7 1-9 1 2 1 1 1-3 1 7 1-1 1-2 1-6 1 2 1 9 1-8 1-2 1 19 1-23 1-7 1 34 1-19 1-11 1 14 1-4 1 4 1 0 1-6 1 1 1 4 1-1 1-1 1 1 1-4 1 3 1 8 1-11 1-3 1 12 1-1 1-14 1 9 1 6 1-6 1-1 1 0 1-2 1 12 1-10 1-9 1 11 1 2 1 0 1-7 1-2 1 20 1-16 1-7 1 8 1 11 1-11 1-5 1 8 1 0 1-1 1-1 1 1 1-3 1-4 1 13 1-3 1-11 1 5 1 2 1 3 1-3 1-2 1 3 1-2 1 2 1 1 1-3 1-1 1 4 1-1 1-1 1-1 1 2 1-1 1 0 1 0 1 0 1 0 1 0"/></g><g id="w47"><path class="a" d="M116 0l.5 0 .5 11 .5-18 .5 13 .5-30 .5 31 .5-33 .5 35 .5-13 .5 8 .5-6 .5 12 .5-21 .5 14 .5-11 .5 11 .5-4 .5 3 .5-12 .5 13 .5-8 .5 8 .5-8 .5 12 .5-13 .5 11 .5-9 .5 9 1-13 1 9 1-2 1 2 1-3 1 3 1-2 1 2 1-8 1 8 1-3 1 5 1-4 1 2 1-2 1 4 1-8 1 18 1-20 1 9 1-7 1 6 1-2 1 2 1-3 1 3 1-4 1 4 1-4 1 5 1-5 1 12 1-13 1 6 1-3 1 2 1-2 1 3 1-3 1 2 1-2 1 2 1-4 1 8 1-7 1 8 1-12 1 10 1-6 1 7 1-7 1 6 1-5 1 6 1-8 1 8 1-7 1 3 1-2 1 3 1-3 1 3 1-3 1 5 1-5 1 2 1-4 1 4 1-2 1 2 1-2 1 2 1-2 1 2 1-2 1 4 1-4 1 2 1-2"/><path d="M209 -1l1 10 1-18 1 21 1-10 1-14 1 4 1 6 1 8 1 6 1-27 1 21 1-8 1-1 1 19 1-21 1 0 1 2 1-3 1 13 1-12 1 12 1-4 1-5 1 1 1-2 1 5 1 4 1-13 1 15 1-7 1-5 1-2 1 1 1 7 1 9 1-14 1 6 1-1 1-7 1 1 1-1 1 4 1 11 1-6 1 0 1-6 1-5 1 0 1 10 1-5 1 8 1-8 1 9 1-8 1-4 1 0 1 8 1-3 1 7 1-4 1-12 1 2 1 9 1 8 1-4 1-12 1 3 1-2 1 3 1 3 1 7 1-11 1-3 1 8 1 6 1-13 1 1 1 3 1 8 1-8 1-4 1 5 1 4 1-9 1 5 1 1 1 1 1-3 1 5 1-10 1 4 1 7 1-12 1 10 1 4 1-9 1 2 1-1 1 6 1-7 1 1 1 0 1 2 1-1 1 2 1-3 1 6 1-20 1 3 1 31 1-13 1-9 1 1 1 4 1-2 1-5 1 10 1-4 1 1 1-7 1 3 1 0 1 7 1-9 1 0 1 7 1-1 1-1 1-4 1-1 1 10 1-7 1 1 1 0 1-2 1 4 1-1 1-5 1 1 1 3 1 5 1-3 1-5 1 5 1 6 1-13 1-2 1 4 1 8 1 0 1-8 1 0 1 11 1-14 1 2 1 6 1-1 1-4 1 4 1 5 1 1 1-13 1-1 1 7 1 12 1-8 1-4 1-12 1 5 1 14 1-4 1-1 1 2 1-9 1 4 1-5 1 4 1 13 1-3 1-17 1 3 1 4 1 8 1-5 1-4 1 4 1 3 1-7 1-2 1 6 1 9 1-13 1-10 1 4 1 19 1 3 1-11 1-21 1 13 1 37 1-9 1-56 1-5 1 60 1 29 1-56 1-40 1 32 1 48 1-11 1-34 1-19 1 12 1 32 1 27 1-19 1-58 1-11 1 71 1 30 1-59 1-57 1 48 1 56 1-18 1-42 1-5 1 16 1 25 1 4 1-23 1-24 1 11 1 35 1 18 1-39 1-45 1-1 1 92 1 33 1-117 1-35 1 76 1 34 1 8 1-69 1-35 1 88 1 23 1-84 1 23 1 7 1-30 1 72 1-4 1-85 1 36 1 50 1-58 1 0 1 88 1-94 1-80 1 201 1-22 1-164 1 88 1 38 1-58 1 24 1 36 1-61 1-7 1 90 1-61 1-44 1 71 1-14 1-19 1 8 1 5 1-11 1-4 1 29 1-3 1-34 1 12 1 18 1-11 1-13 1 31 1-10 1-47 1 62 1 7 1-97 1 99 1 25 1-153 1 140 1 9 1-156 1 181 1-83 1-66 1 130 1-54 1-36 1 37 1 4 1-9 1-7 1 11 1-2 1-9 1 13 1-13 1-6 1 28 1-7 1-23 1 15 1 12 1-30 1 15 1 24 1-30 1-14 1 42 1-17 1-25 1 24 1 7 1-7 1 4 1-4 1-7 1 3 1 3 1-2 1-5 1 5 1 9 1-9 1 6 1 1 1-18 1 17 1-1 1-13 1 18 1-8 1 0 1-16 1 7 1 37 1-32 1-7 1 16 1-16 1 16 1 0 1-16 1 9 1 8 1-10 1 6 1-3 1-2 1 0 1 8 1-5 1-5 1 0 1-1 1 11 1 0 1-2 1-9 1-4 1 13 1-1 1-8 1 3 1 18 1-20 1-6 1 12 1 3 1-5 1-2 1 0 1 8 1-7 1-5 1 1 1 19 1 1 1-33 1 7 1 27 1-19 1 2 1-11 1 18 1 6 1-19 1 10 1-1 1-13 1 15 1-6 1 7 1 4 1-22 1 19 1-6 1-10 1 14 1 2 1-5 1-1 1 6 1-16 1 8 1 9 1-10 1-1 1 3 1 2 1 4 1-6 1-1 1 4 1 0 1-8 1 6 1 3 1-6 1 7 1 1 1-12 1 7 1-5 1 11 1-1 1-9 1 5 1-1 1-3 1 3 1-1 1-1 1 6 1-3 1 1 1-3 1-6 1 8 1 3 1 1 1-9 1 1 1 0 1 9 1 4 1-13 1-7 1 5 1 12 1-7 1-6 1 12 1-13 1 15 1-2 1-15 1-4 1 24 1 2 1-16 1-8 1 9 1 15 1-9 1-16 1 7 1 12 1-1 1-12 1 4 1 3 1 1 1 1 1 0 1-11 1 1 1 14 1-1 1-5 1-11 1 7 1 10 1-3 1-4 1-2 1-1 1 0 1 9 1-7 1-4 1 1 1 6 1 10 1-15 1-13 1 30 1-11 1-18 1 16 1 9 1-4 1-20 1 8 1 16 1-10 1 1 1 1 1-2 1-3 1-2 1 12 1 0 1-13 1 2 1 2 1 7 1-3 1 4 1-7 1-8 1 11 1-1 1-2 1 4 1-4 1 0 1 0 1 0 1 1 1 4 1-6 1 1 1 5 1-9 1 1 1 10 1-4 1 1 1-1 1-9 1 5 1 6 1-5 1 3 1 0 1-5 1 1 1 10 1-8 1-13 1 17 1-2 1-13 1 16 1 7 1-14 1-6 1 8 1-2 1 4 1 6 1-14 1 10 1-7 1-3 1 22 1-24 1 2 1 15 1-10 1-3 1 3 1-2 1 6 1-1 1-5 1 2 1 2 1 2 1-3 1-4 1 0 1 5 1 5 1-13 1 15 1-8 1-6 1 12 1-8 1-3 1 7 1 6 1-8 1-9 1 16 1-5 1-13 1 16 1 2 1-10 1-1 1 4 1 3 1-4 1-4 1 2 1 19 1-25 1-1 1 18 1-13 1 17 1-10 1-17 1 21 1-9 1 4 1 8 1-15 1 5 1 5 1-5 1 1 1-1 1-2 1 7 1-1 1-8 1 4 1 2 1-1 1 0 1 0 1 0 1-1 1 1 1 0 1 0 1 0 1 0 1 0"/></g></defs>
<path d="M86.5 170.5H205M86.5 208.2H205M86.5 245.2H205M86.5 264.4H205M86.5 282.4H205M86.5 300.9H205M86.5 305.3H205M86.5 316.1H205M86.5 343.1H205M86.5 354.3H205M86.5 360.0H205M86.5 371.5H205M86.5 376.6H205M86.5 377.6H205M86.5 392.3H205M86.5 396.0H205M86.5 411.0H205M86.5 415.7H205M86.5 434.5H204M86.5 436.0H204M86.5 453.4H204M86.5 459.2H204M86.5 464.9H204M86.5 469.4H204M86.5 470.7H204M86.5 474.4H204M86.5 484.4H204M86.5 492.4H204M86.5 493.9H204M86.5 500.1H204M86.5 514.1H204M86.5 524.6H204M86.5 538.6H204M86.5 545.8H204M86.5 547.3H204M86.5 556.6H204M86.5 557.8H204M86.5 562.3H204M86.5 573.6H204M86.5 584.8H204M86.5 594.3H204M86.5 597.3H204M86.5 606.3H204M86.5 607.0H204M86.5 615.5H204M86.5 627.7H204M86.5 628.0H204M86.5 628.4H204M86.5 628.7H204M86.5 634.3H204M86.5 637.4H204M86.5 637.8H204M86.5 644.2H204M86.5 651.7H204M86.5 652.0H204M86.5 652.4H204M86.5 652.7H204M86.5 659.0H204M86.5 666.5H204M86.5 666.9H204M86.5 667.5H204M86.5 668.1H204M86.5 668.5H204M86.5 673.3H204M86.5 676.4H204M86.5 676.8H204M86.5 681.0H204M86.5 686.3H204M86.5 686.7H204M86.5 691.2H204M86.5 691.6H204M86.5 693.1H204M86.5 697.3H204M86.5 701.7H204M86.5 702.1H204M86.5 702.4H204M86.5 702.8H204M86.5 707.4H204M86.5 712.1H204M86.5 712.5H204M86.5 718.2H204M86.5 718.6H204M86.5 726.7H204M86.5 733.0H204M86.5 739.7H203M86.5 744.1H203M86.5 755.4H203M86.5 761.4H203M86.5 774.5H203M86.5 790.4H203M86.5 792.5H203M86.5 805.5H203M86.5 808.4H203M86.5 810.4H203M86.5 840.9H203M86.5 875.9H203M86.5 890.7H203" stroke="#000" stroke-width="0.55" fill="none"/>
<g fill="none" stroke="#000" stroke-width="0.66" stroke-linejoin="round" class="tr">
<use href="#w0" transform="translate(86.5,170.5) scale(1,0.263)"/><use href="#w1" transform="translate(86.5,208.2) scale(1,0.218)"/><use href="#w2" transform="translate(86.5,245.2) scale(1,0.227)"/><use href="#w3" transform="translate(86.5,264.4) scale(1,0.150)"/><use href="#w4" transform="translate(86.5,282.4) scale(1,0.201)"/><use href="#w5" transform="translate(86.5,300.9) scale(1,0.279)"/><use href="#w0" transform="translate(87.1,305.3) scale(1,-0.217)"/><use href="#w1" transform="translate(87.1,316.1) scale(1,-0.258)"/><use href="#w2" transform="translate(87.1,354.3) scale(1,-0.291)"/><use href="#w3" transform="translate(87.1,360.0) scale(1,-0.258)"/><use href="#w4" transform="translate(87.1,371.5) scale(1,-0.209)"/><use href="#w5" transform="translate(87.1,376.6) scale(1,-0.218)"/><use href="#w6" transform="translate(86.5,377.6) scale(1,0.222)"/><use href="#w7" transform="translate(86.5,392.3) scale(1,0.269)"/><use href="#w8" transform="translate(86.5,396.0) scale(1,0.247)"/><use href="#w9" transform="translate(86.5,411.0) scale(1,0.202)"/><use href="#w10" transform="translate(86.5,415.7) scale(1,0.253)"/><use href="#w11" transform="translate(86.5,434.5) scale(1,0.255)"/><use href="#w6" transform="translate(87.1,436.0) scale(1,-0.284)"/><use href="#w7" transform="translate(87.1,453.4) scale(1,-0.230)"/><use href="#w8" transform="translate(87.1,459.2) scale(1,-0.290)"/><use href="#w9" transform="translate(87.1,464.9) scale(1,-0.274)"/><use href="#w10" transform="translate(87.1,469.4) scale(1,-0.288)"/><use href="#w11" transform="translate(87.1,470.7) scale(1,-0.261)"/><use href="#w12" transform="translate(86.5,474.4) scale(1,0.277)"/><use href="#w13" transform="translate(86.5,484.4) scale(1,0.288)"/><use href="#w14" transform="translate(86.5,492.4) scale(1,0.269)"/><use href="#w15" transform="translate(86.5,493.9) scale(1,0.287)"/><use href="#w16" transform="translate(86.5,500.1) scale(1,0.211)"/><use href="#w17" transform="translate(86.5,514.1) scale(1,0.288)"/><use href="#w12" transform="translate(87.1,524.6) scale(1,-0.251)"/><use href="#w13" transform="translate(87.1,538.6) scale(1,-0.234)"/><use href="#w14" transform="translate(87.1,545.8) scale(1,-0.277)"/><use href="#w15" transform="translate(87.1,547.3) scale(1,-0.238)"/><use href="#w16" transform="translate(87.1,556.6) scale(1,-0.229)"/><use href="#w17" transform="translate(87.1,557.8) scale(1,-0.298)"/><use href="#w18" transform="translate(86.5,562.3) scale(1,0.235)"/><use href="#w19" transform="translate(86.5,573.6) scale(1,0.274)"/><use href="#w20" transform="translate(86.5,584.8) scale(1,0.222)"/><use href="#w21" transform="translate(86.5,594.3) scale(1,0.239)"/><use href="#w22" transform="translate(86.5,597.3) scale(1,0.284)"/><use href="#w23" transform="translate(86.5,606.3) scale(1,0.288)"/><use href="#w18" transform="translate(87.1,607.0) scale(1,-0.265)"/><use href="#w19" transform="translate(87.1,615.5) scale(1,-0.226)"/><use href="#w20" transform="translate(87.1,627.7) scale(1,-0.212)"/><use href="#w21" transform="translate(87.1,628.0) scale(1,-0.252)"/><use href="#w22" transform="translate(87.1,628.4) scale(1,-0.296)"/><use href="#w23" transform="translate(87.1,628.7) scale(1,-0.282)"/><use href="#w24" transform="translate(86.5,634.3) scale(1,0.245)"/><use href="#w25" transform="translate(86.5,637.4) scale(1,0.266)"/><use href="#w26" transform="translate(86.5,637.8) scale(1,0.228)"/><use href="#w27" transform="translate(86.5,644.2) scale(1,0.245)"/><use href="#w28" transform="translate(86.5,651.7) scale(1,0.235)"/><use href="#w29" transform="translate(86.5,652.0) scale(1,0.276)"/><use href="#w24" transform="translate(87.1,652.4) scale(1,-0.218)"/><use href="#w25" transform="translate(87.1,652.7) scale(1,-0.203)"/><use href="#w26" transform="translate(87.1,659.0) scale(1,-0.260)"/><use href="#w27" transform="translate(87.1,666.5) scale(1,-0.298)"/><use href="#w28" transform="translate(87.1,666.9) scale(1,-0.251)"/><use href="#w29" transform="translate(87.1,667.5) scale(1,-0.277)"/><use href="#w30" transform="translate(86.5,668.1) scale(1,0.217)"/><use href="#w31" transform="translate(86.5,668.5) scale(1,0.223)"/><use href="#w32" transform="translate(86.5,673.3) scale(1,0.221)"/><use href="#w33" transform="translate(86.5,676.4) scale(1,0.240)"/><use href="#w34" transform="translate(86.5,676.8) scale(1,0.206)"/><use href="#w35" transform="translate(86.5,681.0) scale(1,0.248)"/><use href="#w30" transform="translate(87.1,686.3) scale(1,-0.232)"/><use href="#w31" transform="translate(87.1,686.7) scale(1,-0.267)"/><use href="#w32" transform="translate(87.1,691.2) scale(1,-0.234)"/><use href="#w33" transform="translate(87.1,691.6) scale(1,-0.221)"/><use href="#w34" transform="translate(87.1,693.1) scale(1,-0.287)"/><use href="#w35" transform="translate(87.1,697.3) scale(1,-0.263)"/><use href="#w36" transform="translate(86.5,701.7) scale(1,0.222)"/><use href="#w37" transform="translate(86.5,702.1) scale(1,0.272)"/><use href="#w38" transform="translate(86.5,702.4) scale(1,0.278)"/><use href="#w39" transform="translate(86.5,702.8) scale(1,0.244)"/><use href="#w40" transform="translate(86.5,707.4) scale(1,0.212)"/><use href="#w41" transform="translate(86.5,712.1) scale(1,0.293)"/><use href="#w36" transform="translate(87.1,712.5) scale(1,-0.261)"/><use href="#w37" transform="translate(87.1,718.2) scale(1,-0.237)"/><use href="#w38" transform="translate(87.1,718.6) scale(1,-0.288)"/><use href="#w39" transform="translate(87.1,726.7) scale(1,-0.267)"/><use href="#w40" transform="translate(87.1,733.0) scale(1,-0.254)"/><use href="#w41" transform="translate(87.1,739.7) scale(1,-0.289)"/><use href="#w42" transform="translate(86.5,744.1) scale(1,0.211)"/><use href="#w43" transform="translate(86.5,755.4) scale(1,0.284)"/><use href="#w44" transform="translate(86.5,761.4) scale(1,0.295)"/><use href="#w45" transform="translate(86.5,774.5) scale(1,0.222)"/><use href="#w46" transform="translate(86.5,790.4) scale(1,0.248)"/><use href="#w47" transform="translate(86.5,792.5) scale(1,0.251)"/><use href="#w42" transform="translate(87.1,805.5) scale(1,-0.210)"/><use href="#w43" transform="translate(87.1,808.4) scale(1,-0.261)"/><use href="#w44" transform="translate(87.1,810.4) scale(1,-0.243)"/><use href="#w45" transform="translate(87.1,840.9) scale(1,-0.293)"/><use href="#w46" transform="translate(87.1,875.9) scale(1,-0.262)"/><use href="#w47" transform="translate(87.1,890.7) scale(1,-0.248)"/>
</g>
<path d="M86.5 343.1H958.5" stroke="#000" stroke-width="0.55"/>
<path fill="#000" d="M88 341.1L89 340.8L90 340.7L91 340.3L92 340.0L93 339.8L94 338.6L95 338.5L96 338.3L97 334.9L98 337.9L99 337.4L100 337.0L101 336.2L102 335.3L103 335.7L104 335.1L105 335.1L106 333.6L107 334.4L108 334.3L109 331.2L110 332.7L111 332.4L112 332.8L113 330.9L114 328.4L115 331.8L116 331.6L117 329.6L118 329.7L119 330.9L120 329.3L121 329.9L122 331.0L123 329.5L124 323.8L125 328.5L126 323.9L127 326.8L128 330.4L129 329.3L130 325.1L131 328.3L132 326.1L133 327.3L134 327.4L135 329.2L136 330.6L137 328.2L138 330.6L139 328.7L140 329.6L141 329.6L142 330.5L143 329.1L144 330.5L145 324.6L146 329.3L147 329.8L148 326.8L149 330.9L150 328.6L151 329.1L152 325.8L153 328.7L154 329.3L155 328.1L156 325.5L157 324.9L158 330.2L159 326.5L160 327.0L161 328.0L162 330.2L163 328.4L164 327.4L165 327.8L166 330.1L167 326.6L168 326.7L169 329.1L170 329.1L171 328.1L172 330.2L173 329.4L174 329.0L175 329.0L176 327.5L177 327.3L178 329.5L179 330.3L180 327.0L181 329.6L182 327.9L183 326.6L184 331.1L185 327.9L186 329.1L187 330.5L188 330.3L189 330.3L190 330.5L191 329.0L192 329.0L193 330.8L194 330.8L195 329.7L196 330.5L197 324.5L198 327.2L199 327.2L200 325.8L201 330.2L202 329.5L203 329.7L204 325.2L205 324.4L206 328.3L207 327.7L208 328.6L209 329.0L210 330.7L211 329.4L212 325.8L213 330.6L214 329.1L215 330.7L216 326.5L217 329.2L218 327.5L219 328.3L220 330.6L221 329.0L222 327.2L223 329.4L224 330.3L225 329.9L226 329.8L227 329.3L228 328.7L229 329.8L230 324.7L231 330.5L232 329.7L233 328.1L234 324.0L235 328.9L236 328.9L237 331.1L238 330.2L239 330.8L240 330.7L241 327.1L242 329.9L243 330.8L244 329.1L245 329.9L246 329.0L247 330.2L248 328.9L249 330.0L250 330.7L251 329.0L252 329.4L253 326.7L254 325.7L255 328.9L256 329.8L257 330.7L258 328.9L259 328.3L260 328.4L261 330.7L262 326.9L263 330.4L264 330.7L265 329.0L266 329.7L267 325.5L268 328.5L269 325.4L270 331.0L271 328.0L272 330.7L273 326.4L274 329.6L275 330.1L276 331.1L277 326.9L278 329.4L279 328.4L280 329.4L281 328.6L282 329.3L283 326.3L284 325.9L285 328.4L286 330.7L287 328.2L288 324.1L289 330.4L290 327.8L291 330.2L292 326.9L293 329.1L294 326.5L295 329.4L296 331.1L297 328.2L298 330.9L299 325.9L300 330.2L301 329.6L302 330.6L303 331.0L304 330.8L305 326.8L306 328.9L307 330.6L308 325.5L309 330.7L310 328.0L311 328.2L312 327.8L313 322.5L314 330.7L315 330.8L316 328.4L317 329.7L318 329.9L319 326.5L320 327.5L321 330.7L322 330.8L323 327.9L324 329.5L325 328.3L326 328.1L327 329.4L328 330.9L329 329.6L330 323.7L331 330.6L332 328.5L333 329.1L334 331.0L335 325.1L336 330.6L337 330.8L338 327.4L339 331.0L340 325.2L341 325.6L342 329.2L343 330.7L344 329.5L345 328.0L346 326.5L347 329.7L348 331.0L349 328.7L350 329.2L351 329.6L352 328.5L353 329.1L354 325.1L355 329.2L356 331.0L357 328.9L358 329.6L359 330.8L360 329.2L361 327.8L362 330.5L363 330.2L364 329.2L365 326.2L366 330.6L367 330.6L368 330.7L369 327.9L370 326.3L371 330.1L372 328.0L373 329.0L374 327.2L375 329.7L376 329.7L377 328.9L378 327.1L379 329.6L380 326.4L381 327.5L382 326.3L383 329.8L384 328.5L385 327.2L386 325.3L387 329.6L388 330.6L389 328.1L390 327.6L391 330.1L392 327.5L393 326.7L394 329.3L395 328.9L396 328.6L397 328.7L398 327.1L399 331.0L400 328.2L401 327.6L402 331.0L403 328.8L404 330.4L405 329.7L406 329.9L407 330.3L408 329.9L409 327.2L410 327.7L411 327.0L412 329.8L413 328.2L414 328.6L415 329.4L416 330.8L417 323.5L418 326.0L419 329.5L420 329.1L421 330.2L422 329.3L423 328.2L424 326.6L425 323.1L426 329.0L427 329.5L428 327.2L429 329.4L430 328.0L431 327.1L432 328.3L433 330.6L434 327.3L435 330.8L436 330.9L437 330.8L438 328.9L439 329.0L440 329.5L441 329.6L442 325.0L443 330.2L444 328.7L445 329.2L446 330.1L447 330.3L448 330.8L449 328.1L450 327.1L451 330.9L452 324.5L453 325.2L454 326.2L455 329.3L456 329.3L457 327.9L458 329.6L459 328.8L460 328.0L461 329.4L462 330.4L463 329.1L464 329.4L465 326.6L466 326.8L467 330.8L468 329.8L469 330.5L470 328.9L471 330.4L472 328.3L473 329.6L474 327.6L475 329.0L476 330.9L477 326.1L478 330.3L479 329.0L480 330.7L481 329.7L482 329.9L483 330.1L484 328.6L485 327.6L486 330.7L487 329.8L488 327.6L489 330.7L490 327.3L491 329.9L492 329.2L493 327.4L494 327.4L495 328.5L496 328.9L497 328.1L498 329.5L499 329.1L500 329.1L501 327.2L502 330.5L503 325.8L504 325.8L505 329.3L506 328.5L507 329.5L508 329.9L509 329.2L510 327.1L511 329.7L512 330.7L513 328.5L514 327.8L515 330.8L516 330.9L517 329.2L518 328.4L519 328.4L520 327.6L521 326.0L522 328.2L523 324.7L524 330.9L525 329.8L526 323.4L527 329.0L528 326.5L529 329.7L530 327.0L531 327.8L532 329.4L533 329.4L534 329.0L535 329.9L536 329.9L537 331.0L538 331.0L539 325.1L540 329.2L541 329.9L542 325.7L543 328.1L544 328.5L545 327.8L546 327.6L547 330.7L548 328.9L549 330.1L550 327.9L551 329.2L552 329.3L553 330.9L554 327.4L555 326.6L556 324.4L557 330.8L558 331.1L559 325.2L560 330.6L561 331.1L562 328.3L563 329.1L564 327.0L565 330.5L566 330.7L567 327.9L568 328.9L569 328.4L570 327.5L571 327.4L572 327.1L573 331.0L574 328.0L575 330.3L576 330.8L577 330.7L578 328.9L579 330.1L580 326.5L581 327.5L582 329.3L583 328.3L584 324.9L585 329.3L586 324.8L587 328.4L588 330.9L589 322.6L590 330.9L591 329.7L592 330.2L593 326.7L594 330.6L595 330.4L596 330.3L597 327.3L598 330.7L599 331.1L600 330.4L601 326.1L602 330.0L603 331.0L604 330.6L605 329.4L606 328.0L607 329.3L608 331.0L609 329.7L610 331.0L611 329.8L612 328.8L613 329.8L614 327.4L615 330.3L616 330.6L617 329.9L618 328.6L619 330.3L620 330.4L621 330.3L622 331.0L623 327.9L624 328.2L625 326.7L626 325.8L627 330.1L628 330.4L629 329.1L630 325.9L631 326.9L632 329.9L633 327.8L634 330.9L635 329.0L636 330.7L637 328.8L638 328.9L639 330.1L640 329.8L641 326.6L642 327.7L643 329.6L644 331.0L645 328.1L646 328.6L647 330.9L648 326.6L649 328.6L650 325.3L651 322.4L652 328.4L653 328.3L654 329.9L655 330.5L656 329.5L657 328.8L658 330.5L659 329.0L660 329.9L661 330.1L662 329.5L663 329.8L664 330.0L665 327.7L666 324.0L667 328.9L668 325.4L669 330.0L670 325.8L671 328.4L672 328.3L673 329.1L674 329.0L675 327.8L676 328.3L677 328.3L678 330.5L679 329.1L680 329.3L681 329.1L682 329.0L683 328.5L684 330.3L685 326.8L686 330.3L687 327.9L688 330.4L689 329.2L690 329.2L691 330.3L692 329.1L693 329.0L694 328.1L695 330.3L696 330.5L697 327.6L698 330.5L699 329.3L700 326.5L701 328.0L702 326.8L703 330.2L704 329.8L705 324.8L706 327.9L707 328.8L708 331.1L709 330.7L710 330.7L711 325.0L712 327.3L713 329.4L714 330.7L715 330.7L716 328.8L717 330.3L718 329.0L719 329.7L720 326.7L721 330.3L722 327.5L723 330.4L724 329.7L725 327.1L726 329.0L727 327.3L728 329.8L729 329.9L730 327.9L731 328.9L732 328.3L733 330.6L734 331.0L735 330.0L736 329.9L737 326.1L738 328.2L739 330.7L740 328.9L741 328.2L742 330.9L743 330.7L744 330.5L745 326.8L746 328.5L747 327.9L748 331.0L749 329.8L750 327.3L751 330.2L752 325.7L753 329.6L754 329.1L755 326.9L756 328.6L757 328.9L758 329.8L759 329.0L760 327.1L761 330.8L762 328.9L763 324.4L764 328.7L765 323.4L766 330.6L767 330.2L768 327.6L769 326.6L770 329.7L771 330.9L772 327.4L773 330.6L774 324.0L775 330.9L776 329.6L777 327.4L778 330.1L779 329.0L780 329.5L781 330.4L782 327.8L783 326.5L784 331.0L785 330.7L786 329.2L787 325.5L788 330.9L789 330.7L790 330.1L791 327.6L792 329.9L793 326.3L794 330.2L795 330.6L796 330.7L797 327.8L798 325.2L799 329.7L800 330.2L801 331.0L802 326.6L803 326.5L804 323.6L805 330.2L806 325.7L807 330.7L808 327.0L809 324.3L810 327.6L811 327.7L812 330.4L813 330.7L814 328.4L815 328.8L816 327.4L817 329.3L818 331.0L819 330.0L820 329.9L821 328.7L822 330.3L823 329.7L824 329.8L825 330.1L826 329.0L827 330.5L828 330.0L829 330.5L830 328.9L831 326.1L832 328.4L833 331.1L834 327.2L835 328.3L836 331.0L837 327.0L838 327.0L839 327.2L840 330.2L841 329.7L842 330.8L843 327.0L844 330.4L845 329.4L846 331.0L847 330.5L848 325.9L849 326.4L850 330.9L851 326.9L852 329.9L853 329.7L854 326.8L855 330.0L856 329.5L857 327.9L858 328.6L859 330.5L860 325.9L861 330.6L862 328.4L863 329.5L864 330.5L865 326.6L866 330.8L867 329.3L868 330.3L869 329.5L870 327.7L871 326.7L872 327.8L873 328.3L874 327.1L875 330.6L876 331.0L877 329.7L878 330.6L879 329.8L880 330.6L881 330.7L882 331.0L883 326.3L884 323.3L885 329.0L886 326.8L887 330.4L888 327.0L889 330.4L890 330.1L891 330.9L892 328.1L893 329.2L894 328.7L895 329.3L896 330.4L897 327.3L898 327.2L899 328.6L900 328.7L901 329.1L902 328.3L903 329.9L904 328.7L905 331.0L906 324.5L907 325.0L908 326.3L909 330.5L910 326.8L911 329.6L912 325.5L913 330.8L914 327.0L915 327.2L916 330.8L917 328.4L918 329.4L919 326.6L920 330.7L921 323.4L922 327.2L923 329.4L924 326.8L925 327.2L926 329.6L927 326.1L928 330.8L929 331.1L930 329.3L931 330.0L932 330.3L933 328.3L934 328.4L935 328.2L936 330.6L937 331.2L938 332.3L939 331.6L940 332.5L941 332.1L942 333.1L943 332.6L944 334.8L945 332.3L946 335.9L947 336.9L948 337.3L949 337.3L950 338.4L951 338.8L952 338.7L953 339.6L954 339.9L955 340.3L956 340.9L957 341.1L957 341.1L956 341.3L955 341.7L954 342.0L953 342.2L952 342.4L951 342.9L950 343.3L949 344.3L948 344.4L947 344.9L946 344.6L945 346.2L944 345.5L943 347.0L942 346.2L941 346.7L940 347.8L939 347.0L938 347.3L937 349.4L936 347.7L935 349.4L934 352.4L933 349.4L932 351.3L931 354.4L930 350.6L929 350.4L928 349.3L927 351.7L926 351.5L925 349.4L924 349.4L923 351.3L922 350.6L921 350.3L920 350.4L919 350.5L918 354.1L917 351.3L916 350.4L915 350.4L914 349.2L913 355.6L912 349.1L911 352.2L910 352.7L909 349.6L908 351.4L907 351.7L906 350.1L905 351.8L904 351.8L903 353.7L902 349.1L901 351.5L900 351.0L899 352.6L898 348.9L897 351.8L896 348.7L895 351.2L894 351.0L893 353.0L892 350.2L891 349.0L890 351.3L889 349.3L888 349.8L887 350.2L886 350.7L885 354.1L884 349.6L883 350.6L882 350.0L881 349.5L880 349.9L879 349.6L878 349.4L877 348.9L876 352.3L875 348.8L874 349.7L873 348.8L872 349.6L871 350.1L870 350.0L869 351.5L868 348.6L867 349.5L866 350.6L865 348.9L864 350.8L863 351.4L862 349.3L861 350.3L860 353.1L859 350.7L858 350.1L857 350.3L856 349.9L855 351.1L854 350.6L853 349.0L852 349.0L851 351.7L850 350.6L849 349.0L848 349.4L847 349.0L846 350.4L845 351.7L844 349.8L843 348.7L842 349.2L841 350.3L840 349.9L839 350.8L838 349.5L837 349.8L836 350.1L835 348.6L834 348.9L833 352.3L832 351.7L831 349.7L830 350.9L829 352.3L828 351.7L827 349.9L826 352.4L825 352.4L824 352.9L823 350.5L822 350.6L821 352.5L820 351.1L819 350.5L818 352.2L817 349.6L816 349.2L815 350.6L814 349.6L813 350.5L812 352.3L811 349.1L810 351.0L809 350.2L808 349.0L807 351.1L806 349.2L805 349.3L804 351.2L803 351.9L802 349.3L801 350.5L800 351.5L799 349.5L798 349.2L797 348.6L796 351.5L795 351.7L794 350.7L793 350.2L792 349.8L791 349.6L790 349.1L789 352.1L788 350.8L787 350.4L786 351.4L785 349.7L784 348.7L783 350.1L782 351.8L781 352.9L780 352.0L779 349.2L778 352.1L777 350.3L776 352.1L775 351.1L774 350.9L773 349.3L772 351.4L771 351.1L770 352.4L769 348.8L768 350.4L767 353.4L766 349.9L765 349.5L764 351.7L763 350.4L762 352.1L761 352.6L760 350.7L759 349.4L758 349.0L757 350.0L756 348.6L755 349.4L754 350.3L753 349.6L752 348.9L751 350.9L750 349.9L749 350.7L748 352.4L747 353.6L746 349.8L745 352.2L744 349.6L743 348.7L742 349.3L741 348.6L740 349.5L739 349.9L738 348.8L737 351.5L736 351.4L735 352.5L734 349.3L733 348.8L732 351.5L731 348.6L730 349.5L729 349.4L728 349.7L727 349.6L726 350.7L725 350.1L724 349.0L723 349.6L722 351.1L721 351.1L720 349.3L719 351.0L718 350.6L717 351.4L716 352.6L715 350.7L714 352.2L713 353.0L712 350.3L711 348.6L710 349.9L709 350.9L708 352.0L707 349.0L706 349.4L705 349.1L704 349.5L703 349.0L702 349.5L701 354.1L700 351.0L699 350.2L698 348.7L697 349.8L696 351.9L695 349.1L694 349.6L693 351.8L692 348.8L691 350.1L690 352.6L689 349.8L688 349.8L687 351.6L686 353.3L685 351.2L684 349.7L683 349.4L682 350.0L681 348.8L680 353.9L679 348.7L678 350.7L677 348.9L676 350.1L675 350.6L674 350.6L673 352.3L672 351.1L671 349.4L670 350.5L669 348.9L668 351.0L667 349.3L666 351.5L665 350.8L664 348.6L663 350.4L662 350.0L661 349.3L660 349.7L659 350.5L658 350.3L657 349.3L656 354.2L655 350.6L654 349.0L653 349.0L652 348.9L651 350.7L650 348.8L649 350.2L648 348.7L647 352.2L646 349.9L645 351.7L644 351.1L643 349.1L642 351.3L641 350.1L640 349.5L639 350.6L638 349.7L637 350.0L636 349.8L635 350.2L634 351.0L633 350.6L632 350.8L631 350.3L630 348.9L629 350.9L628 354.0L627 348.8L626 351.1L625 348.7L624 350.8L623 353.1L622 353.6L621 352.4L620 350.4L619 350.2L618 348.8L617 355.5L616 349.5L615 349.0L614 349.9L613 349.9L612 352.1L611 352.4L610 349.6L609 350.4L608 349.4L607 349.8L606 352.2L605 349.6L604 349.8L603 349.5L602 351.4L601 350.2L600 348.9L599 350.5L598 350.3L597 351.1L596 351.2L595 350.1L594 350.4L593 351.5L592 352.6L591 350.4L590 350.6L589 349.0L588 351.1L587 353.8L586 351.9L585 353.3L584 350.8L583 351.4L582 350.0L581 351.0L580 349.5L579 348.8L578 348.8L577 349.4L576 348.8L575 349.2L574 350.8L573 349.6L572 351.3L571 348.7L570 349.9L569 351.8L568 349.7L567 349.9L566 352.2L565 352.6L564 351.2L563 352.8L562 350.6L561 348.8L560 348.9L559 351.9L558 349.5L557 353.4L556 348.7L555 351.6L554 350.3L553 350.1L552 348.9L551 348.6L550 352.9L549 351.3L548 349.2L547 350.2L546 349.4L545 350.2L544 351.6L543 349.6L542 349.9L541 349.8L540 352.2L539 352.3L538 354.4L537 351.0L536 348.7L535 351.6L534 352.8L533 350.0L532 349.7L531 350.4L530 349.2L529 349.5L528 349.2L527 350.0L526 349.0L525 350.9L524 352.9L523 353.8L522 350.4L521 351.4L520 350.3L519 355.0L518 349.9L517 351.0L516 349.6L515 349.1L514 348.7L513 348.9L512 349.8L511 350.4L510 350.2L509 351.7L508 350.6L507 353.9L506 349.8L505 349.3L504 349.4L503 349.1L502 352.8L501 349.6L500 349.2L499 350.7L498 350.2L497 349.3L496 352.0L495 353.2L494 350.4L493 348.9L492 352.4L491 350.9L490 352.1L489 349.7L488 352.2L487 348.9L486 351.2L485 348.9L484 349.1L483 349.9L482 350.9L481 349.6L480 354.0L479 350.8L478 351.0L477 349.8L476 351.8L475 350.7L474 350.7L473 349.3L472 351.1L471 348.6L470 349.1L469 350.7L468 349.8L467 351.3L466 353.5L465 350.6L464 350.9L463 353.3L462 354.8L461 349.2L460 349.1L459 350.5L458 355.3L457 350.6L456 353.2L455 352.2L454 349.7L453 351.0L452 350.9L451 351.0L450 350.2L449 351.9L448 350.3L447 349.8L446 350.2L445 350.2L444 351.5L443 352.3L442 349.4L441 349.8L440 353.1L439 349.1L438 350.2L437 351.9L436 350.5L435 350.9L434 352.3L433 348.9L432 349.9L431 349.6L430 350.9L429 350.6L428 349.6L427 348.7L426 350.0L425 352.8L424 350.1L423 348.8L422 350.8L421 350.7L420 350.6L419 350.6L418 349.3L417 348.6L416 351.7L415 352.8L414 349.1L413 349.3L412 350.7L411 349.8L410 352.2L409 351.9L408 351.1L407 349.5L406 349.8L405 350.2L404 349.3L403 349.4L402 351.4L401 349.5L400 351.5L399 353.0L398 348.8L397 351.4L396 353.2L395 349.3L394 349.1L393 349.7L392 350.2L391 353.4L390 352.8L389 349.1L388 349.1L387 351.0L386 351.0L385 351.4L384 348.8L383 349.2L382 352.2L381 351.3L380 350.3L379 351.4L378 349.3L377 349.9L376 351.2L375 349.4L374 348.9L373 350.1L372 350.4L371 352.1L370 349.3L369 354.7L368 351.1L367 352.9L366 350.6L365 351.6L364 350.7L363 354.9L362 349.3L361 349.9L360 349.6L359 349.8L358 349.6L357 351.8L356 351.2L355 349.6L354 350.1L353 350.3L352 349.2L351 351.1L350 350.6L349 352.4L348 349.5L347 351.4L346 349.8L345 351.9L344 350.8L343 349.4L342 348.9L341 350.8L340 351.5L339 350.2L338 350.9L337 350.9L336 350.3L335 353.0L334 351.1L333 349.7L332 349.0L331 348.9L330 350.7L329 351.0L328 350.1L327 351.4L326 350.2L325 349.0L324 348.6L323 349.6L322 349.8L321 349.3L320 351.8L319 353.2L318 351.3L317 349.8L316 353.4L315 350.9L314 353.3L313 349.5L312 349.8L311 353.2L310 351.4L309 350.9L308 351.3L307 351.6L306 349.1L305 351.2L304 351.7L303 349.9L302 354.0L301 351.3L300 349.5L299 350.1L298 349.7L297 352.3L296 349.0L295 349.0L294 351.1L293 350.0L292 349.3L291 353.1L290 350.0L289 350.8L288 350.4L287 350.4L286 349.0L285 349.0L284 352.4L283 350.6L282 350.3L281 349.0L280 351.6L279 351.8L278 350.1L277 349.2L276 353.4L275 350.4L274 350.1L273 351.6L272 349.7L271 349.6L270 348.9L269 349.0L268 355.8L267 350.5L266 349.5L265 352.1L264 351.7L263 353.0L262 350.9L261 348.6L260 354.4L259 350.8L258 349.2L257 350.0L256 351.2L255 350.8L254 351.6L253 349.3L252 352.0L251 349.3L250 349.0L249 349.6L248 350.0L247 351.5L246 353.9L245 349.4L244 348.9L243 350.0L242 349.1L241 351.6L240 349.0L239 349.8L238 349.3L237 349.9L236 350.3L235 352.6L234 349.5L233 350.1L232 349.2L231 352.0L230 348.8L229 349.7L228 351.5L227 352.2L226 348.7L225 350.6L224 349.2L223 350.7L222 351.4L221 351.9L220 349.2L219 352.1L218 350.2L217 349.2L216 351.8L215 352.8L214 351.8L213 350.4L212 352.7L211 349.2L210 349.7L209 352.6L208 352.9L207 350.8L206 349.9L205 349.9L204 349.4L203 352.2L202 349.3L201 349.3L200 350.2L199 349.7L198 351.8L197 349.0L196 352.1L195 351.2L194 352.8L193 349.9L192 352.0L191 350.9L190 350.7L189 350.1L188 349.7L187 349.0L186 352.7L185 349.2L184 353.6L183 352.5L182 350.6L181 349.2L180 349.0L179 349.3L178 350.9L177 349.5L176 350.5L175 350.4L174 349.8L173 349.1L172 349.8L171 349.7L170 350.9L169 349.4L168 353.2L167 349.5L166 349.9L165 351.7L164 349.7L163 349.3L162 352.6L161 348.6L160 350.5L159 350.3L158 350.0L157 350.7L156 349.4L155 349.0L154 348.6L153 350.5L152 351.0L151 351.5L150 349.8L149 352.3L148 350.3L147 349.9L146 353.4L145 352.9L144 351.3L143 350.8L142 349.1L141 348.8L140 349.7L139 349.9L138 349.2L137 349.1L136 349.5L135 352.9L134 350.2L133 350.9L132 349.2L131 351.0L130 352.0L129 350.4L128 349.2L127 350.4L126 348.6L125 350.8L124 349.6L123 350.0L122 350.9L121 348.8L120 348.7L119 352.8L118 351.2L117 351.1L116 349.3L115 350.1L114 348.3L113 350.1L112 348.1L111 347.0L110 346.7L109 348.7L108 346.9L107 346.3L106 346.0L105 346.9L104 345.5L103 345.6L102 345.8L101 346.1L100 345.3L99 344.6L98 343.9L97 343.4L96 343.9L95 343.2L94 343.0L93 342.5L92 341.9L91 341.7L90 341.5L89 341.2L88 341.1Z"/>
<path d="M203.1 165.5v10M203.0 203.2v10M202.9 240.2v10M202.8 277.4v10M202.7 295.9v10M202.7 300.3v10M202.7 311.1v10M202.6 338.1v10M202.5 349.3v10M202.5 355.0v10M202.5 366.5v10M202.5 371.6v10M202.5 372.6v10M202.4 387.3v10M202.4 391.0v10M202.4 406.0v10M202.4 410.7v10M202.3 429.5v10M202.3 431.0v10M202.2 448.4v10M202.2 454.2v10M202.2 459.9v10M202.2 464.4v10M202.2 465.7v10M202.2 469.4v10M202.1 479.4v10M202.1 487.4v10M202.1 488.9v10M202.1 495.1v10M202.1 509.1v10M202.0 519.6v10M202.0 533.6v10M202.0 540.8v10M201.9 542.3v10M201.9 551.6v10M201.9 552.8v10M201.9 557.3v10M201.9 568.6v10M201.8 579.8v10M201.8 589.3v10M201.8 592.3v10M201.8 601.3v10M201.8 602.0v10M201.7 610.5v10M201.7 622.7v10M201.7 623.0v10M201.7 623.4v10M201.7 623.7v10M201.7 629.3v10M201.7 632.4v10M201.7 632.8v10M201.7 639.2v10M201.6 646.7v10M201.6 647.0v10M201.6 647.4v10M201.6 647.7v10M201.6 654.0v10M201.6 661.5v10M201.6 661.9v10M201.6 662.5v10M201.6 663.1v10M201.6 663.5v10M201.6 668.3v10M201.6 671.4v10M201.6 671.8v10M201.5 676.0v10M201.5 681.3v10M201.5 681.7v10M201.5 686.2v10M201.5 686.6v10M201.5 688.1v10M201.5 692.3v10M201.5 696.7v10M201.5 697.1v10M201.5 697.4v10M201.5 697.8v10M201.5 702.4v10M201.4 707.1v10M201.4 707.5v10M201.4 713.2v10M201.4 713.6v10M201.4 721.7v10M201.4 728.0v10M201.4 734.7v10M201.3 739.1v10M201.3 750.4v10M201.3 756.4v10M201.3 769.5v10M201.2 785.4v10M201.2 787.5v10M201.2 800.5v10M201.2 803.4v10M201.1 805.4v10M201.1 835.9v10M200.9 870.9v10M200.9 885.7v10" stroke="#0000ff" stroke-width="1.5" fill="none"/>
<path d="M204.6 165.5v10M204.5 203.2v10M204.4 240.2v10M204.3 259.4v10M204.3 277.4v10M204.2 295.9v10M204.2 300.3v10M204.2 311.1v10M204.1 338.1v10M204.0 349.3v10M204.0 355.0v10M204.0 366.5v10M204.0 371.6v10M204.0 372.6v10M203.9 387.3v10M203.9 391.0v10M203.9 406.0v10M203.9 410.7v10M203.8 429.5v10M203.8 431.0v10M203.7 448.4v10M203.7 454.2v10M203.7 459.9v10M203.7 464.4v10M203.7 465.7v10M203.7 469.4v10M203.6 479.4v10M203.6 487.4v10M203.6 488.9v10M203.6 495.1v10M203.6 509.1v10M203.5 519.6v10M203.5 533.6v10M203.5 540.8v10M203.4 542.3v10M203.4 551.6v10M203.4 552.8v10M203.4 557.3v10M203.4 568.6v10M203.3 579.8v10M203.3 589.3v10M203.3 592.3v10M203.3 601.3v10M203.3 602.0v10M203.2 610.5v10M203.2 622.7v10M203.2 623.0v10M203.2 623.4v10M203.2 623.7v10M203.2 629.3v10M203.2 632.4v10M203.2 632.8v10M203.2 639.2v10M203.1 646.7v10M203.1 647.0v10M203.1 647.4v10M203.1 647.7v10M203.1 654.0v10M203.1 661.5v10M203.1 661.9v10M203.1 662.5v10M203.1 663.1v10M203.1 663.5v10M203.1 668.3v10M203.1 671.4v10M203.1 671.8v10M203.0 676.0v10M203.0 681.3v10M203.0 681.7v10M203.0 686.2v10M203.0 686.6v10M203.0 688.1v10M203.0 692.3v10M203.0 696.7v10M203.0 697.1v10M203.0 697.4v10M203.0 697.8v10M203.0 702.4v10M202.9 707.1v10M202.9 707.5v10M202.9 713.2v10M202.9 713.6v10M202.9 721.7v10M202.9 728.0v10M202.9 734.7v10M202.8 739.1v10M202.8 750.4v10M202.8 756.4v10M202.8 769.5v10M202.7 785.4v10M202.7 787.5v10M202.7 800.5v10M202.7 803.4v10M202.6 805.4v10M202.6 835.9v10M202.4 870.9v10M202.4 885.7v10" stroke="#00bfbf" stroke-width="1.5" fill="none"/>
<path d="M299.6 165.5v10M299.3 203.2v10M299.1 240.2v10M298.9 259.4v10M298.8 277.4v10M298.7 295.9v10M298.7 300.3v10M298.6 311.1v10M298.4 338.1v10M298.3 349.3v10M298.3 355.0v10M298.2 366.5v10M298.2 371.6v10M298.2 372.6v10M298.1 387.3v10M298.0 391.0v10M297.9 406.0v10M297.9 410.7v10M297.8 429.5v10M297.8 431.0v10M297.6 448.4v10M297.6 454.2v10M297.6 459.9v10M297.5 464.4v10M297.5 465.7v10M297.5 469.4v10M297.4 479.4v10M297.4 487.4v10M297.4 488.9v10M297.3 495.1v10M297.2 509.1v10M297.1 519.6v10M297.0 533.6v10M297.0 540.8v10M297.0 542.3v10M296.9 551.6v10M296.9 552.8v10M296.9 557.3v10M296.8 568.6v10M296.7 579.8v10M296.7 589.3v10M296.6 592.3v10M296.6 601.3v10M296.6 602.0v10M296.5 610.5v10M296.4 622.7v10M296.4 623.0v10M296.4 623.4v10M296.4 623.7v10M296.4 629.3v10M296.4 632.4v10M296.4 632.8v10M296.3 639.2v10M296.3 646.7v10M296.3 647.0v10M296.3 647.4v10M296.3 647.7v10M296.2 654.0v10M296.2 661.5v10M296.2 661.9v10M296.2 662.5v10M296.1 663.1v10M296.1 663.5v10M296.1 668.3v10M296.1 671.4v10M296.1 671.8v10M296.1 676.0v10M296.0 681.3v10M296.0 681.7v10M296.0 686.2v10M296.0 686.6v10M296.0 688.1v10M295.9 692.3v10M295.9 696.7v10M295.9 697.1v10M295.9 697.4v10M295.9 697.8v10M295.9 702.4v10M295.8 707.1v10M295.8 707.5v10M295.8 713.2v10M295.8 713.6v10M295.7 721.7v10M295.7 728.0v10M295.7 734.7v10M295.6 739.1v10M295.5 750.4v10M295.5 756.4v10M295.4 769.5v10M295.3 785.4v10M295.3 787.5v10M295.2 800.5v10M295.2 803.4v10M295.2 805.4v10M294.9 835.9v10M294.7 870.9v10M294.6 885.7v10" stroke="#008000" stroke-width="1.5" fill="none"/>
<path d="M464 165.5v10M464 203.2v10M464 240.2v10M464 259.4v10M464 277.4v10M464 295.9v10M464 300.3v10M464 311.1v10M464 338.1v10M464 349.3v10M464 355.0v10M464 366.5v10M464 371.6v10M464 372.6v10M464 387.3v10M464 391.0v10M464 406.0v10M464 410.7v10M464 429.5v10M464 431.0v10M464 448.4v10M464 454.2v10M464 459.9v10M464 464.4v10M464 465.7v10M464 469.4v10M464 479.4v10M464 487.4v10M464 488.9v10M464 495.1v10M464 509.1v10M464 519.6v10M464 533.6v10M464 540.8v10M464 542.3v10M464 551.6v10M464 552.8v10M464 557.3v10M464 568.6v10M464 579.8v10M464 589.3v10M464 592.3v10M464 601.3v10M464 602.0v10M464 610.5v10M464 622.7v10M464 623.0v10M464 623.4v10M464 623.7v10M464 629.3v10M464 632.4v10M464 632.8v10M464 639.2v10M464 646.7v10M464 647.0v10M464 647.4v10M464 647.7v10M464 654.0v10M464 661.5v10M464 661.9v10M464 662.5v10M464 663.1v10M464 663.5v10M464 668.3v10M464 671.4v10M464 671.8v10M464 676.0v10M464 681.3v10M464 681.7v10M464 686.2v10M464 686.6v10M464 688.1v10M464 692.3v10M464 696.7v10M464 697.1v10M464 697.4v10M464 697.8v10M464 702.4v10M464 707.1v10M464 707.5v10M464 713.2v10M464 713.6v10M464 721.7v10M464 728.0v10M464 734.7v10M464 739.1v10M464 750.4v10M464 756.4v10M464 769.5v10M464 785.4v10M464 787.5v10M464 800.5v10M464 803.4v10M464 805.4v10M464 835.9v10M464 870.9v10M464 885.7v10" stroke="#ff0000" stroke-width="1.5" fill="none"/>
</g>
<rect x="86.5" y="115.5" width="872" height="832" fill="none" stroke="#000" stroke-width="1"/>
<path d="M86.5 947.5v4M245.0 947.5v4M403.6 947.5v4M562.1 947.5v4M720.7 947.5v4M879.2 947.5v4M86.5 275.4h-4M86.5 457.1h-4M86.5 638.8h-4M86.5 820.5h-4" stroke="#000" stroke-width="1"/>
<g font-size="18.6">
<text x="80.6" y="970.6" font-size="18.6" textLength="11.9" lengthAdjust="spacingAndGlyphs">0</text>
<text x="221.2" y="970.6" font-size="18.6" textLength="47.6" lengthAdjust="spacingAndGlyphs">1000</text>
<text x="379.8" y="970.6" font-size="18.6" textLength="47.6" lengthAdjust="spacingAndGlyphs">2000</text>
<text x="538.3" y="970.6" font-size="18.6" textLength="47.6" lengthAdjust="spacingAndGlyphs">3000</text>
<text x="696.9" y="970.6" font-size="18.6" textLength="47.6" lengthAdjust="spacingAndGlyphs">4000</text>
<text x="855.4" y="970.6" font-size="18.6" textLength="47.6" lengthAdjust="spacingAndGlyphs">5000</text>
<text x="29.4" y="283.7" font-size="18.6" textLength="47.6" lengthAdjust="spacingAndGlyphs">9000</text>
<text x="29.4" y="465.4" font-size="18.6" textLength="47.6" lengthAdjust="spacingAndGlyphs">8900</text>
<text x="29.4" y="647.1" font-size="18.6" textLength="47.6" lengthAdjust="spacingAndGlyphs">8800</text>
<text x="29.4" y="828.8" font-size="18.6" textLength="47.6" lengthAdjust="spacingAndGlyphs">8700</text>
</g>
<text x="414.4" y="991.2" font-size="15.3" font-weight="bold" textLength="210.0" lengthAdjust="spacingAndGlyphs" stroke="#000" stroke-width="0.25">Time since origin (T0, s)</text>
<g transform="translate(19.0,532.0) rotate(-90)"><text x="-106.5" y="0.0" font-size="15.3" font-weight="bold" textLength="213.0" lengthAdjust="spacingAndGlyphs" stroke="#000" stroke-width="0.25">Epicentral distance (km)</text></g>
<g font-size="15">
<text x="959.1" y="171.4" textLength="52.6" lengthAdjust="spacingAndGlyphs">MN30A</text>
<text x="959.1" y="209.1" textLength="52.6" lengthAdjust="spacingAndGlyphs">MN29A</text>
<text x="959.1" y="246.1" textLength="47.6" lengthAdjust="spacingAndGlyphs">FR35A</text>
<text x="959.1" y="265.3" textLength="47.6" lengthAdjust="spacingAndGlyphs">FR34A</text>
<text x="959.1" y="283.3" textLength="52.6" lengthAdjust="spacingAndGlyphs">MN28A</text>
<text x="959.1" y="301.8" textLength="47.6" lengthAdjust="spacingAndGlyphs">FR31A</text>
<text x="959.1" y="306.2" textLength="47.6" lengthAdjust="spacingAndGlyphs">FR33A</text>
<text x="959.1" y="317.0" textLength="52.6" lengthAdjust="spacingAndGlyphs">MN27A</text>
<text x="959.1" y="339.4" textLength="47.6" lengthAdjust="spacingAndGlyphs">FR32A</text>
<text x="959.1" y="355.2" textLength="47.6" lengthAdjust="spacingAndGlyphs">FR29A</text>
<text x="959.1" y="360.9" textLength="52.6" lengthAdjust="spacingAndGlyphs">MN26A</text>
<text x="959.1" y="372.4" textLength="47.6" lengthAdjust="spacingAndGlyphs">FR30A</text>
<text x="959.1" y="377.5" textLength="52.6" lengthAdjust="spacingAndGlyphs">MN25A</text>
<text x="959.1" y="378.5" textLength="47.6" lengthAdjust="spacingAndGlyphs">FR28A</text>
<text x="959.1" y="393.2" textLength="47.6" lengthAdjust="spacingAndGlyphs">FR26A</text>
<text x="959.1" y="396.9" textLength="52.6" lengthAdjust="spacingAndGlyphs">MN24A</text>
<text x="959.1" y="411.9" textLength="52.9" lengthAdjust="spacingAndGlyphs">MD09A</text>
<text x="959.1" y="416.6" textLength="47.6" lengthAdjust="spacingAndGlyphs">FR27A</text>
<text x="959.1" y="435.4" textLength="52.6" lengthAdjust="spacingAndGlyphs">MN23A</text>
<text x="959.1" y="436.9" textLength="47.6" lengthAdjust="spacingAndGlyphs">FR22A</text>
<text x="959.1" y="454.3" textLength="52.6" lengthAdjust="spacingAndGlyphs">MN22A</text>
<text x="959.1" y="460.1" textLength="52.9" lengthAdjust="spacingAndGlyphs">MD08A</text>
<text x="959.1" y="465.8" textLength="47.6" lengthAdjust="spacingAndGlyphs">FR25A</text>
<text x="959.1" y="470.3" textLength="47.6" lengthAdjust="spacingAndGlyphs">FR23A</text>
<text x="959.1" y="471.6" textLength="47.6" lengthAdjust="spacingAndGlyphs">FR21A</text>
<text x="959.1" y="475.3" textLength="52.6" lengthAdjust="spacingAndGlyphs">MN21A</text>
<text x="959.1" y="485.3" textLength="52.9" lengthAdjust="spacingAndGlyphs">MD07A</text>
<text x="959.1" y="493.3" textLength="52.6" lengthAdjust="spacingAndGlyphs">MN20A</text>
<text x="959.1" y="494.8" textLength="47.6" lengthAdjust="spacingAndGlyphs">FR24A</text>
<text x="959.1" y="501.0" textLength="52.9" lengthAdjust="spacingAndGlyphs">MD06A</text>
<text x="959.1" y="515.0" textLength="52.6" lengthAdjust="spacingAndGlyphs">MN19A</text>
<text x="959.1" y="525.5" textLength="47.6" lengthAdjust="spacingAndGlyphs">FR18A</text>
<text x="959.1" y="539.5" textLength="52.6" lengthAdjust="spacingAndGlyphs">MN18A</text>
<text x="959.1" y="546.7" textLength="52.9" lengthAdjust="spacingAndGlyphs">MD05A</text>
<text x="959.1" y="548.2" textLength="47.6" lengthAdjust="spacingAndGlyphs">FR19A</text>
<text x="959.1" y="557.5" textLength="47.6" lengthAdjust="spacingAndGlyphs">FR20A</text>
<text x="959.1" y="558.7" textLength="47.6" lengthAdjust="spacingAndGlyphs">FR16A</text>
<text x="959.1" y="563.2" textLength="52.6" lengthAdjust="spacingAndGlyphs">MN17A</text>
<text x="959.1" y="574.5" textLength="47.6" lengthAdjust="spacingAndGlyphs">FR17A</text>
<text x="959.1" y="585.7" textLength="52.9" lengthAdjust="spacingAndGlyphs">MD04A</text>
<text x="959.1" y="595.2" textLength="52.6" lengthAdjust="spacingAndGlyphs">MN16A</text>
<text x="959.1" y="598.2" textLength="47.6" lengthAdjust="spacingAndGlyphs">FR15A</text>
<text x="959.1" y="607.2" textLength="52.9" lengthAdjust="spacingAndGlyphs">MD03A</text>
<text x="959.1" y="607.9" textLength="52.6" lengthAdjust="spacingAndGlyphs">MN14A</text>
<text x="959.1" y="616.4" textLength="50.9" lengthAdjust="spacingAndGlyphs">ME26A</text>
<text x="959.1" y="628.6" textLength="50.9" lengthAdjust="spacingAndGlyphs">ME25A</text>
<text x="959.1" y="629.8" textLength="52.6" lengthAdjust="spacingAndGlyphs">MN15A</text>
<text x="959.1" y="631.1" textLength="50.9" lengthAdjust="spacingAndGlyphs">ME24A</text>
<text x="959.1" y="632.3" textLength="47.6" lengthAdjust="spacingAndGlyphs">FR14A</text>
<text x="959.1" y="635.2" textLength="50.9" lengthAdjust="spacingAndGlyphs">ME23A</text>
<text x="959.1" y="638.3" textLength="52.9" lengthAdjust="spacingAndGlyphs">MD02A</text>
<text x="959.1" y="639.6" textLength="50.9" lengthAdjust="spacingAndGlyphs">ME22A</text>
<text x="959.1" y="645.1" textLength="50.9" lengthAdjust="spacingAndGlyphs">ME21A</text>
<text x="959.1" y="652.6" textLength="50.9" lengthAdjust="spacingAndGlyphs">ME20A</text>
<text x="959.1" y="653.8" textLength="52.6" lengthAdjust="spacingAndGlyphs">MN13A</text>
<text x="959.1" y="655.1" textLength="50.9" lengthAdjust="spacingAndGlyphs">ME19A</text>
<text x="959.1" y="656.3" textLength="47.6" lengthAdjust="spacingAndGlyphs">FR13A</text>
<text x="959.1" y="659.9" textLength="50.9" lengthAdjust="spacingAndGlyphs">ME18A</text>
<text x="959.1" y="667.4" textLength="50.9" lengthAdjust="spacingAndGlyphs">ME17A</text>
<text x="959.1" y="668.7" textLength="52.6" lengthAdjust="spacingAndGlyphs">MN12A</text>
<text x="959.1" y="668.4" textLength="50.9" lengthAdjust="spacingAndGlyphs">ME16A</text>
<text x="959.1" y="669.0" textLength="50.9" lengthAdjust="spacingAndGlyphs">ME15A</text>
<text x="959.1" y="670.3" textLength="52.9" lengthAdjust="spacingAndGlyphs">MD01A</text>
<text x="959.1" y="674.2" textLength="50.9" lengthAdjust="spacingAndGlyphs">ME14A</text>
<text x="959.1" y="677.3" textLength="50.9" lengthAdjust="spacingAndGlyphs">ME13A</text>
<text x="959.1" y="678.6" textLength="52.6" lengthAdjust="spacingAndGlyphs">MN11A</text>
<text x="959.1" y="681.9" textLength="50.9" lengthAdjust="spacingAndGlyphs">ME12A</text>
<text x="959.1" y="687.2" textLength="50.9" lengthAdjust="spacingAndGlyphs">ME11A</text>
<text x="959.1" y="688.5" textLength="52.6" lengthAdjust="spacingAndGlyphs">MN10A</text>
<text x="959.1" y="692.1" textLength="50.9" lengthAdjust="spacingAndGlyphs">ME10A</text>
<text x="959.1" y="693.4" textLength="47.6" lengthAdjust="spacingAndGlyphs">FR12A</text>
<text x="959.1" y="694.0" textLength="50.9" lengthAdjust="spacingAndGlyphs">ME09A</text>
<text x="959.1" y="698.2" textLength="50.9" lengthAdjust="spacingAndGlyphs">ME08A</text>
<text x="959.1" y="702.6" textLength="50.9" lengthAdjust="spacingAndGlyphs">ME07A</text>
<text x="959.1" y="703.9" textLength="52.6" lengthAdjust="spacingAndGlyphs">MN09A</text>
<text x="959.1" y="705.1" textLength="50.9" lengthAdjust="spacingAndGlyphs">ME27A</text>
<text x="959.1" y="706.4" textLength="52.6" lengthAdjust="spacingAndGlyphs">MN08A</text>
<text x="959.1" y="708.3" textLength="50.9" lengthAdjust="spacingAndGlyphs">ME06A</text>
<text x="959.1" y="713.0" textLength="50.9" lengthAdjust="spacingAndGlyphs">ME05A</text>
<text x="959.1" y="714.3" textLength="52.6" lengthAdjust="spacingAndGlyphs">MN07A</text>
<text x="959.1" y="719.1" textLength="50.9" lengthAdjust="spacingAndGlyphs">ME04A</text>
<text x="959.1" y="720.4" textLength="52.6" lengthAdjust="spacingAndGlyphs">MN06A</text>
<text x="959.1" y="727.6" textLength="50.9" lengthAdjust="spacingAndGlyphs">ME03A</text>
<text x="959.1" y="733.9" textLength="47.6" lengthAdjust="spacingAndGlyphs">FR08A</text>
<text x="959.1" y="740.6" textLength="52.6" lengthAdjust="spacingAndGlyphs">MN05A</text>
<text x="959.1" y="745.0" textLength="47.6" lengthAdjust="spacingAndGlyphs">FR11A</text>
<text x="959.1" y="756.3" textLength="52.6" lengthAdjust="spacingAndGlyphs">MN04A</text>
<text x="959.1" y="762.3" textLength="47.6" lengthAdjust="spacingAndGlyphs">FR09A</text>
<text x="959.1" y="775.4" textLength="47.6" lengthAdjust="spacingAndGlyphs">FR10A</text>
<text x="959.1" y="791.3" textLength="47.6" lengthAdjust="spacingAndGlyphs">FR06A</text>
<text x="959.1" y="793.4" textLength="52.6" lengthAdjust="spacingAndGlyphs">MN03A</text>
<text x="959.1" y="806.4" textLength="47.6" lengthAdjust="spacingAndGlyphs">FR07A</text>
<text x="959.1" y="809.3" textLength="47.6" lengthAdjust="spacingAndGlyphs">FR05A</text>
<text x="959.1" y="811.3" textLength="52.6" lengthAdjust="spacingAndGlyphs">MN02A</text>
<text x="959.1" y="841.8" textLength="47.6" lengthAdjust="spacingAndGlyphs">FR03A</text>
<text x="959.1" y="876.8" textLength="52.6" lengthAdjust="spacingAndGlyphs">MN01A</text>
<text x="959.1" y="891.6" textLength="47.6" lengthAdjust="spacingAndGlyphs">FR01A</text>
</g>
<rect x="683.5" y="124.5" width="271.2" height="86.9" rx="2.5" fill="#7f7f7f" fill-opacity="0.5"/>
<rect x="681.5" y="122.5" width="271.2" height="86.9" rx="2.5" fill="#fff" stroke="#ccc" stroke-width="1"/>
<g font-size="13.4">
<path d="M698.8 128.8v10.4" stroke="#0000ff" stroke-width="1.6"/>
<text x="723.3" y="138.4" font-size="13.4" textLength="52.1" lengthAdjust="spacingAndGlyphs">P Phase</text>
<path d="M698.8 149.6v10.4" stroke="#00bfbf" stroke-width="1.6"/>
<text x="723.3" y="159.2" font-size="13.4" textLength="67.5" lengthAdjust="spacingAndGlyphs">PcP Phase</text>
<path d="M698.8 170.0v10.4" stroke="#008000" stroke-width="1.6"/>
<text x="723.3" y="179.6" font-size="13.4" textLength="52.6" lengthAdjust="spacingAndGlyphs">S Phase</text>
<path d="M698.8 190.5v10.4" stroke="#ff0000" stroke-width="1.6"/>
<text x="723.3" y="200.1" font-size="13.4" textLength="223.0" lengthAdjust="spacingAndGlyphs">Rayleigh wavetrain at T0+ 2324s</text>
</g>
<defs><clipPath id="gc"><circle cx="1292.0" cy="246.0" r="131.0"/></clipPath><path id="gl" d="M1243.0 152.1L1247.5 153.6L1247.9 155.4L1249.5 157.3L1251.2 159.1L1249.8 160.9L1248.6 162.9L1247.7 164.8L1247.0 166.7L1246.4 168.7L1245.9 170.7L1245.5 172.8L1247.0 174.5L1248.7 176.2L1248.3 178.4L1249.0 179.9L1249.7 181.3L1249.1 183.6L1248.6 186.0L1249.4 187.6L1250.4 189.2L1251.8 190.4L1253.2 191.6L1254.4 193.0L1255.7 194.4L1258.7 195.6L1264.1 190.3L1263.0 195.0L1264.3 198.3L1267.6 197.5L1269.6 198.4L1267.4 203.5L1265.3 203.4L1263.2 203.3L1260.3 206.4L1256.2 205.9L1250.2 209.6L1246.7 213.3L1246.4 218.1L1248.3 219.9L1250.3 221.7L1252.3 225.8L1255.1 227.6L1253.5 232.1L1253.9 236.5L1256.0 236.8L1258.4 230.4L1262.9 227.2L1263.0 221.9L1265.0 218.3L1266.2 214.1L1270.0 215.6L1273.2 219.5L1272.6 224.0L1275.1 226.2L1278.8 222.2L1280.7 228.9L1282.7 233.7L1286.3 238.1L1287.9 242.0L1284.6 243.5L1281.5 245.7L1275.7 244.8L1271.1 245.8L1266.8 248.4L1264.0 250.3L1267.5 249.0L1272.5 246.8L1274.8 247.9L1273.3 250.9L1273.6 253.9L1278.2 255.7L1280.8 253.5L1278.9 256.7L1273.8 258.3L1270.3 259.6L1271.5 257.3L1273.3 255.9L1269.2 256.4L1264.0 257.8L1262.2 260.8L1263.1 262.2L1260.5 262.3L1256.0 262.9L1255.4 265.3L1252.2 267.8L1250.8 269.6L1250.5 273.0L1247.7 274.4L1243.7 275.6L1239.4 277.4L1237.6 281.9L1238.3 287.7L1237.3 291.1L1235.2 289.8L1234.2 284.3L1234.5 281.2L1232.7 278.6L1230.1 276.6L1225.2 274.0L1223.7 275.7L1220.7 273.3L1217.0 270.6L1211.4 270.5L1208.8 274.6L1206.4 279.8L1207.3 287.9L1209.2 291.4L1213.5 293.3L1217.0 291.4L1218.2 290.6L1223.5 292.9L1220.9 297.8L1218.0 301.3L1223.0 304.2L1227.5 307.7L1226.5 312.4L1225.9 315.3L1228.3 319.0L1232.9 321.1L1235.0 321.4L1238.3 324.2L1242.3 322.2L1244.9 321.7L1249.9 321.4L1250.7 324.1L1254.1 322.8L1258.2 326.2L1264.8 328.1L1271.4 328.2L1274.6 332.4L1281.3 336.7L1289.3 337.8L1295.0 339.9L1298.4 344.4L1298.4 346.7L1303.0 347.5L1310.9 349.3L1316.0 348.9L1321.0 348.3L1327.5 349.9L1331.8 350.8L1331.6 353.9L1325.8 358.5L1322.2 362.2L1320.7 365.1L1316.8 368.8L1310.4 370.5L1301.9 372.7L1300.2 374.3L1295.5 375.5L1290.7 376.3L1284.1 376.3L1283.5 376.7L1279.6 376.4L1275.7 376.0L1270.7 377.9L1271.9 378.1L1270.4 377.9L1269.0 377.6L1268.6 377.6L1264.9 376.8L1258.8 375.4L1258.2 375.3L1257.6 375.1L1256.7 374.9L1255.8 374.6L1255.9 371.9L1256.1 371.7L1256.4 371.3L1255.9 369.8L1255.8 368.6L1255.7 367.2L1255.2 365.5L1254.6 363.7L1248.6 360.5L1241.3 355.7L1237.2 350.9L1233.0 345.3L1229.9 341.6L1231.2 340.2L1232.2 339.2L1230.5 336.4L1232.1 334.9L1234.2 334.2L1236.3 333.5L1237.8 331.7L1237.6 327.5L1236.9 325.9L1236.2 324.1L1233.9 321.8L1231.7 322.4L1232.2 324.0L1229.7 322.2L1226.8 320.1L1225.6 318.3L1223.3 315.5L1221.9 313.2L1220.2 308.8L1218.8 307.3L1215.9 305.0L1212.5 302.1L1209.8 296.7L1207.5 294.5L1204.2 292.6L1200.3 287.6L1197.7 282.8L1195.5 278.5L1194.3 274.1L1195.4 272.1L1195.2 267.4L1194.3 261.2L1194.4 257.3L1193.7 253.6L1193.9 248.5L1194.6 244.9L1193.7 242.1L1192.1 245.5L1191.6 251.6L1191.4 256.4L1191.1 260.7L1191.3 264.1L1190.4 263.3L1189.9 257.8L1190.7 255.4L1189.9 250.9L1189.7 248.2L1191.1 248.1L1191.2 243.3L1192.5 238.0L1193.1 233.7L1192.1 230.1L1193.8 225.0L1194.9 222.3L1196.8 217.6L1197.4 216.1L1199.8 214.0L1201.0 212.1L1206.2 208.1L1209.3 204.2L1209.8 206.4L1208.7 208.2L1210.6 206.6L1211.5 204.6L1212.2 201.4L1212.5 197.7L1214.9 195.3L1217.4 190.8L1219.4 188.7L1222.5 184.2L1224.1 181.3L1224.6 179.2L1226.2 176.3L1226.5 173.4L1228.0 170.3L1227.2 168.4L1225.6 167.6L1225.9 166.0L1229.2 165.4L1229.4 166.6L1228.4 164.8L1226.3 164.5L1224.6 164.1L1222.8 162.4L1221.3 161.0L1221.2 158.8L1221.4 157.1L1221.6 155.9L1222.5 157.7L1222.2 159.5L1223.7 160.9L1225.8 161.3L1226.7 160.1L1227.4 158.5L1228.8 157.1L1230.1 157.0L1232.1 154.8L1233.7 154.1L1235.5 153.5L1236.9 154.3L1236.6 155.6L1236.7 157.1L1238.4 156.9L1239.1 155.5L1240.5 153.2ZM1210.0 205.7L1209.8 202.6L1211.5 197.4L1212.3 197.8L1211.7 201.5L1211.1 204.1ZM1282.0 251.7L1284.8 251.9L1287.3 253.7L1290.1 254.0L1291.7 254.2L1292.2 252.2L1290.9 250.1L1290.2 247.8L1288.0 247.1L1287.3 246.1L1288.2 243.0L1285.9 244.9L1284.3 248.0L1282.3 250.2ZM1227.2 293.9L1231.3 293.5L1235.1 294.9L1240.4 298.6L1243.9 302.1L1247.1 305.2L1240.5 303.6L1241.3 302.5L1239.1 299.8L1233.8 296.2L1230.1 294.6ZM1246.2 308.7L1249.5 306.5L1252.1 307.4L1255.5 308.4L1258.6 311.3L1255.2 311.1L1252.0 311.5L1250.0 310.0ZM1238.5 305.9L1242.3 307.9L1240.9 308.0L1238.6 306.5ZM1261.1 312.2L1264.2 313.0L1263.8 313.5L1261.0 313.0ZM1284.3 208.8L1281.7 212.2L1279.5 215.7L1278.0 218.2L1275.1 216.6L1272.4 214.9L1271.1 210.8L1268.0 209.7L1270.4 209.4L1272.8 209.0L1275.1 205.0L1274.6 202.6L1273.5 200.5L1272.6 198.4L1270.1 197.5L1268.1 196.5L1266.6 193.7L1269.8 188.7L1271.1 189.1L1272.5 189.4L1274.6 190.6L1276.0 192.1L1276.5 194.1L1278.3 196.8L1279.8 199.4L1280.2 202.2L1280.4 205.1L1282.0 206.5L1283.8 207.8ZM1251.1 183.1L1250.5 186.4L1251.7 187.7L1252.9 188.9L1254.7 190.2L1256.5 191.5L1258.9 190.0L1259.0 186.8L1261.4 184.3L1260.6 183.1L1259.8 181.9L1259.3 180.8L1258.9 179.6L1256.7 178.3L1254.0 179.6L1252.6 181.8ZM1253.4 175.7L1252.1 177.9L1253.5 178.8L1257.8 177.1L1259.9 177.4L1259.6 176.3L1259.4 175.1L1258.3 174.0L1255.5 175.0ZM1277.8 185.9L1279.7 185.1L1282.1 182.6L1283.5 181.9L1284.7 181.2L1286.6 179.6L1288.2 177.9L1289.3 176.0L1288.3 175.3L1287.3 174.5L1286.5 174.3L1285.6 174.1L1284.7 173.9L1283.5 174.1L1282.3 174.2L1281.0 174.3L1279.0 175.6L1279.1 176.8L1279.2 178.1L1278.7 180.1L1276.6 180.9L1276.3 183.7L1277.0 184.8ZM1276.6 188.9L1274.9 188.3L1273.2 187.6L1271.6 186.9L1270.0 186.1L1272.2 183.1L1273.9 183.6L1274.6 184.8L1275.4 186.0L1277.1 187.2ZM1261.9 176.3L1262.6 177.9L1263.5 179.5L1264.5 181.1L1266.8 179.6L1266.5 178.5L1266.3 177.4L1265.5 176.3L1264.7 175.2ZM1277.2 175.6L1278.0 176.2L1278.9 176.7L1279.8 177.2L1278.3 180.0L1276.8 180.0L1275.2 179.9L1275.5 177.5ZM1264.3 184.0L1265.4 184.9L1266.5 185.8L1263.8 188.7L1262.0 187.9L1262.3 185.5ZM1267.5 186.0L1268.7 186.8L1269.9 187.5L1268.6 189.8L1266.8 189.8L1265.1 189.7L1266.0 187.6ZM1260.0 206.9L1263.0 204.4L1264.4 204.6L1264.7 208.9L1265.4 210.4L1262.7 209.8L1260.3 209.6L1260.3 208.2ZM1282.7 183.4L1284.6 181.5L1286.3 179.5L1288.1 178.3L1289.7 177.1L1290.9 176.7L1292.1 176.4L1293.2 176.0L1294.2 175.5L1295.1 175.0L1295.8 174.5L1296.5 173.9L1297.2 173.3L1298.4 173.9L1299.6 174.3L1301.0 174.7L1305.0 178.0L1307.2 181.6L1309.2 185.3L1311.2 187.9L1311.6 191.3L1314.4 196.0L1312.7 199.1L1310.9 202.8L1309.0 205.0L1306.6 209.4L1304.3 211.7L1304.2 216.2L1303.1 222.7L1301.5 223.6L1297.3 221.5L1295.0 218.3L1292.8 212.8L1291.4 208.4L1293.4 202.9L1290.7 200.8L1290.5 196.5L1289.0 190.1L1287.0 188.5L1285.3 188.4L1283.7 188.3L1283.0 185.4ZM1317.8 206.7L1318.9 204.0L1322.2 202.8L1324.3 201.4L1326.7 202.8L1326.8 205.1L1325.1 208.5L1322.0 208.9L1320.7 208.8L1320.6 207.1L1318.8 207.7ZM1369.8 252.2L1368.0 251.5L1366.3 251.8L1364.5 253.6L1363.2 250.7L1362.0 250.7L1361.4 247.5L1360.0 244.2L1357.9 242.4L1358.7 239.9L1361.4 238.1L1363.7 236.4L1366.0 234.6L1365.1 231.8L1363.9 229.9L1363.1 228.9L1361.3 228.5L1360.4 228.2L1357.8 229.0L1356.6 228.2L1357.4 226.3L1359.1 225.4L1359.4 224.8L1358.0 223.0L1358.8 223.2L1359.9 221.9L1360.2 219.5L1359.2 218.1L1359.6 216.9L1360.1 215.4L1359.4 213.4L1358.6 211.7L1358.8 210.0L1359.3 208.9L1360.0 207.2L1358.1 205.3L1356.7 204.6L1354.4 202.4L1354.5 199.5L1356.5 201.4L1358.0 203.1L1359.0 204.4L1361.1 204.5L1361.3 202.5L1363.0 201.6L1363.2 198.6L1363.5 196.2L1364.8 195.5L1363.6 193.2L1360.5 191.1L1359.7 188.9L1361.0 187.7L1357.2 186.3L1357.0 184.7L1357.2 181.9L1357.2 179.8L1355.8 180.7L1355.6 184.0L1355.7 186.1L1353.5 186.4L1350.2 184.4L1347.9 182.2L1346.1 179.2L1344.6 178.9L1343.9 180.3L1346.3 182.2L1348.1 185.5L1349.8 188.2L1352.4 190.0L1354.6 189.6L1356.1 192.2L1358.7 195.2L1359.9 196.7L1360.4 199.3L1359.9 200.6L1358.3 199.7L1352.9 197.1L1351.8 197.1L1352.1 198.7L1352.4 200.9L1351.6 202.1L1349.7 201.9L1346.6 199.6L1344.0 197.3L1343.8 194.7L1343.3 192.7L1343.1 191.0L1341.9 188.6L1339.6 185.7L1337.3 183.0L1336.3 180.9L1335.0 178.3L1334.6 176.1L1333.6 173.5L1334.1 172.1L1335.9 170.9L1337.1 171.9L1338.0 170.3L1338.5 168.5L1341.4 166.7L1343.5 166.3L1344.8 167.5L1344.7 169.9L1343.5 172.0L1346.3 171.8L1348.5 172.4L1349.4 170.9L1348.4 169.9L1348.1 167.9L1346.3 168.0L1344.3 165.9L1344.3 164.4L1339.7 164.1L1340.0 162.4L1343.0 162.8L1341.0 161.4L1339.7 159.7L1338.2 158.1L1338.6 157.5L1337.7 155.9L1336.8 154.4L1333.7 153.7L1333.1 151.4L1333.1 149.9L1333.2 149.2L1332.0 150.3L1329.0 150.6L1324.7 150.7L1323.8 148.8L1326.8 147.9L1330.7 146.3L1334.9 146.3L1332.1 145.6L1329.1 145.7L1324.2 147.5L1323.1 146.5L1319.1 146.1L1321.2 144.9L1322.5 143.0L1320.0 143.9L1315.3 144.3L1313.9 145.2L1312.1 145.0L1310.3 144.9L1308.7 144.3L1307.1 143.9L1305.0 144.1L1303.0 144.5L1302.2 143.2L1301.2 142.4L1300.1 141.7L1300.6 138.6L1302.8 138.8L1301.1 138.0L1299.6 137.6L1298.1 137.1L1296.0 137.2L1294.1 137.4L1292.1 137.1L1290.4 135.9L1289.9 134.1L1287.8 134.8L1284.9 135.1L1283.3 136.6L1281.2 136.9L1279.2 137.3L1275.9 137.2L1273.7 137.1L1272.2 137.7L1270.8 138.4L1267.7 138.4L1265.9 138.7L1264.4 139.7L1262.9 140.7L1261.1 142.2L1259.6 143.2L1257.0 144.8L1254.4 146.0L1251.4 147.2L1247.8 149.2L1244.8 150.8L1242.8 149.3L1244.8 147.4L1247.6 145.8L1246.8 144.5L1248.3 143.0L1245.8 141.7L1246.4 139.9L1247.2 138.1L1247.5 136.6L1251.0 134.3L1255.0 133.7L1251.4 131.7L1250.2 130.3L1249.3 128.2L1251.0 125.9L1253.1 125.7L1256.4 126.6L1257.8 127.6L1257.0 129.4L1257.1 131.5L1260.9 130.7L1262.0 128.2L1266.2 126.7L1270.0 125.6L1273.8 124.5L1276.2 122.3L1278.4 120.3L1273.2 120.3L1272.6 118.8L1272.2 117.8L1275.4 116.7L1279.0 115.9L1283.1 115.5L1287.2 115.2L1292.4 112.4L1296.9 112.5L1301.5 112.7L1309.5 113.5L1318.2 115.0L1327.5 117.2L1335.0 119.5L1342.6 122.3L1350.3 125.8L1356.6 129.0L1362.5 132.5L1368.2 136.2L1375.4 141.6L1382.4 147.6L1389.1 154.2L1392.5 157.9L1395.4 161.4L1398.0 164.6L1398.1 169.2L1399.8 172.3L1400.9 174.9L1401.8 177.6L1402.5 181.2L1402.6 184.8L1403.4 187.8L1400.6 187.5L1397.2 187.2L1397.2 192.3L1397.2 197.5L1397.4 201.0L1397.3 204.0L1396.6 205.7L1395.7 208.9L1394.3 209.2L1392.7 208.6L1391.2 207.6L1390.2 206.1L1388.5 208.7L1388.9 210.7L1389.9 212.1L1392.5 212.6L1394.1 216.1L1392.7 217.4L1390.5 215.9L1388.3 215.5L1385.4 213.6L1383.5 213.3L1380.6 214.8L1377.2 214.0L1375.8 214.3L1375.6 216.3L1377.0 217.9L1379.1 217.7L1381.0 218.7L1382.9 217.2L1386.8 216.7L1385.5 218.1L1386.6 220.1L1387.6 220.3L1388.4 222.9L1388.0 223.6L1386.1 221.2L1384.6 221.1L1383.4 221.0L1380.7 222.0L1378.7 222.3L1376.7 221.5L1375.5 221.1L1374.3 221.7L1374.1 224.1L1374.0 226.7L1372.5 227.5L1371.5 228.4L1371.2 230.1L1372.3 231.4L1372.8 232.1L1372.5 234.0L1371.8 236.6L1372.2 240.1L1373.5 240.8L1373.8 243.8L1373.3 246.9L1370.4 249.8ZM1369.6 252.9L1373.8 250.6L1376.6 246.5L1378.8 241.2L1382.4 236.1L1384.7 231.9L1386.0 231.3L1387.3 234.3L1389.3 236.4L1389.1 237.6L1391.6 236.7L1394.4 233.3L1397.0 231.7L1399.5 229.9L1398.1 226.9L1398.9 221.6L1400.9 220.2L1403.1 215.2L1403.5 210.3L1403.8 207.3L1407.6 210.1L1411.0 212.5L1413.9 214.8L1416.4 217.2L1418.4 219.6L1418.4 215.3L1417.9 211.0L1417.0 206.8L1421.8 214.5L1423.7 223.1L1424.9 232.0L1425.5 240.0L1425.6 248.0L1425.2 256.0L1424.4 263.9L1423.1 271.9L1421.3 279.8L1419.0 287.6L1415.4 297.2L1411.2 306.3L1406.5 315.0L1401.1 323.1L1402.8 320.7L1404.3 318.4L1405.6 316.4L1406.7 314.6L1405.4 311.5L1407.5 307.3L1409.3 303.0L1409.8 300.3L1409.9 297.4L1408.8 296.3L1407.4 295.1L1407.7 291.4L1407.8 287.7L1404.9 290.3L1401.6 290.9L1397.1 296.5L1393.2 302.5L1389.4 305.2L1384.8 310.3L1381.4 311.0L1377.9 311.3L1374.9 310.2L1371.2 308.5L1367.4 307.7L1365.2 304.3L1366.5 301.0L1365.9 295.3L1363.5 292.3L1364.0 286.6L1365.0 280.4L1366.2 275.7L1369.5 269.2L1368.3 265.0L1368.5 260.4L1370.1 257.3ZM1353.6 225.8L1355.4 223.6L1356.8 221.2L1358.2 219.4L1358.6 217.7L1357.6 217.5L1356.8 215.1L1355.0 215.6L1353.9 214.8L1352.2 213.7L1350.6 213.6L1348.8 212.2L1348.0 213.0L1347.3 211.1L1346.7 209.5L1345.1 210.4L1344.1 208.5L1342.6 209.9L1343.5 212.4L1345.1 213.9L1346.8 215.5L1348.1 216.5L1349.4 215.4L1351.5 217.4L1350.5 219.0L1351.4 219.6L1352.2 220.5L1351.8 222.3L1353.8 221.4L1354.5 220.8L1353.7 222.7ZM1347.3 226.4L1349.3 224.8L1350.2 222.4L1349.1 220.1L1347.8 217.6L1346.1 217.0L1344.5 218.2L1344.1 221.4L1346.0 222.8L1346.2 225.4ZM1313.4 171.8L1313.3 170.9L1313.2 169.9L1313.5 168.8L1313.8 167.7L1313.9 166.6L1315.8 168.1L1317.5 169.8L1320.3 172.6L1318.1 172.9L1314.9 172.4ZM1333.3 158.8L1327.8 158.0L1324.1 156.8L1322.2 155.9L1320.4 155.1L1319.0 153.9L1317.5 152.8L1320.5 152.9L1322.4 153.8L1324.3 154.9L1329.1 155.9L1333.1 156.6L1333.2 157.9ZM1378.5 228.0L1379.6 226.3L1382.0 229.2L1381.3 231.0L1379.6 228.9ZM1376.9 225.2L1376.7 223.3L1379.0 225.8L1378.3 226.5ZM1385.8 227.7L1387.7 223.4L1389.3 226.4L1386.4 228.1ZM1305.3 147.6L1303.3 148.4L1301.4 149.3L1301.3 148.0L1301.0 146.7L1302.7 146.1L1304.4 145.5L1304.9 146.5ZM1286.4 140.1L1284.3 140.8L1282.3 141.6L1280.6 141.3L1278.9 141.1L1280.6 140.2L1282.5 139.4L1284.5 139.7ZM1258.7 146.4L1258.0 148.2L1256.8 148.2L1258.1 146.5ZM1272.5 121.2L1268.9 120.1L1267.8 119.3L1266.7 118.7L1269.0 118.2L1270.5 119.3L1271.5 120.1Z"/><clipPath id="glc"><use href="#gl"/></clipPath><filter id="gb" x="-50%" y="-50%" width="200%" height="200%"><feGaussianBlur stdDeviation="7"/></filter><filter id="gb2" x="-50%" y="-50%" width="200%" height="200%"><feGaussianBlur stdDeviation="3"/></filter><radialGradient id="gsh" cx="50%" cy="50%" r="50%"><stop offset="0.8" stop-color="#000" stop-opacity="0"/><stop offset="1" stop-color="#234" stop-opacity="0.13"/></radialGradient></defs>
<g clip-path="url(#gc)">
<circle cx="1292.0" cy="246.0" r="131.0" fill="#79AFD7"/>
<g filter="url(#gb)"><circle cx="1308" cy="295" r="34" fill="#649ECD" fill-opacity="0.75"/><circle cx="1322" cy="261" r="22" fill="#649ECD" fill-opacity="0.6"/><circle cx="1298" cy="327" r="20" fill="#68A1CF" fill-opacity="0.5"/><circle cx="1185" cy="202" r="30" fill="#649ECD" fill-opacity="0.7"/><circle cx="1363" cy="323" r="22" fill="#68A1CF" fill-opacity="0.5"/><circle cx="1269" cy="285" r="16" fill="#649ECD" fill-opacity="0.5"/><circle cx="1184" cy="285" r="22" fill="#68A1CF" fill-opacity="0.5"/><circle cx="1317" cy="183" r="14" fill="#6CA5D1" fill-opacity="0.4"/><circle cx="1208" cy="174" r="16" fill="#6CA5D1" fill-opacity="0.4"/></g>
<use href="#gl" fill="#CCDAB6"/>
<g clip-path="url(#glc)"><g filter="url(#gb)"><circle cx="1299" cy="195" r="29" fill="#F6F6F8" fill-opacity="1"/><circle cx="1304" cy="210" r="14" fill="#F6F6F8" fill-opacity="1"/><circle cx="1296" cy="185" r="21" fill="#F6F6F8" fill-opacity="1"/><circle cx="1253" cy="197" r="28" fill="#DADED2" fill-opacity="0.95"/><circle cx="1272" cy="198" r="25" fill="#DDE0D6" fill-opacity="0.95"/><circle cx="1235" cy="190" r="20" fill="#D2DAC4" fill-opacity="0.8"/><circle cx="1268" cy="230" r="18" fill="#D0D8C0" fill-opacity="0.8"/><circle cx="1233" cy="250" r="25" fill="#B9D2A4" fill-opacity="0.9"/><circle cx="1243" cy="271" r="17" fill="#B4CF9F" fill-opacity="0.9"/><circle cx="1213" cy="240" r="20" fill="#E4E6B6" fill-opacity="0.95"/><circle cx="1197" cy="245" r="13" fill="#EBE3BC" fill-opacity="0.9"/><circle cx="1205" cy="273" r="12" fill="#DDDDAE" fill-opacity="0.8"/><circle cx="1238" cy="226" r="21" fill="#C3D6AB" fill-opacity="0.8"/><circle cx="1214" cy="207" r="12" fill="#BFD3A8" fill-opacity="0.7"/><circle cx="1235" cy="165" r="16" fill="#D2D9C2" fill-opacity="0.8"/><circle cx="1276" cy="350" r="26" fill="#A9CE9A" fill-opacity="0.95"/><circle cx="1264" cy="337" r="13" fill="#B2D2A0" fill-opacity="0.8"/><circle cx="1298" cy="362" r="15" fill="#C9D9A6" fill-opacity="0.8"/><circle cx="1255" cy="361" r="9" fill="#DAD7B0" fill-opacity="0.8"/><circle cx="1219" cy="304" r="7" fill="#B2D2A0" fill-opacity="0.8"/><circle cx="1392" cy="259" r="32" fill="#F1E6CE" fill-opacity="1"/><circle cx="1378" cy="281" r="22" fill="#F3E8D2" fill-opacity="1"/><circle cx="1405" cy="238" r="21" fill="#F1E6CE" fill-opacity="1"/><circle cx="1395" cy="291" r="14" fill="#D9DDAE" fill-opacity="0.9"/><circle cx="1380" cy="308" r="9" fill="#B9D3A0" fill-opacity="0.8"/><circle cx="1413" cy="277" r="12" fill="#B7D2A0" fill-opacity="0.8"/><circle cx="1373" cy="257" r="9" fill="#DDDDB8" fill-opacity="0.8"/><circle cx="1370" cy="215" r="19" fill="#C2D6AC" fill-opacity="0.8"/><circle cx="1369" cy="242" r="9" fill="#DCDDB6" fill-opacity="0.85"/><circle cx="1367" cy="185" r="21" fill="#C3D6AE" fill-opacity="0.8"/><circle cx="1346" cy="179" r="16" fill="#CCD8BC" fill-opacity="0.8"/><circle cx="1395" cy="191" r="11" fill="#E2DEBE" fill-opacity="0.8"/><circle cx="1325" cy="136" r="28" fill="#CDD8C0" fill-opacity="0.9"/><circle cx="1289" cy="128" r="24" fill="#D2DAC6" fill-opacity="0.9"/><circle cx="1363" cy="147" r="20" fill="#DAD9B4" fill-opacity="0.8"/><circle cx="1311" cy="139" r="15" fill="#DADFD4" fill-opacity="0.9"/><circle cx="1263" cy="135" r="14" fill="#D6DCCC" fill-opacity="0.9"/></g></g>
<path d="M1389.3 203.0L1385.9 199.5L1383.1 195.2L1381.5 192.7L1382.8 190.9L1385.1 191.9L1384.1 187.4L1381.3 183.8L1383.8 184.1L1385.1 186.8L1388.3 183.9L1389.8 184.9L1390.9 190.0L1389.3 192.9L1389.7 197.4L1389.8 200.4ZM1382.5 174.3L1379.9 169.9L1378.3 166.2L1381.1 167.4L1382.7 170.2L1385.2 169.9L1388.3 170.5L1391.5 171.9L1393.9 176.6L1393.5 178.5L1389.3 175.3L1386.3 175.8Z" fill="#79AFD7" stroke="#757575" stroke-width="0.7"/>
<use href="#gl" fill="none" stroke="#757575" stroke-width="0.9" stroke-linejoin="round"/>
<path d="M1199.5 153.2L1200.4 152.4L1201.3 151.7L1202.2 150.9L1203.2 150.2L1204.1 149.5L1205.1 148.9L1206.2 148.3L1207.2 147.7L1208.3 147.2L1209.4 146.6L1210.5 146.1L1211.7 145.7L1212.9 145.2L1214.1 144.8L1215.3 144.5L1216.6 144.1L1217.8 143.8L1219.1 143.6L1220.4 143.3L1221.8 143.1L1223.2 142.9L1224.5 142.8L1225.9 142.6L1227.4 142.6L1228.8 142.5L1230.3 142.5L1231.8 142.5L1233.3 142.5L1234.8 142.6L1236.3 142.7L1237.9 142.9L1239.5 143.0L1241.0 143.2L1242.7 143.5L1244.3 143.7L1245.9 144.0L1247.6 144.3L1249.2 144.7L1250.9 145.1L1252.6 145.5L1254.3 146.0L1256.0 146.4L1257.7 146.9L1259.4 147.5L1261.2 148.1L1262.9 148.7L1264.7 149.3L1266.5 150.0L1268.2 150.6L1270.0 151.4L1271.8 152.1L1273.6 152.9L1275.4 153.7L1277.2 154.5L1279.0 155.4L1280.9 156.3L1282.7 157.2L1284.5 158.2L1286.3 159.1L1288.2 160.1L1290.0 161.2L1291.8 162.2M1176.9 308.5L1176.3 307.3L1175.7 306.1L1175.1 304.8L1174.6 303.6L1174.1 302.3L1173.7 301.0L1173.3 299.7L1172.9 298.4L1172.6 297.0L1172.3 295.7L1172.0 294.3L1171.8 292.9L1171.6 291.5L1171.5 290.1L1171.4 288.7L1171.3 287.2L1171.2 285.8L1171.2 284.3L1171.3 282.8L1171.4 281.4L1171.5 279.9L1171.6 278.3L1171.8 276.8L1172.0 275.3L1172.3 273.8L1172.6 272.2L1172.9 270.6L1173.3 269.1L1173.7 267.5L1174.1 265.9L1174.6 264.3L1175.1 262.8L1175.7 261.2L1176.3 259.6L1176.9 258.0L1177.5 256.4L1178.2 254.7L1179.0 253.1L1179.7 251.5L1180.5 249.9L1181.3 248.3L1182.2 246.7L1183.1 245.0L1184.0 243.4L1185.0 241.8L1186.0 240.2L1187.0 238.6L1188.1 237.0L1189.2 235.4L1190.3 233.7L1191.5 232.1L1192.7 230.5L1193.9 229.0L1195.1 227.4L1196.4 225.8L1197.7 224.2L1199.1 222.6L1200.4 221.1L1201.8 219.5L1203.2 218.0L1204.7 216.4L1206.2 214.9L1207.7 213.4L1209.2 211.9L1210.7 210.4L1212.3 208.9L1213.9 207.4L1215.6 205.9L1217.2 204.5L1218.9 203.1L1220.6 201.6L1222.3 200.2L1224.0 198.8L1225.8 197.4L1227.6 196.1L1229.4 194.7L1231.2 193.4L1233.0 192.0L1234.9 190.7L1236.8 189.5L1238.7 188.2L1240.6 186.9L1242.5 185.7L1244.4 184.5L1246.4 183.3L1248.3 182.1L1250.3 180.9L1252.3 179.8L1254.3 178.7L1256.3 177.6L1258.4 176.5L1260.4 175.5L1262.5 174.4L1264.5 173.4L1266.6 172.4L1268.6 171.5L1270.7 170.5L1272.8 169.6L1274.9 168.7L1277.0 167.8L1279.1 167.0L1281.2 166.1L1283.3 165.3L1285.4 164.6L1287.6 163.8L1289.7 163.1L1291.8 162.4M1279.2 376.4L1279.0 376.3L1278.8 376.2L1278.7 376.0L1278.5 375.8L1278.3 375.6L1278.2 375.3L1278.0 375.0L1277.9 374.7L1277.7 374.3L1277.6 373.9L1277.5 373.4L1277.3 372.9L1277.2 372.3L1277.1 371.8L1277.0 371.1L1276.8 370.5L1276.7 369.8L1276.6 369.0L1276.5 368.3L1276.4 367.4L1276.3 366.6L1276.3 365.7L1276.2 364.8L1276.1 363.8L1276.0 362.8L1276.0 361.8L1275.9 360.7L1275.9 359.6L1275.8 358.5L1275.8 357.3L1275.7 356.1L1275.7 354.9L1275.7 353.6L1275.6 352.3L1275.6 350.9L1275.6 349.6L1275.6 348.2L1275.6 346.7L1275.6 345.3L1275.6 343.8L1275.6 342.2L1275.6 340.7L1275.6 339.1L1275.7 337.5L1275.7 335.8L1275.7 334.2L1275.8 332.5L1275.8 330.7L1275.9 329.0L1275.9 327.2L1276.0 325.4L1276.0 323.6L1276.1 321.7L1276.2 319.9L1276.3 318.0L1276.3 316.1L1276.4 314.1L1276.5 312.2L1276.6 310.2L1276.7 308.2L1276.8 306.2L1277.0 304.1L1277.1 302.1L1277.2 300.0L1277.3 297.9L1277.5 295.8L1277.6 293.7L1277.7 291.5L1277.9 289.4L1278.0 287.2L1278.2 285.1L1278.3 282.9L1278.5 280.7L1278.7 278.5L1278.8 276.2L1279.0 274.0L1279.2 271.8L1279.4 269.5L1279.5 267.3L1279.7 265.0L1279.9 262.8L1280.1 260.5L1280.3 258.2L1280.5 255.9L1280.7 253.7L1281.0 251.4L1281.2 249.1L1281.4 246.8L1281.6 244.5L1281.8 242.2L1282.1 240.0L1282.3 237.7L1282.5 235.4L1282.8 233.1L1283.0 230.8L1283.2 228.6L1283.5 226.3L1283.7 224.1L1284.0 221.8L1284.2 219.6L1284.5 217.3L1284.7 215.1L1285.0 212.9L1285.3 210.7L1285.5 208.5L1285.8 206.3L1286.1 204.1L1286.3 202.0L1286.6 199.8L1286.9 197.7L1287.2 195.6L1287.4 193.5L1287.7 191.4L1288.0 189.3L1288.3 187.3L1288.5 185.2L1288.8 183.2L1289.1 181.2L1289.4 179.3L1289.7 177.3L1290.0 175.4L1290.2 173.5L1290.5 171.6L1290.8 169.7L1291.1 167.9L1291.4 166.1L1291.7 164.3L1292.0 162.5M1385.3 338.0L1386.1 337.1L1386.9 336.2L1387.6 335.3L1388.3 334.4L1389.0 333.5L1389.7 332.5L1390.3 331.5L1390.9 330.4L1391.5 329.4L1392.0 328.3L1392.5 327.2L1393.0 326.0L1393.4 324.9L1393.8 323.7L1394.2 322.5L1394.6 321.2L1394.9 320.0L1395.2 318.7L1395.4 317.4L1395.7 316.1L1395.9 314.7L1396.0 313.3L1396.1 312.0L1396.2 310.5L1396.3 309.1L1396.3 307.7L1396.3 306.2L1396.3 304.7L1396.2 303.2L1396.1 301.7L1396.0 300.2L1395.9 298.6L1395.7 297.0L1395.4 295.4L1395.2 293.8L1394.9 292.2L1394.6 290.6L1394.2 288.9L1393.8 287.3L1393.4 285.6L1393.0 283.9L1392.5 282.2L1392.0 280.5L1391.5 278.8L1390.9 277.1L1390.3 275.4L1389.7 273.6L1389.0 271.9L1388.3 270.1L1387.6 268.3L1386.9 266.6L1386.1 264.8L1385.3 263.0L1384.5 261.2L1383.6 259.4L1382.7 257.6L1381.8 255.8L1380.8 254.0L1379.9 252.2L1378.9 250.4L1377.8 248.5L1376.8 246.7L1375.7 244.9L1374.6 243.1L1373.5 241.3L1372.3 239.5L1371.1 237.7L1369.9 235.9L1368.7 234.1L1367.4 232.3L1366.2 230.5L1364.9 228.7L1363.6 226.9L1362.2 225.1L1360.8 223.3L1359.5 221.6L1358.1 219.8L1356.6 218.0L1355.2 216.3L1353.7 214.6L1352.2 212.8L1350.7 211.1L1349.2 209.4L1347.7 207.7L1346.1 206.1L1344.5 204.4L1343.0 202.7L1341.3 201.1L1339.7 199.5L1338.1 197.8L1336.4 196.3L1334.8 194.7L1333.1 193.1L1331.4 191.5L1329.7 190.0L1328.0 188.5L1326.3 187.0L1324.6 185.5L1322.8 184.0L1321.1 182.6L1319.3 181.2L1317.5 179.8L1315.8 178.4L1314.0 177.0L1312.2 175.7L1310.4 174.4L1308.6 173.1L1306.8 171.8L1305.0 170.5L1303.1 169.3L1301.3 168.1L1299.5 166.9L1297.7 165.8L1295.8 164.6L1294.0 163.5L1292.2 162.4M1406.5 182.3L1405.8 181.1L1405.0 180.0L1404.3 178.9L1403.5 177.8L1402.7 176.7L1401.8 175.6L1400.9 174.6L1400.0 173.6L1399.0 172.6L1398.0 171.6L1397.0 170.7L1395.9 169.8L1394.8 168.9L1393.7 168.0L1392.5 167.1L1391.3 166.3L1390.1 165.5L1388.9 164.7L1387.6 163.9L1386.3 163.2L1384.9 162.5L1383.6 161.8L1382.2 161.2L1380.8 160.6L1379.3 160.0L1377.8 159.4L1376.3 158.8L1374.8 158.3L1373.3 157.8L1371.7 157.3L1370.1 156.9L1368.4 156.5L1366.8 156.1L1365.1 155.8L1363.4 155.4L1361.7 155.1L1360.0 154.9L1358.2 154.6L1356.4 154.4L1354.6 154.2L1352.8 154.0L1351.0 153.9L1349.1 153.8L1347.2 153.7L1345.3 153.7L1343.4 153.7L1341.5 153.7L1339.6 153.7L1337.6 153.8L1335.7 153.9L1333.7 154.0L1331.7 154.1L1329.7 154.3L1327.7 154.5L1325.6 154.8L1323.6 155.0L1321.5 155.3L1319.5 155.6L1317.4 156.0L1315.4 156.3L1313.3 156.8L1311.2 157.2L1309.1 157.6L1307.0 158.1L1304.9 158.6L1302.8 159.2L1300.7 159.7L1298.6 160.3L1296.4 160.9L1294.3 161.6L1292.2 162.3M1304.6 115.6L1304.5 115.6L1304.3 115.7L1304.1 115.8L1303.9 115.9L1303.7 116.1L1303.5 116.3L1303.3 116.5L1303.0 116.8L1302.8 117.1L1302.6 117.5L1302.4 117.9L1302.2 118.4L1301.9 118.9L1301.7 119.4L1301.5 119.9L1301.2 120.6L1301.0 121.2L1300.8 121.9L1300.5 122.6L1300.3 123.4L1300.0 124.1L1299.8 125.0L1299.5 125.8L1299.3 126.8L1299.0 127.7L1298.7 128.7L1298.5 129.7L1298.2 130.7L1297.9 131.8L1297.7 133.0L1297.4 134.1L1297.1 135.3L1296.8 136.5L1296.6 137.8L1296.3 139.1L1296.0 140.4L1295.7 141.8L1295.5 143.1L1295.2 144.6L1294.9 146.0L1294.6 147.5L1294.3 149.0L1294.0 150.6L1293.8 152.1L1293.5 153.7L1293.2 155.4L1292.9 157.0L1292.6 158.7L1292.3 160.4L1292.0 162.1M1182.6 318.1L1184.1 320.2L1185.7 322.4L1187.4 324.5L1189.1 326.6L1190.9 328.7L1192.8 330.7L1194.7 332.7L1196.7 334.6L1198.8 336.5L1201.0 338.4L1203.2 340.2L1205.4 341.9L1207.7 343.7L1210.1 345.3L1212.5 347.0L1215.0 348.5L1217.6 350.1L1220.2 351.5L1222.8 353.0L1225.5 354.3L1228.2 355.6L1231.0 356.9L1233.8 358.1L1236.7 359.2L1239.6 360.3L1242.5 361.3L1245.5 362.3L1248.5 363.2L1251.5 364.1L1254.6 364.8L1257.7 365.6L1260.8 366.2L1263.9 366.8L1267.0 367.4L1270.2 367.8L1273.4 368.2L1276.6 368.6L1279.8 368.9L1283.0 369.1L1286.2 369.2L1289.4 369.3L1292.6 369.3L1295.9 369.3L1299.1 369.2L1302.3 369.0L1305.5 368.8L1308.7 368.5L1311.9 368.1L1315.1 367.7L1318.2 367.2L1321.4 366.6L1324.5 366.0L1327.6 365.3L1330.7 364.5L1333.7 363.7L1336.7 362.9L1339.7 361.9L1342.7 360.9L1345.6 359.9L1348.5 358.8L1351.3 357.6L1354.1 356.4L1356.9 355.1L1359.6 353.8L1362.3 352.4L1364.9 351.0L1367.4 349.5L1370.0 347.9L1372.4 346.3L1374.8 344.7L1377.2 343.0L1379.5 341.2L1381.7 339.5L1383.9 337.6L1386.0 335.8L1388.1 333.8L1390.1 331.9L1392.0 329.9L1393.8 327.9L1395.6 325.8L1397.3 323.7L1398.9 321.5L1400.5 319.4L1402.0 317.2M1161.0 246.5L1161.1 249.2L1161.2 251.8L1161.5 254.4L1161.8 257.1L1162.2 259.7L1162.7 262.3L1163.3 264.9L1164.0 267.5L1164.8 270.0L1165.6 272.6L1166.6 275.1L1167.6 277.6L1168.7 280.1L1169.9 282.6L1171.2 285.1L1172.6 287.5L1174.1 289.9L1175.6 292.2L1177.2 294.6L1178.9 296.9L1180.7 299.1L1182.5 301.3L1184.4 303.5L1186.4 305.7L1188.5 307.8L1190.6 309.8L1192.8 311.9L1195.1 313.8L1197.4 315.8L1199.9 317.6L1202.3 319.5L1204.9 321.3L1207.4 323.0L1210.1 324.7L1212.8 326.3L1215.6 327.9L1218.4 329.4L1221.2 330.8L1224.1 332.2L1227.1 333.6L1230.1 334.8L1233.1 336.0L1236.2 337.2L1239.3 338.3L1242.5 339.3L1245.7 340.3L1248.9 341.2L1252.2 342.0L1255.5 342.8L1258.8 343.5L1262.1 344.1L1265.4 344.7L1268.8 345.2L1272.2 345.6L1275.6 346.0L1279.0 346.3L1282.4 346.5L1285.8 346.7L1289.3 346.8L1292.7 346.8L1296.1 346.7L1299.5 346.6L1303.0 346.4L1306.4 346.2L1309.8 345.9L1313.2 345.5L1316.5 345.0L1319.9 344.5L1323.2 343.9L1326.6 343.2L1329.9 342.5L1333.1 341.7L1336.4 340.8L1339.6 339.9L1342.8 338.9L1345.9 337.9L1349.0 336.7L1352.1 335.6L1355.1 334.3L1358.1 333.0L1361.0 331.7L1363.9 330.2L1366.8 328.8L1369.6 327.2L1372.3 325.6L1375.0 324.0L1377.6 322.3L1380.2 320.5L1382.7 318.7L1385.1 316.9L1387.5 315.0L1389.8 313.0L1392.1 311.1L1394.2 309.0L1396.3 306.9L1398.4 304.8L1400.3 302.7L1402.2 300.5L1404.1 298.2L1405.8 295.9L1407.5 293.6L1409.0 291.3L1410.5 288.9L1412.0 286.5L1413.3 284.1L1414.5 281.6L1415.7 279.1L1416.8 276.6L1417.8 274.1L1418.7 271.6L1419.5 269.0L1420.3 266.4L1420.9 263.8L1421.5 261.2L1422.0 258.6L1422.4 256.0L1422.6 253.4L1422.9 250.7L1423.0 248.1M1180.6 177.1L1179.3 179.3L1178.0 181.6L1176.8 183.9L1175.7 186.2L1174.7 188.6L1173.8 191.0L1172.9 193.3L1172.2 195.8L1171.5 198.2L1170.8 200.6L1170.3 203.1L1169.9 205.5L1169.5 208.0L1169.2 210.4L1169.0 212.9L1168.9 215.4L1168.9 217.9L1169.0 220.4L1169.1 222.8L1169.3 225.3L1169.6 227.8L1170.0 230.2L1170.5 232.7L1171.1 235.1L1171.7 237.6L1172.5 240.0L1173.3 242.4L1174.2 244.8L1175.1 247.1L1176.2 249.5L1177.3 251.8L1178.5 254.1L1179.8 256.4L1181.2 258.6L1182.6 260.8L1184.1 263.0L1185.7 265.2L1187.4 267.3L1189.1 269.4L1190.9 271.4L1192.8 273.5L1194.7 275.4L1196.7 277.4L1198.8 279.3L1201.0 281.1L1203.2 282.9L1205.4 284.7L1207.7 286.4L1210.1 288.1L1212.5 289.7L1215.0 291.3L1217.6 292.8L1220.2 294.3L1222.8 295.7L1225.5 297.1L1228.2 298.4L1231.0 299.7L1233.8 300.9L1236.7 302.0L1239.6 303.1L1242.5 304.1L1245.5 305.1L1248.5 306.0L1251.5 306.8L1254.6 307.6L1257.7 308.3L1260.8 309.0L1263.9 309.6L1267.0 310.1L1270.2 310.6L1273.4 311.0L1276.6 311.3L1279.8 311.6L1283.0 311.8L1286.2 312.0L1289.4 312.1L1292.6 312.1L1295.9 312.0L1299.1 311.9L1302.3 311.8L1305.5 311.5L1308.7 311.2L1311.9 310.8L1315.1 310.4L1318.2 309.9L1321.4 309.4L1324.5 308.7L1327.6 308.1L1330.7 307.3L1333.7 306.5L1336.7 305.6L1339.7 304.7L1342.7 303.7L1345.6 302.7L1348.5 301.5L1351.3 300.4L1354.1 299.2L1356.9 297.9L1359.6 296.5L1362.3 295.2L1364.9 293.7L1367.4 292.2L1370.0 290.7L1372.4 289.1L1374.8 287.4L1377.2 285.7L1379.5 284.0L1381.7 282.2L1383.9 280.4L1386.0 278.5L1388.1 276.6L1390.1 274.6L1392.0 272.6L1393.8 270.6L1395.6 268.5L1397.3 266.4L1398.9 264.3L1400.5 262.1L1402.0 259.9L1403.4 257.7L1404.7 255.4L1406.0 253.2L1407.2 250.9L1408.3 248.5L1409.3 246.2L1410.2 243.8L1411.1 241.4L1411.8 239.0L1412.5 236.6L1413.2 234.2L1413.7 231.7L1414.1 229.3L1414.5 226.8L1414.8 224.3L1415.0 221.8L1415.1 219.4L1415.1 216.9L1415.0 214.4L1414.9 211.9L1414.7 209.5L1414.4 207.0L1414.0 204.5L1413.5 202.1L1412.9 199.6L1412.3 197.2L1411.5 194.8L1410.7 192.4L1409.8 190.0L1408.9 187.6L1407.8 185.3L1406.7 183.0L1405.5 180.7L1404.2 178.4L1402.8 176.2M1212.1 145.5L1210.5 147.2L1209.0 148.8L1207.6 150.5L1206.2 152.2L1204.8 154.0L1203.6 155.7L1202.3 157.5L1201.2 159.3L1200.1 161.2L1199.1 163.0L1198.1 164.9L1197.2 166.8L1196.4 168.7L1195.6 170.7L1194.9 172.6L1194.3 174.6L1193.7 176.6L1193.2 178.5L1192.8 180.5L1192.4 182.5L1192.1 184.5L1191.9 186.6L1191.8 188.6L1191.7 190.6L1191.6 192.6L1191.7 194.6L1191.8 196.7L1192.0 198.7L1192.3 200.7L1192.6 202.7L1193.0 204.7L1193.4 206.7L1194.0 208.7L1194.5 210.6L1195.2 212.6L1195.9 214.5L1196.7 216.5L1197.6 218.4L1198.5 220.3L1199.5 222.1L1200.5 224.0L1201.7 225.8L1202.8 227.6L1204.1 229.4L1205.4 231.2L1206.7 232.9L1208.1 234.6L1209.6 236.3L1211.1 237.9L1212.7 239.5L1214.3 241.1L1216.0 242.7L1217.8 244.2L1219.6 245.7L1221.4 247.1L1223.3 248.5L1225.2 249.9L1227.2 251.2L1229.3 252.5L1231.3 253.7L1233.4 254.9L1235.6 256.1L1237.8 257.2L1240.0 258.3L1242.3 259.3L1244.6 260.3L1246.9 261.2L1249.3 262.1L1251.7 262.9L1254.1 263.7L1256.5 264.4L1259.0 265.1L1261.5 265.8L1264.0 266.4L1266.5 266.9L1269.1 267.4L1271.6 267.8L1274.2 268.2L1276.8 268.5L1279.4 268.8L1282.0 269.0L1284.7 269.2L1287.3 269.3L1289.9 269.4L1292.5 269.4L1295.2 269.4L1297.8 269.3L1300.4 269.2L1303.0 269.0L1305.6 268.7L1308.2 268.4L1310.8 268.1L1313.4 267.7L1315.9 267.2L1318.5 266.7L1321.0 266.1L1323.5 265.5L1326.0 264.9L1328.5 264.1L1330.9 263.4L1333.3 262.6L1335.7 261.7L1338.0 260.8L1340.3 259.9L1342.6 258.9L1344.9 257.8L1347.1 256.7L1349.3 255.6L1351.4 254.4L1353.5 253.2L1355.6 252.0L1357.6 250.7L1359.5 249.3L1361.5 247.9L1363.3 246.5L1365.2 245.1L1366.9 243.6L1368.6 242.0L1370.3 240.5L1371.9 238.9L1373.5 237.3L1375.0 235.6L1376.4 233.9L1377.8 232.2L1379.2 230.5L1380.4 228.7L1381.7 226.9L1382.8 225.1L1383.9 223.2L1384.9 221.4L1385.9 219.5L1386.8 217.6L1387.6 215.7L1388.4 213.8L1389.1 211.8L1389.7 209.8L1390.3 207.9L1390.8 205.9L1391.2 203.9L1391.6 201.9L1391.9 199.9L1392.1 197.9L1392.2 195.8L1392.3 193.8L1392.4 191.8L1392.3 189.8L1392.2 187.8L1392.0 185.8L1391.7 183.7L1391.4 181.7L1391.0 179.7L1390.6 177.7L1390.0 175.8L1389.5 173.8L1388.8 171.8L1388.1 169.9L1387.3 168.0L1386.4 166.1L1385.5 164.2L1384.5 162.3L1383.5 160.4L1382.3 158.6L1381.2 156.8L1379.9 155.0L1378.6 153.3L1377.3 151.5L1375.9 149.8L1374.4 148.1L1372.9 146.5L1371.3 144.9L1369.7 143.3L1368.0 141.8L1366.2 140.2L1364.4 138.8L1362.6 137.3L1360.7 135.9L1358.8 134.6L1356.8 133.2L1354.7 132.0L1352.7 130.7L1350.6 129.5L1348.4 128.4L1346.2 127.2L1344.0 126.2L1341.7 125.1L1339.4 124.2L1337.1 123.2L1334.7 122.4L1332.3 121.5L1329.9 120.7L1327.5 120.0L1325.0 119.3L1322.5 118.7L1320.0 118.1L1317.5 117.5L1314.9 117.0L1312.4 116.6L1309.8 116.2L1307.2 115.9L1304.6 115.6L1302.0 115.4L1299.3 115.2L1296.7 115.1L1294.1 115.0L1291.5 115.0L1288.8 115.0L1286.2 115.1L1283.6 115.3L1281.0 115.5L1278.4 115.7L1275.8 116.0L1273.2 116.4L1270.6 116.8L1268.1 117.2L1265.5 117.7L1263.0 118.3L1260.5 118.9L1258.0 119.6L1255.5 120.3L1253.1 121.0L1250.7 121.8L1248.3 122.7L1246.0 123.6L1243.7 124.6L1241.4 125.5L1239.1 126.6L1236.9 127.7L1234.7 128.8L1232.6 130.0L1230.5 131.2L1228.4 132.5L1226.4 133.8L1224.5 135.1L1222.5 136.5L1220.7 137.9L1218.8 139.4L1217.1 140.8L1215.4 142.4L1213.7 143.9L1212.1 145.5M1239.8 143.1L1238.8 144.1L1237.8 145.2L1236.9 146.3L1236.0 147.4L1235.1 148.6L1234.3 149.7L1233.5 150.9L1232.7 152.1L1232.0 153.3L1231.4 154.5L1230.7 155.7L1230.1 157.0L1229.6 158.2L1229.1 159.5L1228.6 160.7L1228.2 162.0L1227.9 163.3L1227.5 164.6L1227.3 165.9L1227.0 167.2L1226.8 168.5L1226.7 169.8L1226.6 171.2L1226.5 172.5L1226.5 173.8L1226.5 175.1L1226.6 176.4L1226.7 177.7L1226.9 179.1L1227.1 180.4L1227.4 181.7L1227.7 183.0L1228.0 184.3L1228.4 185.6L1228.8 186.8L1229.3 188.1L1229.8 189.4L1230.4 190.6L1231.0 191.8L1231.6 193.1L1232.3 194.3L1233.0 195.5L1233.8 196.6L1234.6 197.8L1235.4 199.0L1236.3 200.1L1237.3 201.2L1238.2 202.3L1239.2 203.4L1240.2 204.4L1241.3 205.5L1242.4 206.5L1243.6 207.4L1244.7 208.4L1245.9 209.4L1247.2 210.3L1248.4 211.2L1249.7 212.0L1251.0 212.9L1252.4 213.7L1253.8 214.5L1255.2 215.2L1256.6 215.9L1258.1 216.6L1259.5 217.3L1261.0 217.9L1262.6 218.6L1264.1 219.1L1265.7 219.7L1267.3 220.2L1268.8 220.7L1270.5 221.1L1272.1 221.5L1273.7 221.9L1275.4 222.3L1277.0 222.6L1278.7 222.9L1280.4 223.1L1282.1 223.3L1283.8 223.5L1285.5 223.7L1287.2 223.8L1288.9 223.9L1290.6 223.9L1292.3 223.9L1294.1 223.9L1295.8 223.8L1297.5 223.8L1299.2 223.6L1300.9 223.5L1302.6 223.3L1304.3 223.0L1306.0 222.8L1307.6 222.5L1309.3 222.1L1310.9 221.8L1312.6 221.4L1314.2 220.9L1315.8 220.5L1317.4 220.0L1319.0 219.5L1320.5 218.9L1322.0 218.3L1323.6 217.7L1325.0 217.0L1326.5 216.4L1328.0 215.7L1329.4 214.9L1330.8 214.1L1332.1 213.4L1333.5 212.5L1334.8 211.7L1336.1 210.8L1337.3 209.9L1338.6 209.0L1339.7 208.0L1340.9 207.1L1342.0 206.1L1343.1 205.0L1344.2 204.0L1345.2 202.9L1346.2 201.9L1347.1 200.8L1348.0 199.6L1348.9 198.5L1349.7 197.3L1350.5 196.2L1351.3 195.0L1352.0 193.8L1352.6 192.6L1353.3 191.3L1353.9 190.1L1354.4 188.9L1354.9 187.6L1355.4 186.3L1355.8 185.0L1356.1 183.8L1356.5 182.5L1356.7 181.2L1357.0 179.8L1357.2 178.5L1357.3 177.2L1357.4 175.9L1357.5 174.6L1357.5 173.3L1357.5 171.9L1357.4 170.6L1357.3 169.3L1357.1 168.0L1356.9 166.7L1356.6 165.4L1356.3 164.1L1356.0 162.8L1355.6 161.5L1355.2 160.2L1354.7 159.0L1354.2 157.7L1353.6 156.5L1353.0 155.2L1352.4 154.0L1351.7 152.8L1351.0 151.6L1350.2 150.4L1349.4 149.3L1348.6 148.1L1347.7 147.0L1346.7 145.9L1345.8 144.8L1344.8 143.7L1343.8 142.6L1342.7 141.6L1341.6 140.6L1340.4 139.6L1339.3 138.7L1338.1 137.7L1336.8 136.8L1335.6 135.9L1334.3 135.0L1333.0 134.2L1331.6 133.4L1330.2 132.6L1328.8 131.9L1327.4 131.1L1325.9 130.4L1324.5 129.8L1323.0 129.1L1321.4 128.5L1319.9 127.9L1318.3 127.4L1316.7 126.9L1315.2 126.4L1313.5 125.9L1311.9 125.5L1310.3 125.1L1308.6 124.8L1307.0 124.5L1305.3 124.2L1303.6 123.9L1301.9 123.7L1300.2 123.5L1298.5 123.4L1296.8 123.3L1295.1 123.2L1293.4 123.1L1291.7 123.1L1289.9 123.2L1288.2 123.2L1286.5 123.3L1284.8 123.4L1283.1 123.6L1281.4 123.8L1279.7 124.0L1278.0 124.3L1276.4 124.6L1274.7 124.9L1273.1 125.3L1271.4 125.7L1269.8 126.1L1268.2 126.6L1266.6 127.1L1265.0 127.6L1263.5 128.2L1262.0 128.7L1260.4 129.4L1259.0 130.0L1257.5 130.7L1256.0 131.4L1254.6 132.1L1253.2 132.9L1251.9 133.7L1250.5 134.5L1249.2 135.4L1247.9 136.3L1246.7 137.2L1245.4 138.1L1244.3 139.0L1243.1 140.0L1242.0 141.0L1240.9 142.0L1239.8 143.1M1273.9 153.0L1273.5 153.4L1273.2 153.8L1272.9 154.1L1272.5 154.5L1272.2 154.9L1272.0 155.3L1271.7 155.7L1271.4 156.1L1271.2 156.6L1270.9 157.0L1270.7 157.4L1270.5 157.8L1270.3 158.3L1270.2 158.7L1270.0 159.2L1269.9 159.6L1269.7 160.0L1269.6 160.5L1269.5 160.9L1269.4 161.4L1269.4 161.9L1269.3 162.3L1269.3 162.8L1269.3 163.2L1269.3 163.7L1269.3 164.1L1269.3 164.6L1269.3 165.1L1269.4 165.5L1269.5 166.0L1269.6 166.4L1269.7 166.9L1269.8 167.3L1269.9 167.8L1270.1 168.2L1270.2 168.7L1270.4 169.1L1270.6 169.5L1270.8 170.0L1271.0 170.4L1271.3 170.8L1271.5 171.2L1271.8 171.6L1272.1 172.0L1272.4 172.4L1272.7 172.8L1273.0 173.2L1273.3 173.6L1273.7 174.0L1274.0 174.3L1274.4 174.7L1274.8 175.0L1275.2 175.4L1275.6 175.7L1276.0 176.0L1276.4 176.4L1276.9 176.7L1277.3 177.0L1277.8 177.3L1278.2 177.5L1278.7 177.8L1279.2 178.1L1279.7 178.3L1280.2 178.6L1280.7 178.8L1281.3 179.0L1281.8 179.2L1282.3 179.4L1282.9 179.6L1283.4 179.8L1284.0 180.0L1284.5 180.1L1285.1 180.3L1285.7 180.4L1286.2 180.5L1286.8 180.6L1287.4 180.7L1288.0 180.8L1288.6 180.9L1289.1 181.0L1289.7 181.0L1290.3 181.0L1290.9 181.1L1291.5 181.1L1292.1 181.1L1292.7 181.1L1293.3 181.1L1293.9 181.0L1294.5 181.0L1295.1 180.9L1295.7 180.9L1296.3 180.8L1296.8 180.7L1297.4 180.6L1298.0 180.5L1298.6 180.3L1299.1 180.2L1299.7 180.1L1300.3 179.9L1300.8 179.7L1301.4 179.5L1301.9 179.4L1302.4 179.1L1303.0 178.9L1303.5 178.7L1304.0 178.5L1304.5 178.2L1305.0 178.0L1305.5 177.7L1305.9 177.4L1306.4 177.1L1306.9 176.8L1307.3 176.5L1307.7 176.2L1308.2 175.9L1308.6 175.6L1309.0 175.2L1309.4 174.9L1309.8 174.5L1310.1 174.2L1310.5 173.8L1310.8 173.4L1311.1 173.0L1311.5 172.7L1311.8 172.3L1312.0 171.9L1312.3 171.5L1312.6 171.0L1312.8 170.6L1313.1 170.2L1313.3 169.8L1313.5 169.3L1313.7 168.9L1313.8 168.5L1314.0 168.0L1314.1 167.6L1314.3 167.1L1314.4 166.7L1314.5 166.2L1314.6 165.8L1314.6 165.3L1314.7 164.9L1314.7 164.4L1314.7 164.0L1314.7 163.5L1314.7 163.0L1314.7 162.6L1314.7 162.1L1314.6 161.7L1314.5 161.2L1314.4 160.8L1314.3 160.3L1314.2 159.9L1314.1 159.4L1313.9 159.0L1313.8 158.5L1313.6 158.1L1313.4 157.7L1313.2 157.2L1313.0 156.8L1312.7 156.4L1312.5 156.0L1312.2 155.6L1311.9 155.2L1311.6 154.8L1311.3 154.4L1311.0 154.0L1310.7 153.6L1310.3 153.2L1310.0 152.9L1309.6 152.5L1309.2 152.2L1308.8 151.8L1308.4 151.5L1308.0 151.2L1307.6 150.8L1307.1 150.5L1306.7 150.2L1306.2 149.9L1305.8 149.7L1305.3 149.4L1304.8 149.1L1304.3 148.9L1303.8 148.6L1303.3 148.4L1302.7 148.2L1302.2 148.0L1301.7 147.8L1301.1 147.6L1300.6 147.4L1300.0 147.2L1299.5 147.1L1298.9 146.9L1298.3 146.8L1297.8 146.7L1297.2 146.6L1296.6 146.5L1296.0 146.4L1295.4 146.3L1294.9 146.2L1294.3 146.2L1293.7 146.1L1293.1 146.1L1292.5 146.1L1291.9 146.1L1291.3 146.1L1290.7 146.1L1290.1 146.2L1289.5 146.2L1288.9 146.3L1288.3 146.3L1287.7 146.4L1287.2 146.5L1286.6 146.6L1286.0 146.7L1285.4 146.8L1284.9 147.0L1284.3 147.1L1283.7 147.3L1283.2 147.5L1282.6 147.6L1282.1 147.8L1281.6 148.0L1281.0 148.3L1280.5 148.5L1280.0 148.7L1279.5 149.0L1279.0 149.2L1278.5 149.5L1278.1 149.8L1277.6 150.0L1277.1 150.3L1276.7 150.6L1276.3 151.0L1275.8 151.3L1275.4 151.6L1275.0 151.9L1274.6 152.3L1274.2 152.6L1273.9 153.0" fill="none" stroke="#808080" stroke-width="1"/>
<circle cx="1292.0" cy="246.0" r="131.0" fill="url(#gsh)"/>
</g>
<circle cx="1292.0" cy="246.0" r="131.0" fill="none" stroke="#000" stroke-width="1"/>
<path d="M1219.6 160.1L1222.8 160.0L1226.1 160.1L1229.5 160.2L1233.0 160.5L1236.5 160.8L1240.1 161.3L1243.8 161.8L1247.5 162.5L1251.3 163.3L1255.2 164.1L1259.0 165.1L1263.0 166.2L1266.9 167.3L1270.9 168.6L1274.9 169.9L1278.9 171.4L1283.0 172.9L1287.0 174.5L1291.1 176.2L1295.2 178.0L1299.2 179.9L1303.3 181.9L1307.3 183.9L1311.3 186.0L1315.3 188.2L1319.3 190.4L1323.2 192.8L1327.1 195.2L1331.0 197.6L1334.8 200.1L1338.5 202.7L1342.2 205.3L1345.8 208.0L1349.4 210.7L1352.9 213.4L1356.3 216.2L1359.7 219.0L1363.0 221.9L1366.1 224.8" fill="none" stroke="#ff0000" stroke-width="1.6"/>
<circle cx="1367.4" cy="225.2" r="4.6" fill="#0000ff"/>
<polygon points="1220.4,153.1 1221.9,157.4 1226.4,157.5 1222.8,160.2 1224.1,164.5 1220.4,161.9 1216.7,164.5 1218.0,160.2 1214.4,157.5 1218.9,157.4" fill="#ffff00" stroke="#ff0000" stroke-width="1.1" stroke-linejoin="miter" stroke-miterlimit="10"/>
<g transform="translate(1216.8,171.6)"><circle r="10.0" fill="#EAEFF7"/><path d="M-9.97 0.8 A10 10 0 0 1 -0.4 -9.99 C2.6 -8.8 5.6 -5.4 5.8 1.2 Q0 2.7 -9.97 0.8Z" fill="#2020ff"/><path d="M5.8 1.2 L10 0 A10 10 0 0 1 5.2 8.54 Q6.2 5 5.8 1.2Z" fill="#2020ff"/><path d="M-9.97 0.8 Q0 2.7 5.8 1.2 L10 0 M-0.4 -9.99 C2.6 -8.8 5.6 -5.4 5.8 1.2 Q6.2 5 5.2 8.54" fill="none" stroke="#000" stroke-width="0.8"/><circle r="10.0" fill="none" stroke="#000" stroke-width="1.3"/></g>
<defs><clipPath id="mc"><rect x="1065.5" y="543.5" width="396.0" height="404.0"/></clipPath><path id="ml" d="M1355.2 518.6L1353.7 528.1L1350.7 547.1L1345.6 556.4L1342.0 560.1L1338.2 564.5L1335.8 565.6L1334.5 569.3L1331.9 573.0L1328.3 574.8L1322.0 580.2L1324.2 584.1L1332.5 586.4L1339.6 587.9L1330.0 588.2L1322.9 586.0L1319.3 586.9L1315.6 588.3L1308.7 591.7L1303.2 594.8L1295.3 597.8L1288.4 599.3L1282.3 600.0L1278.6 601.3L1275.5 603.3L1275.6 608.7L1274.3 616.6L1273.5 621.2L1272.4 626.0L1275.6 629.0L1272.4 629.9L1270.2 632.4L1268.1 633.8L1260.6 638.2L1251.1 639.7L1242.6 643.1L1238.3 644.7L1234.4 651.6L1238.6 654.3L1243.6 655.1L1238.0 655.8L1234.1 657.3L1229.4 659.6L1225.6 660.0L1220.8 657.2L1213.4 656.1L1207.4 653.9L1204.0 655.5L1203.1 652.3L1201.5 646.0L1202.2 641.5L1197.6 641.0L1193.2 642.4L1187.8 639.1L1185.6 638.8L1186.6 645.5L1187.6 652.1L1191.8 658.7L1191.6 667.2L1190.2 673.1L1191.8 676.8L1193.9 681.2L1183.0 680.4L1183.3 678.1L1178.8 679.1L1175.4 679.9L1171.5 677.1L1166.6 679.6L1161.2 681.9L1158.5 678.5L1156.0 672.4L1154.5 670.3L1152.9 667.4L1143.9 667.8L1140.4 669.2L1139.4 673.3L1133.8 671.3L1130.4 669.7L1124.2 671.9L1115.4 671.4L1109.1 675.4L1108.0 681.1L1112.4 682.5L1116.5 681.2L1119.8 684.7L1115.9 685.3L1111.6 684.3L1112.8 688.3L1119.2 688.5L1118.7 692.3L1112.1 693.2L1107.5 692.9L1113.0 696.1L1115.3 703.4L1121.0 703.0L1126.3 702.3L1133.4 707.1L1140.2 710.0L1144.2 713.2L1145.5 717.2L1145.4 719.9L1146.9 716.3L1150.2 717.1L1155.5 716.6L1152.4 720.1L1158.9 720.1L1161.2 723.1L1159.5 726.0L1159.8 729.5L1164.1 731.1L1168.0 730.8L1173.3 730.3L1178.0 734.7L1171.8 732.1L1168.6 732.8L1166.9 736.1L1171.0 738.5L1171.7 743.6L1167.6 745.0L1167.8 748.1L1171.9 753.2L1174.9 761.2L1179.7 765.6L1183.4 768.3L1189.8 770.6L1192.3 771.6L1188.7 775.4L1191.2 782.2L1191.6 786.1L1189.1 789.7L1186.5 793.2L1191.0 796.8L1195.8 801.9L1197.7 809.8L1199.6 817.6L1201.9 821.7L1197.9 815.5L1196.6 807.7L1191.8 801.5L1190.5 798.7L1187.6 803.0L1186.1 812.4L1184.5 819.9L1182.3 827.3L1181.4 833.0L1184.8 829.5L1188.1 831.8L1185.6 834.2L1182.8 835.0L1181.1 838.7L1178.5 849.9L1175.8 861.1L1172.1 870.3L1169.6 874.7L1168.0 876.4L1164.9 879.5L1161.5 879.9L1157.5 880.9L1155.5 881.1L1149.9 881.2L1144.5 879.8L1140.6 877.0L1135.4 874.0L1129.8 874.1L1127.2 876.4L1122.8 873.9L1116.3 870.7L1112.3 868.6L1107.2 869.1L1099.7 869.2L1089.8 869.3L1080.4 867.1L1071.1 863.3L1066.1 859.8L1056.0 857.8L1051.7 853.2L1044.4 855.1L1033.3 854.3L1025.5 851.5L1025.5 842.6L1025.5 839.7L1025.5 840.2L1025.5 840.4L1025.5 877.7L1025.5 915.0L1025.5 952.3L1025.5 987.5L1035.8 987.5L1065.1 987.5L1094.4 987.5L1123.7 987.5L1153.1 987.5L1182.5 987.5L1212.0 987.5L1241.5 987.5L1249.8 987.5L1257.9 969.6L1265.9 965.9L1274.3 960.4L1284.7 955.2L1292.1 951.1L1296.5 947.5L1297.2 945.6L1296.9 941.0L1294.7 938.6L1295.3 934.1L1300.8 931.7L1296.8 927.3L1295.8 923.8L1293.4 920.6L1293.9 913.0L1294.4 908.4L1295.2 903.5L1296.8 900.5L1300.6 897.3L1307.6 895.4L1310.6 892.8L1313.4 891.0L1319.2 886.7L1323.9 885.8L1325.5 887.8L1327.4 889.4L1333.4 890.0L1338.3 892.8L1342.5 894.1L1345.8 894.6L1346.7 891.6L1350.8 892.5L1350.8 895.2L1356.3 895.3L1359.1 896.5L1359.0 899.6L1364.0 900.5L1365.9 901.7L1369.2 903.3L1371.4 905.6L1375.0 904.5L1378.4 905.4L1380.3 907.3L1382.6 904.7L1386.7 904.7L1391.0 902.1L1396.0 901.0L1396.6 898.4L1393.8 898.3L1397.1 895.3L1398.0 892.7L1403.0 891.5L1403.6 888.9L1405.5 887.7L1408.6 887.8L1408.6 885.9L1410.5 884.0L1412.4 882.4L1414.1 882.8L1416.6 880.9L1418.8 879.0L1421.6 878.6L1426.5 877.9L1433.4 875.1L1437.2 872.4L1438.5 868.6L1442.1 864.0L1445.6 859.0L1450.2 855.9L1457.8 855.0L1463.8 857.6L1465.8 858.7L1469.3 857.4L1474.3 862.3L1483.3 867.8L1488.8 868.4L1494.6 876.9L1496.3 886.4L1501.5 895.8L1501.5 900.6L1501.5 905.2L1501.5 867.1L1501.5 829.1L1501.5 791.0L1501.5 752.9L1501.5 714.8L1501.5 676.7L1501.5 638.6L1501.5 600.5L1501.5 562.5L1501.5 524.4L1501.5 503.5L1500.4 503.5L1479.8 503.5L1459.2 503.5L1438.6 503.5L1418.0 503.5L1397.4 503.5L1376.8 503.5L1356.2 503.5ZM1155.5 503.5L1148.5 525.1L1147.2 530.7L1140.3 537.4L1132.0 540.0L1124.1 541.9L1116.3 545.3L1119.7 547.0L1116.5 551.9L1118.0 553.3L1123.4 554.1L1120.6 556.8L1123.3 558.0L1129.0 556.9L1135.4 554.0L1139.7 557.7L1137.9 561.7L1145.0 562.7L1146.5 560.7L1149.8 562.7L1151.7 566.8L1154.8 570.3L1158.3 571.5L1163.8 571.5L1168.5 567.1L1172.2 566.8L1176.0 565.4L1180.0 562.1L1182.6 560.5L1178.4 564.9L1175.5 569.2L1171.7 570.6L1168.1 574.0L1166.5 578.8L1164.5 579.3L1159.6 579.4L1155.5 577.7L1151.5 576.4L1147.3 575.8L1140.2 575.6L1137.8 576.0L1137.3 579.4L1138.2 581.0L1134.8 582.9L1129.4 581.3L1127.9 588.4L1125.0 591.0L1122.2 593.7L1116.8 596.7L1114.7 597.5L1112.7 601.9L1109.3 604.8L1103.8 608.2L1101.8 608.2L1097.9 609.2L1095.4 612.6L1097.1 614.1L1099.9 612.2L1101.9 612.5L1105.4 613.8L1107.1 618.8L1110.6 615.8L1111.9 612.2L1114.6 610.7L1118.8 610.5L1120.2 606.5L1123.1 606.9L1127.6 606.8L1133.0 608.8L1134.9 607.2L1137.0 610.2L1141.4 613.9L1143.1 614.1L1146.5 614.6L1149.2 610.7L1151.3 608.3L1149.9 606.2L1152.3 602.7L1153.9 600.2L1159.5 598.6L1166.2 598.0L1170.4 599.3L1174.9 602.9L1176.8 607.0L1177.7 604.1L1182.1 603.8L1186.9 605.2L1189.3 605.4L1189.6 602.4L1191.5 601.1L1194.6 601.5L1199.5 602.0L1202.1 600.4L1205.4 598.8L1203.8 595.6L1206.5 597.8L1209.4 600.0L1214.3 600.6L1217.6 603.6L1220.9 602.0L1228.3 601.6L1233.9 601.7L1238.3 603.7L1243.0 606.0L1245.1 604.3L1251.3 602.2L1256.2 599.5L1260.9 600.7L1261.9 597.3L1264.1 594.8L1267.0 594.6L1270.0 593.4L1272.1 591.6L1272.2 589.3L1272.0 585.5L1273.9 583.7L1271.5 583.1L1266.2 583.5L1263.0 584.0L1260.7 583.0L1261.6 581.2L1257.4 579.7L1253.8 579.4L1252.7 578.2L1250.3 578.0L1247.8 578.5L1244.3 577.4L1240.8 576.3L1244.4 576.7L1247.9 577.7L1252.8 577.0L1256.9 576.6L1259.3 576.8L1262.6 574.4L1262.3 572.5L1263.0 569.5L1264.3 568.0L1267.9 567.9L1271.2 565.5L1271.2 562.5L1273.1 561.5L1276.2 559.0L1278.9 557.3L1279.6 553.9L1280.7 549.0L1284.0 542.4L1284.1 537.8L1281.7 526.1L1283.3 503.5L1262.0 503.5L1240.6 503.5L1219.3 503.5L1198.0 503.5L1176.7 503.5ZM1199.2 603.9L1201.5 605.3L1204.9 608.0L1208.1 607.6L1210.9 604.4L1209.2 602.7L1205.7 600.8L1201.9 602.3ZM1175.8 655.7L1181.6 656.0L1181.2 659.4L1176.0 658.8ZM1166.3 647.6L1169.6 644.9L1170.6 647.4L1168.5 648.3ZM1178.4 638.3L1180.2 637.8L1179.9 638.9ZM1141.6 723.2L1144.1 724.0L1145.8 726.9L1143.6 727.4L1141.3 725.5ZM1136.6 712.2L1138.6 712.8L1137.7 713.5ZM1160.4 750.7L1162.8 752.1L1161.9 752.8L1160.2 751.8ZM1164.3 739.6L1166.3 741.0L1167.6 745.0L1166.0 742.9ZM1180.1 771.4L1185.4 773.9L1187.1 776.0L1182.7 774.4ZM1183.2 779.4L1186.9 784.8L1187.7 789.5L1184.9 786.5L1183.1 783.3ZM1100.0 675.2L1102.0 675.5L1101.3 676.5ZM1126.6 573.9L1127.6 574.1L1127.1 575.5ZM1079.1 614.5L1080.7 615.5L1080.0 616.6ZM1470.5 907.8L1469.2 912.0L1470.1 917.7L1469.4 920.4L1465.1 918.6L1459.0 922.1L1454.0 924.9L1451.8 926.8L1449.8 930.7L1448.5 932.6L1449.1 937.2L1452.7 936.4L1450.0 942.1L1454.3 944.7L1450.1 950.5L1454.4 949.7L1455.9 954.2L1453.1 957.3L1458.8 958.8L1456.0 963.8L1464.7 969.3L1466.8 970.4L1470.4 965.4L1473.1 959.6L1472.9 950.1L1476.9 942.3L1476.1 930.9L1473.5 919.5L1474.1 908.8Z"/><clipPath id="mlc"><use href="#ml"/></clipPath><filter id="mb" x="-50%" y="-50%" width="200%" height="200%"><feGaussianBlur stdDeviation="6"/></filter><filter id="mb2" x="-50%" y="-50%" width="200%" height="200%"><feGaussianBlur stdDeviation="1.8"/></filter><filter id="tx" x="0" y="0" width="100%" height="100%"><feTurbulence type="fractalNoise" baseFrequency="0.28" numOctaves="3" seed="7"/><feColorMatrix type="matrix" values="0 0 0 0 0.60  0 0 0 0 0.74  0 0 0 0 0.56  0 0 0 3.4 -1.62"/></filter><filter id="tx2" x="0" y="0" width="100%" height="100%"><feTurbulence type="fractalNoise" baseFrequency="0.2" numOctaves="3" seed="11"/><feColorMatrix type="matrix" values="0 0 0 0 0.98  0 0 0 0 0.98  0 0 0 0 0.96  0 0 0 5.5 -2.55"/></filter><filter id="tx3" x="0" y="0" width="100%" height="100%"><feTurbulence type="fractalNoise" baseFrequency="0.2" numOctaves="3" seed="23"/><feColorMatrix type="matrix" values="0 0 0 0 0.50  0 0 0 0 0.56  0 0 0 0 0.50  0 0 0 4.5 -2.3"/></filter><filter id="mb3" x="-50%" y="-50%" width="200%" height="200%"><feGaussianBlur stdDeviation="3.5"/></filter></defs>
<g clip-path="url(#mc)">
<rect x="1065.5" y="543.5" width="396.0" height="404.0" fill="#80B5DB"/>
<g filter="url(#mb)"><ellipse cx="1098" cy="797" rx="70" ry="60" fill="#77AED7" fill-opacity="0.9"/><ellipse cx="1056" cy="725" rx="40" ry="60" fill="#77AED7" fill-opacity="0.8"/><ellipse cx="1391" cy="935" rx="60" ry="30" fill="#79AFD8" fill-opacity="0.8"/><ellipse cx="1133" cy="841" rx="40" ry="18" fill="#7AB0D8" fill-opacity="0.7"/></g>
<use href="#ml" fill="#ECEEC5"/>
<defs><clipPath id="alp"><path d="M1393 867L1420 871L1426 852L1415 832L1423 810L1440 798L1472 788L1471 757L1432 762L1406 777L1391 809L1382 832L1387 855ZM1176 894L1209 903L1237 909L1270 919L1278 929L1241 925L1208 918L1181 906ZM1062 871L1089 875L1088 884L1060 880Z"/></clipPath></defs>
<g clip-path="url(#mlc)"><g filter="url(#mb)" fill="none" stroke-linecap="round" stroke-linejoin="round"><path d="M1277 851L1292 821L1307 807" stroke="#CBD7B2" stroke-width="95" stroke-opacity="0.9"/><path d="M1320 861L1305 845L1293 817" stroke="#C5D2AC" stroke-width="45" stroke-opacity="0.8"/><path d="M1332 831L1326 800L1324 781" stroke="#C9D5B0" stroke-width="30" stroke-opacity="0.8"/><path d="M1366 801L1382 771L1403 745" stroke="#C3D1AA" stroke-width="34" stroke-opacity="0.9"/><path d="M1402 726L1409 703L1416 680" stroke="#C3D1AA" stroke-width="26" stroke-opacity="0.9"/><path d="M1432 729L1437 707L1441 687" stroke="#C1CFA8" stroke-width="30" stroke-opacity="0.9"/><path d="M1347 644L1372 634L1394 630L1414 642" stroke="#C9D5B0" stroke-width="60" stroke-opacity="0.85"/><path d="M1421 619L1441 607L1460 618" stroke="#CAD6B2" stroke-width="50" stroke-opacity="0.8"/><path d="M1451 657L1464 683L1467 706" stroke="#CBD7B4" stroke-width="40" stroke-opacity="0.7"/><path d="M1328 747L1344 732L1360 721" stroke="#CDD8B4" stroke-width="30" stroke-opacity="0.7"/><path d="M1386 870L1392 832L1403 802L1427 779L1463 767" stroke="#BFCBAE" stroke-width="120" stroke-opacity="0.95"/><path d="M1367 862L1370 836L1376 817" stroke="#C2CEB0" stroke-width="50" stroke-opacity="0.9"/><path d="M1374 889L1391 888L1402 882" stroke="#C6D2B0" stroke-width="30" stroke-opacity="0.85"/><path d="M1163 890L1198 904L1231 914L1264 923L1289 926" stroke="#C0CCAC" stroke-width="44" stroke-opacity="0.95"/><path d="M1030 871L1085 882L1132 890L1157 892" stroke="#C4D0AE" stroke-width="44" stroke-opacity="0.9"/><path d="M1114 919L1137 937L1160 963" stroke="#D2D8B4" stroke-width="40" stroke-opacity="0.7"/><path d="M1461 920L1464 939L1466 958" stroke="#C4D0AE" stroke-width="26" stroke-opacity="0.9"/><path d="M1430 865L1449 851L1473 851" stroke="#C6D2B0" stroke-width="30" stroke-opacity="0.85"/><path d="M1142 599L1125 601" stroke="#D0DAB6" stroke-width="26" stroke-opacity="0.8"/><path d="M1156 551L1151 535" stroke="#CFDAB6" stroke-width="40" stroke-opacity="0.8"/><path d="M1137 687L1163 691" stroke="#D3DCB8" stroke-width="24" stroke-opacity="0.7"/></g><g filter="url(#mb)" fill="none" stroke-linecap="round" stroke-linejoin="round"><path d="M1079 925L1119 943" stroke="#F0ECCC" stroke-width="70" stroke-opacity="0.85"/><path d="M1177 946L1213 953" stroke="#EFEBCB" stroke-width="50" stroke-opacity="0.8"/><path d="M1421 836L1448 825L1475 824" stroke="#ECEEC8" stroke-width="34" stroke-opacity="0.9"/><path d="M1421 729L1429 695L1439 668" stroke="#EBEEC8" stroke-width="20" stroke-opacity="0.8"/></g><g filter="url(#mb3)" fill="none" stroke-linecap="round" stroke-linejoin="round"><path d="M1411 865L1404 844L1405 817L1405 798L1424 787L1445 773L1469 771" stroke="#B4BDAE" stroke-width="46" stroke-opacity="0.95"/><path d="M1414 777L1435 771L1455 763" stroke="#B6BFB0" stroke-width="26" stroke-opacity="0.9"/><path d="M1384 844L1386 828L1392 817" stroke="#B8C1B0" stroke-width="22" stroke-opacity="0.9"/><path d="M1184 900L1217 910L1250 918L1275 924" stroke="#B6BFAE" stroke-width="16" stroke-opacity="0.9"/><path d="M1066 875L1083 878" stroke="#BAC3B0" stroke-width="14" stroke-opacity="0.8"/></g><g clip-path="url(#alp)"><rect x="1065.5" y="543.5" width="396.0" height="404.0" filter="url(#tx2)"/><rect x="1065.5" y="543.5" width="396.0" height="404.0" filter="url(#tx3)"/></g><rect x="1065.5" y="543.5" width="396.0" height="404.0" filter="url(#tx)" opacity="0.8"/></g>
<path d="M1324.2 834.3L1330.5 813.5L1326.0 792.3L1316.7 765.2L1305.5 753.2L1299.9 737.6L1287.9 723.5L1275.4 716.9L1259.9 728.0L1243.2 733.6L1222.6 737.1L1211.0 730.6L1199.2 731.3L1184.5 734.7L1178.0 734.7M1346.5 735.9L1331.8 704.8L1312.4 696.2L1303.3 699.5L1289.3 681.1L1283.3 675.4L1268.6 670.5L1259.6 656.8L1247.3 655.4L1238.6 654.3M1362.5 717.3L1354.4 692.2L1339.6 680.3L1316.0 675.4L1303.3 678.5L1290.9 682.8M1317.6 643.0L1303.0 661.3L1283.3 675.4M1228.8 904.6L1240.8 894.1L1251.4 879.6L1243.4 861.8L1230.8 855.0L1217.6 842.4L1200.8 827.7L1201.9 821.7M1293.1 809.8L1275.9 827.8L1256.6 832.2L1229.6 830.0L1209.6 826.3L1201.9 821.7M1309.9 848.9L1283.0 843.6L1268.6 845.5L1254.1 847.3L1232.2 847.5L1223.8 849.8M1309.6 856.5L1297.7 863.5L1271.8 868.4L1256.7 868.5L1243.4 861.8M1442.4 773.2L1421.4 782.9L1406.9 788.6L1403.8 779.0M1383.1 786.4L1374.3 790.1L1373.5 803.4L1360.2 801.2L1347.7 802.7L1346.3 819.8L1348.3 834.0L1342.5 854.1L1344.6 871.3L1339.6 881.4L1345.8 894.6M1380.3 721.5L1367.2 736.5L1361.6 751.6L1349.5 762.7L1348.4 781.7L1347.7 802.7M1402.7 813.3L1389.4 807.5L1375.8 820.6L1370.9 824.7L1359.6 824.1L1347.8 832.1M1394.5 836.2L1386.1 851.3L1376.4 862.6L1372.0 877.8L1355.4 879.3L1344.5 873.2M1318.3 845.4L1308.8 818.3L1307.5 791.5L1309.3 770.5L1303.6 755.0M1286.5 786.4L1285.6 759.6L1273.7 741.6L1250.6 738.0L1240.4 735.2M1269.9 796.8L1252.7 794.4L1236.4 782.7L1237.4 756.0L1227.0 739.8M1472.9 736.4L1457.3 729.9L1447.1 733.1L1436.8 733.2L1421.3 734.4L1420.0 718.0L1426.3 695.9L1435.1 681.7L1441.2 668.3L1442.4 660.7L1438.4 641.6L1428.6 641.7L1421.2 628.4L1411.4 616.9L1405.7 605.8L1400.7 594.0L1396.1 578.7L1385.5 570.9L1371.3 568.7L1347.6 568.0L1338.2 564.5M1436.8 733.2L1425.2 746.6L1417.5 758.1L1422.7 765.7M1395.7 717.9L1385.9 693.0L1385.7 675.0L1390.2 660.6L1397.5 651.2L1408.9 639.8L1421.2 628.4M1370.3 713.7L1368.2 694.5L1365.7 673.1L1359.2 656.1L1350.1 646.3L1354.6 623.2L1371.8 616.8L1375.1 608.8L1380.3 591.8L1385.3 580.4L1373.6 572.6L1356.9 574.0L1344.9 575.5M1315.8 631.5L1319.0 616.3L1327.6 599.6L1341.8 594.5L1340.8 587.9M1470.4 641.1L1455.6 637.6L1447.7 637.7L1438.4 641.6M1461.6 690.9L1461.2 671.8L1448.6 664.4L1442.4 660.7M1407.9 843.9L1423.6 829.8L1437.6 825.5L1456.5 830.2L1478.1 828.6M1427.0 855.3L1433.7 843.9L1448.5 836.1L1456.5 830.2M1449.4 803.6L1453.6 813.1L1463.2 826.3M1095.9 885.6L1110.5 892.4L1125.1 899.2L1139.0 912.2L1161.1 930.5L1179.8 947.9L1197.9 963.1M1124.0 929.9L1099.8 938.2L1071.5 934.8L1048.1 936.1M1197.5 566.1L1210.9 563.8L1213.7 571.7L1218.0 576.0L1225.3 575.6L1232.1 579.4L1237.3 576.0L1240.8 576.3M1190.5 544.1L1189.2 555.5L1182.6 560.5M1213.1 891.7L1203.8 871.7L1183.2 869.6L1169.6 874.7M1307.7 644.4L1290.6 641.5L1279.5 633.1L1275.6 629.0M1388.8 759.8L1405.8 742.8L1390.3 740.7L1380.7 746.7L1366.8 751.7L1354.9 759.0" fill="none" stroke="#5FA6C4" stroke-width="0.6" stroke-linejoin="round" stroke-opacity="0.75"/>
<path d="M1383.1 786.4L1385.0 781.9L1388.5 778.9L1393.0 775.1L1396.4 775.1L1401.7 777.1L1403.8 779.0L1400.9 779.8L1395.1 778.9L1391.1 780.0L1388.0 780.0L1385.8 782.6L1383.9 785.7ZM1393.9 764.4L1404.4 756.1L1407.0 756.2L1396.5 764.5ZM1360.2 541.7L1361.2 550.1L1365.8 552.1L1373.1 543.9L1374.5 532.5L1362.9 530.3ZM1446.7 803.7L1448.5 796.0L1451.8 789.5L1453.2 790.2L1449.6 797.1L1448.1 803.7Z" fill="#7FB3DA" stroke="#6FA5C8" stroke-width="0.4"/>
<path d="M1053.4 994.9L1054.9 985.5L1056.3 976.1L1057.8 966.6L1059.3 957.2L1060.8 947.8L1062.2 938.4L1063.7 929.0L1065.2 919.5L1066.6 910.1L1068.1 900.7L1069.6 891.3L1071.0 881.8L1072.5 872.4L1074.0 863.0L1075.5 853.6L1076.9 844.2L1078.4 834.7L1079.9 825.3L1081.3 815.9L1082.8 806.5L1084.3 797.0L1085.7 787.6L1087.2 778.2L1088.7 768.8L1090.2 759.3L1091.6 749.9L1093.1 740.5L1094.6 731.1L1096.0 721.7L1097.5 712.2L1099.0 702.8L1100.4 693.4L1101.9 684.0L1103.4 674.5L1104.9 665.1L1106.3 655.7L1107.8 646.3L1109.3 636.9L1110.7 627.4L1112.2 618.0L1113.7 608.6L1115.1 599.2L1116.6 589.7L1118.1 580.3L1119.6 570.9L1121.0 561.5L1122.5 552.1L1124.0 542.6L1125.4 533.2L1126.9 523.8L1128.4 514.4L1129.8 504.9L1131.3 495.5L1132.8 486.1L1134.3 476.7L1135.7 467.2M1111.5 1003.2L1112.7 993.8L1114.0 984.3L1115.2 974.9L1116.5 965.4L1117.7 956.0L1118.9 946.5L1120.2 937.0L1121.4 927.6L1122.6 918.1L1123.9 908.7L1125.1 899.2L1126.3 889.8L1127.6 880.3L1128.8 870.9L1130.0 861.4L1131.3 851.9L1132.5 842.5L1133.8 833.0L1135.0 823.6L1136.2 814.1L1137.5 804.7L1138.7 795.2L1139.9 785.8L1141.2 776.3L1142.4 766.8L1143.6 757.4L1144.9 747.9L1146.1 738.5L1147.4 729.0L1148.6 719.6L1149.8 710.1L1151.1 700.6L1152.3 691.2L1153.5 681.7L1154.8 672.3L1156.0 662.8L1157.2 653.4L1158.5 643.9L1159.7 634.5L1160.9 625.0L1162.2 615.5L1163.4 606.1L1164.7 596.6L1165.9 587.2L1167.1 577.7L1168.4 568.3L1169.6 558.8L1170.8 549.3L1172.1 539.9L1173.3 530.4L1174.5 521.0L1175.8 511.5L1177.0 502.1L1178.3 492.6L1179.5 483.2L1180.7 473.7M1169.8 1010.1L1170.8 1000.6L1171.8 991.2L1172.8 981.7L1173.8 972.2L1174.8 962.7L1175.8 953.2L1176.8 943.7L1177.8 934.3L1178.8 924.8L1179.8 915.3L1180.8 905.8L1181.8 896.3L1182.8 886.8L1183.8 877.4L1184.8 867.9L1185.8 858.4L1186.8 848.9L1187.8 839.4L1188.8 829.9L1189.8 820.4L1190.8 811.0L1191.8 801.5L1192.8 792.0L1193.8 782.5L1194.8 773.0L1195.8 763.5L1196.8 754.1L1197.8 744.6L1198.8 735.1L1199.8 725.6L1200.8 716.1L1201.8 706.6L1202.8 697.2L1203.8 687.7L1204.8 678.2L1205.8 668.7L1206.8 659.2L1207.8 649.7L1208.8 640.3L1209.8 630.8L1210.8 621.3L1211.9 611.8L1212.9 602.3L1213.9 592.8L1214.9 583.4L1215.9 573.9L1216.9 564.4L1217.9 554.9L1218.9 545.4L1219.9 535.9L1220.9 526.4L1221.9 517.0L1222.9 507.5L1223.9 498.0L1224.9 488.5L1225.9 479.0M1228.3 1015.6L1229.0 1006.1L1229.8 996.6L1230.5 987.0L1231.3 977.5L1232.1 968.0L1232.8 958.5L1233.6 949.0L1234.4 939.5L1235.1 930.0L1235.9 920.5L1236.7 911.0L1237.4 901.5L1238.2 892.0L1239.0 882.5L1239.7 873.0L1240.5 863.5L1241.3 854.0L1242.0 844.5L1242.8 835.0L1243.6 825.4L1244.3 815.9L1245.1 806.4L1245.9 796.9L1246.6 787.4L1247.4 777.9L1248.2 768.4L1248.9 758.9L1249.7 749.4L1250.5 739.9L1251.2 730.4L1252.0 720.9L1252.8 711.4L1253.5 701.9L1254.3 692.4L1255.0 682.9L1255.8 673.4L1256.6 663.9L1257.3 654.3L1258.1 644.8L1258.9 635.3L1259.6 625.8L1260.4 616.3L1261.2 606.8L1261.9 597.3L1262.7 587.8L1263.5 578.3L1264.2 568.8L1265.0 559.3L1265.8 549.8L1266.5 540.3L1267.3 530.8L1268.1 521.3L1268.8 511.8L1269.6 502.3L1270.4 492.7L1271.1 483.2M1286.8 1019.6L1287.3 1010.0L1287.9 1000.5L1288.4 991.0L1288.9 981.5L1289.5 971.9L1290.0 962.4L1290.5 952.9L1291.1 943.4L1291.6 933.9L1292.1 924.3L1292.6 914.8L1293.2 905.3L1293.7 895.8L1294.2 886.2L1294.8 876.7L1295.3 867.2L1295.8 857.7L1296.4 848.2L1296.9 838.6L1297.4 829.1L1297.9 819.6L1298.5 810.1L1299.0 800.5L1299.5 791.0L1300.1 781.5L1300.6 772.0L1301.1 762.5L1301.6 752.9L1302.2 743.4L1302.7 733.9L1303.2 724.4L1303.8 714.9L1304.3 705.3L1304.8 695.8L1305.4 686.3L1305.9 676.8L1306.4 667.2L1306.9 657.7L1307.5 648.2L1308.0 638.7L1308.5 629.2L1309.1 619.6L1309.6 610.1L1310.1 600.6L1310.7 591.1L1311.2 581.5L1311.7 572.0L1312.2 562.5L1312.8 553.0L1313.3 543.5L1313.8 533.9L1314.4 524.4L1314.9 514.9L1315.4 505.4L1315.9 495.8L1316.5 486.3M1345.5 1022.1L1345.8 1012.6L1346.1 1003.0L1346.3 993.5L1346.6 984.0L1346.9 974.4L1347.2 964.9L1347.5 955.4L1347.8 945.8L1348.1 936.3L1348.4 926.8L1348.7 917.2L1349.0 907.7L1349.3 898.2L1349.6 888.6L1349.9 879.1L1350.2 869.6L1350.5 860.0L1350.7 850.5L1351.0 841.0L1351.3 831.4L1351.6 821.9L1351.9 812.4L1352.2 802.8L1352.5 793.3L1352.8 783.8L1353.1 774.3L1353.4 764.7L1353.7 755.2L1354.0 745.7L1354.3 736.1L1354.6 726.6L1354.9 717.1L1355.1 707.5L1355.4 698.0L1355.7 688.5L1356.0 678.9L1356.3 669.4L1356.6 659.9L1356.9 650.3L1357.2 640.8L1357.5 631.3L1357.8 621.7L1358.1 612.2L1358.4 602.7L1358.7 593.1L1359.0 583.6L1359.2 574.1L1359.5 564.5L1359.8 555.0L1360.1 545.5L1360.4 535.9L1360.7 526.4L1361.0 516.9L1361.3 507.4L1361.6 497.8L1361.9 488.3M1404.2 1023.2L1404.2 1013.6L1404.3 1004.1L1404.3 994.6L1404.4 985.0L1404.4 975.5L1404.5 965.9L1404.6 956.4L1404.6 946.9L1404.7 937.3L1404.7 927.8L1404.8 918.3L1404.8 908.7L1404.9 899.2L1405.0 889.7L1405.0 880.1L1405.1 870.6L1405.1 861.0L1405.2 851.5L1405.2 842.0L1405.3 832.4L1405.3 822.9L1405.4 813.4L1405.5 803.8L1405.5 794.3L1405.6 784.8L1405.6 775.2L1405.7 765.7L1405.7 756.1L1405.8 746.6L1405.9 737.1L1405.9 727.5L1406.0 718.0L1406.0 708.5L1406.1 698.9L1406.1 689.4L1406.2 679.9L1406.3 670.3L1406.3 660.8L1406.4 651.2L1406.4 641.7L1406.5 632.2L1406.5 622.6L1406.6 613.1L1406.7 603.6L1406.7 594.0L1406.8 584.5L1406.8 575.0L1406.9 565.4L1406.9 555.9L1407.0 546.3L1407.1 536.8L1407.1 527.3L1407.2 517.7L1407.2 508.2L1407.3 498.7L1407.3 489.1M1462.9 1022.8L1462.7 1013.2L1462.5 1003.7L1462.3 994.2L1462.1 984.6L1462.0 975.1L1461.8 965.6L1461.6 956.0L1461.4 946.5L1461.2 937.0L1461.1 927.4L1460.9 917.9L1460.7 908.4L1460.5 898.8L1460.3 889.3L1460.2 879.8L1460.0 870.2L1459.8 860.7L1459.6 851.2L1459.4 841.6L1459.3 832.1L1459.1 822.6L1458.9 813.0L1458.7 803.5L1458.5 793.9L1458.4 784.4L1458.2 774.9L1458.0 765.3L1457.8 755.8L1457.6 746.3L1457.5 736.7L1457.3 727.2L1457.1 717.7L1456.9 708.1L1456.7 698.6L1456.6 689.1L1456.4 679.5L1456.2 670.0L1456.0 660.5L1455.8 650.9L1455.7 641.4L1455.5 631.9L1455.3 622.3L1455.1 612.8L1454.9 603.2L1454.8 593.7L1454.6 584.2L1454.4 574.6L1454.2 565.1L1454.1 555.6L1453.9 546.0L1453.7 536.5L1453.5 527.0L1453.3 517.4L1453.2 507.9L1453.0 498.4L1452.8 488.8M925.6 893.3L939.5 896.3L953.4 899.2L967.3 902.1L981.2 904.8L995.2 907.5L1009.1 910.1L1023.1 912.6L1037.1 915.0L1051.1 917.3L1065.2 919.5L1079.2 921.7L1093.3 923.7L1107.3 925.7L1121.4 927.6L1135.5 929.4L1149.6 931.1L1163.7 932.7L1177.8 934.3L1191.9 935.7L1206.1 937.1L1220.2 938.3L1234.4 939.5L1248.5 940.6L1262.7 941.6L1276.9 942.5L1291.1 943.4L1305.2 944.1L1319.4 944.8L1333.6 945.3L1347.8 945.8L1362.0 946.2L1376.2 946.5L1390.4 946.7L1404.6 946.9L1418.8 946.9L1433.0 946.9L1447.2 946.7L1461.4 946.5L1475.6 946.2L1489.8 945.8L1504.0 945.3L1518.2 944.7L1532.4 944.1L1546.6 943.3M942.0 818.8L955.4 821.7L968.9 824.5L982.3 827.3L995.8 829.9L1009.3 832.5L1022.8 835.0L1036.3 837.4L1049.8 839.7L1063.4 842.0L1076.9 844.2L1090.5 846.2L1104.1 848.2L1117.7 850.1L1131.3 851.9L1144.9 853.7L1158.5 855.3L1172.2 856.9L1185.8 858.4L1199.5 859.8L1213.1 861.1L1226.8 862.3L1240.5 863.5L1254.2 864.5L1267.9 865.5L1281.6 866.4L1295.3 867.2L1309.0 867.9L1322.7 868.6L1336.4 869.1L1350.2 869.6L1363.9 870.0L1377.6 870.2L1391.3 870.5L1405.1 870.6L1418.8 870.6L1432.5 870.6L1446.3 870.4L1460.0 870.2L1473.7 869.9L1487.4 869.5L1501.2 869.1L1514.9 868.5L1528.6 867.9L1542.3 867.1M958.4 744.3L971.4 747.1L984.3 749.8L997.3 752.5L1010.3 755.0L1023.4 757.5L1036.4 759.9L1049.4 762.3L1062.5 764.5L1075.6 766.7L1088.7 768.8L1101.8 770.8L1114.9 772.7L1128.0 774.5L1141.2 776.3L1154.3 778.0L1167.5 779.6L1180.7 781.1L1193.8 782.5L1207.0 783.9L1220.2 785.1L1233.4 786.3L1246.6 787.4L1259.8 788.4L1273.1 789.4L1286.3 790.2L1299.5 791.0L1312.8 791.7L1326.0 792.3L1339.3 792.9L1352.5 793.3L1365.8 793.7L1379.0 794.0L1392.3 794.2L1405.5 794.3L1418.8 794.3L1432.0 794.3L1445.3 794.2L1458.5 793.9L1471.8 793.7L1485.0 793.3L1498.3 792.8L1511.5 792.3L1524.8 791.7L1538.0 791.0M974.8 669.8L987.3 672.5L999.8 675.1L1012.4 677.7L1024.9 680.2L1037.5 682.6L1050.0 684.9L1062.6 687.1L1075.2 689.3L1087.8 691.4L1100.4 693.4L1113.1 695.3L1125.7 697.2L1138.4 698.9L1151.1 700.6L1163.7 702.3L1176.4 703.8L1189.1 705.3L1201.8 706.6L1214.6 707.9L1227.3 709.2L1240.0 710.3L1252.8 711.4L1265.5 712.4L1278.2 713.3L1291.0 714.1L1303.8 714.9L1316.5 715.5L1329.3 716.1L1342.1 716.6L1354.9 717.1L1367.6 717.4L1380.4 717.7L1393.2 717.9L1406.0 718.0L1418.8 718.0L1431.5 718.0L1444.3 717.9L1457.1 717.7L1469.9 717.4L1482.7 717.0L1495.4 716.6L1508.2 716.1L1521.0 715.5L1533.7 714.8M991.2 595.3L1003.3 597.9L1015.3 600.4L1027.4 602.9L1039.5 605.3L1051.5 607.6L1063.7 609.8L1075.8 612.0L1087.9 614.1L1100.0 616.1L1112.2 618.0L1124.4 619.9L1136.6 621.7L1148.7 623.4L1160.9 625.0L1173.2 626.6L1185.4 628.0L1197.6 629.4L1209.8 630.8L1222.1 632.0L1234.3 633.2L1246.6 634.3L1258.9 635.3L1271.1 636.3L1283.4 637.2L1295.7 638.0L1308.0 638.7L1320.3 639.3L1332.6 639.9L1344.9 640.4L1357.2 640.8L1369.5 641.1L1381.8 641.4L1394.1 641.6L1406.4 641.7L1418.7 641.7L1431.0 641.7L1443.4 641.6L1455.7 641.4L1468.0 641.1L1480.3 640.8L1492.6 640.3L1504.9 639.9L1517.2 639.3L1529.5 638.6M1007.7 520.8L1019.2 523.3L1030.8 525.7L1042.4 528.1L1054.0 530.4L1065.6 532.6L1077.3 534.7L1088.9 536.8L1100.6 538.8L1112.3 540.8L1124.0 542.6L1135.7 544.4L1147.4 546.1L1159.1 547.8L1170.8 549.3L1182.6 550.8L1194.3 552.3L1206.1 553.6L1217.9 554.9L1229.6 556.1L1241.4 557.2L1253.2 558.3L1265.0 559.3L1276.8 560.2L1288.6 561.0L1300.4 561.8L1312.2 562.5L1324.1 563.1L1335.9 563.7L1347.7 564.1L1359.5 564.5L1371.4 564.9L1383.2 565.1L1395.0 565.3L1406.9 565.4L1418.7 565.4L1430.6 565.4L1442.4 565.3L1454.2 565.1L1466.1 564.8L1477.9 564.5L1489.7 564.1L1501.6 563.6L1513.4 563.1L1525.2 562.5" fill="none" stroke="#000" stroke-opacity="0.42" stroke-width="0.55"/>
<g fill="none" stroke="#ff0000" stroke-opacity="0.5"><path d="M1246.3 543.5 L1275.5 748.6" stroke-width="4.8" stroke-dasharray="20.5 9" stroke-dashoffset="19.9"/></g>
<path d="M1274.2 751.6 L1278.8 750.6 L1280.0 753.2 L1281.4 751.6 L1285.5 768.0 L1273.2 756.6 L1275.4 755.6 Z" fill="#ff0000" fill-opacity="0.5" stroke="#ff0000" stroke-opacity="0.5" stroke-width="0.8"/>
<g><circle cx="1291.0" cy="611.3" r="4.8" fill="#E0E0FF"/><circle cx="1282.1" cy="641.5" r="4.8" fill="#C8C8FF"/><circle cx="1246.3" cy="644.6" r="4.8" fill="#D8D0FF"/><circle cx="1347.3" cy="637.1" r="4.8" fill="#FFD0D8"/><circle cx="1314.9" cy="656.3" r="4.8" fill="#F4F4FF"/><circle cx="1280.2" cy="664.0" r="4.8" fill="#FFD8E0"/><circle cx="1249.3" cy="672.4" r="4.8" fill="#C0C0FF"/><circle cx="1289.4" cy="682.2" r="4.8" fill="#FF9098"/><circle cx="1333.0" cy="673.9" r="4.8" fill="#FF9AA0"/><circle cx="1362.0" cy="670.4" r="4.8" fill="#FFE0E0"/><circle cx="1381.6" cy="667.9" r="4.8" fill="#FFFFFF"/><circle cx="1378.9" cy="686.6" r="4.8" fill="#D0D0FF"/><circle cx="1192.3" cy="653.1" r="4.8" fill="#FFB0B8"/><circle cx="1221.4" cy="659.6" r="4.8" fill="#FFD0D8"/><circle cx="1203.1" cy="667.0" r="4.8" fill="#FF7078"/><circle cx="1197.3" cy="680.4" r="4.8" fill="#FF4048"/><circle cx="1170.2" cy="684.3" r="4.8" fill="#FF5058"/><circle cx="1137.8" cy="672.9" r="4.8" fill="#B0A8FF"/><circle cx="1111.0" cy="684.8" r="4.8" fill="#FF9098"/><circle cx="1121.5" cy="699.6" r="4.8" fill="#FF0000"/><circle cx="1138.8" cy="708.6" r="4.8" fill="#FF2020"/><circle cx="1159.8" cy="706.3" r="4.8" fill="#FF3038"/><circle cx="1168.0" cy="717.9" r="4.8" fill="#FFD0D8"/><circle cx="1142.4" cy="725.2" r="4.8" fill="#C8C0FF"/><circle cx="1206.9" cy="697.1" r="4.8" fill="#FFD0D8"/><circle cx="1229.7" cy="698.4" r="4.8" fill="#9090FF"/><circle cx="1191.6" cy="724.5" r="4.8" fill="#A0A0FF"/><circle cx="1216.8" cy="721.4" r="4.8" fill="#4040FF"/><circle cx="1238.1" cy="720.0" r="4.8" fill="#4040FF"/><circle cx="1230.0" cy="732.2" r="4.8" fill="#8080FF"/><circle cx="1181.8" cy="737.0" r="4.8" fill="#2020FF"/><circle cx="1207.0" cy="740.4" r="4.8" fill="#8888FF"/><circle cx="1284.8" cy="713.4" r="4.8" fill="#9898FF"/><circle cx="1267.6" cy="726.5" r="4.8" fill="#B0B0FF"/><circle cx="1281.8" cy="737.7" r="4.8" fill="#ECECFF"/><circle cx="1339.1" cy="719.5" r="4.8" fill="#C0C0FF"/><circle cx="1366.2" cy="736.8" r="4.8" fill="#F4F4FF"/><circle cx="1374.6" cy="752.0" r="4.8" fill="#FFD8D8"/><circle cx="1386.4" cy="747.2" r="4.8" fill="#FFFFFF"/><circle cx="1396.6" cy="747.2" r="4.8" fill="#FFD8D8"/><circle cx="1409.3" cy="681.5" r="4.8" fill="#8080FF"/><circle cx="1424.8" cy="678.5" r="4.8" fill="#7070FF"/><circle cx="1415.2" cy="686.5" r="4.8" fill="#4040FF"/><circle cx="1427.8" cy="682.9" r="4.8" fill="#2020FF"/><circle cx="1434.2" cy="681.9" r="4.8" fill="#2020FF"/><circle cx="1418.4" cy="693.3" r="4.8" fill="#0000FF"/><circle cx="1425.2" cy="696.3" r="4.8" fill="#1010FF"/><circle cx="1414.9" cy="702.5" r="4.8" fill="#0808FF"/><circle cx="1421.8" cy="706.9" r="4.8" fill="#0808FF"/><circle cx="1396.3" cy="702.5" r="4.8" fill="#3030FF"/><circle cx="1412.9" cy="719.5" r="4.8" fill="#0000FF"/><circle cx="1396.9" cy="729.5" r="4.8" fill="#5858FF"/><circle cx="1412.5" cy="730.5" r="4.8" fill="#6060FF"/><circle cx="1184.9" cy="763.9" r="4.8" fill="#E0E0FF"/><circle cx="1182.9" cy="779.4" r="4.8" fill="#FF7070"/><circle cx="1209.9" cy="779.2" r="4.8" fill="#FFC0C8"/><circle cx="1229.1" cy="781.9" r="4.8" fill="#DCDCFF"/><circle cx="1213.1" cy="802.9" r="4.8" fill="#4444FF"/><circle cx="1238.7" cy="803.2" r="4.8" fill="#0808FF"/><circle cx="1248.6" cy="757.1" r="4.8" fill="#FF4848"/><circle cx="1263.5" cy="769.5" r="4.8" fill="#FF5050"/><circle cx="1292.6" cy="771.1" r="4.8" fill="#FF1818"/><circle cx="1322.6" cy="771.3" r="4.8" fill="#FF8888"/><circle cx="1278.6" cy="783.7" r="4.8" fill="#FFD0D0"/><circle cx="1302.9" cy="789.7" r="4.8" fill="#FFD0D8"/><circle cx="1266.8" cy="790.7" r="4.8" fill="#5858FF"/><circle cx="1315.9" cy="793.6" r="4.8" fill="#FFF4F4"/><circle cx="1284.9" cy="800.0" r="4.8" fill="#6868FF"/><circle cx="1301.9" cy="800.6" r="4.8" fill="#C0C0FF"/><circle cx="1286.2" cy="813.9" r="4.8" fill="#B0B0FF"/><circle cx="1296.4" cy="812.9" r="4.8" fill="#C0C0FF"/><circle cx="1316.7" cy="811.2" r="4.8" fill="#E0E0FF"/><circle cx="1304.2" cy="820.9" r="4.8" fill="#FFB8C0"/><circle cx="1313.9" cy="828.4" r="4.8" fill="#FF6068"/><circle cx="1294.9" cy="828.9" r="4.8" fill="#FF0000"/><circle cx="1284.6" cy="837.6" r="4.8" fill="#FF0000"/><circle cx="1246.8" cy="850.0" r="4.8" fill="#FF0000"/><circle cx="1272.7" cy="858.8" r="4.8" fill="#FF5858"/><circle cx="1321.4" cy="864.7" r="4.8" fill="#0000FF"/><circle cx="1326.5" cy="855.0" r="4.8" fill="#5858FF"/><circle cx="1300.9" cy="868.8" r="4.8" fill="#0000FF"/><circle cx="1318.2" cy="879.3" r="4.8" fill="#0000FF"/><circle cx="1232.0" cy="873.6" r="4.8" fill="#FF7078"/><circle cx="1246.5" cy="893.2" r="4.8" fill="#0000FF"/><circle cx="1295.7" cy="900.4" r="4.8" fill="#C0C0FF"/><circle cx="1230.0" cy="905.7" r="4.8" fill="#0000FF"/><circle cx="1239.6" cy="903.2" r="4.8" fill="#0000FF"/><circle cx="1259.8" cy="902.4" r="4.8" fill="#0000FF"/><circle cx="1267.8" cy="907.7" r="4.8" fill="#FF9098"/><circle cx="1241.5" cy="911.0" r="4.8" fill="#FF0000"/><circle cx="1252.7" cy="909.6" r="4.8" fill="#FF0000"/><circle cx="1267.2" cy="914.9" r="4.8" fill="#FF0000"/><circle cx="1251.0" cy="920.9" r="4.8" fill="#FF0000"/><circle cx="1275.6" cy="921.1" r="4.8" fill="#FF0000"/><circle cx="1264.7" cy="926.7" r="4.8" fill="#FF0000"/><circle cx="1208.0" cy="824.4" r="4.8" fill="#FFB0B8"/><circle cx="1214.8" cy="846.9" r="4.8" fill="#FF0000"/><circle cx="1208.9" cy="867.6" r="4.8" fill="#6060FF"/><circle cx="1181.0" cy="869.9" r="4.8" fill="#0000FF"/><circle cx="1162.1" cy="879.4" r="4.8" fill="#0000FF"/><circle cx="1194.5" cy="880.7" r="4.8" fill="#0000FF"/><circle cx="1175.1" cy="885.6" r="4.8" fill="#0000FF"/><circle cx="1184.0" cy="888.4" r="4.8" fill="#0000FF"/><circle cx="1180.1" cy="894.5" r="4.8" fill="#0000FF"/><circle cx="1189.6" cy="893.6" r="4.8" fill="#0000FF"/><circle cx="1198.4" cy="895.1" r="4.8" fill="#0000FF"/><circle cx="1208.0" cy="895.1" r="4.8" fill="#0000FF"/><circle cx="1211.6" cy="897.8" r="4.8" fill="#0000FF"/><circle cx="1203.5" cy="900.8" r="4.8" fill="#0000FF"/><circle cx="1209.4" cy="903.5" r="4.8" fill="#0000FF"/><circle cx="1217.9" cy="907.1" r="4.8" fill="#6868FF"/><circle cx="1346.8" cy="757.1" r="4.8" fill="#FFE0E0"/><circle cx="1346.4" cy="780.4" r="4.8" fill="#FFF4F4"/><circle cx="1367.5" cy="792.4" r="4.8" fill="#FFC8C8"/><circle cx="1384.9" cy="789.0" r="4.8" fill="#FF5050"/><circle cx="1396.9" cy="781.9" r="4.8" fill="#FF0000"/><circle cx="1399.1" cy="792.6" r="4.8" fill="#FF0000"/><circle cx="1401.7" cy="800.2" r="4.8" fill="#FF3838"/><circle cx="1404.9" cy="801.0" r="4.8" fill="#FF1010"/><circle cx="1375.7" cy="799.1" r="4.8" fill="#FFA0A0"/><circle cx="1386.7" cy="806.4" r="4.8" fill="#FF8888"/><circle cx="1395.4" cy="806.4" r="4.8" fill="#FF8888"/><circle cx="1370.5" cy="809.1" r="4.8" fill="#FFB0B0"/><circle cx="1342.0" cy="798.2" r="4.8" fill="#D8D8FF"/><circle cx="1397.9" cy="814.9" r="4.8" fill="#FFFFFF"/><circle cx="1396.7" cy="824.9" r="4.8" fill="#6868FF"/><circle cx="1370.5" cy="822.6" r="4.8" fill="#FFC8C8"/><circle cx="1377.9" cy="823.6" r="4.8" fill="#FFE8E8"/><circle cx="1373.0" cy="830.2" r="4.8" fill="#FFF4F4"/><circle cx="1354.0" cy="825.9" r="4.8" fill="#FFB0B0"/><circle cx="1388.9" cy="831.2" r="4.8" fill="#8080FF"/><circle cx="1397.4" cy="835.7" r="4.8" fill="#0000FF"/><circle cx="1380.9" cy="839.3" r="4.8" fill="#7070FF"/><circle cx="1353.7" cy="837.4" r="4.8" fill="#FFD8DC"/><circle cx="1392.6" cy="840.5" r="4.8" fill="#0000FF"/><circle cx="1352.7" cy="848.7" r="4.8" fill="#A0A0FF"/><circle cx="1344.2" cy="855.5" r="4.8" fill="#3838FF"/><circle cx="1365.5" cy="854.0" r="4.8" fill="#5858FF"/><circle cx="1379.7" cy="856.5" r="4.8" fill="#3030FF"/><circle cx="1399.9" cy="852.5" r="4.8" fill="#0000FF"/><circle cx="1352.7" cy="872.2" r="4.8" fill="#0000FF"/><circle cx="1363.5" cy="872.5" r="4.8" fill="#3838FF"/><circle cx="1371.5" cy="871.0" r="4.8" fill="#5858FF"/><circle cx="1383.7" cy="866.5" r="4.8" fill="#7070FF"/><circle cx="1379.4" cy="872.5" r="4.8" fill="#B0B0FF"/><circle cx="1398.2" cy="866.5" r="4.8" fill="#B8B8FF"/><circle cx="1406.4" cy="863.5" r="4.8" fill="#7878FF"/><circle cx="1367.5" cy="878.5" r="4.8" fill="#A8A8FF"/><circle cx="1411.1" cy="868.5" r="4.8" fill="#FFB0B0"/><circle cx="1402.9" cy="872.0" r="4.8" fill="#FF8080"/><circle cx="1396.2" cy="875.3" r="4.8" fill="#FF5050"/><circle cx="1388.6" cy="880.3" r="4.8" fill="#FF4848"/><circle cx="1371.8" cy="886.1" r="4.8" fill="#FF7070"/><circle cx="1358.7" cy="889.4" r="4.8" fill="#FF8888"/><circle cx="1420.9" cy="871.0" r="4.8" fill="#FF0000"/><circle cx="1415.9" cy="872.5" r="4.8" fill="#FF1818"/><circle cx="1409.9" cy="877.0" r="4.8" fill="#FF0000"/><circle cx="1402.9" cy="880.5" r="4.8" fill="#FF0000"/><circle cx="1413.9" cy="882.0" r="4.8" fill="#FF0000"/><circle cx="1408.4" cy="888.4" r="4.8" fill="#FF0000"/><circle cx="1393.7" cy="900.4" r="4.8" fill="#FF0000"/><circle cx="1377.6" cy="905.6" r="4.8" fill="#FF0000"/><circle cx="1410.5" cy="879.5" r="4.8" fill="#FF0000"/><circle cx="1412.5" cy="875.5" r="4.8" fill="#FF0808"/><circle cx="1406.0" cy="884.0" r="4.8" fill="#FF0000"/><circle cx="1457.0" cy="949.5" r="4.8" fill="#0000FF"/></g>
<use href="#ml" fill="none" stroke="#707070" stroke-width="1" stroke-linejoin="round"/>
<g stroke="#000" stroke-width="1.1"><circle cx="1307.1" cy="768.5" r="4.3" fill="#F04040"/><circle cx="1311.9" cy="777.8" r="4.3" fill="#F86868"/><circle cx="1255.0" cy="781.0" r="4.3" fill="#E0E0FF"/><circle cx="1243.7" cy="788.1" r="4.3" fill="#4848F0"/><circle cx="1289.9" cy="785.5" r="4.3" fill="#FFB8B8"/><circle cx="1252.1" cy="797.9" r="4.3" fill="#0000FF"/><circle cx="1270.8" cy="805.6" r="4.3" fill="#0000FF"/><circle cx="1327.5" cy="799.4" r="4.3" fill="#D8D8FF"/><circle cx="1327.0" cy="812.2" r="4.3" fill="#F0F0FF"/><circle cx="1246.1" cy="815.7" r="4.3" fill="#4040F0"/><circle cx="1324.6" cy="820.4" r="4.3" fill="#FFD8D8"/><circle cx="1277.6" cy="822.7" r="4.3" fill="#FF8888"/><circle cx="1249.8" cy="829.0" r="4.3" fill="#FF0000"/><circle cx="1264.0" cy="829.4" r="4.3" fill="#FF0000"/><circle cx="1291.9" cy="830.6" r="4.3" fill="#FF0000"/><circle cx="1257.0" cy="839.8" r="4.3" fill="#FF0000"/><circle cx="1271.3" cy="843.0" r="4.3" fill="#FF0000"/><circle cx="1305.9" cy="840.0" r="4.3" fill="#FF0000"/><circle cx="1318.2" cy="844.0" r="4.3" fill="#FF8888"/><circle cx="1284.6" cy="851.8" r="4.3" fill="#FF0000"/><circle cx="1258.7" cy="862.8" r="4.3" fill="#FFB8B8"/><circle cx="1299.1" cy="857.5" r="4.3" fill="#C8C8FF"/><circle cx="1311.7" cy="860.5" r="4.3" fill="#0000FF"/><circle cx="1284.1" cy="866.3" r="4.3" fill="#FFFFFF"/><circle cx="1274.3" cy="873.7" r="4.3" fill="#0000FF"/><circle cx="1304.1" cy="878.3" r="4.3" fill="#0000FF"/><circle cx="1285.6" cy="884.0" r="4.3" fill="#0000FF"/><circle cx="1329.5" cy="756.5" r="4.3" fill="#FFD0D0"/><circle cx="1342.0" cy="770.6" r="4.3" fill="#FFD8D8"/><circle cx="1329.5" cy="785.2" r="4.3" fill="#FFD8D8"/><circle cx="1336.2" cy="835.1" r="4.3" fill="#FF9898"/><circle cx="1339.0" cy="849.8" r="4.3" fill="#A0A0FF"/><circle cx="1337.0" cy="867.3" r="4.3" fill="#0000FF"/></g>
</g>
<rect x="1065.5" y="543.5" width="396.0" height="404.0" fill="none" stroke="#000" stroke-width="1"/>
<g font-weight="bold" font-size="15.3">
<text x="1052.1" y="536.9" textLength="89.4" lengthAdjust="spacingAndGlyphs">Amplitude</text>
<text x="1148.2" y="536.9" textLength="16.4" lengthAdjust="spacingAndGlyphs">of</text>
<text x="1171.2" y="536.9" textLength="73.0" lengthAdjust="spacingAndGlyphs">Rayleigh</text>
<text x="1251.1" y="536.9" textLength="44.2" lengthAdjust="spacingAndGlyphs">wave</text>
<text x="1301.9" y="536.9" textLength="16.4" lengthAdjust="spacingAndGlyphs">at</text>
<text x="1325.6" y="536.9" textLength="37.4" lengthAdjust="spacingAndGlyphs">time</text>
<text x="1369.7" y="536.9" textLength="21.6" lengthAdjust="spacingAndGlyphs">T0</text>
<text x="1398.5" y="536.9" textLength="10.7" lengthAdjust="spacingAndGlyphs">+</text>
<text x="1416.4" y="536.9" textLength="41.0" lengthAdjust="spacingAndGlyphs">2324</text>
<text x="1464.6" y="536.9" textLength="8.6" lengthAdjust="spacingAndGlyphs">s</text>
</g>
<g font-size="10.2">
<g transform="translate(1045.7,606.4) rotate(10)"><text x="-12.6" y="3.7" font-size="10.2" textLength="25.2" lengthAdjust="spacingAndGlyphs">50°N</text></g>
<g transform="translate(1045.7,684.4) rotate(10)"><text x="-12.6" y="3.7" font-size="10.2" textLength="25.2" lengthAdjust="spacingAndGlyphs">48°N</text></g>
<g transform="translate(1045.7,761.3) rotate(10)"><text x="-12.6" y="3.7" font-size="10.2" textLength="25.2" lengthAdjust="spacingAndGlyphs">46°N</text></g>
<g transform="translate(1045.7,839.0) rotate(10)"><text x="-12.6" y="3.7" font-size="10.2" textLength="25.2" lengthAdjust="spacingAndGlyphs">44°N</text></g>
<g transform="translate(1045.7,916.2) rotate(10)"><text x="-12.6" y="3.7" font-size="10.2" textLength="25.2" lengthAdjust="spacingAndGlyphs">42°N</text></g>
<g transform="translate(1113.8,966.4) rotate(-81)"><text x="-10.6" y="3.7" font-size="10.2" textLength="21.2" lengthAdjust="spacingAndGlyphs">3°W</text></g>
<g transform="translate(1173.0,966.4) rotate(-83)"><text x="-10.6" y="3.7" font-size="10.2" textLength="21.2" lengthAdjust="spacingAndGlyphs">1°W</text></g>
<g transform="translate(1231.8,966.4) rotate(-85)"><text x="-8.8" y="3.7" font-size="10.2" textLength="17.7" lengthAdjust="spacingAndGlyphs">1°E</text></g>
<g transform="translate(1288.3,966.4) rotate(-86.5)"><text x="-8.8" y="3.7" font-size="10.2" textLength="17.7" lengthAdjust="spacingAndGlyphs">3°E</text></g>
<g transform="translate(1346.8,966.4) rotate(-88)"><text x="-8.8" y="3.7" font-size="10.2" textLength="17.7" lengthAdjust="spacingAndGlyphs">5°E</text></g>
<g transform="translate(1402.5,966.4) rotate(-89.5)"><text x="-8.8" y="3.7" font-size="10.2" textLength="17.7" lengthAdjust="spacingAndGlyphs">7°E</text></g>
<g transform="translate(1460.6,966.4) rotate(-91)"><text x="-8.8" y="3.7" font-size="10.2" textLength="17.7" lengthAdjust="spacingAndGlyphs">9°E</text></g>
</g>
<defs><linearGradient id="bwr" x1="0" y1="1" x2="0" y2="0"><stop offset="0" stop-color="#0000ff"/><stop offset="0.5" stop-color="#ffffff"/><stop offset="1" stop-color="#ff0000"/></linearGradient></defs>
<rect x="1490.5" y="644.5" width="10.3" height="201.6" fill="url(#bwr)" stroke="#000" stroke-width="1"/>
<g font-size="10.2">
<text x="1508.2" y="648.3" font-size="10.2" textLength="15.9" lengthAdjust="spacingAndGlyphs">1.5</text>
<text x="1508.2" y="681.9" font-size="10.2" textLength="15.9" lengthAdjust="spacingAndGlyphs">1.0</text>
<text x="1508.2" y="715.5" font-size="10.2" textLength="15.9" lengthAdjust="spacingAndGlyphs">0.5</text>
<text x="1508.2" y="749.1" font-size="10.2" textLength="15.9" lengthAdjust="spacingAndGlyphs">0.0</text>
<text x="1508.2" y="782.7" font-size="10.2" textLength="24.3" lengthAdjust="spacingAndGlyphs">−0.5</text>
<text x="1508.2" y="816.3" font-size="10.2" textLength="24.3" lengthAdjust="spacingAndGlyphs">−1.0</text>
<text x="1508.2" y="849.9" font-size="10.2" textLength="24.3" lengthAdjust="spacingAndGlyphs">−1.5</text>
<text x="1469.6" y="641.1" font-size="10.2" textLength="27.3" lengthAdjust="spacingAndGlyphs">1e−6</text>
</g>
<path d="M1500.8 644.5h3.5M1500.8 678.1h3.5M1500.8 711.7h3.5M1500.8 745.3h3.5M1500.8 778.9h3.5M1500.8 812.5h3.5M1500.8 846.1h3.5" stroke="#000" stroke-width="1"/>
<g transform="translate(1549.6,746.2) rotate(-90)"><text x="-90.8" y="0.0" font-size="12.4" font-weight="bold" textLength="181.5" lengthAdjust="spacingAndGlyphs">Wave Amplitude in µm/s</text></g></svg></body></html>
